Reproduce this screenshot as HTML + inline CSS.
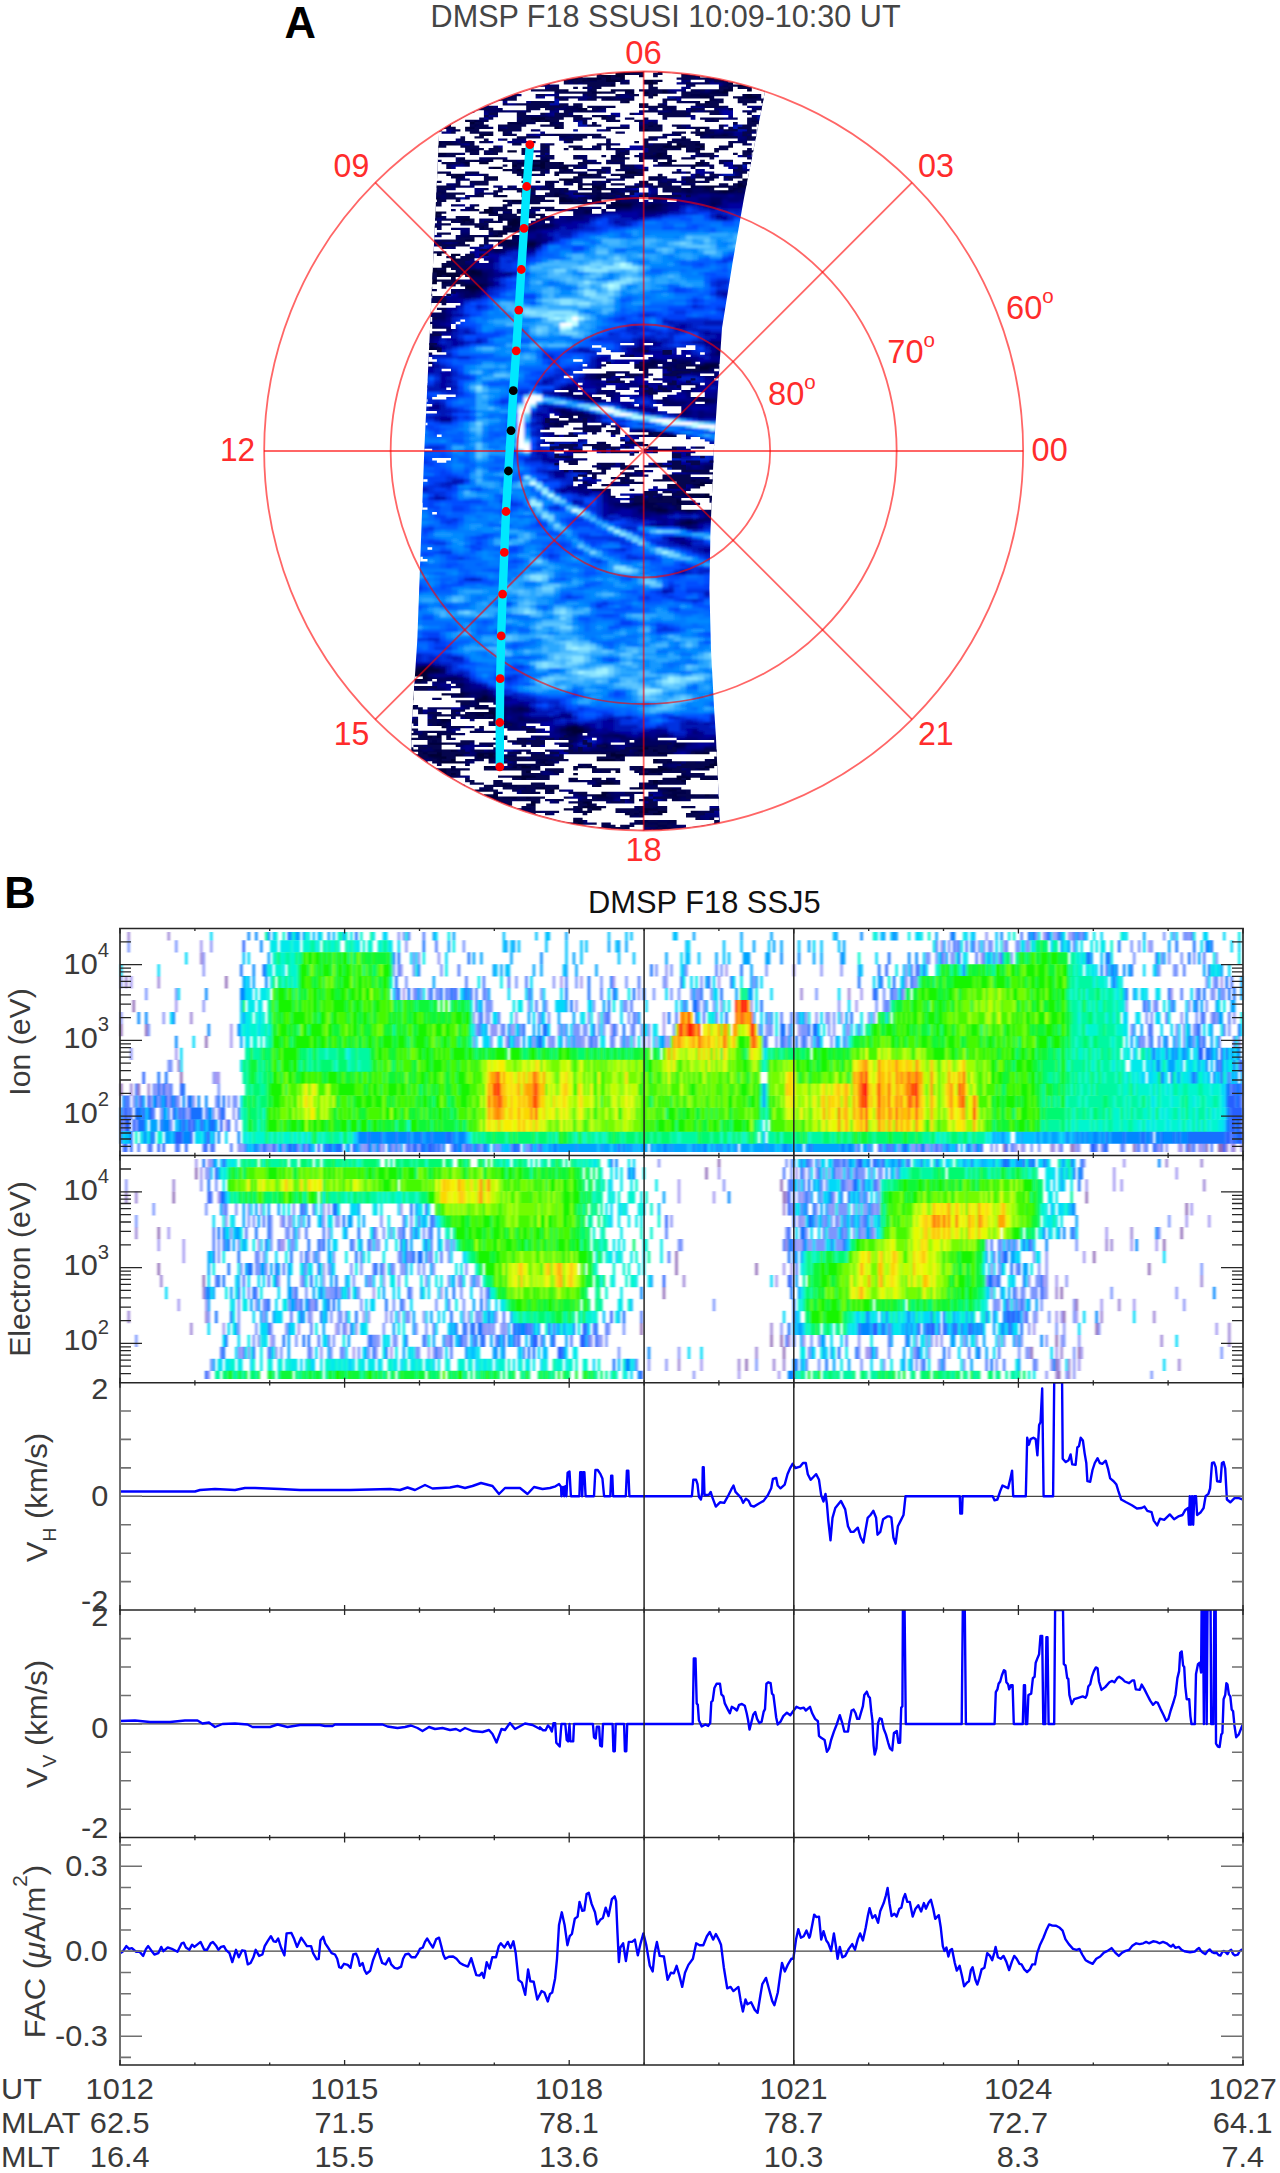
<!DOCTYPE html>
<html><head><meta charset="utf-8"><title>DMSP F18 SSUSI and SSJ5</title>
<style>html,body{margin:0;padding:0;background:#fff}svg{display:block}text{font-family:'Liberation Sans', sans-serif}</style>
</head><body>
<svg width="1280" height="2173" viewBox="0 0 1280 2173">
<rect width="1280" height="2173" fill="#fff"/>

<text x="284.4" y="38.4" font-size="43.5" fill="#000" font-weight="bold">A</text>
<text x="430.6" y="27.3" font-size="31.6" fill="#454545" textLength="470.0" lengthAdjust="spacingAndGlyphs">DMSP F18 SSUSI 10:09-10:30 UT</text>
<defs><clipPath id="swp"><path d="M440.5 60.0L440.5 100.0L437.0 180.0L424.3 450.0L417.3 640.0L412.0 720.0L410.0 800.0L409.0 840.0L721.0 840.0L719.6 818.0L716.0 738.0L714.0 707.0L711.0 650.0L709.4 588.0L710.5 530.0L714.0 447.0L722.0 328.0L733.0 260.0L744.0 198.0L765.5 89.0L772.0 60.0Z"/></clipPath><clipPath id="swc"><circle cx="643.65" cy="451.0" r="379.2"/></clipPath><filter id="swb" x="-5%" y="-5%" width="110%" height="110%"><feGaussianBlur stdDeviation="1.6 1.1"/></filter></defs>
<g clip-path="url(#swc)"><g clip-path="url(#swp)">
<g filter="url(#swb)"><g transform="translate(404.0 68.0) scale(6.0 3.0)" fill="none" stroke-width="1.12">
<path stroke="#000034" d="M31 0.5h9M41 0.5h3M28 1.5h12M42 1.5h2M50 1.5h2M26 2.5h12M39 2.5h5M49 2.5h5M26 3.5h11M40 3.5h4M53 3.5h2M29 4.5h1M33 4.5h3M40 4.5h3M55 4.5h2M34 5.5h2M40 5.5h2M54 5.5h4M27 6.5h1M33 6.5h2M42 6.5h1M55 6.5h6M27 7.5h2M31 7.5h4M36 7.5h2M41 7.5h3M52 7.5h3M57 7.5h4M16 8.5h1M32 8.5h3M38 8.5h6M53 8.5h1M57 8.5h3M15 9.5h3M40 9.5h3M49 9.5h2M57 9.5h2M50 10.5h1M53 10.5h3M57 10.5h1M34 11.5h1M37 11.5h4M49 11.5h6M60 11.5h1M11 12.5h2M29 12.5h2M37 12.5h7M50 12.5h2M11 13.5h2M29 13.5h4M38 13.5h1M50 15.5h2M21 16.5h3M29 16.5h5M8 17.5h4M21 17.5h6M57 17.5h1M9 18.5h4M17 18.5h3M23 18.5h1M48 18.5h1M58 18.5h1M8 19.5h3M25 19.5h2M40 19.5h3M49 19.5h1M9 20.5h3M15 20.5h1M25 20.5h1M40 20.5h2M49 20.5h2M10 21.5h1M14 21.5h3M39 21.5h4M47 21.5h3M10 22.5h5M26 22.5h1M36 22.5h6M53 22.5h1M59 22.5h1M10 23.5h4M36 23.5h2M51 23.5h2M5 24.5h1M29 24.5h2M5 25.5h1M7 25.5h1M28 25.5h4M43 25.5h1M45 25.5h7M5 26.5h5M19 26.5h1M28 26.5h2M43 26.5h9M54 26.5h2M5 27.5h7M16 27.5h5M28 27.5h1M43 27.5h1M49 27.5h3M54 27.5h3M5 28.5h3M11 28.5h1M17 28.5h3M36 28.5h1M42 28.5h1M50 28.5h2M55 28.5h2M32 29.5h1M36 29.5h2M41 29.5h2M9 30.5h2M15 30.5h1M45 30.5h1M10 31.5h8M20 31.5h6M43 31.5h7M11 32.5h16M35 32.5h1M48 32.5h1M11 33.5h5M17 33.5h8M26 33.5h2M12 34.5h10M37 34.5h2M5 35.5h1M7 35.5h3M14 35.5h7M25 35.5h1M29 35.5h3M37 35.5h3M57 35.5h1M8 36.5h1M15 36.5h3M26 36.5h5M38 36.5h3M56 36.5h2M16 37.5h4M26 37.5h2M51 37.5h2M56 37.5h2M4 38.5h2M14 38.5h1M29 38.5h1M34 38.5h1M40 38.5h2M55 38.5h2M4 39.5h1M28 39.5h7M46 39.5h2M50 39.5h2M54 39.5h3M29 40.5h5M51 40.5h4M18 41.5h2M53 41.5h1M14 42.5h1M16 42.5h5M24 42.5h2M4 43.5h2M13 43.5h9M26 43.5h1M32 43.5h1M4 44.5h2M16 44.5h6M25 44.5h4M4 45.5h2M16 45.5h1M19 45.5h4M26 45.5h3M35 45.5h3M12 46.5h3M19 46.5h2M4 47.5h2M11 47.5h4M4 48.5h4M11 48.5h5M18 48.5h2M4 49.5h2M10 49.5h1M15 49.5h1M18 49.5h2M22 49.5h1M10 50.5h2M18 50.5h1M10 51.5h1M17 51.5h3M14 52.5h5M12 53.5h3M16 53.5h2M15 55.5h2M14 56.5h4M10 57.5h3M15 57.5h2M9 58.5h3M20 58.5h2M6 61.5h3M5 62.5h5M5 63.5h5M5 64.5h2M5 65.5h1M5 66.5h3M4 67.5h4M11 67.5h1M4 68.5h5M11 68.5h2M4 69.5h6M4 70.5h3M4 71.5h3M4 72.5h1M10 72.5h3M10 73.5h3M3 85.5h1M3 86.5h2M3 93.5h3M3 94.5h2M46 99.5h6M33 100.5h6M48 100.5h3M33 101.5h2M33 102.5h1M47 106.5h1M27 117.5h1M40 121.5h1M40 122.5h1M44 122.5h1M40 125.5h2M42 137.5h3M48 137.5h1M48 138.5h4M49 139.5h3M49 140.5h3M47 141.5h5M47 142.5h5M43 143.5h2M50 143.5h1M45 144.5h2M38 145.5h1M46 145.5h1M50 145.5h1M46 146.5h2M50 146.5h2M42 147.5h2M47 147.5h1M47 151.5h1M2 200.5h4M1 201.5h3M1 202.5h3M2 203.5h2M2 204.5h1M1 207.5h2M1 208.5h3M5 208.5h5M1 209.5h2M6 209.5h1M13 209.5h1M1 210.5h3M12 210.5h2M1 211.5h1M0 212.5h1M4 212.5h2M0 213.5h2M11 213.5h1M0 214.5h1M14 214.5h1M12 215.5h4M6 216.5h1M13 216.5h2M6 217.5h2M5 219.5h2M28 219.5h1M5 220.5h2M27 220.5h3M0 221.5h1M28 221.5h2M0 222.5h1M4 222.5h2M16 222.5h3M0 223.5h2M4 223.5h3M16 223.5h3M4 225.5h5M0 226.5h1M5 226.5h3M39 226.5h2M7 227.5h1M39 227.5h3M0 228.5h2M3 228.5h6M12 228.5h3M34 228.5h3M40 228.5h4M48 228.5h3M4 229.5h6M12 229.5h3M17 229.5h2M33 229.5h4M39 229.5h7M48 229.5h4M6 230.5h4M31 230.5h4M38 230.5h8M6 231.5h4M23 231.5h1M31 231.5h5M37 231.5h5M51 231.5h2M13 232.5h1M19 232.5h2M23 232.5h1M31 232.5h6M38 232.5h2M41 232.5h2M49 232.5h4M6 233.5h2M10 233.5h2M13 233.5h2M18 233.5h4M25 233.5h6M33 233.5h3M40 233.5h4M49 233.5h3M5 234.5h3M19 234.5h3M25 234.5h6M34 234.5h2M41 234.5h4M51 234.5h1M7 235.5h2M17 235.5h4M28 235.5h3M34 235.5h3M40 235.5h2M45 235.5h1M18 236.5h5M28 236.5h5M40 236.5h3M45 236.5h3M19 237.5h2M28 237.5h1M33 237.5h1M41 237.5h3M45 237.5h6M18 238.5h4M33 238.5h2M36 238.5h2M41 238.5h2M49 238.5h3M16 239.5h1M19 239.5h7M33 239.5h7M23 240.5h3M32 240.5h3M39 240.5h1M44 240.5h2M10 241.5h5M23 241.5h2M31 241.5h3M48 241.5h3M11 242.5h5M17 242.5h2M32 242.5h2M45 242.5h1M49 242.5h2M12 243.5h3M18 243.5h3M13 244.5h2M20 244.5h2M30 244.5h1M14 245.5h3M21 245.5h1M25 245.5h6M15 246.5h3M20 246.5h2M24 246.5h4M29 246.5h4M40 246.5h1M45 246.5h3M17 247.5h1M25 247.5h2M30 247.5h4M40 247.5h4M46 247.5h3M31 248.5h5M37 248.5h2M40 248.5h5M20 249.5h2M26 249.5h1M28 249.5h1M31 249.5h5M46 249.5h1M21 250.5h1M28 250.5h1M34 250.5h2M45 250.5h2M23 251.5h7M48 251.5h3M26 252.5h4M35 252.5h1M49 252.5h3M27 253.5h3M49 253.5h3M32 254.5h2M44 254.5h1M49 254.5h1M40 255.5h1"/>
<path stroke="#000049" d="M40 0.5h1M44 0.5h4M40 1.5h2M44 1.5h4M49 1.5h1M25 2.5h1M38 2.5h1M44 2.5h5M37 3.5h1M39 3.5h1M44 3.5h2M49 3.5h4M55 3.5h1M22 4.5h1M28 4.5h1M30 4.5h3M54 4.5h1M33 5.5h1M42 5.5h1M20 6.5h1M26 6.5h1M32 6.5h1M35 6.5h3M41 6.5h1M48 6.5h2M53 6.5h2M25 7.5h2M35 7.5h1M38 7.5h3M51 7.5h1M17 8.5h1M26 8.5h3M31 8.5h1M35 8.5h1M37 8.5h1M44 8.5h1M47 8.5h6M54 8.5h1M56 8.5h1M60 8.5h1M18 9.5h1M27 9.5h1M33 9.5h2M39 9.5h1M46 9.5h3M51 9.5h1M54 9.5h3M15 10.5h1M19 10.5h1M32 10.5h3M37 10.5h5M49 10.5h1M51 10.5h1M56 10.5h1M58 10.5h1M28 11.5h2M33 11.5h1M35 11.5h2M41 11.5h1M46 11.5h3M55 11.5h5M28 12.5h1M31 12.5h1M34 12.5h3M44 12.5h1M49 12.5h1M52 12.5h3M13 13.5h1M27 13.5h2M33 13.5h3M37 13.5h1M39 13.5h1M42 13.5h5M29 14.5h2M50 14.5h2M32 15.5h1M20 16.5h1M24 16.5h5M51 16.5h1M7 17.5h1M12 17.5h1M17 17.5h1M20 17.5h1M27 17.5h1M32 17.5h4M38 17.5h1M51 17.5h1M56 17.5h1M58 17.5h1M7 18.5h2M13 18.5h1M16 18.5h1M20 18.5h1M22 18.5h1M24 18.5h1M34 18.5h2M42 18.5h1M47 18.5h1M49 18.5h1M57 18.5h1M59 18.5h1M7 19.5h1M11 19.5h1M19 19.5h2M22 19.5h3M27 19.5h1M39 19.5h1M48 19.5h1M50 19.5h1M58 19.5h2M8 20.5h1M12 20.5h1M16 20.5h1M19 20.5h2M24 20.5h1M26 20.5h1M39 20.5h1M42 20.5h1M48 20.5h1M9 21.5h1M11 21.5h3M25 21.5h2M35 21.5h1M43 21.5h4M50 21.5h1M59 21.5h1M9 22.5h1M15 22.5h3M25 22.5h1M35 22.5h1M42 22.5h1M48 22.5h2M51 22.5h2M58 22.5h1M9 23.5h1M14 23.5h1M18 23.5h2M28 23.5h1M35 23.5h1M38 23.5h2M45 23.5h2M53 23.5h1M58 23.5h2M6 24.5h2M11 24.5h1M28 24.5h1M31 24.5h2M43 24.5h1M46 24.5h1M51 24.5h1M6 25.5h1M8 25.5h1M32 25.5h1M44 25.5h1M52 25.5h1M54 25.5h3M13 26.5h1M18 26.5h1M20 26.5h1M27 26.5h1M30 26.5h1M33 26.5h1M52 26.5h2M56 26.5h1M12 27.5h4M24 27.5h2M27 27.5h1M29 27.5h1M42 27.5h1M44 27.5h1M46 27.5h3M52 27.5h2M57 27.5h2M10 28.5h1M16 28.5h1M31 28.5h2M35 28.5h1M37 28.5h1M43 28.5h1M49 28.5h1M54 28.5h1M57 28.5h1M5 29.5h2M10 29.5h2M31 29.5h1M33 29.5h3M38 29.5h1M40 29.5h1M43 29.5h2M50 29.5h1M11 30.5h1M14 30.5h1M16 30.5h1M21 30.5h5M37 30.5h2M42 30.5h3M46 30.5h4M9 31.5h1M18 31.5h2M26 31.5h1M42 31.5h1M5 32.5h2M10 32.5h1M27 32.5h1M34 32.5h1M36 32.5h1M43 32.5h3M49 32.5h1M51 32.5h2M16 33.5h1M25 33.5h1M47 33.5h2M5 34.5h2M11 34.5h1M25 34.5h2M36 34.5h1M56 34.5h2M6 35.5h1M21 35.5h1M26 35.5h3M36 35.5h1M40 35.5h1M42 35.5h1M56 35.5h1M5 36.5h1M7 36.5h1M9 36.5h1M14 36.5h1M18 36.5h2M24 36.5h2M31 36.5h1M37 36.5h1M41 36.5h3M50 36.5h2M4 37.5h2M13 37.5h3M20 37.5h1M23 37.5h3M28 37.5h1M38 37.5h4M50 37.5h1M55 37.5h1M13 38.5h1M19 38.5h1M23 38.5h2M28 38.5h1M30 38.5h1M33 38.5h1M35 38.5h1M42 38.5h2M49 38.5h3M54 38.5h1M57 38.5h1M5 39.5h1M13 39.5h1M24 39.5h1M48 39.5h2M52 39.5h2M57 39.5h1M16 40.5h1M18 40.5h3M24 40.5h2M28 40.5h1M34 40.5h1M46 40.5h2M50 40.5h1M55 40.5h1M5 41.5h3M16 41.5h2M20 41.5h1M25 41.5h1M31 41.5h5M47 41.5h1M52 41.5h1M54 41.5h1M12 42.5h2M15 42.5h1M21 42.5h1M26 42.5h1M32 42.5h2M42 42.5h1M12 43.5h1M22 43.5h1M25 43.5h1M27 43.5h1M31 43.5h1M33 43.5h2M6 44.5h3M12 44.5h1M15 44.5h1M22 44.5h1M24 44.5h1M29 44.5h7M7 45.5h2M12 45.5h4M17 45.5h2M25 45.5h1M29 45.5h1M34 45.5h1M41 45.5h2M51 45.5h1M4 46.5h1M11 46.5h1M15 46.5h2M18 46.5h1M21 46.5h1M29 46.5h1M34 46.5h4M40 46.5h2M6 47.5h2M19 47.5h1M30 47.5h3M8 48.5h3M16 48.5h1M22 48.5h2M30 48.5h1M6 49.5h4M11 49.5h4M16 49.5h1M21 49.5h1M9 50.5h1M15 50.5h3M19 50.5h1M22 50.5h2M9 51.5h1M11 51.5h1M16 51.5h1M8 52.5h2M13 52.5h1M19 52.5h1M23 52.5h2M5 53.5h1M15 53.5h1M18 53.5h1M20 53.5h2M15 54.5h4M11 55.5h1M17 55.5h2M4 56.5h1M10 56.5h4M18 56.5h1M4 57.5h1M13 57.5h2M17 57.5h1M12 58.5h1M16 58.5h4M9 59.5h2M17 59.5h1M20 59.5h2M9 60.5h1M15 60.5h1M4 61.5h2M9 61.5h1M4 62.5h1M4 63.5h1M4 64.5h1M7 64.5h2M4 65.5h1M6 65.5h2M4 66.5h1M8 66.5h1M8 67.5h1M10 67.5h1M12 67.5h1M9 68.5h2M10 69.5h3M7 70.5h2M7 71.5h2M5 72.5h1M9 72.5h1M13 72.5h1M4 73.5h1M4 74.5h4M11 74.5h1M4 75.5h1M4 78.5h1M5 80.5h1M3 83.5h1M3 84.5h1M3 87.5h2M3 88.5h1M3 89.5h1M3 90.5h1M4 92.5h1M41 97.5h1M40 98.5h3M46 98.5h1M50 98.5h3M34 99.5h1M37 99.5h5M45 99.5h1M52 99.5h2M39 100.5h2M47 100.5h1M53 100.5h1M37 101.5h1M45 101.5h1M32 102.5h1M40 102.5h1M32 103.5h1M47 105.5h1M41 108.5h2M32 109.5h1M49 110.5h2M50 111.5h1M26 114.5h1M27 115.5h3M28 116.5h1M26 117.5h1M28 117.5h1M25 118.5h1M32 118.5h1M25 119.5h1M32 119.5h2M39 121.5h1M41 121.5h1M39 122.5h1M41 122.5h1M43 122.5h1M45 122.5h1M43 123.5h3M33 124.5h1M32 125.5h2M40 126.5h2M29 132.5h2M32 133.5h2M51 133.5h1M32 134.5h2M33 135.5h1M36 135.5h2M34 136.5h6M42 136.5h2M38 137.5h2M47 137.5h1M49 137.5h1M38 138.5h2M43 138.5h1M33 139.5h1M48 140.5h1M46 141.5h1M43 142.5h1M41 143.5h2M45 143.5h1M49 143.5h1M51 143.5h1M39 144.5h3M44 144.5h1M36 145.5h2M39 145.5h3M45 145.5h1M47 145.5h1M49 145.5h1M51 145.5h1M40 146.5h3M48 146.5h2M41 147.5h1M46 147.5h1M48 147.5h1M51 147.5h1M51 148.5h1M46 151.5h1M48 151.5h1M3 199.5h2M4 201.5h2M1 203.5h1M4 203.5h1M7 203.5h2M3 204.5h1M9 205.5h1M5 207.5h1M4 208.5h1M10 208.5h1M3 209.5h1M5 209.5h1M7 209.5h1M9 209.5h1M7 210.5h3M14 210.5h1M2 211.5h3M7 211.5h4M12 211.5h2M1 212.5h3M6 212.5h1M12 212.5h3M12 213.5h4M19 213.5h1M1 214.5h1M10 214.5h4M15 214.5h1M0 215.5h1M5 215.5h2M11 215.5h1M5 216.5h1M7 216.5h1M12 216.5h1M15 216.5h1M13 217.5h1M5 218.5h2M15 218.5h3M4 219.5h1M15 219.5h1M27 219.5h1M4 220.5h1M15 220.5h2M26 220.5h1M4 221.5h2M14 221.5h2M27 221.5h1M1 222.5h1M3 222.5h1M6 222.5h3M14 222.5h2M27 222.5h2M35 222.5h1M2 223.5h2M7 223.5h1M15 223.5h1M19 223.5h1M4 224.5h3M12 224.5h2M27 224.5h1M0 225.5h1M3 225.5h1M9 225.5h1M12 225.5h4M33 225.5h1M45 225.5h2M1 226.5h1M8 226.5h1M27 226.5h1M33 226.5h1M38 226.5h1M41 226.5h3M45 226.5h1M0 227.5h3M5 227.5h2M8 227.5h1M42 227.5h1M50 227.5h1M2 228.5h1M9 228.5h1M15 228.5h1M31 228.5h3M39 228.5h1M44 228.5h1M51 228.5h1M15 229.5h2M19 229.5h1M31 229.5h2M38 229.5h1M47 229.5h1M52 229.5h1M5 230.5h1M11 230.5h4M22 230.5h2M30 230.5h1M35 230.5h3M46 230.5h3M51 230.5h2M4 231.5h2M22 231.5h1M24 231.5h1M30 231.5h1M36 231.5h1M42 231.5h3M50 231.5h1M6 232.5h3M10 232.5h3M14 232.5h1M18 232.5h1M21 232.5h2M24 232.5h1M28 232.5h3M37 232.5h1M40 232.5h1M48 232.5h1M8 233.5h2M12 233.5h1M15 233.5h1M22 233.5h3M31 233.5h2M38 233.5h2M44 233.5h1M48 233.5h1M52 233.5h1M4 234.5h1M8 234.5h4M14 234.5h1M17 234.5h2M31 234.5h1M33 234.5h1M36 234.5h5M45 234.5h1M50 234.5h1M52 234.5h1M5 235.5h2M9 235.5h1M13 235.5h4M21 235.5h1M27 235.5h1M31 235.5h1M33 235.5h1M37 235.5h1M39 235.5h1M42 235.5h1M44 235.5h1M46 235.5h1M50 235.5h3M7 236.5h1M13 236.5h3M23 236.5h1M27 236.5h1M33 236.5h1M39 236.5h1M44 236.5h1M48 236.5h4M14 237.5h2M21 237.5h1M27 237.5h1M29 237.5h1M32 237.5h1M34 237.5h1M40 237.5h1M44 237.5h1M51 237.5h1M7 238.5h1M15 238.5h3M22 238.5h4M32 238.5h1M35 238.5h1M38 238.5h1M40 238.5h1M43 238.5h1M46 238.5h3M8 239.5h1M15 239.5h1M17 239.5h2M32 239.5h1M50 239.5h2M12 240.5h3M22 240.5h1M29 240.5h3M35 240.5h2M38 240.5h1M40 240.5h1M43 240.5h1M46 240.5h1M15 241.5h1M21 241.5h2M25 241.5h1M29 241.5h2M39 241.5h1M44 241.5h4M51 241.5h1M16 242.5h1M19 242.5h6M31 242.5h1M44 242.5h1M46 242.5h3M51 242.5h1M15 243.5h3M21 243.5h4M32 243.5h3M38 243.5h1M44 243.5h2M15 244.5h1M22 244.5h1M29 244.5h1M31 244.5h1M38 244.5h1M44 244.5h2M17 245.5h1M20 245.5h1M22 245.5h1M31 245.5h1M43 245.5h1M46 245.5h1M18 246.5h2M22 246.5h1M28 246.5h1M33 246.5h1M39 246.5h1M41 246.5h2M48 246.5h1M24 247.5h1M27 247.5h1M29 247.5h1M34 247.5h2M39 247.5h1M44 247.5h2M18 248.5h4M26 248.5h5M36 248.5h1M39 248.5h1M45 248.5h4M22 249.5h4M27 249.5h1M29 249.5h2M36 249.5h2M41 249.5h2M45 249.5h1M22 250.5h6M29 250.5h1M32 250.5h2M36 250.5h1M40 250.5h2M44 250.5h1M32 251.5h2M39 251.5h9M51 251.5h1M25 252.5h1M30 252.5h1M33 252.5h2M36 252.5h4M42 252.5h2M48 252.5h1M52 252.5h1M32 253.5h6M42 253.5h3M52 253.5h1M30 254.5h2M34 254.5h4M42 254.5h2M39 255.5h1M41 255.5h1"/>
<path stroke="#00005f" d="M48 0.5h1M48 1.5h1M23 3.5h1M25 3.5h1M38 3.5h1M46 3.5h1M23 4.5h1M26 4.5h2M36 4.5h1M39 4.5h1M43 4.5h1M48 4.5h3M53 4.5h1M57 4.5h1M21 5.5h7M36 5.5h1M39 5.5h1M43 5.5h1M47 5.5h3M53 5.5h1M58 5.5h2M19 6.5h1M21 6.5h1M25 6.5h1M28 6.5h1M40 6.5h1M43 6.5h1M50 6.5h1M52 6.5h1M17 7.5h3M24 7.5h1M29 7.5h2M47 7.5h3M55 7.5h2M18 8.5h1M25 8.5h1M29 8.5h2M36 8.5h1M45 8.5h2M55 8.5h1M19 9.5h1M26 9.5h1M28 9.5h1M31 9.5h2M38 9.5h1M43 9.5h1M52 9.5h2M59 9.5h1M14 10.5h1M16 10.5h1M18 10.5h1M20 10.5h1M28 10.5h1M31 10.5h1M35 10.5h2M42 10.5h1M47 10.5h2M52 10.5h1M59 10.5h2M19 11.5h1M30 11.5h3M42 11.5h1M19 12.5h1M27 12.5h1M32 12.5h2M45 12.5h2M48 12.5h1M55 12.5h1M14 13.5h6M24 13.5h3M36 13.5h1M40 13.5h2M51 13.5h1M14 14.5h3M18 14.5h2M23 14.5h1M26 14.5h3M31 14.5h1M44 14.5h3M58 14.5h1M15 15.5h6M28 15.5h2M31 15.5h1M33 15.5h1M42 15.5h8M52 15.5h1M8 16.5h3M16 16.5h2M19 16.5h1M37 16.5h2M45 16.5h2M50 16.5h1M52 16.5h1M55 16.5h3M13 17.5h1M18 17.5h2M28 17.5h1M31 17.5h1M36 17.5h2M39 17.5h1M50 17.5h1M52 17.5h2M55 17.5h1M59 17.5h1M6 18.5h1M14 18.5h1M21 18.5h1M25 18.5h3M33 18.5h1M36 18.5h3M41 18.5h1M46 18.5h1M50 18.5h3M5 19.5h2M12 19.5h4M18 19.5h1M21 19.5h1M33 19.5h3M45 19.5h1M51 19.5h1M13 20.5h2M18 20.5h1M21 20.5h3M27 20.5h1M34 20.5h2M51 20.5h1M59 20.5h1M5 21.5h1M17 21.5h1M19 21.5h3M24 21.5h1M34 21.5h1M36 21.5h3M53 21.5h2M8 22.5h1M18 22.5h2M24 22.5h1M27 22.5h1M43 22.5h1M45 22.5h3M50 22.5h1M54 22.5h1M57 22.5h1M15 23.5h1M17 23.5h1M20 23.5h1M26 23.5h2M29 23.5h1M33 23.5h2M40 23.5h1M43 23.5h2M47 23.5h4M54 23.5h1M57 23.5h1M8 24.5h1M10 24.5h1M12 24.5h1M27 24.5h1M33 24.5h3M39 24.5h2M42 24.5h1M44 24.5h2M47 24.5h4M52 24.5h1M54 24.5h4M59 24.5h1M13 25.5h1M18 25.5h2M23 25.5h2M27 25.5h1M33 25.5h2M42 25.5h1M53 25.5h1M57 25.5h1M10 26.5h3M14 26.5h1M17 26.5h1M23 26.5h2M26 26.5h1M31 26.5h2M34 26.5h1M42 26.5h1M57 26.5h2M21 27.5h1M26 27.5h1M30 27.5h3M45 27.5h1M8 28.5h1M12 28.5h1M15 28.5h1M20 28.5h1M28 28.5h2M33 28.5h2M38 28.5h1M41 28.5h1M44 28.5h1M47 28.5h2M52 28.5h2M58 28.5h1M7 29.5h1M9 29.5h1M12 29.5h1M14 29.5h2M21 29.5h3M27 29.5h4M39 29.5h1M45 29.5h1M49 29.5h1M5 30.5h2M8 30.5h1M12 30.5h2M20 30.5h1M26 30.5h4M34 30.5h3M39 30.5h1M41 30.5h1M50 30.5h1M5 31.5h2M27 31.5h1M29 31.5h8M38 31.5h2M50 31.5h1M7 32.5h1M28 32.5h4M42 32.5h1M46 32.5h2M50 32.5h1M6 33.5h1M28 33.5h1M33 33.5h6M43 33.5h1M46 33.5h1M7 34.5h1M10 34.5h1M22 34.5h1M24 34.5h1M27 34.5h5M39 34.5h1M41 34.5h2M55 34.5h1M58 34.5h1M10 35.5h1M13 35.5h1M22 35.5h1M24 35.5h1M41 35.5h1M43 35.5h2M51 35.5h1M6 36.5h1M13 36.5h1M20 36.5h1M23 36.5h1M36 36.5h1M44 36.5h1M49 36.5h1M52 36.5h1M6 37.5h7M22 37.5h1M29 37.5h3M34 37.5h4M42 37.5h1M53 37.5h1M6 38.5h1M12 38.5h1M15 38.5h1M18 38.5h1M20 38.5h3M25 38.5h3M31 38.5h2M36 38.5h4M44 38.5h5M52 38.5h2M6 39.5h7M14 39.5h1M23 39.5h1M25 39.5h3M35 39.5h1M41 39.5h1M44 39.5h2M4 40.5h4M15 40.5h1M17 40.5h1M23 40.5h1M26 40.5h1M35 40.5h2M45 40.5h1M48 40.5h2M56 40.5h1M4 41.5h1M8 41.5h3M15 41.5h1M24 41.5h1M26 41.5h1M30 41.5h1M46 41.5h1M48 41.5h4M55 41.5h2M4 42.5h4M11 42.5h1M22 42.5h2M31 42.5h1M41 42.5h1M6 43.5h2M11 43.5h1M23 43.5h2M28 43.5h1M35 43.5h1M41 43.5h2M51 43.5h2M13 44.5h2M23 44.5h1M36 44.5h3M51 44.5h2M6 45.5h1M23 45.5h2M30 45.5h1M33 45.5h1M38 45.5h1M40 45.5h1M43 45.5h1M52 45.5h1M5 46.5h1M17 46.5h1M25 46.5h4M30 46.5h1M33 46.5h1M42 46.5h1M8 47.5h3M18 47.5h1M20 47.5h1M24 47.5h2M28 47.5h2M33 47.5h3M40 47.5h3M17 48.5h1M20 48.5h2M24 48.5h1M27 48.5h3M31 48.5h1M17 49.5h1M20 49.5h1M23 49.5h1M4 50.5h1M12 50.5h1M14 50.5h1M21 50.5h1M24 50.5h1M4 51.5h1M8 51.5h1M12 51.5h1M15 51.5h1M20 51.5h1M4 52.5h4M10 52.5h3M20 52.5h3M6 53.5h3M11 53.5h1M19 53.5h1M22 53.5h2M7 54.5h2M11 54.5h1M19 54.5h2M7 55.5h4M12 55.5h1M14 55.5h1M19 55.5h1M8 56.5h2M5 57.5h2M9 57.5h1M18 57.5h4M5 58.5h2M8 58.5h1M13 58.5h1M15 58.5h1M22 58.5h1M16 59.5h1M18 59.5h2M4 60.5h5M10 60.5h1M14 60.5h1M16 60.5h1M15 61.5h1M10 62.5h1M10 63.5h1M9 64.5h1M8 65.5h3M9 66.5h2M9 67.5h1M13 68.5h1M13 69.5h1M9 70.5h1M11 70.5h3M9 71.5h5M6 72.5h3M5 73.5h3M9 73.5h1M8 74.5h3M12 74.5h1M5 75.5h1M10 75.5h2M4 76.5h3M10 76.5h1M4 77.5h2M5 78.5h2M5 79.5h1M4 80.5h1M4 81.5h3M3 82.5h4M4 83.5h3M4 85.5h1M5 86.5h2M5 87.5h3M4 88.5h2M4 89.5h1M3 91.5h1M51 91.5h2M3 92.5h1M39 93.5h1M5 94.5h1M39 94.5h1M52 94.5h1M52 95.5h1M42 97.5h1M45 97.5h3M3 98.5h1M43 98.5h3M47 98.5h1M53 98.5h1M3 99.5h1M33 99.5h1M35 99.5h2M44 99.5h1M32 100.5h1M41 100.5h1M45 100.5h2M51 100.5h2M32 101.5h1M35 101.5h2M38 101.5h4M44 101.5h1M46 101.5h1M48 101.5h3M31 102.5h1M34 102.5h1M39 102.5h1M41 102.5h1M44 102.5h2M50 102.5h2M31 103.5h1M33 103.5h1M46 105.5h1M48 105.5h1M46 106.5h1M48 106.5h1M27 107.5h1M33 107.5h4M41 107.5h1M47 107.5h1M27 108.5h2M32 108.5h2M40 108.5h1M43 108.5h1M28 109.5h4M33 109.5h2M42 109.5h2M48 109.5h2M30 110.5h4M42 110.5h2M48 110.5h1M51 110.5h1M43 111.5h4M49 111.5h1M51 111.5h1M44 112.5h2M27 114.5h1M46 114.5h1M26 115.5h1M30 115.5h1M46 115.5h1M52 115.5h1M27 116.5h1M29 116.5h2M25 117.5h1M24 118.5h1M26 118.5h2M24 119.5h1M26 119.5h1M34 119.5h1M25 120.5h3M25 121.5h2M38 121.5h1M42 122.5h1M42 123.5h1M46 123.5h1M32 124.5h1M34 124.5h1M40 124.5h4M45 124.5h2M34 125.5h1M39 125.5h1M42 125.5h1M29 129.5h6M28 130.5h1M31 130.5h1M28 131.5h1M37 131.5h2M28 132.5h1M31 132.5h1M50 132.5h2M30 133.5h2M34 133.5h1M40 133.5h2M47 133.5h1M50 133.5h1M52 133.5h1M34 134.5h3M50 134.5h2M32 135.5h1M34 135.5h2M38 135.5h1M40 135.5h1M43 135.5h2M49 135.5h1M33 136.5h1M44 136.5h1M35 137.5h1M37 137.5h1M45 137.5h1M50 137.5h2M37 138.5h1M40 138.5h3M44 138.5h1M47 138.5h1M32 139.5h1M34 139.5h1M48 139.5h1M33 140.5h2M47 140.5h1M34 141.5h1M43 141.5h3M34 142.5h2M42 142.5h1M44 142.5h1M46 142.5h1M40 143.5h1M46 143.5h1M48 143.5h1M38 144.5h1M42 144.5h2M47 144.5h1M50 144.5h2M35 145.5h1M42 145.5h3M48 145.5h1M37 146.5h1M43 146.5h1M45 146.5h1M39 147.5h2M44 147.5h2M50 147.5h1M42 148.5h2M50 148.5h1M51 149.5h1M47 150.5h1M49 150.5h2M46 152.5h2M2 199.5h1M1 200.5h1M6 200.5h1M6 201.5h1M5 203.5h2M9 203.5h1M1 204.5h1M4 204.5h3M2 205.5h1M8 205.5h1M9 206.5h1M3 207.5h1M6 207.5h1M9 207.5h1M13 207.5h1M11 208.5h3M4 209.5h1M8 209.5h1M10 209.5h1M12 209.5h1M14 209.5h1M4 210.5h1M6 210.5h1M10 210.5h2M15 210.5h1M5 211.5h2M11 211.5h1M14 211.5h1M7 212.5h5M15 212.5h1M2 213.5h1M4 213.5h2M10 213.5h1M16 213.5h3M20 213.5h1M16 214.5h1M18 214.5h3M1 215.5h4M7 215.5h4M16 215.5h1M2 216.5h1M8 216.5h1M16 216.5h1M19 216.5h1M5 217.5h1M8 217.5h1M12 217.5h1M14 217.5h3M19 217.5h3M1 218.5h1M7 218.5h1M13 218.5h2M18 218.5h1M7 219.5h1M11 219.5h4M16 219.5h3M29 219.5h1M0 220.5h4M7 220.5h1M11 220.5h1M17 220.5h5M30 220.5h1M1 221.5h1M3 221.5h1M6 221.5h6M13 221.5h1M16 221.5h1M26 221.5h1M30 221.5h1M2 222.5h1M9 222.5h1M13 222.5h1M19 222.5h1M21 222.5h2M33 222.5h2M36 222.5h1M43 222.5h1M8 223.5h1M12 223.5h3M20 223.5h1M22 223.5h2M26 223.5h3M36 223.5h2M39 223.5h2M42 223.5h1M0 224.5h4M7 224.5h1M14 224.5h4M26 224.5h1M28 224.5h1M37 224.5h7M45 224.5h3M1 225.5h2M16 225.5h1M19 225.5h2M26 225.5h2M34 225.5h1M37 225.5h8M2 226.5h1M4 226.5h1M14 226.5h2M26 226.5h1M32 226.5h1M34 226.5h1M44 226.5h1M46 226.5h1M50 226.5h3M3 227.5h2M11 227.5h2M14 227.5h1M19 227.5h4M28 227.5h1M31 227.5h5M38 227.5h1M43 227.5h2M48 227.5h2M51 227.5h1M19 228.5h3M30 228.5h1M37 228.5h2M3 229.5h1M10 229.5h2M20 229.5h5M29 229.5h2M37 229.5h1M46 229.5h1M4 230.5h1M10 230.5h1M15 230.5h1M18 230.5h1M24 230.5h1M29 230.5h1M49 230.5h2M2 231.5h2M10 231.5h1M13 231.5h2M18 231.5h2M21 231.5h1M45 231.5h1M48 231.5h2M3 232.5h3M9 232.5h1M25 232.5h3M43 232.5h1M5 233.5h1M16 233.5h2M36 233.5h1M45 233.5h1M47 233.5h1M12 234.5h2M15 234.5h2M22 234.5h1M24 234.5h1M32 234.5h1M46 234.5h2M49 234.5h1M10 235.5h1M22 235.5h1M25 235.5h2M32 235.5h1M38 235.5h1M43 235.5h1M47 235.5h1M49 235.5h1M6 236.5h1M8 236.5h1M12 236.5h1M16 236.5h2M24 236.5h2M34 236.5h5M43 236.5h1M52 236.5h1M7 237.5h1M13 237.5h1M16 237.5h3M22 237.5h1M25 237.5h2M30 237.5h2M35 237.5h3M52 237.5h1M14 238.5h1M26 238.5h1M28 238.5h1M39 238.5h1M45 238.5h1M52 238.5h1M9 239.5h1M29 239.5h3M40 239.5h4M46 239.5h4M52 239.5h1M9 240.5h1M11 240.5h1M15 240.5h4M20 240.5h2M28 240.5h1M37 240.5h1M41 240.5h2M47 240.5h5M20 241.5h1M28 241.5h1M34 241.5h1M38 241.5h1M40 241.5h1M43 241.5h1M25 242.5h1M29 242.5h2M34 242.5h5M43 242.5h1M52 242.5h1M25 243.5h1M31 243.5h1M37 243.5h1M39 243.5h1M43 243.5h1M46 243.5h7M16 244.5h1M19 244.5h1M23 244.5h1M28 244.5h1M32 244.5h3M39 244.5h1M43 244.5h1M46 244.5h2M51 244.5h2M23 245.5h2M32 245.5h2M38 245.5h2M42 245.5h1M44 245.5h2M47 245.5h1M51 245.5h2M23 246.5h1M34 246.5h5M43 246.5h2M18 247.5h6M28 247.5h1M36 247.5h3M49 247.5h1M22 248.5h1M25 248.5h1M49 248.5h1M38 249.5h3M43 249.5h2M47 249.5h2M30 250.5h2M37 250.5h1M42 250.5h2M47 250.5h3M31 251.5h1M34 251.5h5M52 251.5h1M31 252.5h2M40 252.5h2M44 252.5h2M53 252.5h1M30 253.5h1M38 253.5h1M41 253.5h1M45 253.5h4M38 254.5h4M45 254.5h1M48 254.5h1M33 255.5h3M42 255.5h3"/>
<path stroke="#000074" d="M24 3.5h1M47 3.5h2M37 4.5h2M46 4.5h2M51 4.5h2M20 5.5h1M28 5.5h3M32 5.5h1M37 5.5h2M46 5.5h1M50 5.5h1M22 6.5h3M29 6.5h3M38 6.5h2M47 6.5h1M51 6.5h1M20 7.5h2M23 7.5h1M44 7.5h1M46 7.5h1M50 7.5h1M22 8.5h3M29 9.5h2M35 9.5h3M44 9.5h2M17 10.5h1M21 10.5h3M27 10.5h1M29 10.5h2M46 10.5h1M12 11.5h1M18 11.5h1M20 11.5h1M27 11.5h1M45 11.5h1M13 12.5h1M15 12.5h4M20 12.5h1M26 12.5h1M47 12.5h1M56 12.5h5M10 13.5h1M20 13.5h1M23 13.5h1M47 13.5h1M50 13.5h1M52 13.5h2M57 13.5h2M11 14.5h3M17 14.5h1M20 14.5h1M22 14.5h1M24 14.5h2M32 14.5h1M36 14.5h8M47 14.5h3M52 14.5h1M57 14.5h1M59 14.5h2M14 15.5h1M21 15.5h3M27 15.5h1M30 15.5h1M37 15.5h1M40 15.5h2M57 15.5h2M11 16.5h1M15 16.5h1M18 16.5h1M34 16.5h3M39 16.5h2M44 16.5h1M47 16.5h1M49 16.5h1M54 16.5h1M58 16.5h1M16 17.5h1M29 17.5h2M41 17.5h1M45 17.5h2M49 17.5h1M54 17.5h1M15 18.5h1M32 18.5h1M39 18.5h2M43 18.5h1M45 18.5h1M53 18.5h1M56 18.5h1M16 19.5h2M28 19.5h1M32 19.5h1M38 19.5h1M43 19.5h2M46 19.5h2M57 19.5h1M5 20.5h3M17 20.5h1M28 20.5h1M33 20.5h1M43 20.5h5M58 20.5h1M6 21.5h1M8 21.5h1M18 21.5h1M27 21.5h1M32 21.5h2M51 21.5h2M57 21.5h2M5 22.5h3M20 22.5h1M34 22.5h1M44 22.5h1M56 22.5h1M5 23.5h4M16 23.5h1M25 23.5h1M32 23.5h1M41 23.5h2M55 23.5h2M9 24.5h1M13 24.5h1M18 24.5h2M36 24.5h1M38 24.5h1M41 24.5h1M53 24.5h1M58 24.5h1M9 25.5h1M12 25.5h1M14 25.5h1M20 25.5h1M22 25.5h1M35 25.5h1M40 25.5h2M58 25.5h1M15 26.5h1M21 26.5h2M25 26.5h1M35 26.5h2M41 26.5h1M23 27.5h1M33 27.5h4M41 27.5h1M9 28.5h1M13 28.5h2M21 28.5h1M24 28.5h1M27 28.5h1M30 28.5h1M39 28.5h2M45 28.5h2M8 29.5h1M13 29.5h1M16 29.5h3M20 29.5h1M24 29.5h1M26 29.5h1M46 29.5h1M48 29.5h1M51 29.5h1M7 30.5h1M17 30.5h3M30 30.5h4M40 30.5h1M7 31.5h2M28 31.5h1M37 31.5h1M51 31.5h2M32 32.5h2M37 32.5h1M41 32.5h1M53 32.5h1M5 33.5h1M7 33.5h1M10 33.5h1M29 33.5h4M42 33.5h1M44 33.5h2M49 33.5h1M51 33.5h2M58 33.5h1M8 34.5h2M23 34.5h1M32 34.5h4M40 34.5h1M43 34.5h2M51 34.5h1M11 35.5h2M23 35.5h1M32 35.5h1M35 35.5h1M45 35.5h1M50 35.5h1M55 35.5h1M10 36.5h1M12 36.5h1M21 36.5h2M35 36.5h1M45 36.5h2M48 36.5h1M55 36.5h1M21 37.5h1M32 37.5h2M43 37.5h3M49 37.5h1M54 37.5h1M7 38.5h5M16 38.5h2M15 39.5h1M18 39.5h3M36 39.5h1M40 39.5h1M42 39.5h2M8 40.5h3M12 40.5h3M21 40.5h1M27 40.5h1M37 40.5h1M43 40.5h2M57 40.5h1M11 41.5h4M21 41.5h1M23 41.5h1M36 41.5h1M42 41.5h3M57 41.5h1M8 42.5h1M10 42.5h1M27 42.5h1M30 42.5h1M34 42.5h2M43 42.5h1M47 42.5h2M51 42.5h3M55 42.5h2M30 43.5h1M36 43.5h5M43 43.5h2M49 43.5h2M53 43.5h4M9 44.5h1M11 44.5h1M39 44.5h1M41 44.5h2M49 44.5h2M54 44.5h2M9 45.5h1M11 45.5h1M32 45.5h1M39 45.5h1M44 45.5h1M50 45.5h1M6 46.5h3M10 46.5h1M22 46.5h1M24 46.5h1M31 46.5h2M38 46.5h2M43 46.5h1M51 46.5h1M15 47.5h1M17 47.5h1M21 47.5h1M23 47.5h1M26 47.5h2M36 47.5h2M43 47.5h1M25 48.5h2M32 48.5h1M40 48.5h2M24 49.5h1M27 49.5h3M52 49.5h1M5 50.5h1M8 50.5h1M13 50.5h1M20 50.5h1M27 50.5h3M5 51.5h3M13 51.5h2M21 51.5h4M25 52.5h1M4 53.5h1M9 53.5h2M24 53.5h1M5 54.5h2M9 54.5h2M12 54.5h3M21 54.5h1M6 55.5h1M13 55.5h1M22 55.5h1M5 56.5h3M19 56.5h1M22 56.5h1M7 57.5h2M22 57.5h2M4 58.5h1M7 58.5h1M14 58.5h1M5 59.5h2M8 59.5h1M11 59.5h1M15 59.5h1M17 60.5h1M20 60.5h2M10 61.5h1M14 61.5h1M16 61.5h1M11 63.5h1M10 64.5h2M14 64.5h1M11 65.5h1M11 66.5h1M13 67.5h2M14 68.5h1M17 68.5h1M14 69.5h1M10 70.5h1M14 71.5h1M14 72.5h1M8 73.5h1M13 73.5h1M9 75.5h1M12 75.5h1M9 76.5h1M11 76.5h1M6 77.5h1M7 78.5h2M4 79.5h1M6 79.5h1M6 80.5h1M3 81.5h1M7 82.5h1M4 84.5h3M5 85.5h1M7 86.5h1M5 89.5h1M4 90.5h1M4 91.5h1M41 91.5h1M50 91.5h1M53 91.5h1M5 92.5h1M53 92.5h1M38 93.5h1M52 93.5h2M38 94.5h1M40 94.5h1M3 95.5h1M51 95.5h1M3 96.5h1M36 96.5h2M40 97.5h1M43 97.5h2M48 97.5h1M39 98.5h1M48 98.5h2M42 99.5h2M44 100.5h1M31 101.5h1M47 101.5h1M51 101.5h1M53 101.5h1M30 102.5h1M38 102.5h1M52 102.5h1M30 103.5h1M34 103.5h1M37 103.5h1M51 103.5h1M37 104.5h1M41 104.5h4M32 105.5h1M37 105.5h2M44 105.5h1M27 106.5h2M44 106.5h1M26 107.5h1M28 107.5h1M32 107.5h1M37 107.5h1M40 107.5h1M42 107.5h5M26 108.5h1M29 108.5h1M34 108.5h4M39 108.5h1M47 108.5h2M52 108.5h1M27 109.5h1M47 109.5h1M52 109.5h1M29 110.5h1M34 110.5h1M44 110.5h1M52 110.5h1M47 111.5h2M43 112.5h1M46 112.5h1M25 113.5h2M38 113.5h2M45 113.5h2M52 113.5h1M25 114.5h1M28 114.5h2M41 114.5h1M45 114.5h1M47 114.5h1M49 114.5h1M52 114.5h1M45 115.5h1M47 115.5h1M49 115.5h3M26 116.5h1M31 116.5h1M49 116.5h1M52 116.5h1M24 117.5h1M29 117.5h1M31 117.5h1M23 118.5h1M28 118.5h1M31 118.5h1M33 118.5h1M27 119.5h2M31 119.5h1M35 119.5h1M24 120.5h1M28 120.5h1M31 120.5h4M39 120.5h1M24 121.5h1M27 121.5h1M37 121.5h1M42 121.5h1M38 122.5h1M29 123.5h1M39 124.5h1M44 124.5h1M35 125.5h4M45 125.5h2M36 126.5h1M39 126.5h1M45 126.5h4M40 127.5h1M44 127.5h1M49 127.5h3M30 128.5h1M28 129.5h1M35 129.5h1M27 130.5h1M29 130.5h2M32 130.5h1M38 130.5h1M29 131.5h4M36 131.5h1M39 131.5h1M51 131.5h2M27 132.5h1M32 132.5h3M46 132.5h2M49 132.5h1M52 132.5h1M27 133.5h3M35 133.5h1M42 133.5h1M46 133.5h1M48 133.5h2M37 134.5h1M40 134.5h1M47 134.5h3M39 135.5h1M41 135.5h2M45 135.5h1M47 135.5h2M50 135.5h2M32 136.5h1M40 136.5h2M45 136.5h7M34 137.5h1M36 137.5h1M40 137.5h2M46 137.5h1M30 138.5h3M34 138.5h3M45 138.5h2M28 139.5h4M35 139.5h1M39 139.5h2M29 140.5h1M31 140.5h2M30 141.5h1M33 141.5h1M42 141.5h1M45 142.5h1M34 143.5h1M39 143.5h1M47 143.5h1M34 144.5h2M48 144.5h2M34 145.5h1M35 146.5h2M38 146.5h2M44 146.5h1M49 147.5h1M39 148.5h3M44 148.5h1M47 148.5h1M40 149.5h1M50 149.5h1M46 150.5h1M48 150.5h1M51 150.5h1M45 151.5h1M49 151.5h1M42 152.5h1M45 152.5h1M48 152.5h1M47 153.5h2M46 158.5h1M5 199.5h1M4 202.5h1M7 204.5h3M1 205.5h1M3 205.5h1M5 205.5h1M10 205.5h1M2 206.5h2M5 206.5h2M8 206.5h1M10 206.5h1M4 207.5h1M10 207.5h3M14 208.5h1M11 209.5h1M5 210.5h1M16 210.5h1M15 211.5h1M16 212.5h1M18 212.5h2M3 213.5h1M6 213.5h1M4 214.5h2M9 214.5h1M17 214.5h1M17 215.5h3M0 216.5h2M3 216.5h2M9 216.5h3M18 216.5h1M20 216.5h1M9 217.5h1M11 217.5h1M17 217.5h2M22 217.5h2M0 218.5h1M2 218.5h1M4 218.5h1M8 218.5h3M12 218.5h1M19 218.5h3M0 219.5h4M10 219.5h1M19 219.5h1M26 219.5h1M30 219.5h1M10 220.5h1M12 220.5h1M14 220.5h1M22 220.5h1M25 220.5h1M31 220.5h1M2 221.5h1M12 221.5h1M17 221.5h2M21 221.5h2M25 221.5h1M34 221.5h1M48 221.5h1M10 222.5h1M12 222.5h1M20 222.5h1M23 222.5h1M26 222.5h1M29 222.5h4M40 222.5h1M42 222.5h1M52 222.5h1M11 223.5h1M21 223.5h1M25 223.5h1M29 223.5h1M33 223.5h3M38 223.5h1M41 223.5h1M43 223.5h1M47 223.5h2M51 223.5h2M8 224.5h1M11 224.5h1M18 224.5h3M25 224.5h1M33 224.5h1M36 224.5h1M44 224.5h1M48 224.5h5M10 225.5h2M17 225.5h2M21 225.5h1M25 225.5h1M32 225.5h1M35 225.5h2M47 225.5h1M52 225.5h1M3 226.5h1M9 226.5h1M16 226.5h5M25 226.5h1M28 226.5h1M31 226.5h1M35 226.5h1M37 226.5h1M9 227.5h1M13 227.5h1M15 227.5h1M23 227.5h2M27 227.5h1M29 227.5h2M36 227.5h2M45 227.5h3M52 227.5h1M11 228.5h1M16 228.5h3M22 228.5h3M28 228.5h2M47 228.5h1M52 228.5h1M1 229.5h2M2 230.5h2M16 230.5h2M19 230.5h1M21 230.5h1M25 230.5h1M11 231.5h2M20 231.5h1M25 231.5h1M29 231.5h1M46 231.5h2M15 232.5h1M17 232.5h1M44 232.5h2M47 232.5h1M37 233.5h1M46 233.5h1M23 234.5h1M48 234.5h1M11 235.5h2M23 235.5h2M48 235.5h1M9 236.5h1M11 236.5h1M26 236.5h1M8 237.5h1M11 237.5h2M23 237.5h2M38 237.5h2M8 238.5h1M12 238.5h2M27 238.5h1M29 238.5h3M44 238.5h1M12 239.5h3M26 239.5h1M44 239.5h2M10 240.5h1M19 240.5h1M26 240.5h1M16 241.5h4M26 241.5h1M35 241.5h3M41 241.5h2M26 242.5h3M39 242.5h1M26 243.5h2M29 243.5h2M35 243.5h1M17 244.5h2M24 244.5h4M37 244.5h1M48 244.5h3M18 245.5h2M34 245.5h1M37 245.5h1M40 245.5h1M48 245.5h1M50 245.5h1M49 246.5h1M52 246.5h2M23 248.5h2M50 248.5h2M49 249.5h3M53 249.5h1M38 250.5h2M50 250.5h4M30 251.5h1M53 251.5h1M46 252.5h2M31 253.5h1M39 253.5h2M46 254.5h2M36 255.5h3M45 255.5h1"/>
<path stroke="#00008a" d="M24 4.5h2M44 4.5h2M31 5.5h1M44 5.5h2M51 5.5h2M44 6.5h1M46 6.5h1M22 7.5h1M45 7.5h1M19 8.5h1M21 8.5h1M20 9.5h3M25 9.5h1M60 9.5h1M26 10.5h1M15 11.5h2M21 11.5h3M43 11.5h1M14 12.5h1M25 12.5h1M48 13.5h2M54 13.5h1M59 13.5h2M10 14.5h1M21 14.5h1M33 14.5h1M35 14.5h1M9 15.5h5M24 15.5h1M26 15.5h1M34 15.5h1M36 15.5h1M38 15.5h2M55 15.5h2M12 16.5h1M14 16.5h1M41 16.5h3M48 16.5h1M53 16.5h1M14 17.5h2M40 17.5h1M42 17.5h1M47 17.5h2M31 18.5h1M44 18.5h1M54 18.5h2M31 19.5h1M36 19.5h2M52 19.5h1M29 20.5h1M32 20.5h1M36 20.5h1M38 20.5h1M52 20.5h2M7 21.5h1M22 21.5h2M31 21.5h1M55 21.5h2M21 22.5h1M23 22.5h1M31 22.5h2M55 22.5h1M21 23.5h1M24 23.5h1M30 23.5h2M14 24.5h1M17 24.5h1M20 24.5h1M24 24.5h1M26 24.5h1M37 24.5h1M10 25.5h2M17 25.5h1M21 25.5h1M25 25.5h2M36 25.5h1M39 25.5h1M16 26.5h1M40 26.5h1M22 27.5h1M37 27.5h4M22 28.5h2M25 28.5h2M19 29.5h1M25 29.5h1M47 29.5h1M52 29.5h3M57 29.5h2M40 31.5h2M53 31.5h1M8 32.5h2M38 32.5h3M58 32.5h1M8 33.5h2M39 33.5h3M50 33.5h1M53 33.5h1M55 33.5h3M45 34.5h4M50 34.5h1M52 34.5h1M54 34.5h1M34 35.5h1M46 35.5h4M52 35.5h1M11 36.5h1M32 36.5h1M34 36.5h1M47 36.5h1M53 36.5h1M46 37.5h1M48 37.5h1M16 39.5h2M21 39.5h2M37 39.5h1M11 40.5h1M22 40.5h1M41 40.5h2M22 41.5h1M27 41.5h3M41 41.5h1M45 41.5h1M9 42.5h1M36 42.5h1M40 42.5h1M44 42.5h3M49 42.5h2M54 42.5h1M57 42.5h1M8 43.5h1M29 43.5h1M45 43.5h4M57 43.5h1M10 44.5h1M40 44.5h1M43 44.5h3M47 44.5h2M53 44.5h1M56 44.5h1M10 45.5h1M31 45.5h1M45 45.5h1M49 45.5h1M53 45.5h1M9 46.5h1M23 46.5h1M44 46.5h2M50 46.5h1M52 46.5h2M16 47.5h1M22 47.5h1M38 47.5h2M44 47.5h1M33 48.5h1M39 48.5h1M42 48.5h2M25 49.5h2M30 49.5h1M39 49.5h2M6 50.5h2M25 50.5h2M30 50.5h1M25 51.5h3M25 53.5h1M4 54.5h1M22 54.5h1M4 55.5h2M20 55.5h2M23 55.5h1M20 56.5h2M23 56.5h1M4 59.5h1M7 59.5h1M22 59.5h1M11 60.5h3M18 60.5h2M11 61.5h1M11 62.5h1M12 63.5h3M12 64.5h2M12 65.5h3M12 66.5h3M15 68.5h2M15 69.5h1M14 70.5h1M6 75.5h1M7 76.5h2M12 76.5h1M7 77.5h2M7 79.5h2M3 80.5h1M7 80.5h1M7 81.5h1M7 83.5h1M7 84.5h1M6 85.5h1M6 88.5h2M50 88.5h1M5 90.5h1M40 91.5h1M42 91.5h1M48 91.5h2M39 92.5h3M51 92.5h2M40 93.5h1M51 93.5h1M41 94.5h2M46 94.5h1M51 94.5h1M53 94.5h1M4 95.5h1M36 95.5h4M43 95.5h1M35 96.5h1M38 96.5h4M44 96.5h5M51 96.5h3M32 97.5h1M51 97.5h3M4 98.5h1M36 98.5h3M4 99.5h1M32 99.5h1M3 100.5h1M42 100.5h2M3 101.5h1M30 101.5h1M42 101.5h1M52 101.5h1M37 102.5h1M43 102.5h1M46 102.5h1M48 102.5h2M35 103.5h2M38 103.5h1M40 103.5h5M50 103.5h1M52 103.5h1M31 104.5h2M35 104.5h2M38 104.5h1M51 104.5h1M31 105.5h1M33 105.5h1M36 105.5h1M39 105.5h5M45 105.5h1M49 105.5h3M26 106.5h1M29 106.5h1M32 106.5h9M43 106.5h1M45 106.5h1M49 106.5h1M38 107.5h2M48 107.5h1M52 107.5h1M24 108.5h2M38 108.5h1M44 108.5h1M46 108.5h1M49 108.5h3M26 109.5h1M35 109.5h1M41 109.5h1M44 109.5h1M50 109.5h2M35 110.5h1M45 110.5h3M32 111.5h1M36 111.5h1M42 111.5h1M52 111.5h1M5 112.5h1M37 112.5h1M47 112.5h6M4 113.5h2M37 113.5h1M40 113.5h5M47 113.5h1M51 113.5h1M40 114.5h1M48 114.5h1M50 114.5h2M22 115.5h1M31 115.5h1M44 115.5h1M48 115.5h1M25 116.5h1M47 116.5h2M50 116.5h2M6 117.5h2M23 117.5h1M30 117.5h1M23 119.5h1M29 119.5h1M23 120.5h1M29 120.5h2M35 120.5h1M38 120.5h1M40 120.5h1M23 121.5h1M28 121.5h1M31 121.5h2M34 121.5h3M43 121.5h1M24 122.5h2M30 122.5h2M35 122.5h3M46 122.5h1M30 123.5h3M39 123.5h3M47 123.5h1M23 124.5h3M28 124.5h2M35 124.5h1M38 124.5h1M43 125.5h2M47 125.5h1M27 126.5h2M32 126.5h2M35 126.5h1M37 126.5h1M42 126.5h1M44 126.5h1M49 126.5h3M26 127.5h2M39 127.5h1M41 127.5h3M45 127.5h4M52 127.5h1M29 128.5h1M31 128.5h1M33 128.5h1M47 128.5h3M52 128.5h1M27 129.5h1M46 129.5h2M23 130.5h4M33 130.5h1M37 130.5h1M27 131.5h1M33 131.5h1M35 131.5h1M40 131.5h1M50 131.5h1M35 132.5h2M40 132.5h3M48 132.5h1M26 133.5h1M36 133.5h1M39 133.5h1M25 134.5h2M31 134.5h1M38 134.5h2M41 134.5h1M46 134.5h1M25 135.5h2M31 135.5h1M46 135.5h1M29 137.5h2M29 138.5h1M33 138.5h1M27 139.5h1M36 139.5h1M38 139.5h1M41 139.5h3M47 139.5h1M26 140.5h3M30 140.5h1M39 140.5h1M42 140.5h5M29 141.5h1M35 141.5h1M33 142.5h1M36 142.5h6M33 143.5h1M35 143.5h1M38 143.5h1M33 144.5h1M36 144.5h2M34 146.5h1M34 147.5h2M38 147.5h1M34 148.5h1M38 148.5h1M46 148.5h1M48 148.5h2M38 149.5h2M41 149.5h2M42 150.5h2M45 150.5h1M43 151.5h1M50 151.5h2M41 152.5h1M43 152.5h1M45 156.5h1M45 157.5h2M47 158.5h1M50 160.5h2M1 198.5h1M1 199.5h1M6 199.5h1M5 202.5h4M10 203.5h1M10 204.5h1M4 205.5h1M6 205.5h2M11 205.5h1M1 206.5h1M4 206.5h1M7 206.5h1M11 206.5h2M7 207.5h2M14 207.5h1M15 209.5h2M17 210.5h1M16 211.5h1M19 211.5h1M17 212.5h1M20 212.5h1M7 213.5h1M9 213.5h1M2 214.5h2M6 214.5h1M21 214.5h1M26 215.5h2M17 216.5h1M21 216.5h7M0 217.5h3M4 217.5h1M10 217.5h1M24 217.5h1M34 217.5h1M3 218.5h1M11 218.5h1M22 218.5h1M27 218.5h2M8 219.5h2M20 219.5h3M25 219.5h1M8 220.5h2M13 220.5h1M33 220.5h1M42 220.5h1M48 220.5h1M19 221.5h2M23 221.5h2M31 221.5h3M35 221.5h1M40 221.5h4M49 221.5h1M52 221.5h1M11 222.5h1M24 222.5h2M37 222.5h1M39 222.5h1M41 222.5h1M44 222.5h1M47 222.5h3M9 223.5h1M24 223.5h1M32 223.5h1M44 223.5h3M49 223.5h2M9 224.5h1M21 224.5h1M29 224.5h1M34 224.5h1M22 225.5h3M28 225.5h1M48 225.5h1M51 225.5h1M10 226.5h4M21 226.5h4M29 226.5h2M36 226.5h1M47 226.5h3M10 227.5h1M18 227.5h1M25 227.5h2M10 228.5h1M25 228.5h1M27 228.5h1M45 228.5h1M25 229.5h1M28 229.5h1M1 230.5h1M20 230.5h1M28 230.5h1M15 231.5h1M17 231.5h1M26 231.5h3M46 232.5h1M4 233.5h1M10 236.5h1M9 237.5h2M9 238.5h3M10 239.5h2M27 239.5h2M27 240.5h1M52 240.5h1M27 241.5h1M52 241.5h1M42 242.5h1M28 243.5h1M36 243.5h1M40 243.5h1M42 243.5h1M35 244.5h1M40 244.5h1M42 244.5h1M35 245.5h2M41 245.5h1M49 245.5h1M50 246.5h2M52 247.5h1M52 248.5h2M52 249.5h1"/>
<path stroke="#0004a0" d="M45 6.5h1M23 9.5h2M24 10.5h2M43 10.5h1M45 10.5h1M13 11.5h2M17 11.5h1M26 11.5h1M44 11.5h1M21 12.5h4M21 13.5h2M55 13.5h2M34 14.5h1M53 14.5h4M25 15.5h1M35 15.5h1M53 15.5h2M59 15.5h1M13 16.5h1M43 17.5h2M28 18.5h1M29 19.5h2M53 19.5h1M30 20.5h2M37 20.5h1M54 20.5h1M57 20.5h1M22 22.5h1M28 22.5h1M30 22.5h1M33 22.5h1M23 23.5h1M15 24.5h2M21 24.5h3M25 24.5h1M15 25.5h2M37 25.5h2M37 26.5h3M55 29.5h2M51 30.5h1M53 30.5h1M57 30.5h2M54 31.5h5M54 32.5h2M57 32.5h1M54 33.5h1M49 34.5h1M53 34.5h1M33 35.5h1M33 36.5h1M54 36.5h1M47 37.5h1M38 39.5h2M38 40.5h1M40 40.5h1M37 41.5h1M28 42.5h2M37 42.5h1M39 42.5h1M10 43.5h1M46 44.5h1M57 44.5h1M46 45.5h3M54 45.5h3M54 46.5h3M45 47.5h1M34 48.5h5M31 49.5h2M36 49.5h3M41 49.5h1M53 49.5h1M38 50.5h1M53 50.5h1M28 51.5h3M35 51.5h1M26 52.5h3M27 53.5h2M23 54.5h2M24 56.5h1M24 57.5h1M23 58.5h1M12 59.5h1M14 59.5h1M12 61.5h2M20 61.5h2M12 62.5h1M14 62.5h2M15 63.5h1M15 64.5h1M15 67.5h1M18 68.5h1M16 69.5h1M15 71.5h1M15 72.5h1M13 74.5h1M8 75.5h1M13 75.5h1M53 75.5h2M9 77.5h1M9 78.5h1M8 80.5h1M8 82.5h2M7 85.5h1M46 85.5h1M45 86.5h2M8 87.5h1M51 88.5h2M6 89.5h2M52 89.5h2M7 90.5h2M39 90.5h2M51 90.5h3M5 91.5h1M8 91.5h2M39 91.5h1M6 92.5h1M8 92.5h1M42 92.5h1M50 92.5h1M6 93.5h1M37 93.5h1M45 93.5h2M30 94.5h1M37 94.5h1M43 94.5h1M45 94.5h1M47 94.5h1M5 95.5h1M35 95.5h1M40 95.5h3M44 95.5h4M50 95.5h1M53 95.5h1M32 96.5h3M42 96.5h2M49 96.5h1M3 97.5h1M33 97.5h1M35 97.5h5M49 97.5h2M32 98.5h4M5 99.5h1M4 100.5h1M31 100.5h1M4 101.5h1M6 101.5h2M43 101.5h1M3 102.5h1M6 102.5h2M35 102.5h2M42 102.5h1M47 102.5h1M6 103.5h1M29 103.5h1M39 103.5h1M45 103.5h1M6 104.5h2M23 104.5h1M30 104.5h1M33 104.5h2M39 104.5h2M45 104.5h3M50 104.5h1M52 104.5h1M6 105.5h1M27 105.5h4M34 105.5h2M52 105.5h1M6 106.5h2M30 106.5h2M41 106.5h2M50 106.5h1M52 106.5h1M25 107.5h1M29 107.5h1M49 107.5h3M23 108.5h1M30 108.5h2M45 108.5h1M36 109.5h1M38 109.5h3M45 109.5h2M28 110.5h1M36 110.5h2M41 110.5h1M31 111.5h1M33 111.5h3M37 111.5h1M4 112.5h1M23 112.5h1M36 112.5h1M38 112.5h2M42 112.5h1M24 113.5h1M27 113.5h1M48 113.5h3M24 114.5h1M42 114.5h1M23 115.5h1M25 115.5h1M5 116.5h3M23 116.5h2M32 116.5h1M46 116.5h1M52 117.5h1M22 118.5h1M29 118.5h2M30 119.5h1M36 120.5h2M30 121.5h1M33 121.5h1M23 122.5h1M26 122.5h1M29 122.5h1M32 122.5h1M34 122.5h1M52 122.5h1M24 123.5h3M28 123.5h1M33 123.5h3M38 123.5h1M52 123.5h1M26 124.5h2M31 124.5h1M47 124.5h1M52 124.5h1M23 125.5h1M28 125.5h1M31 125.5h1M51 125.5h2M26 126.5h1M34 126.5h1M38 126.5h1M43 126.5h1M52 126.5h1M28 127.5h2M38 127.5h1M22 128.5h2M27 128.5h2M32 128.5h1M34 128.5h1M41 128.5h6M50 128.5h2M23 129.5h1M36 129.5h1M38 129.5h2M42 129.5h1M48 129.5h1M34 130.5h3M39 130.5h1M51 130.5h2M24 131.5h2M34 131.5h1M41 131.5h1M43 131.5h2M46 131.5h4M37 132.5h3M43 132.5h3M37 133.5h2M24 134.5h1M27 134.5h1M29 134.5h2M42 134.5h1M45 134.5h1M30 135.5h1M25 136.5h2M31 136.5h1M31 137.5h1M37 139.5h1M44 139.5h3M35 140.5h1M38 140.5h1M40 140.5h2M26 141.5h1M28 141.5h1M31 141.5h2M38 141.5h2M41 141.5h1M30 142.5h1M5 143.5h2M37 143.5h1M28 144.5h1M33 145.5h1M33 146.5h1M33 147.5h1M36 147.5h2M33 148.5h1M35 148.5h3M45 148.5h1M33 149.5h1M36 149.5h2M43 149.5h1M49 149.5h1M39 150.5h3M44 150.5h1M42 151.5h1M44 151.5h1M44 152.5h1M49 152.5h1M49 153.5h1M44 156.5h1M46 156.5h1M44 157.5h1M47 157.5h1M45 158.5h1M47 159.5h1M49 160.5h1M50 161.5h1M46 168.5h1M43 174.5h1M2 198.5h3M9 202.5h1M12 205.5h1M13 206.5h1M17 209.5h1M18 210.5h1M17 211.5h2M20 211.5h1M8 213.5h1M21 213.5h1M7 214.5h2M20 215.5h1M3 217.5h1M33 217.5h1M23 218.5h2M30 218.5h2M33 218.5h2M47 218.5h2M50 218.5h1M23 219.5h2M31 219.5h1M33 219.5h2M23 220.5h2M32 220.5h1M34 220.5h1M41 220.5h1M43 220.5h1M47 220.5h1M36 221.5h2M39 221.5h1M47 221.5h1M38 222.5h1M50 222.5h2M10 223.5h1M30 223.5h2M10 224.5h1M22 224.5h3M32 224.5h1M35 224.5h1M31 225.5h1M49 225.5h2M16 227.5h1M26 228.5h1M46 228.5h1M26 230.5h2M16 231.5h1M16 232.5h1M40 242.5h2M41 243.5h1M36 244.5h1M50 247.5h2M53 247.5h1"/>
<path stroke="#0013b5" d="M20 8.5h1M24 11.5h2M59 16.5h1M29 18.5h2M54 19.5h3M55 20.5h2M28 21.5h3M29 22.5h1M22 23.5h1M52 30.5h1M54 30.5h3M56 32.5h1M53 35.5h2M39 40.5h1M38 41.5h3M38 42.5h1M9 43.5h1M46 46.5h1M49 46.5h1M51 47.5h1M53 47.5h3M44 48.5h2M52 48.5h1M42 49.5h1M51 49.5h1M31 50.5h1M35 50.5h3M39 50.5h1M52 50.5h1M36 51.5h1M29 52.5h1M36 52.5h1M26 53.5h1M29 53.5h1M25 54.5h3M24 55.5h1M26 55.5h2M13 59.5h1M17 61.5h1M13 62.5h1M16 62.5h1M20 62.5h1M15 65.5h1M15 66.5h1M17 69.5h1M15 70.5h1M14 73.5h1M52 74.5h2M7 75.5h1M52 75.5h1M10 77.5h1M9 79.5h1M53 80.5h1M8 81.5h1M43 84.5h2M50 84.5h3M44 85.5h2M47 85.5h1M50 85.5h4M8 86.5h1M38 86.5h1M47 86.5h1M10 87.5h1M45 87.5h2M48 87.5h3M8 88.5h1M10 88.5h1M49 88.5h1M53 88.5h1M8 89.5h1M50 89.5h2M6 90.5h1M38 90.5h1M41 90.5h1M43 90.5h1M50 90.5h1M7 91.5h1M10 91.5h1M12 91.5h1M38 91.5h1M43 91.5h1M47 91.5h1M7 92.5h1M9 92.5h1M37 92.5h2M7 93.5h1M29 93.5h1M36 93.5h1M41 93.5h4M47 93.5h1M50 93.5h1M6 94.5h1M29 94.5h1M31 94.5h1M44 94.5h1M6 95.5h2M33 95.5h2M48 95.5h1M4 96.5h1M50 96.5h1M4 97.5h1M31 97.5h1M34 97.5h1M5 98.5h1M31 98.5h1M6 99.5h1M31 99.5h1M5 100.5h1M7 100.5h1M5 101.5h1M7 103.5h1M24 103.5h1M49 103.5h1M24 104.5h1M28 104.5h2M48 104.5h2M5 105.5h1M7 105.5h1M23 105.5h1M4 106.5h2M8 106.5h1M51 106.5h1M4 107.5h4M30 107.5h2M25 109.5h1M37 109.5h1M38 110.5h1M5 111.5h1M41 111.5h1M6 112.5h1M24 112.5h1M40 112.5h1M3 113.5h1M6 113.5h1M23 113.5h1M4 114.5h4M22 114.5h2M30 114.5h1M39 114.5h1M43 114.5h2M6 115.5h1M21 115.5h1M24 115.5h1M32 115.5h1M41 115.5h3M4 116.5h1M22 116.5h1M5 117.5h1M22 117.5h1M32 117.5h1M49 117.5h3M21 118.5h1M34 118.5h1M36 119.5h1M22 120.5h1M22 121.5h1M29 121.5h1M44 121.5h1M52 121.5h1M22 122.5h1M27 122.5h2M33 122.5h1M23 123.5h1M27 123.5h1M36 123.5h1M48 123.5h1M30 124.5h1M36 124.5h2M49 124.5h3M22 125.5h1M24 125.5h4M48 125.5h3M25 126.5h1M29 126.5h1M31 126.5h1M22 127.5h1M25 127.5h1M30 127.5h1M32 127.5h6M26 128.5h1M35 128.5h1M38 128.5h3M22 129.5h1M24 129.5h1M26 129.5h1M37 129.5h1M43 129.5h1M45 129.5h1M49 129.5h1M51 129.5h2M21 130.5h2M42 130.5h2M46 130.5h2M23 131.5h1M26 131.5h1M42 131.5h1M45 131.5h1M26 132.5h1M43 133.5h1M45 133.5h1M23 134.5h1M28 134.5h1M43 134.5h2M24 135.5h1M30 136.5h1M8 137.5h2M28 137.5h1M32 137.5h2M7 138.5h2M28 138.5h1M2 140.5h2M25 140.5h1M37 140.5h1M27 141.5h1M36 141.5h2M29 142.5h1M36 143.5h1M29 144.5h1M29 145.5h1M44 149.5h1M46 149.5h2M34 150.5h1M38 150.5h1M41 151.5h1M40 152.5h1M50 152.5h2M37 153.5h1M46 153.5h1M43 156.5h1M48 157.5h1M44 158.5h1M46 159.5h1M48 159.5h4M48 160.5h1M49 161.5h1M51 161.5h1M46 167.5h1M50 167.5h2M45 168.5h1M11 170.5h1M44 174.5h1M51 174.5h1M50 175.5h2M1 196.5h1M8 196.5h1M1 197.5h1M5 198.5h1M7 199.5h1M7 200.5h1M7 201.5h1M9 201.5h1M11 204.5h1M13 205.5h1M15 207.5h1M15 208.5h1M18 209.5h1M19 210.5h3M21 211.5h1M25 213.5h1M22 214.5h3M26 214.5h1M21 215.5h3M25 215.5h1M28 216.5h1M34 216.5h1M37 216.5h1M52 216.5h1M25 217.5h1M27 217.5h1M32 217.5h1M35 217.5h1M47 217.5h1M52 217.5h1M25 218.5h2M29 218.5h1M32 218.5h1M35 218.5h1M46 218.5h1M49 218.5h1M51 218.5h1M32 219.5h1M35 219.5h4M46 219.5h5M35 220.5h3M40 220.5h1M46 220.5h1M49 220.5h3M38 221.5h1M44 221.5h1M50 221.5h2M45 222.5h2M30 224.5h2M29 225.5h2M17 227.5h1M26 229.5h2M41 244.5h1"/>
<path stroke="#0021cb" d="M44 10.5h1M48 46.5h1M46 47.5h1M49 47.5h2M52 47.5h1M56 47.5h1M46 48.5h1M51 48.5h1M53 48.5h1M55 48.5h2M33 49.5h3M54 49.5h1M34 50.5h1M54 50.5h1M34 51.5h1M37 51.5h1M30 52.5h1M35 52.5h1M37 52.5h1M30 53.5h2M28 54.5h1M25 55.5h1M25 56.5h3M25 57.5h1M22 60.5h1M18 61.5h2M17 62.5h3M21 62.5h1M18 63.5h1M17 64.5h1M16 67.5h1M19 68.5h1M52 71.5h2M16 72.5h1M52 72.5h1M15 73.5h1M14 74.5h1M54 74.5h1M14 75.5h1M13 76.5h1M53 76.5h2M11 77.5h1M12 79.5h1M48 79.5h1M9 80.5h1M9 81.5h1M10 82.5h1M40 82.5h1M8 83.5h1M8 84.5h1M45 84.5h5M53 84.5h1M8 85.5h1M48 85.5h2M37 86.5h1M39 86.5h1M48 86.5h1M53 86.5h1M9 87.5h1M37 87.5h5M47 87.5h1M51 87.5h3M9 88.5h1M11 88.5h1M34 88.5h1M38 88.5h1M42 88.5h1M44 88.5h2M39 89.5h3M44 89.5h1M49 89.5h1M9 90.5h1M12 90.5h1M32 90.5h1M42 90.5h1M44 90.5h1M49 90.5h1M6 91.5h1M11 91.5h1M36 91.5h2M44 91.5h1M46 91.5h1M36 92.5h1M43 92.5h1M49 92.5h1M30 93.5h1M28 94.5h1M34 94.5h1M36 94.5h1M48 94.5h1M50 94.5h1M32 95.5h1M49 95.5h1M5 96.5h3M9 96.5h2M24 96.5h1M31 96.5h1M30 99.5h1M6 100.5h1M26 100.5h2M30 100.5h1M8 101.5h1M26 101.5h1M29 101.5h1M5 102.5h1M8 102.5h1M25 102.5h3M29 102.5h1M3 103.5h1M23 103.5h1M25 103.5h1M28 103.5h1M46 103.5h3M3 104.5h1M5 104.5h1M8 104.5h1M8 105.5h1M22 105.5h1M24 105.5h1M26 105.5h1M3 106.5h1M25 106.5h1M3 107.5h1M8 107.5h1M23 107.5h2M7 108.5h2M19 108.5h1M7 109.5h1M4 110.5h2M39 110.5h2M4 111.5h1M6 111.5h1M30 111.5h1M38 111.5h1M22 112.5h1M35 112.5h1M41 112.5h1M7 113.5h1M22 113.5h1M36 113.5h1M3 114.5h1M8 114.5h1M5 115.5h1M7 115.5h1M3 116.5h1M8 116.5h1M21 116.5h1M33 116.5h1M45 116.5h1M36 117.5h1M52 118.5h1M21 119.5h2M41 120.5h1M21 121.5h1M21 122.5h1M37 123.5h1M49 123.5h1M22 124.5h1M48 124.5h1M29 125.5h1M4 126.5h2M22 126.5h1M23 127.5h1M31 127.5h1M21 128.5h1M24 128.5h2M36 128.5h2M21 129.5h1M25 129.5h1M40 129.5h2M44 129.5h1M50 129.5h1M20 130.5h1M40 130.5h2M44 130.5h2M48 130.5h3M25 132.5h1M44 133.5h1M22 134.5h1M27 135.5h1M29 135.5h1M24 136.5h1M27 136.5h1M29 136.5h1M23 137.5h1M26 137.5h2M6 138.5h1M9 138.5h1M27 138.5h1M6 139.5h2M26 139.5h1M36 140.5h1M25 141.5h1M40 141.5h1M5 142.5h1M31 142.5h2M4 143.5h1M32 143.5h1M32 144.5h1M28 145.5h1M32 145.5h1M25 146.5h1M32 146.5h1M32 147.5h1M32 148.5h1M34 149.5h2M45 149.5h1M48 149.5h1M33 150.5h1M35 150.5h1M37 150.5h1M38 151.5h3M38 153.5h1M50 153.5h1M48 154.5h1M47 156.5h1M43 157.5h1M49 157.5h1M42 158.5h2M48 158.5h2M44 159.5h2M36 160.5h1M47 160.5h1M48 161.5h1M50 162.5h2M38 163.5h1M51 163.5h1M47 167.5h1M49 167.5h1M47 168.5h1M49 168.5h1M10 170.5h1M12 170.5h1M51 170.5h1M51 171.5h1M51 172.5h1M44 173.5h1M50 174.5h1M48 177.5h1M4 190.5h2M1 195.5h2M2 196.5h1M4 196.5h2M7 196.5h1M9 196.5h1M2 197.5h1M4 197.5h2M8 197.5h2M6 198.5h2M8 201.5h1M10 201.5h1M10 202.5h1M17 203.5h1M14 206.5h1M16 207.5h1M16 208.5h1M18 208.5h1M19 209.5h2M22 211.5h1M24 211.5h2M21 212.5h1M25 212.5h1M22 213.5h1M24 213.5h1M26 213.5h1M25 214.5h1M27 214.5h1M24 215.5h1M33 216.5h1M35 216.5h2M44 216.5h2M51 216.5h1M26 217.5h1M28 217.5h1M31 217.5h1M46 217.5h1M48 217.5h1M51 217.5h1M52 218.5h1M42 219.5h2M51 219.5h1M38 220.5h2M52 220.5h1M45 221.5h2"/>
<path stroke="#0030e0" d="M47 46.5h1M48 47.5h1M47 48.5h2M54 48.5h1M43 49.5h1M55 49.5h2M32 50.5h1M40 50.5h1M51 50.5h1M31 51.5h1M38 51.5h1M31 52.5h1M34 52.5h1M32 53.5h1M29 54.5h3M28 55.5h1M24 58.5h1M16 63.5h2M19 63.5h2M54 63.5h1M16 64.5h1M18 64.5h1M53 64.5h1M16 65.5h2M16 66.5h2M17 67.5h2M18 69.5h1M16 70.5h1M52 70.5h2M16 71.5h1M51 71.5h1M54 71.5h1M51 72.5h1M53 72.5h1M16 73.5h1M52 73.5h2M15 74.5h1M15 75.5h1M51 75.5h1M52 76.5h1M12 77.5h1M48 77.5h1M10 78.5h1M13 79.5h1M49 79.5h1M54 79.5h1M12 80.5h1M52 80.5h1M45 81.5h2M53 81.5h1M39 82.5h1M41 82.5h1M9 83.5h1M36 83.5h1M43 83.5h1M47 83.5h4M38 85.5h1M43 85.5h1M9 86.5h2M40 86.5h1M44 86.5h1M49 86.5h4M11 87.5h1M36 87.5h1M42 87.5h1M44 87.5h1M35 88.5h1M37 88.5h1M39 88.5h1M41 88.5h1M43 88.5h1M46 88.5h1M9 89.5h1M34 89.5h2M38 89.5h1M42 89.5h2M13 90.5h1M31 90.5h1M33 90.5h5M48 90.5h1M13 91.5h1M35 91.5h1M45 91.5h1M10 92.5h1M44 92.5h1M46 92.5h3M8 93.5h1M28 93.5h1M48 93.5h1M7 94.5h1M27 94.5h1M32 94.5h2M35 94.5h1M49 94.5h1M23 95.5h2M31 95.5h1M8 96.5h1M23 96.5h1M5 97.5h1M6 98.5h1M24 98.5h1M30 98.5h1M7 99.5h1M29 99.5h1M8 100.5h1M25 100.5h1M28 100.5h2M25 101.5h1M27 101.5h2M4 102.5h1M9 102.5h1M24 102.5h1M28 102.5h1M5 103.5h1M8 103.5h3M26 103.5h2M22 104.5h1M25 104.5h1M27 104.5h1M3 105.5h2M25 105.5h1M19 107.5h2M6 108.5h1M9 108.5h1M20 108.5h1M3 109.5h1M8 109.5h1M24 109.5h1M3 110.5h1M6 110.5h1M27 110.5h1M16 111.5h1M39 111.5h2M3 112.5h1M25 112.5h1M8 113.5h1M28 113.5h1M9 114.5h2M21 114.5h1M3 115.5h2M10 116.5h1M44 116.5h1M3 117.5h2M8 117.5h1M21 117.5h1M35 117.5h1M48 117.5h1M6 118.5h2M35 118.5h1M39 118.5h2M21 120.5h1M47 120.5h1M50 121.5h1M47 122.5h1M22 123.5h1M30 125.5h1M3 126.5h1M6 126.5h1M23 126.5h2M30 126.5h1M3 127.5h1M18 127.5h1M21 127.5h1M24 127.5h1M3 131.5h1M20 131.5h3M23 132.5h2M22 133.5h2M25 133.5h1M23 135.5h1M28 135.5h1M7 136.5h2M28 136.5h1M7 137.5h1M10 137.5h1M24 137.5h2M5 138.5h1M26 138.5h1M3 139.5h3M4 140.5h1M7 140.5h1M3 141.5h4M6 142.5h1M28 142.5h1M7 143.5h1M28 143.5h2M16 144.5h2M17 145.5h2M30 145.5h1M24 146.5h1M30 146.5h2M31 147.5h1M32 149.5h1M8 150.5h1M28 150.5h2M36 150.5h1M7 151.5h1M37 151.5h1M36 152.5h3M4 153.5h1M36 153.5h1M51 153.5h1M38 154.5h1M49 154.5h1M51 154.5h1M39 155.5h1M30 156.5h6M34 157.5h3M41 157.5h2M5 158.5h2M36 158.5h2M50 158.5h1M43 159.5h1M35 160.5h1M46 160.5h1M6 161.5h2M24 162.5h1M37 162.5h1M49 162.5h1M9 163.5h1M37 163.5h1M39 163.5h3M50 163.5h1M32 164.5h1M46 165.5h1M47 166.5h3M45 167.5h1M48 167.5h1M48 168.5h1M50 168.5h1M44 172.5h1M2 173.5h1M43 173.5h1M51 173.5h1M42 174.5h1M47 174.5h3M43 175.5h1M27 176.5h1M40 176.5h1M44 176.5h1M50 176.5h2M46 177.5h2M49 177.5h1M33 178.5h1M32 179.5h1M43 186.5h1M42 187.5h3M1 190.5h3M5 191.5h1M5 193.5h3M3 195.5h2M6 195.5h2M3 196.5h1M6 196.5h1M3 197.5h1M6 197.5h2M8 198.5h2M8 199.5h1M19 199.5h1M8 200.5h2M18 202.5h1M11 203.5h1M16 203.5h1M18 203.5h1M12 204.5h1M17 204.5h1M17 207.5h1M17 208.5h1M19 208.5h1M21 209.5h1M22 210.5h4M23 211.5h1M24 212.5h1M26 212.5h1M23 213.5h1M29 213.5h1M28 214.5h1M28 215.5h1M33 215.5h2M51 215.5h2M32 216.5h1M38 216.5h1M46 216.5h1M29 217.5h2M36 217.5h2M39 217.5h1M45 217.5h1M49 217.5h1M36 218.5h4M43 218.5h3M39 219.5h1M44 219.5h2M44 220.5h2"/>
<path stroke="#003ff6" d="M47 47.5h1M49 48.5h2M44 49.5h2M50 49.5h1M33 50.5h1M41 50.5h2M33 51.5h1M32 52.5h2M38 52.5h1M33 53.5h1M35 53.5h1M32 54.5h1M28 56.5h1M25 58.5h1M23 59.5h1M28 60.5h2M22 61.5h1M21 63.5h1M53 63.5h1M19 64.5h2M52 64.5h1M18 65.5h1M49 65.5h1M18 66.5h1M51 70.5h1M54 70.5h1M17 71.5h2M17 72.5h1M17 73.5h1M45 73.5h1M54 73.5h1M16 74.5h1M45 74.5h2M51 74.5h1M14 76.5h2M20 76.5h2M13 77.5h1M49 77.5h1M53 77.5h2M12 78.5h1M48 78.5h1M10 79.5h2M47 79.5h1M50 79.5h1M52 79.5h2M10 80.5h1M13 80.5h1M44 80.5h3M48 80.5h2M10 81.5h1M40 81.5h2M11 82.5h1M42 82.5h1M44 82.5h3M53 82.5h1M10 83.5h1M35 83.5h1M44 83.5h3M51 83.5h3M9 84.5h1M35 84.5h2M9 85.5h1M37 85.5h1M39 85.5h1M11 86.5h1M35 87.5h1M43 87.5h1M12 88.5h1M15 88.5h1M36 88.5h1M40 88.5h1M48 88.5h1M12 89.5h3M32 89.5h2M36 89.5h2M45 89.5h1M10 90.5h2M45 90.5h3M33 91.5h2M35 92.5h1M45 92.5h1M35 93.5h1M49 93.5h1M8 95.5h1M25 95.5h1M30 95.5h1M11 96.5h1M25 96.5h1M30 96.5h1M6 97.5h1M24 97.5h2M30 97.5h1M7 98.5h1M25 98.5h1M8 99.5h1M27 99.5h2M9 101.5h1M22 101.5h3M10 102.5h1M23 102.5h1M11 103.5h1M4 104.5h1M21 104.5h1M26 104.5h1M21 105.5h1M9 106.5h1M9 107.5h1M22 107.5h1M3 108.5h1M4 109.5h1M6 109.5h1M9 109.5h1M7 110.5h1M16 110.5h2M3 111.5h1M17 111.5h1M7 112.5h1M34 112.5h1M9 113.5h1M38 114.5h1M8 115.5h1M40 115.5h1M9 116.5h1M34 116.5h1M33 117.5h1M37 117.5h1M5 118.5h1M36 118.5h1M3 119.5h2M4 120.5h2M46 120.5h1M52 120.5h1M5 121.5h1M51 121.5h1M21 125.5h1M2 127.5h1M4 127.5h2M18 128.5h1M2 129.5h1M6 129.5h1M19 129.5h2M2 130.5h2M19 130.5h1M2 131.5h1M4 131.5h1M4 132.5h1M21 132.5h2M24 133.5h1M6 134.5h1M21 134.5h1M6 135.5h2M22 135.5h1M3 136.5h4M9 136.5h1M4 137.5h3M4 138.5h1M2 139.5h1M8 139.5h1M25 139.5h1M5 140.5h2M8 140.5h1M12 140.5h1M2 141.5h1M7 141.5h1M4 142.5h1M7 142.5h1M26 142.5h2M27 143.5h1M30 143.5h2M4 144.5h2M10 144.5h3M27 144.5h1M4 145.5h1M19 145.5h1M31 145.5h1M4 146.5h2M8 146.5h2M8 147.5h2M17 147.5h1M25 147.5h1M5 149.5h2M6 150.5h2M27 150.5h1M6 151.5h1M8 151.5h1M22 151.5h1M27 151.5h4M34 151.5h1M36 151.5h1M22 152.5h2M28 152.5h4M35 152.5h1M39 152.5h1M3 153.5h1M45 153.5h1M3 154.5h1M47 154.5h1M50 154.5h1M25 155.5h1M29 155.5h2M40 155.5h1M12 156.5h2M29 156.5h1M42 156.5h1M4 157.5h1M30 157.5h4M4 158.5h1M12 158.5h1M25 158.5h2M31 158.5h1M41 158.5h1M11 159.5h1M26 159.5h1M37 159.5h1M12 160.5h1M17 160.5h2M34 160.5h1M37 160.5h1M5 161.5h1M28 161.5h2M35 161.5h2M47 161.5h1M3 162.5h1M25 162.5h1M38 162.5h1M8 163.5h1M24 163.5h1M18 164.5h1M2 165.5h1M47 165.5h1M46 166.5h1M50 166.5h1M44 168.5h1M51 168.5h1M43 169.5h3M51 169.5h1M9 171.5h1M44 171.5h1M2 172.5h1M45 172.5h1M50 172.5h1M47 173.5h4M41 174.5h1M42 175.5h1M44 175.5h1M49 175.5h1M28 176.5h1M39 176.5h1M43 176.5h1M45 176.5h1M49 176.5h1M40 177.5h1M45 177.5h1M17 178.5h1M32 178.5h1M48 178.5h1M51 179.5h1M45 180.5h1M33 182.5h2M36 184.5h2M36 185.5h2M42 185.5h1M42 186.5h1M44 186.5h1M45 187.5h1M3 188.5h3M51 188.5h1M4 189.5h2M6 191.5h1M5 192.5h2M1 193.5h1M1 194.5h1M5 195.5h1M10 197.5h1M34 197.5h1M10 198.5h1M18 199.5h1M10 200.5h1M18 200.5h1M11 202.5h1M17 202.5h1M19 202.5h1M15 203.5h1M16 204.5h1M18 204.5h1M17 205.5h1M15 206.5h1M20 208.5h1M35 208.5h1M52 208.5h1M22 209.5h1M28 209.5h1M26 210.5h1M26 211.5h1M22 212.5h1M27 213.5h1M30 213.5h1M29 214.5h1M32 214.5h2M43 215.5h1M29 216.5h1M43 216.5h1M47 216.5h2M38 217.5h1M40 217.5h1M44 217.5h1M50 217.5h1M40 219.5h2M52 219.5h1"/>
<path stroke="#004eff" d="M46 49.5h1M46 50.5h2M50 50.5h1M55 50.5h1M32 51.5h1M39 51.5h1M53 51.5h2M48 52.5h1M34 53.5h1M36 53.5h1M43 53.5h2M47 53.5h2M33 54.5h1M29 55.5h1M26 57.5h1M26 58.5h1M28 59.5h2M23 60.5h1M22 62.5h1M54 62.5h2M55 63.5h1M21 64.5h1M54 64.5h1M19 65.5h1M48 65.5h1M19 67.5h1M53 67.5h1M20 68.5h1M50 68.5h2M19 69.5h1M51 69.5h3M17 70.5h1M19 71.5h1M18 72.5h1M54 72.5h1M18 73.5h1M46 73.5h1M51 73.5h1M47 74.5h1M20 75.5h2M16 76.5h1M48 76.5h1M36 77.5h1M47 77.5h1M52 77.5h1M11 78.5h1M13 78.5h1M21 78.5h1M49 78.5h1M51 78.5h4M14 79.5h1M44 79.5h3M51 79.5h1M11 80.5h1M47 80.5h1M50 80.5h2M11 81.5h2M39 81.5h1M42 81.5h1M44 81.5h1M47 81.5h1M52 81.5h1M12 82.5h1M36 82.5h3M43 82.5h1M50 82.5h3M34 83.5h1M37 83.5h1M39 83.5h1M42 83.5h1M10 84.5h1M37 84.5h3M10 85.5h2M40 85.5h1M36 86.5h1M41 86.5h1M34 87.5h1M13 88.5h2M16 88.5h1M33 88.5h1M47 88.5h1M10 89.5h2M15 89.5h1M46 89.5h3M31 91.5h2M11 92.5h1M9 93.5h1M27 93.5h1M31 93.5h1M8 94.5h1M23 94.5h4M26 95.5h4M12 96.5h2M26 96.5h2M7 97.5h1M9 97.5h2M23 97.5h1M23 98.5h1M28 98.5h2M9 99.5h1M25 99.5h2M9 100.5h1M24 100.5h1M21 101.5h1M21 102.5h2M22 103.5h1M9 104.5h1M20 104.5h1M9 105.5h1M14 105.5h2M18 106.5h3M22 106.5h3M21 107.5h1M4 108.5h2M10 108.5h1M10 109.5h1M19 109.5h1M8 110.5h1M7 111.5h1M15 111.5h1M18 111.5h1M29 111.5h1M26 112.5h1M11 114.5h1M9 115.5h2M33 115.5h1M11 116.5h1M17 116.5h1M9 117.5h2M34 117.5h1M3 118.5h2M8 118.5h1M17 118.5h1M5 119.5h1M17 119.5h1M20 119.5h1M37 119.5h1M6 120.5h1M48 120.5h1M45 121.5h1M49 121.5h1M5 122.5h1M15 122.5h1M21 123.5h1M50 123.5h1M8 124.5h2M21 124.5h1M2 125.5h1M4 125.5h3M21 126.5h1M6 127.5h1M17 127.5h1M2 128.5h1M6 128.5h1M3 129.5h3M7 129.5h1M18 129.5h1M4 130.5h1M5 131.5h1M3 132.5h1M5 132.5h1M20 132.5h1M5 133.5h2M15 133.5h1M21 133.5h1M4 134.5h2M7 134.5h1M10 134.5h1M5 135.5h1M8 135.5h1M19 135.5h1M21 135.5h1M22 136.5h2M17 137.5h1M22 137.5h1M10 138.5h1M23 138.5h3M24 139.5h1M11 140.5h1M24 140.5h1M8 141.5h1M16 142.5h1M3 143.5h1M8 143.5h1M16 143.5h1M3 144.5h1M6 144.5h4M18 144.5h1M30 144.5h2M2 145.5h2M8 145.5h3M3 146.5h1M10 146.5h1M17 146.5h2M26 146.5h1M29 146.5h1M5 147.5h1M10 147.5h1M16 147.5h1M24 147.5h1M26 147.5h1M5 148.5h1M16 148.5h1M31 148.5h1M28 149.5h1M9 150.5h1M26 150.5h1M23 151.5h1M35 151.5h1M7 152.5h2M21 152.5h1M27 152.5h1M28 153.5h1M31 153.5h1M43 153.5h2M4 154.5h1M24 154.5h1M32 154.5h2M39 154.5h1M3 155.5h1M13 155.5h2M23 155.5h2M33 155.5h2M43 155.5h2M11 156.5h1M40 156.5h2M3 157.5h1M5 157.5h1M12 157.5h1M40 157.5h1M50 157.5h1M3 158.5h1M24 158.5h1M27 158.5h1M32 158.5h1M51 158.5h1M12 159.5h1M18 159.5h1M27 159.5h1M31 159.5h1M36 159.5h1M38 159.5h1M42 159.5h1M6 160.5h1M11 160.5h1M16 160.5h1M23 160.5h2M28 160.5h1M33 160.5h1M45 160.5h1M3 161.5h2M17 161.5h2M24 161.5h1M34 161.5h1M37 161.5h1M4 162.5h1M7 162.5h2M23 162.5h1M36 162.5h1M39 162.5h3M48 162.5h1M7 163.5h1M10 163.5h1M25 163.5h1M31 163.5h1M36 163.5h1M42 163.5h1M49 163.5h1M17 164.5h1M19 164.5h1M31 164.5h1M41 164.5h2M7 165.5h2M45 165.5h1M7 166.5h1M43 166.5h3M14 167.5h2M43 167.5h2M30 168.5h2M10 169.5h2M46 169.5h1M50 169.5h1M9 170.5h1M13 170.5h1M26 170.5h1M37 170.5h1M44 170.5h2M50 170.5h1M10 171.5h5M47 171.5h2M50 171.5h1M6 172.5h4M30 172.5h1M47 172.5h3M3 173.5h1M6 173.5h1M45 173.5h1M2 174.5h1M37 174.5h2M45 174.5h2M27 175.5h1M40 175.5h2M45 175.5h3M26 176.5h1M29 176.5h1M41 176.5h2M46 176.5h1M39 177.5h1M41 177.5h2M16 178.5h1M34 178.5h1M49 178.5h1M1 179.5h2M7 179.5h1M33 179.5h1M37 179.5h1M49 179.5h2M35 180.5h3M44 180.5h1M51 180.5h1M32 182.5h1M35 182.5h1M3 183.5h2M29 183.5h2M13 184.5h1M38 185.5h1M43 185.5h1M34 186.5h2M45 186.5h1M7 187.5h2M16 187.5h1M15 188.5h1M42 188.5h1M50 188.5h1M3 189.5h1M51 189.5h1M6 190.5h1M1 191.5h1M4 191.5h1M7 191.5h1M50 191.5h1M1 192.5h1M4 192.5h1M7 192.5h1M18 192.5h1M4 193.5h1M2 194.5h5M8 195.5h1M19 196.5h2M11 198.5h1M9 199.5h1M20 199.5h1M16 200.5h2M19 200.5h1M11 201.5h1M15 202.5h2M12 203.5h1M19 203.5h1M13 204.5h1M14 205.5h1M18 205.5h1M20 205.5h1M16 206.5h2M18 207.5h1M28 208.5h1M36 208.5h1M23 209.5h1M27 209.5h1M35 209.5h1M23 212.5h1M27 212.5h1M28 213.5h1M31 213.5h1M30 214.5h2M34 214.5h1M29 215.5h1M32 215.5h1M37 215.5h1M44 215.5h1M50 215.5h1M30 216.5h2M39 216.5h2M49 216.5h2M40 218.5h1M42 218.5h1"/>
<path stroke="#005dff" d="M47 49.5h1M43 50.5h3M56 50.5h1M43 51.5h1M47 51.5h1M39 52.5h1M43 52.5h2M47 52.5h1M49 52.5h1M53 52.5h2M37 53.5h1M45 53.5h2M51 53.5h1M51 54.5h1M30 55.5h3M36 55.5h1M29 56.5h1M27 57.5h1M26 59.5h2M36 60.5h1M23 61.5h1M55 61.5h1M23 62.5h2M22 63.5h1M50 63.5h1M22 64.5h1M46 64.5h1M48 64.5h4M20 65.5h1M46 65.5h2M50 65.5h1M52 65.5h2M48 66.5h2M53 66.5h1M41 67.5h2M52 67.5h1M52 68.5h2M50 69.5h1M18 70.5h1M50 70.5h1M50 71.5h1M44 72.5h1M44 73.5h1M47 73.5h1M17 74.5h1M44 74.5h1M48 74.5h1M50 74.5h1M16 75.5h1M19 75.5h1M49 75.5h2M17 76.5h3M37 76.5h1M49 76.5h1M51 76.5h1M14 77.5h1M37 77.5h1M50 77.5h2M47 78.5h1M50 78.5h1M40 79.5h4M14 80.5h1M36 80.5h1M43 80.5h1M36 81.5h1M38 81.5h1M43 81.5h1M48 81.5h3M35 82.5h1M47 82.5h1M49 82.5h1M38 83.5h1M40 83.5h1M11 84.5h1M34 84.5h1M42 84.5h1M12 85.5h1M36 85.5h1M42 85.5h1M12 86.5h1M33 86.5h3M42 86.5h2M12 87.5h1M15 87.5h2M18 87.5h2M33 87.5h1M31 89.5h1M19 90.5h2M30 90.5h1M14 91.5h1M19 91.5h2M30 91.5h1M12 92.5h1M29 92.5h6M10 93.5h1M32 93.5h3M22 94.5h1M9 95.5h6M14 96.5h1M29 96.5h1M8 97.5h1M11 97.5h1M15 97.5h2M26 97.5h1M8 98.5h4M26 98.5h2M24 99.5h1M20 100.5h4M11 102.5h1M20 102.5h1M4 103.5h1M20 103.5h2M10 104.5h1M16 104.5h2M16 105.5h5M21 106.5h1M18 107.5h1M18 108.5h1M5 109.5h1M11 109.5h1M17 109.5h1M23 109.5h1M18 110.5h2M8 112.5h3M16 112.5h1M10 113.5h1M31 114.5h1M17 115.5h2M18 116.5h1M35 116.5h1M43 116.5h1M11 117.5h1M20 118.5h1M37 118.5h2M41 118.5h1M6 119.5h3M18 119.5h1M42 119.5h2M52 119.5h1M3 120.5h1M7 120.5h1M42 120.5h1M4 121.5h1M6 121.5h1M9 121.5h1M14 121.5h3M4 122.5h1M6 122.5h4M14 122.5h1M16 122.5h1M48 122.5h1M8 123.5h2M14 123.5h1M3 125.5h1M2 126.5h1M3 128.5h3M7 128.5h1M6 130.5h2M9 130.5h2M15 130.5h4M6 131.5h1M10 131.5h1M15 131.5h3M19 131.5h1M2 132.5h1M6 132.5h1M11 132.5h1M3 133.5h2M7 133.5h1M10 133.5h1M14 133.5h1M16 133.5h1M2 134.5h2M20 134.5h1M9 135.5h2M10 136.5h1M17 136.5h3M3 137.5h1M16 137.5h1M18 137.5h1M2 138.5h2M21 140.5h1M8 142.5h1M15 142.5h1M17 142.5h1M22 142.5h1M17 143.5h1M2 144.5h1M13 144.5h1M19 144.5h1M5 145.5h1M7 145.5h1M11 145.5h3M16 145.5h1M25 145.5h1M2 146.5h1M6 146.5h2M19 146.5h2M4 147.5h1M6 147.5h2M11 147.5h1M13 147.5h3M18 147.5h1M30 147.5h1M4 148.5h1M6 148.5h1M8 148.5h3M17 148.5h1M7 149.5h3M16 149.5h1M19 149.5h3M27 149.5h1M5 150.5h1M22 150.5h1M9 151.5h1M26 151.5h1M4 152.5h1M6 152.5h1M14 152.5h4M5 153.5h4M20 153.5h4M29 153.5h2M32 153.5h1M42 153.5h1M29 154.5h3M37 154.5h1M2 155.5h1M15 155.5h1M22 155.5h1M31 155.5h2M3 156.5h1M14 156.5h1M17 156.5h1M36 156.5h1M48 156.5h1M2 157.5h1M6 157.5h1M11 157.5h1M13 157.5h1M25 157.5h2M2 158.5h1M7 158.5h1M11 158.5h1M13 158.5h1M23 158.5h1M30 158.5h1M33 158.5h1M35 158.5h1M5 159.5h2M10 159.5h1M13 159.5h1M16 159.5h2M19 159.5h1M24 159.5h2M32 159.5h1M7 160.5h1M15 160.5h1M19 160.5h1M25 160.5h3M38 160.5h1M2 161.5h1M11 161.5h1M23 161.5h1M25 161.5h1M27 161.5h1M38 161.5h2M46 161.5h1M2 162.5h1M6 162.5h1M9 162.5h2M29 162.5h1M34 162.5h2M47 162.5h1M11 163.5h1M18 163.5h1M2 164.5h1M7 164.5h2M16 164.5h1M25 164.5h1M33 164.5h1M37 164.5h1M45 164.5h2M51 164.5h1M3 165.5h1M6 165.5h1M9 165.5h1M12 165.5h1M17 165.5h2M28 165.5h1M32 165.5h1M41 165.5h2M48 165.5h1M6 166.5h1M8 166.5h2M16 166.5h3M30 166.5h2M42 166.5h1M51 166.5h1M9 167.5h2M13 167.5h1M16 167.5h1M30 167.5h2M41 167.5h2M5 168.5h2M10 168.5h1M32 168.5h1M43 168.5h1M9 169.5h1M12 169.5h1M30 169.5h1M36 169.5h2M42 169.5h1M49 169.5h1M6 170.5h2M16 170.5h1M25 170.5h1M36 170.5h1M43 170.5h1M46 170.5h4M2 171.5h1M6 171.5h1M8 171.5h1M15 171.5h1M31 171.5h2M43 171.5h1M45 171.5h2M49 171.5h1M3 172.5h1M14 172.5h1M31 172.5h1M43 172.5h1M46 172.5h1M4 173.5h2M7 173.5h1M29 173.5h1M46 173.5h1M3 174.5h1M5 174.5h3M36 174.5h1M40 174.5h1M26 175.5h1M38 175.5h2M48 175.5h1M26 177.5h1M33 177.5h1M36 177.5h2M43 177.5h2M50 177.5h2M31 178.5h1M35 178.5h2M40 178.5h3M47 178.5h1M3 179.5h1M6 179.5h1M8 179.5h1M16 179.5h1M23 179.5h1M31 179.5h1M36 179.5h1M48 179.5h1M2 180.5h1M32 180.5h3M38 180.5h3M50 180.5h1M35 181.5h2M45 181.5h4M51 181.5h1M3 182.5h2M17 182.5h1M51 182.5h1M33 183.5h4M12 184.5h1M14 184.5h1M30 184.5h1M38 184.5h1M7 185.5h1M13 185.5h1M35 185.5h1M39 185.5h1M41 185.5h1M44 185.5h1M7 186.5h2M17 186.5h1M3 187.5h4M12 187.5h1M15 187.5h1M19 187.5h2M46 187.5h1M2 188.5h1M12 188.5h3M43 188.5h1M49 188.5h1M6 189.5h1M50 189.5h1M2 191.5h2M8 191.5h3M33 191.5h2M51 191.5h1M8 192.5h1M17 192.5h1M19 192.5h1M34 192.5h1M2 193.5h1M8 193.5h1M18 193.5h1M7 194.5h1M9 195.5h1M10 196.5h1M18 196.5h1M21 196.5h1M33 197.5h1M35 197.5h1M12 198.5h1M18 198.5h1M10 199.5h2M15 199.5h3M11 200.5h1M20 200.5h1M15 201.5h1M17 201.5h3M20 202.5h1M14 203.5h1M15 204.5h1M19 204.5h1M16 205.5h1M19 205.5h1M48 206.5h1M28 207.5h1M35 207.5h1M52 207.5h1M21 208.5h1M34 208.5h1M51 208.5h1M24 209.5h3M29 209.5h1M34 209.5h1M36 209.5h1M27 210.5h1M27 211.5h1M51 211.5h2M28 212.5h2M51 212.5h2M32 213.5h3M35 214.5h1M37 214.5h1M30 215.5h2M35 215.5h2M38 215.5h1M42 215.5h1M46 215.5h4M41 216.5h2M43 217.5h1M41 218.5h1"/>
<path stroke="#006cff" d="M48 49.5h2M48 50.5h2M42 51.5h1M44 51.5h3M48 51.5h5M55 51.5h2M40 52.5h3M50 52.5h1M55 52.5h2M38 53.5h1M40 53.5h3M49 53.5h2M56 53.5h1M34 54.5h3M46 54.5h3M50 54.5h1M56 54.5h1M37 55.5h1M30 56.5h1M36 56.5h2M30 57.5h2M27 58.5h1M31 58.5h1M30 59.5h1M25 60.5h3M30 60.5h1M35 60.5h1M24 61.5h2M28 61.5h1M54 61.5h1M25 62.5h1M53 62.5h1M23 63.5h4M49 63.5h1M39 64.5h1M45 64.5h1M47 64.5h1M51 65.5h1M19 66.5h1M50 66.5h1M52 66.5h1M43 67.5h1M46 67.5h1M51 67.5h1M54 67.5h1M40 68.5h3M49 68.5h1M54 68.5h1M20 69.5h1M54 69.5h1M19 70.5h1M24 71.5h1M19 72.5h1M45 72.5h1M50 72.5h1M19 73.5h1M27 73.5h1M48 73.5h1M50 73.5h1M18 74.5h1M41 74.5h3M49 74.5h1M18 75.5h1M45 75.5h4M36 76.5h1M38 76.5h1M40 76.5h1M47 76.5h1M20 77.5h2M44 77.5h3M14 78.5h1M20 78.5h1M36 78.5h1M41 78.5h4M36 79.5h1M39 79.5h1M37 80.5h1M39 80.5h4M13 81.5h1M35 81.5h1M37 81.5h1M51 81.5h1M13 82.5h1M48 82.5h1M11 83.5h1M13 83.5h1M33 83.5h1M41 83.5h1M33 84.5h1M40 84.5h1M34 85.5h2M41 85.5h1M32 86.5h1M17 87.5h1M17 88.5h3M32 88.5h1M16 89.5h1M14 90.5h1M18 90.5h1M21 90.5h3M27 90.5h3M29 91.5h1M13 92.5h3M19 93.5h1M23 93.5h1M26 93.5h1M9 94.5h2M19 94.5h2M22 95.5h1M15 96.5h3M22 96.5h1M28 96.5h1M12 97.5h3M17 97.5h1M27 97.5h1M29 97.5h1M12 98.5h1M19 99.5h5M19 100.5h1M20 101.5h1M11 104.5h1M14 104.5h2M18 104.5h2M13 105.5h1M17 106.5h1M10 107.5h1M11 108.5h1M22 108.5h1M16 109.5h1M18 109.5h1M9 110.5h3M15 110.5h1M26 110.5h1M8 111.5h1M10 111.5h2M14 111.5h1M23 111.5h1M11 112.5h1M15 112.5h1M17 112.5h1M33 112.5h1M29 113.5h1M11 115.5h1M14 115.5h3M14 116.5h1M16 116.5h1M17 117.5h1M47 117.5h1M9 118.5h1M16 118.5h1M18 118.5h1M9 119.5h1M14 119.5h3M38 119.5h4M44 119.5h1M8 120.5h1M14 120.5h1M16 120.5h2M45 120.5h1M7 121.5h2M17 121.5h1M48 121.5h1M3 122.5h1M10 122.5h1M17 122.5h1M4 123.5h4M13 123.5h1M15 123.5h1M17 123.5h1M2 124.5h1M7 124.5h1M10 124.5h1M13 124.5h2M16 124.5h2M7 125.5h1M9 125.5h1M7 126.5h1M14 126.5h2M7 127.5h1M10 127.5h1M10 128.5h1M17 128.5h1M8 129.5h3M14 129.5h2M5 130.5h1M7 131.5h1M9 131.5h1M11 131.5h1M14 131.5h1M18 131.5h1M7 132.5h1M10 132.5h1M13 132.5h5M19 132.5h1M2 133.5h1M11 133.5h1M17 133.5h1M20 133.5h1M8 134.5h2M14 134.5h2M19 134.5h1M2 135.5h3M18 135.5h1M2 136.5h1M14 136.5h3M19 137.5h1M17 138.5h1M9 140.5h1M13 140.5h1M21 141.5h2M3 142.5h1M2 143.5h1M11 143.5h2M15 143.5h1M18 143.5h1M22 143.5h2M15 144.5h1M6 145.5h1M24 145.5h1M11 146.5h1M13 146.5h2M16 146.5h1M23 146.5h1M3 147.5h1M12 147.5h1M20 147.5h1M7 148.5h1M11 148.5h1M15 148.5h1M26 148.5h2M4 149.5h1M12 149.5h1M17 149.5h2M26 149.5h1M29 149.5h1M3 150.5h2M30 150.5h1M32 150.5h1M5 151.5h1M14 151.5h1M21 151.5h1M31 151.5h1M3 152.5h1M5 152.5h1M9 152.5h1M20 152.5h1M2 153.5h1M19 153.5h1M27 153.5h1M2 154.5h1M22 154.5h2M25 154.5h1M28 154.5h1M4 155.5h1M12 155.5h1M26 155.5h1M28 155.5h1M38 155.5h1M41 155.5h2M45 155.5h1M51 155.5h1M2 156.5h1M4 156.5h1M10 156.5h1M18 156.5h1M26 156.5h1M10 157.5h1M21 157.5h4M27 157.5h1M29 157.5h1M37 157.5h1M21 158.5h2M34 158.5h1M38 158.5h1M2 159.5h3M14 159.5h2M23 159.5h1M39 159.5h1M2 160.5h4M13 160.5h2M22 160.5h1M32 160.5h1M39 160.5h1M44 160.5h1M8 161.5h1M10 161.5h1M16 161.5h1M19 161.5h1M26 161.5h1M33 161.5h1M40 161.5h1M5 162.5h1M11 162.5h1M15 162.5h1M17 162.5h1M22 162.5h1M26 162.5h1M28 162.5h1M30 162.5h1M42 162.5h1M6 163.5h1M12 163.5h1M16 163.5h2M19 163.5h1M23 163.5h1M30 163.5h1M32 163.5h1M35 163.5h1M6 164.5h1M9 164.5h5M20 164.5h1M24 164.5h1M26 164.5h1M36 164.5h1M38 164.5h3M50 164.5h1M4 165.5h2M10 165.5h2M13 165.5h1M16 165.5h1M19 165.5h1M27 165.5h1M29 165.5h1M31 165.5h1M33 165.5h1M43 165.5h2M2 166.5h4M10 166.5h6M29 166.5h1M32 166.5h1M40 166.5h2M11 167.5h2M17 167.5h1M4 168.5h1M9 168.5h1M11 168.5h1M15 168.5h1M18 168.5h1M26 168.5h2M29 168.5h1M40 168.5h1M42 168.5h1M6 169.5h3M13 169.5h1M26 169.5h1M29 169.5h1M31 169.5h1M35 169.5h1M47 169.5h2M3 170.5h1M5 170.5h1M8 170.5h1M14 170.5h2M17 170.5h1M27 170.5h1M3 171.5h1M7 171.5h1M30 171.5h1M5 172.5h1M10 172.5h2M13 172.5h1M15 172.5h1M32 172.5h1M28 173.5h1M30 173.5h1M38 173.5h2M42 173.5h1M4 174.5h1M8 174.5h1M26 174.5h2M39 174.5h1M1 175.5h1M5 175.5h3M28 175.5h2M37 175.5h1M12 176.5h1M37 176.5h2M47 176.5h2M25 177.5h1M27 177.5h2M32 177.5h1M34 177.5h2M38 177.5h1M1 178.5h1M6 178.5h2M10 178.5h1M15 178.5h1M25 178.5h1M37 178.5h1M43 178.5h1M45 178.5h2M50 178.5h2M9 179.5h2M17 179.5h1M22 179.5h1M34 179.5h1M38 179.5h1M40 179.5h2M44 179.5h2M1 180.5h1M7 180.5h2M23 180.5h1M46 180.5h4M32 181.5h3M37 181.5h4M49 181.5h2M16 182.5h1M18 182.5h1M31 182.5h1M46 182.5h2M50 182.5h1M2 183.5h1M19 183.5h2M31 183.5h2M3 184.5h5M11 184.5h1M29 184.5h1M31 184.5h1M35 184.5h1M42 184.5h1M3 185.5h4M8 185.5h1M12 185.5h1M14 185.5h1M30 185.5h1M40 185.5h1M45 185.5h1M48 185.5h1M51 185.5h1M6 186.5h1M12 186.5h2M16 186.5h1M18 186.5h2M30 186.5h1M36 186.5h2M46 186.5h4M51 186.5h1M2 187.5h1M13 187.5h1M17 187.5h1M30 187.5h1M34 187.5h1M41 187.5h1M1 188.5h1M6 188.5h1M16 188.5h1M41 188.5h1M44 188.5h2M1 189.5h2M37 189.5h2M49 189.5h1M7 190.5h1M9 190.5h3M31 190.5h1M35 190.5h2M42 190.5h1M18 191.5h4M32 191.5h1M35 191.5h1M37 191.5h1M49 191.5h1M2 192.5h2M9 192.5h1M13 192.5h1M20 192.5h1M33 192.5h1M38 192.5h1M3 193.5h1M17 193.5h1M34 193.5h1M45 193.5h1M42 194.5h2M13 195.5h1M46 195.5h2M16 196.5h2M22 196.5h1M33 196.5h2M47 197.5h1M13 198.5h1M19 198.5h1M44 198.5h2M12 199.5h3M44 199.5h1M15 200.5h1M25 200.5h1M12 201.5h3M16 201.5h1M46 201.5h2M12 202.5h1M14 202.5h1M21 202.5h2M13 203.5h1M20 203.5h1M14 204.5h1M20 204.5h1M15 205.5h1M21 205.5h1M18 206.5h1M47 206.5h1M36 207.5h1M27 208.5h1M29 208.5h1M52 209.5h1M35 210.5h2M30 212.5h1M32 212.5h1M40 212.5h1M35 213.5h3M48 213.5h1M36 214.5h1M38 214.5h1M52 214.5h1M39 215.5h1M45 215.5h1M41 217.5h1"/>
<path stroke="#007bff" d="M40 51.5h2M45 52.5h2M51 52.5h2M39 53.5h1M52 53.5h4M40 54.5h6M49 54.5h1M52 54.5h1M55 54.5h1M33 55.5h1M35 55.5h1M40 55.5h1M35 56.5h1M38 56.5h1M45 56.5h1M28 57.5h2M32 58.5h1M53 58.5h1M24 59.5h2M24 60.5h1M37 60.5h2M29 61.5h1M35 61.5h2M40 61.5h2M44 62.5h1M44 63.5h1M51 63.5h2M38 64.5h1M40 64.5h1M55 64.5h1M21 65.5h1M45 65.5h1M54 65.5h1M41 66.5h7M51 66.5h1M54 66.5h1M44 67.5h2M47 67.5h4M55 67.5h1M29 68.5h1M46 68.5h2M34 69.5h1M47 69.5h3M20 70.5h1M33 70.5h1M20 71.5h1M25 71.5h1M20 72.5h1M24 72.5h3M43 72.5h1M26 73.5h1M28 73.5h1M49 73.5h1M19 74.5h1M17 75.5h1M22 75.5h1M37 75.5h1M40 75.5h2M22 76.5h1M39 76.5h1M41 76.5h1M45 76.5h2M50 76.5h1M15 77.5h1M17 77.5h3M38 77.5h1M40 77.5h4M22 78.5h1M37 78.5h1M45 78.5h2M15 79.5h1M37 79.5h2M15 80.5h1M38 80.5h1M15 81.5h1M30 81.5h2M14 82.5h3M32 82.5h1M34 82.5h1M12 83.5h1M14 83.5h1M32 83.5h1M12 84.5h2M20 84.5h1M13 85.5h1M33 85.5h1M15 86.5h5M14 87.5h1M20 87.5h1M32 87.5h1M20 88.5h1M19 89.5h2M26 89.5h1M17 90.5h1M24 90.5h3M15 91.5h2M18 91.5h1M28 91.5h1M16 92.5h1M28 92.5h1M11 93.5h1M20 93.5h1M24 93.5h2M11 94.5h1M21 94.5h1M15 95.5h1M18 96.5h1M22 97.5h1M28 97.5h1M22 98.5h1M10 99.5h1M18 99.5h1M10 100.5h1M14 100.5h2M17 100.5h2M10 101.5h1M14 101.5h1M19 101.5h1M19 103.5h1M13 104.5h1M10 105.5h1M10 106.5h1M14 106.5h3M17 107.5h1M16 108.5h2M9 111.5h1M19 111.5h1M28 111.5h1M27 112.5h1M32 112.5h1M11 113.5h1M16 113.5h2M21 113.5h1M37 114.5h1M13 116.5h1M15 116.5h1M16 117.5h1M18 117.5h1M38 117.5h1M15 118.5h1M45 119.5h1M9 120.5h1M15 120.5h1M20 120.5h1M43 120.5h2M49 120.5h1M3 121.5h1M10 121.5h1M13 121.5h1M20 121.5h1M46 121.5h1M2 122.5h1M13 122.5h1M2 123.5h2M10 123.5h1M16 123.5h1M51 123.5h1M3 124.5h3M15 124.5h1M8 125.5h1M10 125.5h1M14 125.5h3M11 127.5h1M8 128.5h1M19 128.5h1M16 129.5h2M8 130.5h1M11 130.5h1M14 130.5h1M8 131.5h1M13 131.5h1M12 132.5h1M18 132.5h1M8 133.5h2M13 133.5h1M11 134.5h1M16 134.5h3M20 135.5h1M13 136.5h1M2 137.5h1M11 137.5h1M14 137.5h2M11 138.5h1M16 138.5h1M9 139.5h1M11 139.5h2M16 139.5h2M20 139.5h1M10 140.5h1M14 140.5h1M18 140.5h3M12 141.5h4M2 142.5h1M18 142.5h1M21 142.5h1M9 143.5h2M19 143.5h2M26 143.5h1M14 144.5h1M14 145.5h2M20 145.5h1M12 146.5h1M15 146.5h1M2 147.5h1M19 147.5h1M21 147.5h1M2 148.5h2M12 148.5h3M18 148.5h1M25 148.5h1M10 149.5h2M13 149.5h1M22 149.5h1M25 149.5h1M2 150.5h1M10 150.5h1M12 150.5h2M15 150.5h1M19 150.5h1M21 150.5h1M25 150.5h1M4 151.5h1M10 151.5h4M15 151.5h1M18 151.5h1M33 151.5h1M2 152.5h1M13 152.5h1M18 152.5h2M32 152.5h1M9 153.5h1M17 153.5h2M24 153.5h1M5 154.5h1M7 154.5h6M15 154.5h1M21 154.5h1M40 154.5h1M10 155.5h2M16 155.5h1M46 155.5h1M5 156.5h1M15 156.5h1M22 156.5h4M28 156.5h1M39 156.5h1M49 156.5h1M7 157.5h1M14 157.5h1M10 158.5h1M14 158.5h1M20 158.5h1M7 159.5h1M20 159.5h1M22 159.5h1M28 159.5h1M33 159.5h3M41 159.5h1M8 160.5h1M10 160.5h1M29 160.5h1M40 160.5h1M9 161.5h1M12 161.5h1M14 161.5h2M12 162.5h1M14 162.5h1M16 162.5h1M18 162.5h1M21 162.5h1M27 162.5h1M33 162.5h1M2 163.5h4M15 163.5h1M26 163.5h1M43 163.5h1M3 164.5h1M5 164.5h1M14 164.5h2M27 164.5h1M30 164.5h1M43 164.5h2M49 164.5h1M14 165.5h2M26 165.5h1M30 165.5h1M37 165.5h1M40 165.5h1M19 166.5h1M21 166.5h2M27 166.5h2M33 166.5h1M39 166.5h1M3 167.5h6M18 167.5h1M21 167.5h2M26 167.5h1M29 167.5h1M32 167.5h1M40 167.5h1M3 168.5h1M7 168.5h1M12 168.5h3M16 168.5h2M19 168.5h1M25 168.5h1M28 168.5h1M33 168.5h1M41 168.5h1M5 169.5h1M15 169.5h4M25 169.5h1M27 169.5h2M32 169.5h3M38 169.5h1M41 169.5h1M2 170.5h1M4 170.5h1M24 170.5h1M30 170.5h1M38 170.5h1M42 170.5h1M5 171.5h1M16 171.5h1M20 171.5h2M25 171.5h1M33 171.5h1M36 171.5h2M12 172.5h1M20 172.5h2M29 172.5h1M33 172.5h2M38 172.5h2M8 173.5h1M11 173.5h2M27 173.5h1M31 173.5h5M40 173.5h2M28 174.5h2M35 174.5h1M2 175.5h1M8 175.5h1M30 175.5h1M36 175.5h1M1 176.5h1M6 176.5h1M11 176.5h1M13 176.5h1M18 176.5h1M25 176.5h1M30 176.5h1M36 176.5h1M1 177.5h1M11 177.5h2M15 177.5h2M29 177.5h3M2 178.5h2M5 178.5h1M8 178.5h2M11 178.5h1M18 178.5h1M26 178.5h1M30 178.5h1M39 178.5h1M44 178.5h1M4 179.5h2M15 179.5h1M24 179.5h1M28 179.5h1M35 179.5h1M39 179.5h1M42 179.5h2M3 180.5h1M9 180.5h1M31 180.5h1M41 180.5h1M1 181.5h3M31 181.5h1M41 181.5h1M44 181.5h1M1 182.5h2M19 182.5h1M29 182.5h2M36 182.5h1M45 182.5h1M48 182.5h2M1 183.5h1M5 183.5h1M8 183.5h4M13 183.5h4M18 183.5h1M21 183.5h1M28 183.5h1M46 183.5h1M49 183.5h3M2 184.5h1M8 184.5h1M10 184.5h1M15 184.5h1M20 184.5h1M32 184.5h3M39 184.5h1M41 184.5h1M43 184.5h4M51 184.5h1M2 185.5h1M16 185.5h2M29 185.5h1M31 185.5h1M34 185.5h1M46 185.5h2M49 185.5h2M4 186.5h2M9 186.5h1M20 186.5h1M31 186.5h1M38 186.5h1M41 186.5h1M50 186.5h1M1 187.5h1M9 187.5h1M11 187.5h1M14 187.5h1M18 187.5h1M31 187.5h1M33 187.5h1M35 187.5h1M50 187.5h2M19 188.5h2M24 188.5h1M29 188.5h6M38 188.5h1M46 188.5h1M48 188.5h1M11 189.5h2M30 189.5h2M36 189.5h1M42 189.5h1M48 189.5h1M8 190.5h1M21 190.5h2M32 190.5h1M34 190.5h1M37 190.5h2M43 190.5h1M50 190.5h1M11 191.5h1M36 191.5h1M38 191.5h1M45 191.5h1M14 192.5h1M21 192.5h1M35 192.5h1M37 192.5h1M39 192.5h1M45 192.5h1M49 192.5h2M19 193.5h1M44 193.5h1M49 193.5h1M8 194.5h1M12 194.5h2M46 194.5h1M10 195.5h1M12 195.5h1M13 196.5h3M35 196.5h1M11 197.5h1M17 197.5h2M20 197.5h1M46 197.5h1M48 197.5h1M14 198.5h2M17 198.5h1M43 198.5h1M46 198.5h3M43 199.5h1M45 199.5h1M12 200.5h3M21 200.5h1M24 200.5h1M43 200.5h2M50 200.5h1M20 201.5h2M23 201.5h3M42 201.5h2M45 201.5h1M51 201.5h1M23 202.5h1M51 204.5h1M48 205.5h1M28 206.5h2M32 206.5h2M19 207.5h1M29 207.5h1M34 207.5h1M47 207.5h2M22 208.5h5M30 209.5h1M33 209.5h1M37 209.5h1M28 210.5h1M33 210.5h2M37 210.5h1M32 211.5h2M50 211.5h1M31 212.5h1M33 212.5h3M37 212.5h3M47 212.5h1M50 212.5h1M38 213.5h1M47 213.5h1M46 214.5h3M51 214.5h1M40 215.5h2M42 217.5h1"/>
<path stroke="#0089ff" d="M37 54.5h1M39 54.5h1M53 54.5h2M34 55.5h1M39 55.5h1M41 55.5h6M31 56.5h1M34 56.5h1M39 56.5h1M42 56.5h3M32 57.5h1M52 57.5h1M30 58.5h1M52 58.5h1M54 58.5h1M31 59.5h1M38 59.5h2M52 59.5h2M39 60.5h3M45 60.5h4M55 60.5h1M26 61.5h2M30 61.5h1M39 61.5h1M45 61.5h1M48 61.5h1M53 61.5h1M26 62.5h1M43 62.5h1M49 62.5h2M27 63.5h1M43 63.5h1M45 63.5h1M23 64.5h1M43 64.5h2M39 65.5h5M20 66.5h1M55 66.5h1M20 67.5h1M40 67.5h1M21 68.5h1M28 68.5h1M34 68.5h1M43 68.5h1M48 68.5h1M21 69.5h1M41 69.5h1M46 69.5h1M32 70.5h1M34 70.5h1M47 70.5h3M23 71.5h1M23 72.5h1M27 72.5h1M37 72.5h2M42 72.5h1M20 73.5h1M37 73.5h1M43 73.5h1M20 74.5h2M26 74.5h2M36 74.5h1M40 74.5h1M26 75.5h2M36 75.5h1M38 75.5h2M42 75.5h1M44 75.5h1M42 76.5h3M16 77.5h1M35 77.5h1M39 77.5h1M35 78.5h1M40 78.5h1M35 79.5h1M30 80.5h1M35 80.5h1M14 81.5h1M16 81.5h1M17 82.5h1M33 82.5h1M15 83.5h2M19 83.5h4M19 84.5h1M21 84.5h1M32 84.5h1M41 84.5h1M14 85.5h1M32 85.5h1M13 86.5h2M20 86.5h1M13 87.5h1M31 87.5h1M31 88.5h1M17 89.5h2M21 89.5h1M24 89.5h2M27 89.5h1M30 89.5h1M15 90.5h2M17 91.5h1M21 91.5h1M24 91.5h1M27 91.5h1M16 93.5h3M22 93.5h1M12 94.5h1M15 94.5h2M18 94.5h1M16 95.5h3M18 97.5h1M15 98.5h3M20 98.5h2M11 99.5h1M17 99.5h1M11 100.5h1M13 100.5h1M16 100.5h1M13 101.5h1M18 101.5h1M12 102.5h2M19 102.5h1M12 103.5h1M16 103.5h1M16 107.5h1M14 108.5h2M15 109.5h1M14 110.5h1M14 112.5h1M18 112.5h1M18 113.5h1M35 113.5h1M12 114.5h4M13 115.5h1M39 115.5h1M12 116.5h1M36 116.5h1M10 118.5h1M14 118.5h1M10 119.5h1M13 119.5h1M46 119.5h1M10 120.5h1M13 120.5h1M18 120.5h1M47 121.5h1M11 122.5h1M20 122.5h1M49 122.5h1M51 122.5h1M6 124.5h1M11 124.5h1M18 124.5h1M17 125.5h1M10 126.5h2M16 126.5h1M18 126.5h1M9 127.5h1M15 127.5h2M9 128.5h1M11 128.5h1M11 129.5h1M12 131.5h1M8 132.5h2M18 133.5h2M13 135.5h2M21 136.5h1M13 137.5h1M10 139.5h1M21 139.5h1M23 139.5h1M15 140.5h1M17 140.5h1M9 141.5h1M18 141.5h3M9 142.5h1M14 142.5h1M19 142.5h2M25 142.5h1M13 143.5h2M20 144.5h1M23 144.5h2M23 145.5h1M27 145.5h1M19 148.5h1M21 148.5h1M2 149.5h2M14 149.5h2M11 150.5h1M14 150.5h1M16 150.5h3M20 150.5h1M2 151.5h2M17 151.5h1M19 151.5h2M10 152.5h1M24 152.5h1M26 152.5h1M34 152.5h1M10 153.5h1M12 153.5h3M16 153.5h1M33 153.5h1M39 153.5h3M6 154.5h1M13 154.5h2M16 154.5h1M20 154.5h1M46 154.5h1M8 155.5h2M17 155.5h2M47 155.5h1M6 156.5h4M16 156.5h1M27 156.5h1M9 157.5h1M51 157.5h1M8 158.5h1M28 158.5h1M8 159.5h2M21 159.5h1M9 160.5h1M20 160.5h2M13 161.5h1M20 161.5h1M22 161.5h1M30 161.5h1M41 161.5h1M13 162.5h1M13 163.5h2M20 163.5h1M27 163.5h1M29 163.5h1M34 163.5h1M44 163.5h1M48 163.5h1M28 164.5h2M35 164.5h1M47 164.5h2M20 165.5h1M25 165.5h1M36 165.5h1M38 165.5h1M49 165.5h1M20 166.5h1M23 166.5h1M26 166.5h1M38 166.5h1M2 167.5h1M19 167.5h1M25 167.5h1M27 167.5h1M33 167.5h1M2 168.5h1M8 168.5h1M34 168.5h1M39 168.5h1M4 169.5h1M14 169.5h1M29 170.5h1M31 170.5h1M33 170.5h1M35 170.5h1M4 171.5h1M17 171.5h1M24 171.5h1M26 171.5h2M34 171.5h1M38 171.5h1M4 172.5h1M16 172.5h1M22 172.5h1M37 172.5h1M9 173.5h2M13 173.5h3M26 173.5h1M36 173.5h2M14 174.5h2M30 174.5h3M34 174.5h1M3 175.5h2M11 175.5h6M25 175.5h1M31 175.5h1M5 176.5h1M16 176.5h2M23 176.5h2M31 176.5h2M34 176.5h2M6 177.5h1M13 177.5h1M17 177.5h1M24 177.5h1M4 178.5h1M14 178.5h1M24 178.5h1M29 178.5h1M38 178.5h1M11 179.5h1M29 179.5h2M47 179.5h1M10 180.5h2M22 180.5h1M24 180.5h1M43 180.5h1M4 181.5h1M16 181.5h1M5 182.5h1M15 182.5h1M20 182.5h1M24 182.5h1M6 183.5h2M12 183.5h1M17 183.5h1M22 183.5h3M37 183.5h1M41 183.5h2M45 183.5h1M47 183.5h2M1 184.5h1M9 184.5h1M19 184.5h1M21 184.5h1M28 184.5h1M40 184.5h1M47 184.5h4M1 185.5h1M9 185.5h1M11 185.5h1M15 185.5h1M18 185.5h1M20 185.5h1M28 185.5h1M32 185.5h2M3 186.5h1M11 186.5h1M14 186.5h2M29 186.5h1M33 186.5h1M21 187.5h1M29 187.5h1M32 187.5h1M37 187.5h2M47 187.5h1M7 188.5h1M11 188.5h1M17 188.5h1M25 188.5h1M28 188.5h1M37 188.5h1M39 188.5h2M47 188.5h1M7 189.5h1M9 189.5h2M32 189.5h1M35 189.5h1M39 189.5h1M41 189.5h1M46 189.5h2M12 190.5h1M30 190.5h1M33 190.5h1M41 190.5h1M51 190.5h1M12 191.5h1M17 191.5h1M22 191.5h1M31 191.5h1M41 191.5h1M44 191.5h1M10 192.5h1M12 192.5h1M15 192.5h2M22 192.5h1M40 192.5h1M44 192.5h1M9 193.5h1M20 193.5h2M33 193.5h1M35 193.5h1M43 193.5h1M46 193.5h1M48 193.5h1M50 193.5h1M9 194.5h1M11 194.5h1M18 194.5h1M44 194.5h2M47 194.5h3M11 195.5h1M14 195.5h1M18 195.5h2M21 195.5h2M42 195.5h2M45 195.5h1M48 195.5h1M11 196.5h2M23 196.5h1M32 196.5h1M46 196.5h2M12 197.5h5M19 197.5h1M21 197.5h1M32 197.5h1M38 197.5h3M45 197.5h1M16 198.5h1M20 198.5h1M33 198.5h2M40 198.5h1M21 199.5h1M40 199.5h1M26 200.5h1M42 200.5h1M45 200.5h1M49 200.5h1M22 201.5h1M26 201.5h1M44 201.5h1M48 201.5h1M50 201.5h1M13 202.5h1M21 203.5h1M40 203.5h2M51 203.5h1M34 204.5h2M50 204.5h1M51 205.5h1M19 206.5h1M31 206.5h1M51 206.5h1M20 207.5h1M24 207.5h2M27 207.5h1M33 207.5h1M37 207.5h1M51 207.5h1M30 208.5h4M37 208.5h1M44 208.5h1M47 208.5h4M49 209.5h1M51 209.5h1M32 210.5h1M49 210.5h4M28 211.5h1M31 211.5h1M34 211.5h5M40 211.5h1M47 211.5h3M36 212.5h1M41 212.5h1M46 212.5h1M48 212.5h2M49 213.5h1M52 213.5h1M39 214.5h1M45 214.5h1M49 214.5h2"/>
<path stroke="#1598ff" d="M38 54.5h1M38 55.5h1M47 55.5h4M54 55.5h1M32 56.5h2M40 56.5h2M46 56.5h1M51 56.5h4M37 57.5h2M43 57.5h3M48 57.5h1M53 57.5h1M28 58.5h2M37 58.5h1M42 58.5h2M49 58.5h1M33 59.5h1M37 59.5h1M42 59.5h2M31 60.5h1M34 60.5h1M52 60.5h3M31 61.5h1M34 61.5h1M37 61.5h2M42 61.5h1M46 61.5h2M49 61.5h1M30 62.5h2M37 62.5h1M42 62.5h1M45 62.5h1M48 62.5h1M31 63.5h1M33 63.5h1M37 63.5h4M42 63.5h1M46 63.5h1M48 63.5h1M29 64.5h1M37 64.5h1M41 64.5h2M44 65.5h1M28 67.5h1M22 68.5h2M30 68.5h1M35 68.5h1M39 68.5h1M44 68.5h2M22 69.5h1M29 69.5h1M33 69.5h1M35 69.5h1M40 69.5h1M42 69.5h1M21 70.5h4M41 70.5h1M44 70.5h1M46 70.5h1M26 71.5h1M41 71.5h1M44 71.5h2M47 71.5h3M21 72.5h2M28 72.5h1M41 72.5h1M46 72.5h1M48 72.5h2M21 73.5h2M25 73.5h1M38 73.5h1M41 73.5h2M22 74.5h1M37 74.5h1M39 74.5h1M25 75.5h1M28 75.5h1M43 75.5h1M25 76.5h1M35 76.5h1M15 78.5h1M19 78.5h1M38 78.5h2M21 79.5h1M16 80.5h1M29 80.5h1M31 80.5h2M17 81.5h1M29 81.5h1M32 81.5h1M34 81.5h1M18 82.5h1M31 82.5h1M17 83.5h2M14 84.5h1M22 84.5h1M30 84.5h2M15 85.5h2M19 85.5h3M31 85.5h1M29 86.5h1M31 86.5h1M25 87.5h1M30 87.5h1M24 88.5h1M22 89.5h2M22 91.5h2M25 91.5h2M19 92.5h2M15 93.5h1M21 93.5h1M13 94.5h2M17 94.5h1M19 95.5h1M21 95.5h1M19 97.5h3M13 98.5h2M18 98.5h2M12 99.5h1M15 99.5h1M12 100.5h1M15 101.5h1M17 101.5h1M14 102.5h1M15 103.5h1M17 103.5h2M12 104.5h1M11 105.5h1M11 107.5h1M14 107.5h2M13 108.5h1M14 109.5h1M25 110.5h1M13 111.5h1M24 111.5h1M15 113.5h1M16 114.5h3M14 117.5h2M39 117.5h1M11 121.5h1M11 123.5h2M18 123.5h1M12 124.5h1M11 125.5h1M13 125.5h1M13 126.5h1M17 126.5h1M8 127.5h1M14 127.5h1M14 128.5h3M20 128.5h1M13 130.5h1M12 133.5h1M13 134.5h1M11 135.5h1M15 135.5h1M17 135.5h1M11 136.5h1M15 138.5h1M18 138.5h1M13 139.5h1M15 139.5h1M16 140.5h1M11 141.5h1M16 141.5h2M12 142.5h2M26 145.5h1M21 146.5h1M23 147.5h1M27 147.5h1M20 148.5h1M24 148.5h1M28 148.5h1M31 149.5h1M23 150.5h1M16 151.5h1M25 151.5h1M11 152.5h2M11 153.5h1M15 153.5h1M35 153.5h1M19 154.5h1M27 154.5h1M34 154.5h1M5 155.5h3M21 155.5h1M27 155.5h1M35 155.5h1M50 155.5h1M21 156.5h1M8 157.5h1M17 157.5h1M20 157.5h1M28 157.5h1M9 158.5h1M19 158.5h1M40 158.5h1M30 159.5h1M40 159.5h1M31 160.5h1M21 161.5h1M45 161.5h1M19 162.5h2M31 162.5h1M46 162.5h1M28 163.5h1M33 163.5h1M4 164.5h1M34 164.5h1M24 165.5h1M34 165.5h1M39 165.5h1M51 165.5h1M25 166.5h1M34 166.5h1M20 167.5h1M24 167.5h1M28 167.5h1M34 167.5h1M39 167.5h1M20 168.5h1M35 168.5h1M3 169.5h1M19 169.5h1M39 169.5h2M18 170.5h1M28 170.5h1M32 170.5h1M34 170.5h1M19 171.5h1M22 171.5h1M29 171.5h1M35 171.5h1M19 172.5h1M27 172.5h2M35 172.5h2M40 172.5h1M20 173.5h2M9 174.5h1M13 174.5h1M16 174.5h1M25 174.5h1M33 174.5h1M9 175.5h2M17 175.5h2M35 175.5h1M2 176.5h3M7 176.5h1M10 176.5h1M14 176.5h2M19 176.5h1M22 176.5h1M33 176.5h1M2 177.5h1M5 177.5h1M10 177.5h1M14 177.5h1M18 177.5h1M22 177.5h2M12 178.5h1M22 178.5h2M27 178.5h2M12 179.5h3M18 179.5h1M21 179.5h1M27 179.5h1M46 179.5h1M4 180.5h1M6 180.5h1M12 180.5h2M16 180.5h1M28 180.5h1M42 180.5h1M7 181.5h2M12 181.5h1M15 181.5h1M17 181.5h1M23 181.5h1M42 181.5h2M8 182.5h2M23 182.5h1M28 182.5h1M42 182.5h3M38 183.5h1M43 183.5h2M16 184.5h1M18 184.5h1M22 184.5h1M10 185.5h1M19 185.5h1M21 185.5h1M10 186.5h1M24 186.5h1M32 186.5h1M39 186.5h1M10 187.5h1M24 187.5h1M28 187.5h1M36 187.5h1M48 187.5h2M8 188.5h1M18 188.5h1M21 188.5h1M23 188.5h1M27 188.5h1M35 188.5h1M8 189.5h1M13 189.5h3M29 189.5h1M33 189.5h2M40 189.5h1M43 189.5h1M15 190.5h1M20 190.5h1M26 190.5h1M29 190.5h1M39 190.5h1M44 190.5h1M49 190.5h1M13 191.5h2M16 191.5h1M23 191.5h1M39 191.5h2M42 191.5h1M46 191.5h1M11 192.5h1M32 192.5h1M36 192.5h1M51 192.5h1M16 193.5h1M22 193.5h1M42 193.5h1M47 193.5h1M51 193.5h1M10 194.5h1M14 194.5h1M19 194.5h1M35 194.5h2M50 194.5h2M20 195.5h1M23 195.5h1M34 195.5h1M39 195.5h3M31 196.5h1M42 196.5h2M22 197.5h1M36 197.5h1M41 197.5h1M44 197.5h1M49 197.5h1M31 198.5h2M35 198.5h1M39 198.5h1M41 198.5h2M49 198.5h1M30 199.5h1M36 199.5h1M39 199.5h1M41 199.5h2M46 199.5h1M37 200.5h5M46 200.5h1M51 200.5h1M41 201.5h1M49 201.5h1M36 202.5h2M46 202.5h1M51 202.5h1M22 203.5h1M34 203.5h2M42 203.5h1M21 204.5h1M26 204.5h1M39 204.5h2M25 205.5h1M28 205.5h1M31 205.5h4M41 205.5h1M47 205.5h1M49 205.5h2M20 206.5h1M30 206.5h1M34 206.5h1M49 206.5h1M21 207.5h1M23 207.5h1M26 207.5h1M32 207.5h1M46 207.5h1M49 207.5h2M43 208.5h1M45 208.5h2M31 209.5h2M38 209.5h1M44 209.5h1M48 209.5h1M50 209.5h1M29 210.5h1M31 210.5h1M38 210.5h1M48 210.5h1M39 211.5h1M41 211.5h1M39 213.5h1M46 213.5h1M51 213.5h1M43 214.5h2"/>
<path stroke="#2ca7ff" d="M51 55.5h3M55 55.5h1M36 57.5h1M39 57.5h1M42 57.5h1M46 57.5h1M49 57.5h1M51 57.5h1M54 57.5h2M33 58.5h1M36 58.5h1M38 58.5h2M41 58.5h1M48 58.5h1M51 58.5h1M55 58.5h1M32 59.5h1M34 59.5h3M40 59.5h2M44 59.5h2M54 59.5h1M49 60.5h1M44 61.5h1M52 61.5h1M27 62.5h1M32 62.5h3M36 62.5h1M38 62.5h1M40 62.5h2M46 62.5h2M51 62.5h2M30 63.5h1M32 63.5h1M41 63.5h1M47 63.5h1M24 64.5h1M26 64.5h3M30 64.5h1M22 65.5h1M29 65.5h1M38 65.5h1M55 65.5h1M23 66.5h3M40 66.5h1M21 67.5h3M27 67.5h1M27 68.5h1M33 68.5h1M36 68.5h1M23 69.5h1M28 69.5h1M39 69.5h1M43 69.5h1M45 69.5h1M25 70.5h1M29 70.5h1M31 70.5h1M35 70.5h1M42 70.5h2M45 70.5h1M21 71.5h1M39 71.5h2M42 71.5h2M46 71.5h1M31 72.5h1M39 72.5h2M47 72.5h1M23 73.5h1M29 73.5h1M31 73.5h2M36 73.5h1M39 73.5h2M25 74.5h1M28 74.5h1M32 74.5h1M38 74.5h1M23 75.5h1M23 76.5h1M26 76.5h4M22 77.5h1M18 78.5h1M23 78.5h1M16 79.5h1M20 79.5h1M22 79.5h1M24 79.5h5M31 79.5h4M28 80.5h1M19 82.5h1M31 83.5h1M15 84.5h4M22 85.5h3M29 85.5h2M21 86.5h1M24 86.5h2M30 86.5h1M24 87.5h1M29 87.5h1M21 88.5h1M25 88.5h1M30 88.5h1M17 92.5h2M23 92.5h1M27 92.5h1M12 93.5h1M20 95.5h1M19 96.5h1M21 96.5h1M13 99.5h2M16 99.5h1M11 101.5h1M16 101.5h1M18 102.5h1M13 103.5h2M12 105.5h1M13 106.5h1M12 108.5h1M12 109.5h1M12 110.5h2M12 111.5h1M22 111.5h1M27 111.5h1M12 112.5h2M28 112.5h1M31 112.5h1M12 113.5h2M12 115.5h1M34 115.5h1M42 116.5h1M12 117.5h2M20 117.5h1M46 117.5h1M11 118.5h1M13 118.5h1M51 118.5h1M11 119.5h1M50 120.5h1M18 121.5h1M12 122.5h1M18 122.5h1M50 122.5h1M20 123.5h1M18 125.5h1M8 126.5h2M13 127.5h1M13 129.5h1M12 130.5h1M16 135.5h1M12 136.5h1M20 137.5h1M12 138.5h3M14 139.5h1M18 139.5h1M24 141.5h1M10 142.5h2M23 142.5h1M22 148.5h1M24 151.5h1M32 151.5h1M17 154.5h2M26 154.5h1M19 155.5h1M48 155.5h2M19 156.5h1M15 157.5h2M18 157.5h1M15 158.5h1M18 158.5h1M29 158.5h1M41 160.5h1M43 160.5h1M32 161.5h1M32 162.5h1M43 162.5h1M21 163.5h2M45 163.5h1M23 164.5h1M21 165.5h3M35 165.5h1M50 165.5h1M24 166.5h1M23 167.5h1M21 168.5h1M24 168.5h1M36 168.5h1M38 168.5h1M2 169.5h1M24 169.5h1M19 170.5h1M39 170.5h1M41 170.5h1M18 171.5h1M23 171.5h1M28 171.5h1M39 171.5h1M42 171.5h1M17 172.5h2M26 172.5h1M16 173.5h1M18 173.5h2M25 173.5h1M10 174.5h3M17 174.5h1M21 174.5h1M21 175.5h1M23 175.5h2M32 175.5h1M20 176.5h2M3 177.5h2M7 177.5h1M19 177.5h1M21 177.5h1M13 178.5h1M25 179.5h2M5 180.5h1M14 180.5h2M17 180.5h1M29 180.5h1M5 181.5h1M13 181.5h2M24 181.5h1M30 181.5h1M7 182.5h1M10 182.5h2M14 182.5h1M25 182.5h1M37 182.5h1M40 182.5h2M25 183.5h1M39 183.5h2M17 184.5h1M27 185.5h1M2 186.5h1M21 186.5h1M23 186.5h1M28 186.5h1M40 186.5h1M22 187.5h2M25 187.5h1M39 187.5h1M9 188.5h1M22 188.5h1M26 188.5h1M36 188.5h1M19 189.5h3M25 189.5h4M45 189.5h1M13 190.5h2M19 190.5h1M23 190.5h1M25 190.5h1M27 190.5h1M40 190.5h1M46 190.5h3M15 191.5h1M24 191.5h1M43 191.5h1M48 191.5h1M23 192.5h3M41 192.5h1M46 192.5h1M48 192.5h1M10 193.5h4M24 193.5h2M36 193.5h1M39 193.5h3M17 194.5h1M21 194.5h2M24 194.5h2M39 194.5h3M15 195.5h1M31 195.5h3M35 195.5h1M38 195.5h1M44 195.5h1M49 195.5h1M36 196.5h1M38 196.5h1M40 196.5h2M44 196.5h2M48 196.5h1M23 197.5h1M31 197.5h1M37 197.5h1M42 197.5h2M50 197.5h1M30 198.5h1M38 198.5h1M50 198.5h1M29 199.5h1M31 199.5h1M35 199.5h1M37 199.5h1M49 199.5h2M22 200.5h2M27 200.5h1M36 200.5h1M48 200.5h1M36 201.5h3M24 202.5h1M26 202.5h2M35 202.5h1M38 202.5h1M42 202.5h1M47 202.5h1M39 203.5h1M50 203.5h1M25 204.5h1M27 204.5h1M30 204.5h2M41 204.5h1M49 204.5h1M22 205.5h1M26 205.5h2M29 205.5h2M40 205.5h1M21 206.5h2M27 206.5h1M35 206.5h2M41 206.5h2M46 206.5h1M50 206.5h1M22 207.5h1M30 207.5h2M38 207.5h1M44 207.5h2M38 208.5h1M42 209.5h2M30 210.5h1M43 210.5h1M29 211.5h2M42 211.5h1M46 211.5h1M42 212.5h1M45 212.5h1M40 213.5h1M45 213.5h1M50 213.5h1M40 214.5h1M42 214.5h1"/>
<path stroke="#44b6ff" d="M56 55.5h1M48 56.5h3M55 56.5h1M33 57.5h3M40 57.5h2M47 57.5h1M34 58.5h2M40 58.5h1M44 58.5h1M50 58.5h1M46 59.5h1M51 59.5h1M32 60.5h2M42 60.5h1M44 60.5h1M50 60.5h2M43 61.5h1M28 62.5h2M35 62.5h1M39 62.5h1M28 63.5h2M34 63.5h1M36 63.5h1M25 64.5h1M31 64.5h1M33 64.5h2M23 65.5h6M30 65.5h1M34 65.5h1M21 66.5h2M26 66.5h2M24 67.5h1M36 67.5h1M39 67.5h1M24 68.5h1M26 68.5h1M31 68.5h1M37 68.5h2M24 69.5h4M30 69.5h1M32 69.5h1M36 69.5h1M38 69.5h1M44 69.5h1M26 70.5h1M28 70.5h1M30 70.5h1M40 70.5h1M22 71.5h1M27 71.5h2M32 71.5h2M38 71.5h1M32 72.5h1M36 72.5h1M24 73.5h1M23 74.5h2M33 74.5h1M35 74.5h1M24 75.5h1M29 75.5h1M35 75.5h1M24 76.5h1M30 76.5h1M34 76.5h1M30 77.5h2M16 78.5h2M24 78.5h1M32 78.5h1M34 78.5h1M17 79.5h3M23 79.5h1M17 80.5h2M24 80.5h4M33 80.5h2M18 81.5h1M33 81.5h1M30 82.5h1M23 83.5h1M23 84.5h1M29 84.5h1M17 85.5h2M28 86.5h1M21 87.5h1M28 87.5h1M23 88.5h1M29 88.5h1M28 89.5h2M21 92.5h2M24 92.5h3M13 93.5h2M20 96.5h1M12 101.5h1M17 102.5h1M11 106.5h1M13 107.5h1M21 108.5h1M13 109.5h1M24 110.5h1M14 113.5h1M30 113.5h1M32 114.5h1M20 116.5h1M40 117.5h1M42 118.5h1M11 120.5h1M12 121.5h1M12 127.5h1M13 128.5h1M12 134.5h1M12 135.5h1M12 137.5h1M19 138.5h2M19 139.5h1M22 140.5h1M10 141.5h1M21 143.5h1M24 143.5h1M22 144.5h1M28 146.5h1M30 148.5h1M30 149.5h1M31 150.5h1M33 152.5h1M25 153.5h2M36 154.5h1M41 154.5h1M45 154.5h1M20 155.5h1M20 156.5h1M50 156.5h1M19 157.5h1M39 157.5h1M16 158.5h2M30 160.5h1M46 163.5h2M21 164.5h1M37 166.5h1M22 168.5h2M37 168.5h1M20 170.5h1M23 172.5h1M17 173.5h1M22 173.5h1M18 174.5h1M20 174.5h1M22 174.5h1M19 175.5h2M22 175.5h1M33 175.5h2M8 176.5h2M9 177.5h1M20 177.5h1M19 178.5h1M21 178.5h1M19 179.5h2M18 180.5h1M21 180.5h1M27 180.5h1M30 180.5h1M6 181.5h1M11 181.5h1M18 181.5h1M22 181.5h1M28 181.5h2M6 182.5h1M12 182.5h2M21 182.5h2M38 182.5h2M27 183.5h1M23 184.5h5M22 185.5h1M1 186.5h1M25 186.5h1M26 187.5h2M40 187.5h1M10 188.5h1M16 189.5h1M18 189.5h1M22 189.5h1M24 189.5h1M44 189.5h1M16 190.5h1M18 190.5h1M24 190.5h1M28 190.5h1M45 190.5h1M25 191.5h1M29 191.5h2M47 191.5h1M26 192.5h1M42 192.5h2M14 193.5h2M23 193.5h1M26 193.5h1M32 193.5h1M37 193.5h2M15 194.5h1M20 194.5h1M23 194.5h1M26 194.5h2M31 194.5h2M34 194.5h1M37 194.5h1M16 195.5h2M24 195.5h1M30 195.5h1M24 196.5h1M37 196.5h1M39 196.5h1M49 196.5h1M24 197.5h1M26 197.5h1M51 197.5h1M21 198.5h1M26 198.5h1M36 198.5h1M28 199.5h1M32 199.5h1M38 199.5h1M48 199.5h1M29 200.5h2M35 200.5h1M47 200.5h1M27 201.5h1M35 201.5h1M39 201.5h2M25 202.5h1M28 202.5h1M39 202.5h3M43 202.5h1M45 202.5h1M50 202.5h1M27 203.5h2M30 203.5h4M36 203.5h3M28 204.5h2M33 204.5h1M36 204.5h1M38 204.5h1M48 204.5h1M24 205.5h1M35 205.5h1M39 205.5h1M42 205.5h1M23 206.5h3M37 206.5h1M43 206.5h1M43 207.5h1M39 209.5h1M41 209.5h1M45 209.5h1M47 209.5h1M39 210.5h1M42 210.5h1M44 210.5h1M43 211.5h1M41 213.5h1M44 213.5h1M41 214.5h1"/>
<path stroke="#5bc5ff" d="M47 56.5h1M50 57.5h1M45 58.5h1M47 58.5h1M47 59.5h4M55 59.5h1M43 60.5h1M32 61.5h2M50 61.5h2M32 64.5h1M35 64.5h2M33 65.5h1M28 66.5h1M32 66.5h1M39 66.5h1M29 67.5h1M34 67.5h2M37 67.5h1M25 68.5h1M32 68.5h1M31 69.5h1M37 69.5h1M27 70.5h1M39 70.5h1M29 71.5h1M31 71.5h1M29 72.5h2M30 73.5h1M33 73.5h1M29 74.5h1M32 75.5h2M23 77.5h2M29 77.5h1M32 77.5h1M34 77.5h1M25 78.5h1M31 78.5h1M33 78.5h1M29 79.5h2M19 80.5h1M21 80.5h3M19 81.5h1M20 82.5h1M29 82.5h1M30 83.5h1M24 84.5h3M25 85.5h1M22 86.5h2M23 87.5h1M22 88.5h1M26 88.5h1M15 102.5h2M23 110.5h1M25 111.5h1M36 114.5h1M37 116.5h1M50 118.5h1M12 119.5h1M47 119.5h1M12 120.5h1M12 125.5h1M12 126.5h1M19 127.5h1M12 128.5h1M12 129.5h1M22 138.5h1M25 144.5h2M27 146.5h1M22 147.5h1M43 154.5h2M37 155.5h1M37 156.5h2M29 159.5h1M42 161.5h1M35 167.5h1M38 167.5h1M20 169.5h1M23 170.5h1M40 170.5h1M24 172.5h2M41 172.5h2M19 174.5h1M23 174.5h2M8 177.5h1M20 178.5h1M19 180.5h1M25 180.5h1M9 181.5h1M19 181.5h1M27 181.5h1M26 182.5h2M23 185.5h4M22 186.5h1M17 189.5h1M23 189.5h1M17 190.5h1M26 191.5h1M28 191.5h1M29 192.5h1M31 192.5h1M47 192.5h1M16 194.5h1M28 194.5h1M33 194.5h1M38 194.5h1M25 195.5h5M36 195.5h2M50 195.5h1M26 196.5h1M30 196.5h1M50 196.5h1M25 197.5h1M27 197.5h1M30 197.5h1M25 198.5h1M29 198.5h1M37 198.5h1M51 198.5h1M26 199.5h2M33 199.5h2M47 199.5h1M51 199.5h1M28 200.5h1M31 200.5h1M29 202.5h1M34 202.5h1M44 202.5h1M48 202.5h2M23 203.5h1M25 203.5h2M29 203.5h1M43 203.5h1M22 204.5h1M24 204.5h1M32 204.5h1M37 204.5h1M42 204.5h1M47 204.5h1M23 205.5h1M36 205.5h3M45 205.5h2M26 206.5h1M38 206.5h3M44 206.5h2M42 208.5h1M40 209.5h1M46 209.5h1M40 210.5h2M45 210.5h1M47 210.5h1M45 211.5h1M43 212.5h2M42 213.5h2"/>
<path stroke="#72d4ff" d="M46 58.5h1M35 63.5h1M31 65.5h2M29 66.5h1M31 66.5h1M25 67.5h2M38 67.5h1M36 70.5h1M38 70.5h1M34 71.5h1M37 71.5h1M31 74.5h1M34 74.5h1M34 75.5h1M31 76.5h3M25 77.5h1M28 77.5h1M33 77.5h1M28 78.5h1M20 80.5h1M22 81.5h2M28 81.5h1M21 82.5h2M25 82.5h2M22 87.5h1M27 87.5h1M27 88.5h2M12 107.5h1M20 109.5h1M26 111.5h1M29 112.5h2M20 115.5h1M41 116.5h1M12 118.5h1M21 137.5h1M22 146.5h1M23 148.5h1M24 149.5h1M24 150.5h1M25 152.5h1M42 154.5h1M38 157.5h1M39 158.5h1M42 160.5h1M31 161.5h1M44 161.5h1M44 162.5h2M22 164.5h1M23 169.5h1M21 170.5h1M40 171.5h2M23 173.5h2M20 180.5h1M26 180.5h1M10 181.5h1M21 181.5h1M25 181.5h1M26 183.5h1M26 186.5h2M27 191.5h1M28 192.5h1M30 192.5h1M31 193.5h1M29 194.5h2M25 196.5h1M27 196.5h1M51 196.5h1M22 198.5h1M24 198.5h1M27 198.5h2M22 199.5h1M24 199.5h2M34 200.5h1M28 201.5h1M34 201.5h1M30 202.5h1M33 202.5h1M24 203.5h1M46 203.5h1M49 203.5h1M23 204.5h1M46 204.5h1M43 205.5h2M39 207.5h1M39 208.5h1M41 208.5h1M46 210.5h1M44 211.5h1"/>
<path stroke="#8ae3ff" d="M35 65.5h1M37 65.5h1M30 66.5h1M33 66.5h3M38 66.5h1M30 67.5h4M37 70.5h1M30 71.5h1M35 71.5h2M33 72.5h1M35 73.5h1M30 74.5h1M30 75.5h2M26 77.5h2M26 78.5h2M29 78.5h2M20 81.5h2M24 81.5h4M23 82.5h2M27 82.5h1M24 83.5h1M26 83.5h1M26 87.5h1M12 106.5h1M19 112.5h1M21 112.5h1M38 115.5h1M40 116.5h1M45 117.5h1M49 118.5h1M20 124.5h1M20 136.5h1M23 140.5h1M25 143.5h1M29 147.5h1M23 149.5h1M34 153.5h1M36 155.5h1M51 156.5h1M35 166.5h2M36 167.5h2M21 169.5h2M22 170.5h1M20 181.5h1M26 181.5h1M27 192.5h1M27 193.5h1M29 193.5h2M51 195.5h1M28 196.5h2M28 197.5h2M23 198.5h1M23 199.5h1M32 200.5h1M30 201.5h2M31 202.5h2M45 203.5h1M47 203.5h2M43 204.5h1M45 204.5h1M42 207.5h1M40 208.5h1"/>
<path stroke="#a1f1ff" d="M36 66.5h2M35 72.5h1M34 73.5h1M28 82.5h1M25 83.5h1M27 83.5h1M29 83.5h1M51 120.5h1M22 139.5h1M23 141.5h1M21 144.5h1M21 145.5h2M29 148.5h1M35 154.5h1M43 161.5h1M28 193.5h1M33 200.5h1M29 201.5h1M32 201.5h2M44 203.5h1M44 204.5h1M40 207.5h2"/>
<path stroke="#b8ffff" d="M36 65.5h1M34 72.5h1M27 84.5h1M28 85.5h1M27 86.5h1M31 113.5h1M34 113.5h1M38 116.5h2M43 118.5h1M48 119.5h1M24 142.5h1"/>
<path stroke="#d0ffff" d="M28 84.5h1M26 86.5h1M19 113.5h1M33 114.5h1M35 114.5h1M35 115.5h1M41 117.5h1M44 117.5h1M48 118.5h1M21 138.5h1M28 147.5h1"/>
<path stroke="#e7ffff" d="M22 109.5h1M32 113.5h1M20 114.5h1M19 115.5h1M37 115.5h1M44 118.5h2M20 125.5h1"/>
<path stroke="#ffffff" d="M28 83.5h1M26 85.5h2M21 109.5h1M20 110.5h3M20 111.5h2M20 112.5h1M20 113.5h1M33 113.5h1M19 114.5h1M34 114.5h1M36 115.5h1M19 116.5h1M19 117.5h1M42 117.5h2M19 118.5h1M46 118.5h2M19 119.5h1M49 119.5h3M19 120.5h1M19 121.5h1M19 122.5h1M19 123.5h1M19 124.5h1M19 125.5h1M19 126.5h2M20 127.5h1"/>
</g></g>
<g transform="translate(404.0 68.0) scale(4.7 2.35)" fill="none" stroke-width="1.06">
<path stroke="#05054e" d="M43 0.5h4M52 0.5h5M44 1.5h3M54 1.5h1M62 1.5h2M35 2.5h1M41 2.5h1M48 2.5h3M53 2.5h2M59 2.5h2M41 3.5h1M44 3.5h1M53 3.5h1M59 3.5h1M61 3.5h1M33 4.5h2M37 4.5h2M42 4.5h1M44 4.5h2M59 4.5h3M64 4.5h2M69 4.5h2M29 5.5h1M34 5.5h1M36 5.5h2M41 5.5h2M53 5.5h1M66 5.5h2M28 6.5h2M34 6.5h1M36 6.5h1M38 6.5h7M47 6.5h1M60 6.5h1M64 6.5h1M72 6.5h1M39 7.5h5M52 7.5h1M61 7.5h1M69 7.5h2M31 8.5h2M36 8.5h1M38 8.5h1M40 8.5h2M52 8.5h2M67 8.5h2M71 8.5h3M76 8.5h2M27 9.5h7M40 9.5h1M45 9.5h2M50 9.5h5M61 9.5h1M63 9.5h1M67 9.5h1M33 10.5h7M42 10.5h3M52 10.5h3M59 10.5h4M23 11.5h1M28 11.5h2M39 11.5h2M45 11.5h1M48 11.5h2M51 11.5h2M59 11.5h2M65 11.5h4M74 11.5h2M19 12.5h2M23 12.5h1M32 12.5h2M40 12.5h1M44 12.5h1M52 12.5h1M59 12.5h4M70 12.5h1M20 13.5h4M33 13.5h2M39 13.5h2M42 13.5h1M45 13.5h3M55 13.5h3M67 13.5h1M71 13.5h6M27 14.5h5M46 14.5h1M55 14.5h1M58 14.5h1M65 14.5h3M72 14.5h2M76 14.5h1M21 15.5h1M24 15.5h7M33 15.5h2M36 15.5h2M51 15.5h1M54 15.5h1M62 15.5h5M72 15.5h1M18 16.5h1M26 16.5h8M35 16.5h1M37 16.5h1M39 16.5h2M42 16.5h1M50 16.5h6M64 16.5h4M76 16.5h1M14 17.5h4M26 17.5h3M30 17.5h2M40 17.5h1M55 17.5h1M61 17.5h3M69 17.5h1M75 17.5h2M13 18.5h2M26 18.5h1M34 18.5h2M38 18.5h1M51 18.5h3M57 18.5h3M61 18.5h1M65 18.5h2M72 18.5h1M74 18.5h1M76 18.5h1M18 19.5h2M24 19.5h2M29 19.5h1M32 19.5h3M48 19.5h1M54 19.5h7M65 19.5h2M73 19.5h1M17 20.5h1M24 20.5h2M32 20.5h6M41 20.5h1M44 20.5h1M55 20.5h5M16 21.5h1M18 21.5h1M25 21.5h2M30 21.5h4M36 21.5h2M43 21.5h2M48 21.5h1M51 21.5h1M55 21.5h1M63 21.5h1M66 21.5h2M73 21.5h2M9 22.5h2M14 22.5h1M17 22.5h1M24 22.5h4M29 22.5h1M31 22.5h2M38 22.5h1M44 22.5h2M49 22.5h2M64 22.5h1M66 22.5h1M73 22.5h1M15 23.5h2M25 23.5h1M33 23.5h1M38 23.5h1M40 23.5h1M52 23.5h1M70 23.5h1M73 23.5h3M14 24.5h1M16 24.5h2M20 24.5h6M30 24.5h4M39 24.5h3M51 24.5h1M53 24.5h1M57 24.5h2M67 24.5h1M72 24.5h3M8 25.5h2M15 25.5h3M22 25.5h3M33 25.5h1M44 25.5h4M51 25.5h4M58 25.5h2M62 25.5h1M67 25.5h1M69 25.5h1M71 25.5h3M6 26.5h2M13 26.5h3M21 26.5h3M43 26.5h1M50 26.5h1M52 26.5h3M62 26.5h1M64 26.5h1M68 26.5h3M73 26.5h2M10 27.5h1M14 27.5h5M21 27.5h1M58 27.5h2M61 27.5h2M64 27.5h2M72 27.5h2M22 28.5h2M29 28.5h2M33 28.5h9M62 28.5h1M72 28.5h1M12 29.5h1M15 29.5h2M24 29.5h5M36 29.5h3M40 29.5h3M52 29.5h2M59 29.5h1M66 29.5h5M73 29.5h3M12 30.5h1M17 30.5h1M21 30.5h1M34 30.5h4M43 30.5h1M51 30.5h2M60 30.5h1M73 30.5h1M6 31.5h1M12 31.5h3M16 31.5h2M27 31.5h1M35 31.5h1M49 31.5h1M51 31.5h1M56 31.5h7M69 31.5h1M8 32.5h1M11 32.5h1M14 32.5h1M23 32.5h2M29 32.5h1M31 32.5h1M41 32.5h3M51 32.5h1M53 32.5h3M59 32.5h3M63 32.5h1M69 32.5h1M7 33.5h2M12 33.5h4M19 33.5h1M29 33.5h2M36 33.5h2M43 33.5h1M51 33.5h4M60 33.5h3M68 33.5h1M13 34.5h1M16 34.5h1M18 34.5h3M25 34.5h2M29 34.5h1M34 34.5h1M37 34.5h2M41 34.5h1M43 34.5h1M45 34.5h2M52 34.5h2M55 34.5h2M60 34.5h2M63 34.5h1M66 34.5h3M73 34.5h1M13 35.5h3M19 35.5h2M25 35.5h2M29 35.5h2M45 35.5h1M47 35.5h1M52 35.5h4M62 35.5h1M72 35.5h1M74 35.5h1M6 36.5h1M9 36.5h3M14 36.5h2M17 36.5h3M25 36.5h2M29 36.5h1M46 36.5h2M51 36.5h2M64 36.5h2M70 36.5h1M72 36.5h2M6 37.5h1M9 37.5h2M30 37.5h2M36 37.5h1M46 37.5h1M64 37.5h2M72 37.5h1M36 38.5h1M44 38.5h1M47 38.5h1M50 38.5h2M59 38.5h3M65 38.5h1M73 38.5h2M12 39.5h3M21 39.5h3M25 39.5h2M38 39.5h1M44 39.5h3M50 39.5h1M53 39.5h1M63 39.5h1M67 39.5h3M74 39.5h1M8 40.5h4M23 40.5h1M27 40.5h2M30 40.5h3M37 40.5h3M43 40.5h1M54 40.5h1M64 40.5h1M67 40.5h1M72 40.5h3M21 41.5h1M24 41.5h3M30 41.5h4M37 41.5h1M47 41.5h2M55 41.5h2M58 41.5h2M70 41.5h2M9 42.5h1M18 42.5h1M23 42.5h2M26 42.5h3M30 42.5h3M36 42.5h1M42 42.5h1M46 42.5h1M48 42.5h1M65 42.5h1M71 42.5h1M22 43.5h2M25 43.5h2M28 43.5h2M33 43.5h1M41 43.5h1M45 43.5h1M49 43.5h3M70 43.5h2M6 44.5h1M14 44.5h2M23 44.5h2M29 44.5h1M34 44.5h2M41 44.5h2M57 44.5h2M60 44.5h1M72 44.5h1M10 45.5h1M17 45.5h1M24 45.5h2M29 45.5h1M40 45.5h2M44 45.5h7M62 45.5h1M65 45.5h2M17 46.5h1M25 46.5h1M37 46.5h6M46 46.5h1M54 46.5h1M60 46.5h1M62 46.5h2M68 46.5h4M17 47.5h3M36 47.5h2M43 47.5h1M59 47.5h3M64 47.5h2M69 47.5h1M6 48.5h2M11 48.5h1M14 48.5h4M28 48.5h1M34 48.5h1M41 48.5h1M50 48.5h1M56 48.5h1M60 48.5h3M64 48.5h1M71 48.5h2M11 49.5h1M15 49.5h3M30 49.5h1M37 49.5h3M44 49.5h3M50 49.5h1M54 49.5h2M67 49.5h2M70 49.5h1M72 49.5h1M6 50.5h4M11 50.5h1M22 50.5h1M42 50.5h1M47 50.5h4M53 50.5h5M69 50.5h2M73 50.5h1M7 51.5h2M17 51.5h1M20 51.5h1M24 51.5h4M29 51.5h1M31 51.5h2M34 51.5h1M37 51.5h1M39 51.5h2M42 51.5h2M55 51.5h4M65 51.5h1M69 51.5h1M73 51.5h1M19 52.5h2M24 52.5h4M31 52.5h2M34 52.5h1M40 52.5h2M47 52.5h3M55 52.5h4M65 52.5h2M71 52.5h1M6 53.5h2M9 53.5h4M16 53.5h1M19 53.5h1M25 53.5h2M30 53.5h2M36 53.5h5M42 53.5h1M45 53.5h2M48 53.5h1M51 53.5h1M73 53.5h1M6 54.5h1M9 54.5h2M16 54.5h1M26 54.5h2M29 54.5h1M31 54.5h1M33 54.5h2M42 54.5h3M46 54.5h2M50 54.5h2M54 54.5h5M60 54.5h1M6 55.5h1M9 55.5h3M13 55.5h1M26 55.5h4M37 55.5h2M47 55.5h1M7 56.5h2M11 56.5h1M22 56.5h1M25 56.5h7M36 56.5h1M38 56.5h1M45 56.5h1M6 57.5h2M22 57.5h7M33 57.5h6M7 58.5h1M15 58.5h1M21 58.5h2M19 59.5h3M27 59.5h5M14 60.5h2M19 60.5h4M24 60.5h1M30 60.5h3M8 61.5h1M16 61.5h1M24 61.5h2M7 62.5h1M18 62.5h6M26 62.5h2M11 63.5h3M21 63.5h4M27 63.5h1M6 64.5h1M8 64.5h4M14 64.5h1M25 64.5h1M7 65.5h1M10 65.5h1M13 65.5h1M17 65.5h3M8 66.5h2M13 66.5h4M6 67.5h1M15 67.5h1M17 67.5h1M21 67.5h2M17 68.5h2M18 69.5h2M7 70.5h3M19 70.5h1M5 71.5h1M14 71.5h2M20 71.5h1M12 72.5h3M8 73.5h5M7 74.5h1M12 74.5h1M17 74.5h1M7 75.5h6M16 75.5h1M8 76.5h1M5 77.5h1M16 77.5h2M5 78.5h2M13 79.5h2M16 79.5h2M9 80.5h2M12 80.5h3M5 81.5h1M12 81.5h2M9 82.5h4M8 83.5h1M11 83.5h2M10 84.5h1M13 84.5h1M7 85.5h2M10 85.5h3M11 86.5h2M5 87.5h2M5 88.5h2M8 88.5h1M13 88.5h1M5 89.5h2M7 90.5h3M11 90.5h1M5 91.5h1M10 91.5h3M8 92.5h2M12 92.5h1M5 93.5h1M8 93.5h1M10 95.5h1M5 96.5h1M9 96.5h1M6 97.5h2M7 98.5h2M6 99.5h3M8 100.5h1M7 102.5h2M6 106.5h1M5 108.5h1M6 113.5h2M4 117.5h3M7 119.5h1M7 120.5h1M51 120.5h1M55 120.5h2M5 121.5h1M55 121.5h2M46 122.5h1M48 122.5h1M57 124.5h1M4 125.5h2M43 125.5h1M50 125.5h1M60 125.5h1M42 126.5h1M49 126.5h2M58 126.5h2M52 127.5h2M55 127.5h2M58 127.5h2M62 127.5h1M56 128.5h1M61 128.5h2M43 129.5h2M51 129.5h1M57 129.5h4M43 130.5h2M47 130.5h3M55 130.5h3M42 131.5h2M46 131.5h1M48 131.5h1M58 131.5h1M45 132.5h1M53 132.5h1M61 132.5h1M43 133.5h4M57 133.5h1M60 133.5h1M56 134.5h2M4 135.5h1M50 135.5h2M54 135.5h1M58 135.5h1M52 136.5h1M54 136.5h2M51 137.5h2M55 137.5h2M52 138.5h2M33 148.5h2M30 149.5h3M35 149.5h1M38 149.5h1M30 150.5h1M33 150.5h1M35 150.5h4M31 151.5h1M34 151.5h1M38 151.5h1M38 152.5h4M44 152.5h1M30 153.5h1M36 153.5h6M45 153.5h1M38 154.5h4M43 154.5h3M35 155.5h1M40 155.5h1M44 155.5h2M53 155.5h2M32 156.5h1M34 156.5h3M53 156.5h1M55 156.5h1M46 158.5h1M48 158.5h1M31 159.5h1M47 159.5h4M33 160.5h4M38 160.5h6M31 161.5h5M40 161.5h6M47 161.5h1M57 161.5h1M62 161.5h2M31 162.5h1M35 162.5h3M41 162.5h2M44 162.5h1M51 162.5h1M53 162.5h5M36 163.5h3M42 163.5h1M44 163.5h4M49 163.5h1M53 163.5h1M32 164.5h1M48 164.5h1M57 164.5h2M60 164.5h1M32 165.5h4M57 165.5h2M63 165.5h1M66 166.5h1M34 167.5h3M56 167.5h3M60 167.5h3M65 167.5h1M32 168.5h1M35 168.5h2M41 168.5h4M46 168.5h1M53 168.5h2M57 168.5h2M61 168.5h2M42 169.5h2M46 169.5h4M51 169.5h9M41 170.5h1M46 170.5h3M57 170.5h3M34 171.5h1M36 171.5h4M42 171.5h1M49 171.5h2M59 171.5h6M66 171.5h1M39 172.5h4M47 172.5h1M63 172.5h4M37 173.5h2M40 173.5h1M47 173.5h1M55 173.5h6M36 174.5h1M40 174.5h1M44 174.5h1M46 174.5h2M57 174.5h4M64 174.5h1M36 175.5h1M46 175.5h1M48 175.5h1M53 175.5h1M55 175.5h6M62 175.5h2M65 175.5h1M38 176.5h1M46 176.5h3M50 176.5h1M58 176.5h5M39 177.5h1M42 177.5h2M56 177.5h4M56 178.5h4M62 178.5h1M40 179.5h3M48 179.5h1M51 180.5h3M55 180.5h2M58 180.5h2M51 181.5h3M57 181.5h2M63 181.5h1M44 182.5h1M49 182.5h2M52 182.5h1M55 182.5h2M65 182.5h2M48 183.5h3M52 183.5h2M55 183.5h3M65 183.5h1M49 184.5h2M52 184.5h6M59 184.5h2M57 185.5h1M59 185.5h2M53 186.5h1M58 186.5h1M58 187.5h1M2 263.5h5M3 264.5h2M1 268.5h1M7 268.5h1M11 269.5h3M12 270.5h2M1 271.5h1M3 272.5h1M8 272.5h2M3 273.5h1M10 273.5h3M3 274.5h1M5 274.5h3M10 274.5h1M13 274.5h1M7 275.5h8M17 275.5h2M6 276.5h1M13 276.5h5M2 277.5h1M5 277.5h2M19 277.5h1M1 278.5h2M5 278.5h2M18 278.5h2M21 278.5h1M6 279.5h1M8 279.5h1M22 279.5h1M10 280.5h3M16 280.5h1M25 280.5h1M1 281.5h2M26 281.5h2M4 282.5h1M7 282.5h2M14 282.5h5M26 282.5h2M1 283.5h2M4 283.5h1M8 283.5h4M3 284.5h2M6 284.5h1M21 284.5h1M34 284.5h1M1 285.5h7M9 285.5h1M19 285.5h2M25 285.5h1M28 285.5h1M30 285.5h2M33 285.5h1M5 286.5h1M7 286.5h1M12 286.5h3M22 286.5h8M35 286.5h1M38 286.5h1M9 287.5h1M11 287.5h3M24 287.5h2M27 287.5h3M38 287.5h2M56 287.5h1M3 288.5h1M5 288.5h3M18 288.5h1M25 288.5h1M27 288.5h2M35 288.5h1M39 288.5h1M41 288.5h2M54 288.5h2M3 289.5h2M6 289.5h2M19 289.5h1M37 289.5h1M47 289.5h4M52 289.5h4M57 289.5h1M8 290.5h2M12 290.5h1M15 290.5h2M30 290.5h1M34 290.5h2M37 290.5h1M46 290.5h2M51 290.5h2M54 290.5h4M64 290.5h3M3 291.5h1M5 291.5h2M8 291.5h6M22 291.5h3M26 291.5h1M29 291.5h1M31 291.5h2M35 291.5h7M43 291.5h1M45 291.5h3M49 291.5h5M61 291.5h1M1 292.5h4M8 292.5h3M17 292.5h1M19 292.5h1M27 292.5h3M33 292.5h1M43 292.5h1M50 292.5h6M2 293.5h3M9 293.5h2M21 293.5h5M27 293.5h7M41 293.5h4M46 293.5h1M67 293.5h1M6 294.5h1M8 294.5h2M13 294.5h1M16 294.5h1M19 294.5h2M22 294.5h6M32 294.5h3M45 294.5h1M54 294.5h3M64 294.5h1M67 294.5h1M4 295.5h1M18 295.5h1M20 295.5h2M30 295.5h2M55 295.5h1M58 295.5h1M60 295.5h2M63 295.5h3M22 296.5h1M26 296.5h1M28 296.5h2M39 296.5h1M59 296.5h6M24 297.5h1M27 297.5h1M38 297.5h1M48 297.5h3M58 297.5h6M6 298.5h1M9 298.5h1M13 298.5h1M17 298.5h2M20 298.5h9M30 298.5h4M36 298.5h1M40 298.5h6M49 298.5h1M57 298.5h2M61 298.5h1M64 298.5h1M9 299.5h3M25 299.5h1M32 299.5h2M42 299.5h2M50 299.5h2M55 299.5h5M9 300.5h1M11 300.5h1M25 300.5h4M52 300.5h2M61 300.5h3M10 301.5h1M20 301.5h1M28 301.5h3M61 301.5h2M8 302.5h2M13 302.5h1M23 302.5h2M26 302.5h5M36 302.5h1M40 302.5h2M55 302.5h3M59 302.5h1M66 302.5h2M13 303.5h2M19 303.5h2M41 303.5h2M52 303.5h1M54 303.5h5M14 304.5h3M19 304.5h2M22 304.5h1M27 304.5h3M45 304.5h1M51 304.5h2M55 304.5h5M12 305.5h1M17 305.5h4M24 305.5h9M40 305.5h1M50 305.5h1M12 306.5h1M17 306.5h2M21 306.5h4M26 306.5h2M30 306.5h2M53 306.5h4M67 306.5h1M18 307.5h2M23 307.5h1M25 307.5h2M30 307.5h1M58 307.5h1M60 307.5h1M25 308.5h2M30 308.5h2M35 308.5h1M37 308.5h2M47 308.5h2M55 308.5h2M60 308.5h1M18 309.5h1M38 309.5h1M43 309.5h1M52 309.5h1M58 309.5h3M62 309.5h2M65 309.5h1M17 310.5h1M20 310.5h1M24 310.5h2M27 310.5h3M34 310.5h1M51 310.5h1M53 310.5h4M60 310.5h3M64 310.5h4M17 311.5h1M19 311.5h4M24 311.5h5M32 311.5h2M38 311.5h3M46 311.5h1M48 311.5h1M50 311.5h3M18 312.5h3M22 312.5h1M28 312.5h1M36 312.5h2M44 312.5h3M52 312.5h2M22 313.5h1M26 313.5h1M37 313.5h2M51 313.5h3M25 314.5h3M36 314.5h2M42 314.5h1M50 314.5h3M54 314.5h2M59 314.5h2M27 315.5h1M39 315.5h1M45 315.5h4M50 315.5h1M54 315.5h2M65 315.5h3M24 316.5h2M27 316.5h2M30 316.5h1M32 316.5h1M45 316.5h1M48 316.5h2M52 316.5h2M63 316.5h3M24 317.5h1M26 317.5h1M30 317.5h1M48 317.5h1M50 317.5h3M60 317.5h4M50 318.5h1M60 318.5h3M36 319.5h2M62 319.5h1M65 319.5h1M29 320.5h2M49 320.5h2M52 320.5h2M66 320.5h1M31 321.5h2M35 321.5h2M40 321.5h1M51 321.5h1M54 321.5h2M66 321.5h1M33 322.5h3M44 322.5h1M46 322.5h1M48 322.5h1M51 322.5h3M56 322.5h1M35 323.5h1M44 323.5h3M54 323.5h1M38 324.5h1M53 324.5h2M56 324.5h3M60 324.5h2M52 325.5h6M59 325.5h1"/>
<path stroke="#fff" d="M42 0.5h1M47 0.5h5M58 0.5h2M38 1.5h2M42 1.5h1M51 1.5h3M55 1.5h6M37 2.5h4M42 2.5h3M51 2.5h2M55 2.5h4M63 2.5h4M38 3.5h3M47 3.5h3M51 3.5h2M54 3.5h5M63 3.5h2M68 3.5h1M31 4.5h2M47 4.5h11M68 4.5h1M30 5.5h4M48 5.5h3M55 5.5h4M61 5.5h3M69 5.5h4M27 6.5h1M31 6.5h3M45 6.5h1M48 6.5h3M54 6.5h4M70 6.5h2M26 7.5h3M33 7.5h6M45 7.5h7M53 7.5h7M62 7.5h5M75 7.5h1M24 8.5h6M33 8.5h3M37 8.5h1M42 8.5h10M54 8.5h5M61 8.5h6M70 8.5h1M74 8.5h1M23 9.5h4M35 9.5h4M41 9.5h3M49 9.5h1M60 9.5h1M70 9.5h3M74 9.5h3M21 10.5h11M45 10.5h2M49 10.5h2M58 10.5h1M69 10.5h9M25 11.5h3M33 11.5h5M41 11.5h4M50 11.5h1M54 11.5h5M69 11.5h3M76 11.5h2M24 12.5h4M30 12.5h2M49 12.5h3M53 12.5h3M66 12.5h4M76 12.5h2M18 13.5h1M24 13.5h8M35 13.5h2M41 13.5h1M49 13.5h6M59 13.5h6M68 13.5h3M17 14.5h4M22 14.5h4M33 14.5h13M48 14.5h7M56 14.5h2M63 14.5h1M68 14.5h3M75 14.5h1M18 15.5h3M35 15.5h1M38 15.5h12M52 15.5h2M56 15.5h6M67 15.5h5M73 15.5h4M20 16.5h6M38 16.5h1M45 16.5h5M58 16.5h3M69 16.5h4M21 17.5h5M29 17.5h1M39 17.5h1M43 17.5h9M54 17.5h1M58 17.5h2M64 17.5h2M70 17.5h4M15 18.5h2M27 18.5h4M33 18.5h1M43 18.5h7M70 18.5h2M75 18.5h1M12 19.5h5M20 19.5h4M26 19.5h3M36 19.5h8M46 19.5h2M51 19.5h3M61 19.5h4M70 19.5h3M74 19.5h3M11 20.5h6M20 20.5h4M38 20.5h2M46 20.5h9M62 20.5h7M70 20.5h4M10 21.5h6M19 21.5h5M34 21.5h2M40 21.5h2M45 21.5h2M49 21.5h2M52 21.5h3M56 21.5h5M62 21.5h1M71 21.5h2M11 22.5h2M18 22.5h6M33 22.5h3M39 22.5h4M46 22.5h3M54 22.5h10M67 22.5h6M8 23.5h6M17 23.5h5M28 23.5h3M34 23.5h3M39 23.5h1M41 23.5h9M54 23.5h16M71 23.5h2M10 24.5h4M18 24.5h2M26 24.5h3M34 24.5h3M42 24.5h4M48 24.5h2M55 24.5h2M61 24.5h6M69 24.5h1M75 24.5h1M7 25.5h1M11 25.5h2M19 25.5h1M25 25.5h7M34 25.5h9M48 25.5h2M55 25.5h3M65 25.5h2M68 25.5h1M74 25.5h2M8 26.5h1M12 26.5h1M16 26.5h4M25 26.5h2M29 26.5h7M37 26.5h4M44 26.5h6M55 26.5h7M63 26.5h1M75 26.5h1M7 27.5h1M11 27.5h3M19 27.5h2M23 27.5h6M30 27.5h15M47 27.5h10M60 27.5h1M75 27.5h1M6 28.5h10M19 28.5h2M24 28.5h2M42 28.5h13M59 28.5h3M74 28.5h2M6 29.5h6M13 29.5h2M17 29.5h7M29 29.5h4M39 29.5h1M43 29.5h9M56 29.5h3M60 29.5h3M7 30.5h4M13 30.5h4M18 30.5h2M22 30.5h1M26 30.5h7M38 30.5h5M44 30.5h7M54 30.5h3M61 30.5h10M15 31.5h1M19 31.5h3M28 31.5h6M36 31.5h7M44 31.5h5M50 31.5h1M52 31.5h4M63 31.5h6M73 31.5h2M6 32.5h1M15 32.5h8M25 32.5h4M32 32.5h9M46 32.5h5M57 32.5h1M64 32.5h5M70 32.5h2M74 32.5h2M6 33.5h1M9 33.5h3M16 33.5h3M21 33.5h8M31 33.5h4M38 33.5h2M42 33.5h1M44 33.5h4M64 33.5h3M70 33.5h5M6 34.5h7M17 34.5h1M21 34.5h4M27 34.5h2M31 34.5h3M35 34.5h1M42 34.5h1M59 34.5h1M64 34.5h2M69 34.5h4M74 34.5h1M6 35.5h7M16 35.5h1M21 35.5h1M24 35.5h1M31 35.5h14M48 35.5h3M56 35.5h4M63 35.5h3M67 35.5h5M13 36.5h1M16 36.5h1M20 36.5h5M27 36.5h2M31 36.5h14M48 36.5h2M56 36.5h6M66 36.5h4M71 36.5h1M74 36.5h1M11 37.5h17M32 37.5h4M39 37.5h3M43 37.5h1M47 37.5h2M57 37.5h4M67 37.5h4M74 37.5h1M6 38.5h5M13 38.5h3M22 38.5h7M32 38.5h4M39 38.5h5M48 38.5h2M57 38.5h2M62 38.5h3M66 38.5h7M6 39.5h1M8 39.5h3M19 39.5h2M31 39.5h7M41 39.5h2M47 39.5h3M51 39.5h2M54 39.5h2M58 39.5h5M64 39.5h3M70 39.5h4M6 40.5h2M14 40.5h2M18 40.5h5M34 40.5h3M42 40.5h1M47 40.5h7M57 40.5h5M65 40.5h2M70 40.5h2M6 41.5h3M14 41.5h7M22 41.5h1M39 41.5h7M51 41.5h2M66 41.5h2M73 41.5h2M6 42.5h3M11 42.5h7M21 42.5h2M25 42.5h1M35 42.5h1M39 42.5h3M44 42.5h2M52 42.5h9M62 42.5h3M66 42.5h3M73 42.5h2M6 43.5h15M31 43.5h2M36 43.5h3M44 43.5h1M52 43.5h6M59 43.5h3M64 43.5h6M74 43.5h1M10 44.5h3M16 44.5h7M26 44.5h3M31 44.5h1M39 44.5h2M44 44.5h3M51 44.5h6M61 44.5h1M66 44.5h4M73 44.5h1M6 45.5h3M18 45.5h6M26 45.5h1M30 45.5h2M33 45.5h4M42 45.5h2M51 45.5h3M55 45.5h6M64 45.5h1M72 45.5h2M6 46.5h4M13 46.5h4M20 46.5h5M26 46.5h10M43 46.5h3M49 46.5h3M56 46.5h3M67 46.5h1M72 46.5h2M6 47.5h5M14 47.5h3M20 47.5h13M38 47.5h5M47 47.5h5M58 47.5h1M62 47.5h2M66 47.5h2M70 47.5h2M8 48.5h3M12 48.5h2M18 48.5h7M26 48.5h2M29 48.5h1M33 48.5h1M38 48.5h2M44 48.5h6M52 48.5h2M65 48.5h6M73 48.5h1M6 49.5h3M12 49.5h2M18 49.5h12M32 49.5h2M36 49.5h1M43 49.5h1M47 49.5h2M53 49.5h1M57 49.5h2M62 49.5h5M69 49.5h1M73 49.5h1M15 50.5h4M21 50.5h1M24 50.5h3M32 50.5h5M38 50.5h2M43 50.5h4M59 50.5h2M11 51.5h4M18 51.5h2M35 51.5h2M50 51.5h2M54 51.5h1M66 51.5h3M9 52.5h6M17 52.5h2M21 52.5h3M28 52.5h3M37 52.5h3M42 52.5h2M50 52.5h2M54 52.5h1M13 53.5h2M20 53.5h5M28 53.5h2M47 53.5h1M54 53.5h3M11 54.5h2M17 54.5h2M22 54.5h3M14 55.5h12M30 55.5h3M50 55.5h2M6 56.5h1M9 56.5h2M12 56.5h9M32 56.5h1M39 56.5h1M42 56.5h3M50 56.5h1M52 56.5h1M56 56.5h2M8 57.5h14M29 57.5h4M43 57.5h1M8 58.5h2M13 58.5h1M16 58.5h5M23 58.5h20M6 59.5h7M15 59.5h3M22 59.5h5M32 59.5h5M42 59.5h1M6 60.5h4M11 60.5h1M16 60.5h1M23 60.5h1M29 60.5h1M40 60.5h2M43 60.5h2M9 61.5h7M20 61.5h1M23 61.5h1M28 61.5h8M40 61.5h2M8 62.5h10M24 62.5h2M30 62.5h6M9 63.5h2M14 63.5h6M28 63.5h1M32 63.5h1M15 64.5h1M19 64.5h1M26 64.5h2M6 65.5h1M8 65.5h2M15 65.5h1M21 65.5h1M25 65.5h2M30 65.5h1M10 66.5h2M18 66.5h4M8 67.5h7M18 67.5h3M6 68.5h1M8 68.5h2M14 68.5h2M19 68.5h2M6 69.5h6M14 69.5h4M6 70.5h1M10 70.5h2M14 70.5h4M22 70.5h3M8 71.5h3M21 71.5h2M5 72.5h6M15 72.5h2M18 72.5h5M15 73.5h2M13 74.5h4M18 74.5h2M5 75.5h1M14 75.5h2M19 75.5h1M5 76.5h3M11 76.5h3M19 76.5h2M6 77.5h9M9 78.5h5M5 79.5h2M8 79.5h2M12 79.5h1M5 80.5h4M11 80.5h1M6 81.5h4M15 81.5h2M6 82.5h3M16 82.5h2M6 83.5h2M6 84.5h2M5 85.5h1M9 85.5h1M9 86.5h2M12 88.5h1M7 89.5h3M11 89.5h3M7 91.5h1M5 92.5h3M11 92.5h1M6 93.5h2M9 93.5h4M7 94.5h3M5 95.5h5M6 96.5h3M5 97.5h1M5 100.5h3M9 100.5h3M5 101.5h6M5 102.5h2M5 103.5h3M5 106.5h1M5 107.5h1M12 107.5h1M11 108.5h1M5 109.5h1M10 109.5h1M5 110.5h1M10 110.5h1M5 111.5h4M4 112.5h2M8 114.5h2M46 117.5h3M51 117.5h2M40 118.5h2M60 118.5h2M42 119.5h1M58 119.5h4M4 120.5h3M42 120.5h2M58 120.5h1M6 121.5h3M41 121.5h6M58 121.5h1M63 121.5h1M44 122.5h2M51 122.5h2M60 122.5h1M4 123.5h2M44 123.5h8M4 124.5h3M36 124.5h2M56 124.5h1M42 125.5h1M48 125.5h1M62 125.5h1M5 126.5h1M38 126.5h1M43 126.5h6M54 126.5h1M67 126.5h1M42 127.5h7M60 127.5h2M8 128.5h2M38 128.5h12M52 128.5h3M66 128.5h1M36 129.5h7M48 129.5h3M52 129.5h3M45 130.5h2M53 130.5h2M63 130.5h3M34 131.5h2M52 131.5h3M42 132.5h1M46 132.5h3M51 132.5h2M66 132.5h2M4 133.5h1M47 133.5h1M52 133.5h3M37 134.5h1M55 134.5h1M63 134.5h1M43 135.5h2M59 135.5h3M9 136.5h1M37 136.5h1M42 136.5h3M48 136.5h2M59 136.5h2M32 137.5h3M45 137.5h4M57 137.5h2M36 138.5h2M46 138.5h4M54 138.5h4M61 138.5h3M7 139.5h4M40 139.5h3M53 139.5h3M61 139.5h3M6 140.5h3M42 140.5h2M46 140.5h2M53 140.5h2M4 141.5h1M43 141.5h1M46 141.5h3M62 142.5h2M4 143.5h2M49 143.5h1M53 143.5h2M54 144.5h5M54 145.5h5M4 146.5h3M56 146.5h3M31 147.5h1M31 148.5h2M36 148.5h1M33 149.5h2M4 151.5h1M35 151.5h3M39 151.5h3M44 151.5h1M34 152.5h4M43 152.5h1M31 153.5h5M42 153.5h3M46 153.5h2M29 154.5h9M42 154.5h1M46 154.5h2M32 155.5h3M39 155.5h1M41 155.5h3M46 155.5h6M7 156.5h1M37 156.5h7M45 156.5h2M58 156.5h2M29 157.5h17M50 157.5h10M61 157.5h2M30 158.5h7M39 158.5h7M49 158.5h15M39 159.5h2M43 159.5h4M51 159.5h14M29 160.5h2M44 160.5h2M52 160.5h15M38 161.5h2M49 161.5h3M54 161.5h3M60 161.5h1M64 161.5h3M4 162.5h2M34 162.5h1M38 162.5h2M46 162.5h5M61 162.5h6M32 163.5h2M39 163.5h2M50 163.5h1M54 163.5h3M62 163.5h5M36 164.5h12M49 164.5h8M61 164.5h6M36 165.5h21M6 166.5h4M39 166.5h18M7 167.5h2M33 167.5h1M37 167.5h19M33 168.5h2M37 168.5h4M47 168.5h5M33 169.5h7M50 169.5h1M3 170.5h1M33 170.5h8M44 170.5h2M49 170.5h7M40 171.5h2M43 171.5h6M53 171.5h6M65 171.5h1M43 172.5h3M51 172.5h6M39 173.5h1M41 173.5h6M52 173.5h3M61 173.5h6M37 174.5h1M41 174.5h3M48 174.5h7M65 174.5h2M3 175.5h2M42 175.5h4M49 175.5h4M66 175.5h1M3 176.5h1M36 176.5h2M41 176.5h3M51 176.5h7M66 176.5h1M36 177.5h1M40 177.5h2M48 177.5h8M64 177.5h3M39 178.5h14M54 178.5h2M63 178.5h4M44 179.5h4M49 179.5h3M61 179.5h6M44 180.5h7M54 180.5h1M60 180.5h6M44 181.5h2M55 181.5h2M65 181.5h2M45 182.5h3M59 183.5h6M46 184.5h2M62 184.5h3M3 185.5h1M63 185.5h3M3 186.5h1M59 186.5h7M3 187.5h2M59 187.5h7M6 189.5h1M5 204.5h1M2 208.5h2M2 209.5h3M2 219.5h1M2 221.5h1M2 259.5h2M6 260.5h1M5 261.5h1M9 261.5h1M1 262.5h5M10 262.5h1M10 264.5h2M1 265.5h11M1 266.5h7M2 267.5h8M2 268.5h4M8 268.5h7M1 269.5h10M1 270.5h11M16 270.5h3M3 271.5h9M18 271.5h2M4 272.5h1M14 272.5h1M1 273.5h2M7 273.5h3M13 273.5h5M1 274.5h2M8 274.5h2M12 274.5h1M1 275.5h4M3 276.5h2M7 276.5h3M11 276.5h1M3 277.5h2M10 277.5h4M15 277.5h4M3 278.5h2M10 278.5h8M1 279.5h1M3 279.5h2M10 279.5h8M26 279.5h3M1 280.5h7M15 280.5h1M17 280.5h4M28 280.5h3M3 281.5h6M12 281.5h3M17 281.5h5M30 281.5h1M1 282.5h1M11 282.5h3M20 282.5h6M5 283.5h2M13 283.5h18M38 283.5h1M1 284.5h2M8 284.5h1M10 284.5h10M22 284.5h5M8 285.5h1M11 285.5h8M22 285.5h2M40 285.5h1M54 285.5h4M1 286.5h4M8 286.5h4M15 286.5h7M30 286.5h5M48 286.5h1M58 286.5h8M1 287.5h4M15 287.5h1M20 287.5h3M30 287.5h2M44 287.5h3M1 288.5h1M8 288.5h3M19 288.5h6M26 288.5h1M30 288.5h3M2 289.5h1M8 289.5h4M15 289.5h4M21 289.5h14M20 290.5h1M27 290.5h3M67 290.5h1M1 291.5h2M20 291.5h2M25 291.5h1M30 291.5h1M65 291.5h3M24 292.5h3M34 292.5h9M56 292.5h11M11 293.5h4M34 293.5h7M47 293.5h19M11 294.5h2M17 294.5h1M35 294.5h6M47 294.5h6M57 294.5h7M5 295.5h1M15 295.5h3M24 295.5h4M33 295.5h20M4 296.5h3M8 296.5h5M14 296.5h8M32 296.5h5M40 296.5h15M5 297.5h5M11 297.5h6M29 297.5h7M41 297.5h7M51 297.5h3M66 297.5h2M14 298.5h3M29 298.5h1M34 298.5h2M37 298.5h3M46 298.5h2M65 298.5h3M6 299.5h1M12 299.5h13M27 299.5h2M34 299.5h6M44 299.5h1M46 299.5h3M61 299.5h7M12 300.5h13M33 300.5h3M37 300.5h13M55 300.5h4M64 300.5h4M14 301.5h6M31 301.5h27M10 302.5h3M14 302.5h9M31 302.5h4M37 302.5h3M42 302.5h1M45 302.5h10M61 302.5h2M9 303.5h4M15 303.5h4M21 303.5h14M46 303.5h6M60 303.5h8M10 304.5h4M17 304.5h2M23 304.5h4M30 304.5h9M46 304.5h4M60 304.5h8M13 305.5h4M33 305.5h7M42 305.5h8M54 305.5h13M13 306.5h3M19 306.5h2M33 306.5h15M59 306.5h8M13 307.5h2M20 307.5h3M28 307.5h2M32 307.5h1M36 307.5h18M61 307.5h7M14 308.5h5M21 308.5h3M29 308.5h1M32 308.5h3M39 308.5h3M51 308.5h1M61 308.5h7M15 309.5h2M20 309.5h16M49 309.5h3M67 309.5h1M16 310.5h1M30 310.5h4M39 310.5h1M46 310.5h2M49 310.5h2M29 311.5h1M34 311.5h3M49 311.5h1M56 311.5h1M61 311.5h7M23 312.5h4M29 312.5h2M33 312.5h2M40 312.5h3M49 312.5h2M54 312.5h14M19 313.5h2M23 313.5h3M28 313.5h9M41 313.5h10M54 313.5h13M20 314.5h5M28 314.5h8M43 314.5h6M56 314.5h3M62 314.5h3M22 315.5h2M28 315.5h6M38 315.5h1M42 315.5h3M56 315.5h9M33 316.5h3M40 316.5h5M56 316.5h5M25 317.5h1M28 317.5h2M32 317.5h6M39 317.5h8M55 317.5h5M26 318.5h22M51 318.5h9M27 319.5h9M38 319.5h24M66 319.5h1M31 320.5h5M39 320.5h10M58 320.5h8M41 321.5h1M44 321.5h4M58 321.5h8M36 322.5h6M45 322.5h1M49 322.5h2M60 322.5h5M37 323.5h2M48 323.5h3M60 323.5h6M42 324.5h2M46 324.5h5M62 324.5h2M42 325.5h1M46 325.5h6"/>
</g>
</g></g>
<g fill="none" stroke="#ff0000" stroke-width="1.8" stroke-opacity="0.6">
<circle cx="643.65" cy="451.0" r="126.50"/>
<circle cx="643.65" cy="451.0" r="253.00"/>
<circle cx="643.65" cy="451.0" r="379.50"/>
<path d="M264.1 451.0H1023.1M643.65 71.5V830.5M375.3 182.7L912.0 719.3M375.3 719.3L912.0 182.7"/>
</g>
<path d="M529.9 144.6L526.7 186.5L524.0 228.3L521.3 269.5L518.8 310.1L516.2 350.8L513.3 390.7L511.0 430.6L508.4 471.0L506.0 511.5L504.3 552.4L502.6 594.1L501.2 635.9L500.2 678.7L499.8 722.5L499.8 766.8" fill="none" stroke="#00e8ff" stroke-width="8.4"/>
<circle cx="529.9" cy="144.6" r="4.4" fill="#ff0000"/>
<circle cx="526.7" cy="186.5" r="4.4" fill="#ff0000"/>
<circle cx="524.0" cy="228.3" r="4.4" fill="#ff0000"/>
<circle cx="521.3" cy="269.5" r="4.4" fill="#ff0000"/>
<circle cx="518.8" cy="310.1" r="4.4" fill="#ff0000"/>
<circle cx="516.2" cy="350.8" r="4.4" fill="#ff0000"/>
<circle cx="513.3" cy="390.7" r="4.4" fill="#000"/>
<circle cx="511.0" cy="430.6" r="4.4" fill="#000"/>
<circle cx="508.4" cy="471.0" r="4.4" fill="#000"/>
<circle cx="506.0" cy="511.5" r="4.4" fill="#ff0000"/>
<circle cx="504.3" cy="552.4" r="4.4" fill="#ff0000"/>
<circle cx="502.6" cy="594.1" r="4.4" fill="#ff0000"/>
<circle cx="501.2" cy="635.9" r="4.4" fill="#ff0000"/>
<circle cx="500.2" cy="678.7" r="4.4" fill="#ff0000"/>
<circle cx="499.8" cy="722.5" r="4.4" fill="#ff0000"/>
<circle cx="499.8" cy="766.8" r="4.4" fill="#ff0000"/>
<text x="625.2" y="63.5" font-size="32.6" fill="#ff2c2c" textLength="36.5" lengthAdjust="spacingAndGlyphs">06</text>
<text x="219.9" y="461.0" font-size="32.6" fill="#ff2c2c" textLength="35.2" lengthAdjust="spacingAndGlyphs">12</text>
<text x="1031.6" y="461.0" font-size="32.6" fill="#ff2c2c" textLength="36.1" lengthAdjust="spacingAndGlyphs">00</text>
<text x="625.4" y="860.5" font-size="32.6" fill="#ff2c2c" textLength="36.4" lengthAdjust="spacingAndGlyphs">18</text>
<text x="333.6" y="177.1" font-size="32.6" fill="#ff2c2c" textLength="35.7" lengthAdjust="spacingAndGlyphs">09</text>
<text x="918.0" y="177.1" font-size="32.6" fill="#ff2c2c" textLength="36.0" lengthAdjust="spacingAndGlyphs">03</text>
<text x="333.7" y="744.6" font-size="32.6" fill="#ff2c2c" textLength="35.6" lengthAdjust="spacingAndGlyphs">15</text>
<text x="918.0" y="744.6" font-size="32.6" fill="#ff2c2c" textLength="35.7" lengthAdjust="spacingAndGlyphs">21</text>
<text x="768.1" y="405.0" font-size="32.6" fill="#ff2c2c">80<tspan dy="-16" font-size="20.5">o</tspan></text>
<text x="887.3" y="362.5" font-size="32.6" fill="#ff2c2c">70<tspan dy="-16" font-size="20.5">o</tspan></text>
<text x="1006.1" y="318.7" font-size="32.6" fill="#ff2c2c">60<tspan dy="-16" font-size="20.5">o</tspan></text>
<text x="4.3" y="908.0" font-size="43.5" fill="#000" font-weight="bold">B</text>
<text x="588.0" y="912.8" font-size="31" fill="#111" textLength="232.6" lengthAdjust="spacingAndGlyphs">DMSP F18 SSJ5</text>
<defs><filter id="spb" x="-1%" y="-1%" width="102%" height="102%"><feGaussianBlur stdDeviation="0.8 0.4"/></filter></defs>
<g filter="url(#spb)"><g transform="translate(120.0 928.5) scale(2.50111 11.94211)" fill="none" stroke-width="1.03">
<path stroke="#906cb9" d="M42 4.5h1M5 6.5h1M0 8.5h1M10 8.5h1M34 9.5h1M24 12.5h1M0 13.5h1M7 13.5h1M353 18.5h1M380 18.5h1M405 18.5h1M427 18.5h1M434 18.5h1M439 18.5h2"/>
<path stroke="#9f87d8" d="M3 0.5h1M19 0.5h1M32 2.5h1M2 4.5h1M15 4.5h1M272 5.5h1M291 5.5h1M28 7.5h1M23 11.5h1M4 13.5h1M11 13.5h1M372 18.5h1M381 18.5h1M442 18.5h1M445 18.5h1"/>
<path stroke="#a59af2" d="M369 0.5h1M373 0.5h1M379 0.5h1M32 1.5h1M328 1.5h1M353 1.5h1M411 1.5h1M344 2.5h1M242 3.5h1M269 3.5h1M4 4.5h1M176 4.5h1M184 4.5h1M197 4.5h1M239 4.5h1M314 4.5h1M440 4.5h1M113 5.5h1M296 5.5h1M313 5.5h1M420 5.5h1M22 6.5h1M294 6.5h1M191 7.5h1M217 7.5h1M274 7.5h1M288 7.5h1M44 8.5h1M157 8.5h1M196 8.5h1M217 8.5h1M271 8.5h1M44 9.5h1M154 9.5h1M211 9.5h1M214 9.5h1M218 9.5h1M22 10.5h1M38 12.5h2M42 16.5h1M104 18.5h1M358 18.5h1M360 18.5h1M373 18.5h1M375 18.5h1M415 18.5h1M423 18.5h2M431 18.5h2M444 18.5h1M448 18.5h1"/>
<path stroke="#9098f8" d="M111 0.5h1M346 0.5h1M380 0.5h1M427 0.5h1M36 1.5h1M114 1.5h1M363 1.5h1M33 2.5h1M119 2.5h1M127 2.5h1M329 2.5h1M333 2.5h1M33 3.5h1M112 3.5h1M218 3.5h1M280 3.5h1M288 3.5h1M314 3.5h1M0 4.5h1M173 4.5h1M218 4.5h1M117 5.5h1M207 5.5h1M437 5.5h1M33 6.5h1M182 6.5h1M240 6.5h1M252 6.5h1M287 6.5h1M402 6.5h1M413 6.5h1M0 7.5h1M17 7.5h1M141 7.5h1M146 7.5h1M158 7.5h1M278 7.5h1M283 7.5h1M301 7.5h1M424 7.5h1M436 7.5h1M438 7.5h1M445 7.5h1M148 8.5h3M175 8.5h1M258 8.5h1M285 8.5h1M291 8.5h1M165 9.5h1M171 9.5h1M185 9.5h1M205 9.5h1M219 9.5h1M266 9.5h1M276 9.5h1M447 9.5h1M4 10.5h1M37 12.5h1M14 13.5h1M16 13.5h1M18 13.5h2M5 14.5h1M12 14.5h1M19 14.5h1M23 14.5h1M29 14.5h1M27 15.5h1M37 15.5h1M39 15.5h1M45 15.5h1M47 18.5h2M60 18.5h1M65 18.5h1M97 18.5h2M101 18.5h1M109 18.5h1M111 18.5h1M119 18.5h1M137 18.5h1M317 18.5h1M319 18.5h1M322 18.5h1M350 18.5h1M361 18.5h1M382 18.5h2M392 18.5h1M409 18.5h1M418 18.5h1"/>
<path stroke="#7b96fe" d="M113 0.5h1M366 0.5h1M374 0.5h1M384 0.5h1M417 0.5h1M421 0.5h1M425 0.5h2M3 1.5h1M22 1.5h1M137 1.5h1M331 1.5h1M334 1.5h1M343 1.5h1M345 1.5h1M347 1.5h2M358 1.5h2M362 1.5h1M404 1.5h1M407 1.5h1M412 1.5h1M117 2.5h1M322 2.5h2M326 2.5h1M332 2.5h1M351 2.5h1M356 2.5h1M405 2.5h1M416 2.5h1M419 2.5h1M424 2.5h1M429 2.5h1M438 2.5h1M109 3.5h1M117 3.5h1M128 3.5h1M214 3.5h1M220 3.5h1M226 3.5h1M240 3.5h1M258 3.5h1M415 3.5h1M421 3.5h2M114 4.5h1M158 4.5h1M182 4.5h1M192 4.5h1M202 4.5h1M217 4.5h1M232 4.5h1M253 4.5h1M317 4.5h2M434 4.5h1M437 4.5h1M10 5.5h1M22 5.5h1M120 5.5h1M123 5.5h1M126 5.5h2M131 5.5h1M146 5.5h1M168 5.5h1M213 5.5h1M220 5.5h1M223 5.5h1M228 5.5h1M230 5.5h2M236 5.5h1M278 5.5h1M305 5.5h1M309 5.5h2M430 5.5h1M436 5.5h1M440 5.5h2M146 6.5h3M163 6.5h1M170 6.5h1M189 6.5h1M201 6.5h2M231 6.5h1M233 6.5h1M237 6.5h1M302 6.5h1M305 6.5h1M307 6.5h1M410 6.5h1M427 6.5h1M434 6.5h1M143 7.5h1M147 7.5h1M167 7.5h1M171 7.5h1M187 7.5h1M193 7.5h1M203 7.5h1M206 7.5h1M259 7.5h1M270 7.5h1M282 7.5h1M285 7.5h1M299 7.5h1M410 7.5h1M412 7.5h1M430 7.5h1M11 8.5h1M142 8.5h1M152 8.5h1M156 8.5h1M160 8.5h1M177 8.5h1M181 8.5h3M185 8.5h2M191 8.5h1M193 8.5h1M198 8.5h1M204 8.5h1M208 8.5h1M211 8.5h1M221 8.5h1M255 8.5h1M259 8.5h2M267 8.5h1M272 8.5h3M283 8.5h1M290 8.5h1M404 8.5h1M422 8.5h1M425 8.5h1M429 8.5h1M443 8.5h1M141 9.5h1M148 9.5h1M158 9.5h2M172 9.5h2M178 9.5h1M180 9.5h1M182 9.5h3M187 9.5h1M189 9.5h1M197 9.5h1M200 9.5h1M202 9.5h2M262 9.5h1M268 9.5h1M272 9.5h1M274 9.5h1M284 9.5h1M290 9.5h1M408 9.5h2M411 9.5h1M422 9.5h1M425 9.5h1M429 9.5h1M432 9.5h1M19 11.5h2M13 13.5h1M39 13.5h1M7 14.5h1M15 14.5h1M38 14.5h1M43 14.5h1M45 14.5h2M16 15.5h1M26 15.5h1M1 16.5h1M6 16.5h1M20 16.5h1M46 16.5h1M49 18.5h1M56 18.5h1M59 18.5h1M62 18.5h1M71 18.5h1M74 18.5h1M96 18.5h1M105 18.5h1M114 18.5h1M116 18.5h1M128 18.5h1M132 18.5h1M144 18.5h1M150 18.5h2M162 18.5h2M294 18.5h1M311 18.5h1M316 18.5h1M323 18.5h1M325 18.5h1M327 18.5h1M341 18.5h1M348 18.5h1M357 18.5h1M364 18.5h1M367 18.5h1M401 18.5h1M406 18.5h1M428 18.5h1M433 18.5h1"/>
<path stroke="#517cff" d="M115 0.5h1M121 0.5h1M360 0.5h1M370 0.5h1M381 0.5h1M383 0.5h1M428 0.5h1M126 1.5h1M326 1.5h1M333 1.5h1M335 1.5h1M338 1.5h1M341 1.5h1M354 1.5h1M381 1.5h1M342 2.5h1M345 2.5h1M349 2.5h1M433 2.5h1M111 3.5h1M135 3.5h1M238 3.5h1M316 3.5h1M318 3.5h2M394 3.5h1M425 3.5h1M138 4.5h1M145 4.5h1M155 4.5h1M162 4.5h1M178 4.5h1M207 4.5h1M438 4.5h1M444 4.5h1M110 5.5h1M118 5.5h1M130 5.5h1M133 5.5h2M140 5.5h1M142 5.5h1M145 5.5h1M163 5.5h1M192 5.5h1M424 5.5h1M142 6.5h1M166 6.5h1M204 6.5h1M225 6.5h1M306 6.5h1M414 6.5h1M420 6.5h1M151 7.5h1M194 7.5h2M205 7.5h1M222 7.5h1M233 7.5h1M238 7.5h1M264 7.5h1M268 7.5h1M418 7.5h1M432 7.5h2M437 7.5h1M443 7.5h1M143 8.5h1M153 8.5h1M205 8.5h1M295 8.5h1M411 8.5h2M430 8.5h1M441 8.5h1M190 9.5h1M196 9.5h1M209 9.5h1M257 9.5h2M265 9.5h1M278 9.5h1M407 9.5h1M415 9.5h1M439 9.5h1M445 9.5h1M439 11.5h1M447 11.5h1M443 12.5h1M6 13.5h1M20 13.5h1M444 13.5h1M2 14.5h2M22 14.5h1M448 14.5h1M1 15.5h1M3 15.5h2M13 15.5h1M19 15.5h1M23 15.5h2M34 15.5h1M47 15.5h1M28 16.5h1M448 16.5h1M444 17.5h1M1 18.5h1M7 18.5h1M11 18.5h2M22 18.5h2M33 18.5h1M36 18.5h2M44 18.5h1M58 18.5h1M108 18.5h1M126 18.5h1M139 18.5h2M143 18.5h1M156 18.5h1M167 18.5h1M299 18.5h1M303 18.5h2M307 18.5h2M328 18.5h1M356 18.5h1M376 18.5h1M390 18.5h1M400 18.5h1M407 18.5h1M410 18.5h1M414 18.5h1M416 18.5h1M426 18.5h1M429 18.5h1M436 18.5h1"/>
<path stroke="#255fff" d="M49 1.5h1M395 2.5h1M306 3.5h1M301 5.5h1M431 10.5h2M440 10.5h1M448 11.5h1M9 12.5h1M440 12.5h1M24 13.5h1M445 13.5h1M448 13.5h1M8 14.5h1M11 14.5h1M18 14.5h1M27 14.5h1M443 14.5h3M447 14.5h1M2 15.5h1M9 15.5h1M12 15.5h1M21 15.5h1M41 15.5h1M444 15.5h5M0 16.5h1M2 16.5h2M5 16.5h1M25 16.5h1M27 16.5h1M29 16.5h1M32 16.5h1M40 16.5h1M43 16.5h1M444 16.5h2M447 16.5h1M22 17.5h3M28 17.5h1M35 17.5h1M442 17.5h2M445 17.5h1M447 17.5h2M2 18.5h1M4 18.5h1M15 18.5h1M17 18.5h1M26 18.5h1M34 18.5h1M61 18.5h1M67 18.5h1M70 18.5h1M73 18.5h1M79 18.5h1M82 18.5h1M93 18.5h1M99 18.5h1M115 18.5h1M117 18.5h1M123 18.5h2M138 18.5h1M159 18.5h1M164 18.5h1M320 18.5h1M326 18.5h1M330 18.5h1M339 18.5h1M344 18.5h1M354 18.5h1M388 18.5h2M394 18.5h1M413 18.5h1M441 18.5h1"/>
<path stroke="#126fff" d="M67 0.5h1M94 0.5h1M332 0.5h1M363 0.5h1M365 0.5h1M371 0.5h1M375 0.5h1M121 1.5h1M399 1.5h1M422 1.5h1M429 1.5h1M434 1.5h1M436 1.5h1M109 2.5h1M111 2.5h1M139 2.5h1M307 2.5h1M328 2.5h1M335 2.5h1M352 2.5h1M387 2.5h1M414 2.5h1M427 2.5h1M48 3.5h1M57 3.5h1M119 3.5h1M212 3.5h1M248 3.5h1M303 3.5h1M321 3.5h1M337 3.5h1M396 3.5h1M404 3.5h1M435 3.5h1M110 4.5h1M187 4.5h1M196 4.5h1M224 4.5h1M235 4.5h1M244 4.5h1M295 4.5h1M304 4.5h1M309 4.5h1M316 4.5h1M397 4.5h1M442 4.5h1M111 5.5h1M115 5.5h1M124 5.5h1M128 5.5h1M132 5.5h1M138 5.5h1M178 5.5h1M187 5.5h1M197 5.5h1M205 5.5h1M209 5.5h1M232 5.5h1M240 5.5h1M302 5.5h1M308 5.5h1M312 5.5h1M402 5.5h1M419 5.5h1M431 5.5h1M433 5.5h1M443 5.5h1M445 5.5h1M180 6.5h1M195 6.5h1M229 6.5h2M256 6.5h1M409 6.5h1M430 6.5h1M144 7.5h1M219 7.5h1M230 7.5h1M242 7.5h1M292 7.5h1M161 8.5h1M169 8.5h2M189 8.5h1M197 8.5h1M201 8.5h1M264 8.5h2M275 8.5h1M277 8.5h2M431 8.5h1M447 8.5h1M155 9.5h1M167 9.5h2M188 9.5h1M264 9.5h1M270 9.5h1M273 9.5h1M279 9.5h1M412 9.5h1M418 9.5h1M427 9.5h1M431 9.5h1M433 9.5h1M413 10.5h1M418 10.5h1M434 10.5h2M442 10.5h1M440 11.5h1M445 11.5h1M15 12.5h1M18 12.5h1M416 12.5h1M429 12.5h1M15 13.5h1M17 13.5h1M25 13.5h1M443 13.5h1M446 13.5h2M14 14.5h1M20 14.5h1M39 14.5h1M41 14.5h1M446 14.5h1M6 15.5h2M25 15.5h1M28 15.5h5M40 15.5h1M443 15.5h1M7 16.5h3M16 16.5h1M36 16.5h2M443 16.5h1M446 16.5h1M0 17.5h1M4 17.5h1M12 17.5h1M99 17.5h1M104 17.5h1M110 17.5h1M115 17.5h1M120 17.5h1M124 17.5h1M130 17.5h3M394 17.5h1M401 17.5h1M408 17.5h2M412 17.5h1M416 17.5h1M421 17.5h1M423 17.5h1M427 17.5h15M446 17.5h1M54 18.5h1M57 18.5h1M68 18.5h1M75 18.5h1M83 18.5h2M86 18.5h3M103 18.5h1M118 18.5h1M120 18.5h2M125 18.5h1M127 18.5h1M133 18.5h2M142 18.5h1M146 18.5h1M157 18.5h2M168 18.5h1M199 18.5h1M276 18.5h1M306 18.5h1M313 18.5h2M334 18.5h1M342 18.5h1M393 18.5h1"/>
<path stroke="#0387ff" d="M51 0.5h1M54 0.5h1M59 0.5h1M296 0.5h1M309 0.5h1M333 0.5h1M352 0.5h1M385 0.5h1M56 1.5h1M168 2.5h1M264 2.5h1M271 2.5h1M288 2.5h1M315 2.5h1M318 2.5h1M386 2.5h1M394 2.5h1M53 3.5h1M392 3.5h1M398 3.5h1M401 3.5h1M58 4.5h1M34 5.5h1M48 5.5h2M7 7.5h1M10 7.5h1M21 7.5h1M35 8.5h1M47 8.5h1M22 9.5h1M422 10.5h1M425 10.5h1M436 10.5h1M438 10.5h1M447 10.5h1M415 11.5h1M434 11.5h1M438 11.5h1M420 12.5h1M437 12.5h1M257 13.5h1M442 13.5h1M1 14.5h1M16 14.5h1M21 14.5h1M25 14.5h1M28 14.5h1M31 14.5h1M34 14.5h1M257 14.5h1M442 14.5h1M0 15.5h1M8 15.5h1M11 15.5h1M17 15.5h1M35 15.5h1M17 16.5h3M24 16.5h1M33 16.5h1M35 16.5h1M442 16.5h1M13 17.5h1M25 17.5h3M34 17.5h1M39 17.5h1M47 17.5h1M95 17.5h4M100 17.5h4M106 17.5h4M111 17.5h4M117 17.5h3M122 17.5h2M125 17.5h5M133 17.5h1M135 17.5h3M378 17.5h1M382 17.5h1M384 17.5h1M386 17.5h1M389 17.5h2M392 17.5h1M396 17.5h5M402 17.5h6M410 17.5h2M414 17.5h2M417 17.5h4M422 17.5h1M424 17.5h3M50 18.5h1M64 18.5h1M69 18.5h1M91 18.5h1M94 18.5h1M107 18.5h1M110 18.5h1M122 18.5h1M129 18.5h1M135 18.5h2M145 18.5h1M173 18.5h2M182 18.5h1M192 18.5h1M201 18.5h1M204 18.5h1M212 18.5h1M217 18.5h2M220 18.5h1M229 18.5h1M233 18.5h2M236 18.5h1M238 18.5h1M240 18.5h1M243 18.5h1M246 18.5h1M258 18.5h1M265 18.5h2M275 18.5h1M288 18.5h2M291 18.5h2M295 18.5h1M309 18.5h1M318 18.5h1M321 18.5h1"/>
<path stroke="#00a4ff" d="M68 0.5h1M70 0.5h2M73 0.5h1M83 0.5h1M89 0.5h1M125 0.5h1M133 0.5h1M178 0.5h1M229 0.5h1M248 0.5h1M260 0.5h1M286 0.5h1M305 0.5h1M310 0.5h1M326 0.5h1M364 0.5h1M376 0.5h1M382 0.5h1M409 0.5h1M131 1.5h1M154 1.5h1M157 1.5h1M195 1.5h1M199 1.5h1M202 1.5h1M253 1.5h1M261 1.5h1M264 1.5h1M275 1.5h1M289 1.5h1M329 1.5h1M340 1.5h1M376 1.5h1M379 1.5h1M419 1.5h1M435 1.5h1M59 2.5h1M141 2.5h1M144 2.5h1M156 2.5h1M181 2.5h1M218 2.5h1M238 2.5h1M249 2.5h3M258 2.5h2M277 2.5h1M280 2.5h1M289 2.5h1M330 2.5h1M347 2.5h1M388 2.5h1M417 2.5h1M431 2.5h1M58 3.5h1M149 3.5h1M152 3.5h1M165 3.5h1M168 3.5h1M178 3.5h1M182 3.5h1M190 3.5h1M225 3.5h1M252 3.5h1M295 3.5h1M397 3.5h1M403 3.5h1M414 3.5h1M433 3.5h1M440 3.5h1M49 4.5h1M53 4.5h1M125 4.5h1M234 4.5h1M252 4.5h1M254 4.5h1M303 4.5h1M313 4.5h1M448 4.5h1M119 5.5h1M137 5.5h1M139 5.5h1M147 5.5h1M164 5.5h1M198 5.5h1M229 5.5h1M246 5.5h1M251 5.5h2M405 5.5h1M439 5.5h1M448 5.5h1M144 6.5h1M169 6.5h1M178 6.5h1M193 6.5h1M226 6.5h1M234 6.5h1M411 6.5h1M421 6.5h1M429 6.5h1M432 6.5h1M438 6.5h1M444 6.5h2M49 7.5h1M163 7.5h1M168 7.5h1M175 7.5h1M181 7.5h1M207 7.5h1M253 7.5h1M258 7.5h1M260 7.5h1M271 7.5h1M273 7.5h1M290 7.5h1M426 7.5h1M439 7.5h2M144 8.5h1M146 8.5h1M155 8.5h1M159 8.5h1M165 8.5h1M167 8.5h1M176 8.5h1M178 8.5h1M256 8.5h1M268 8.5h1M405 8.5h1M408 8.5h1M427 8.5h1M436 8.5h1M48 9.5h1M157 9.5h1M161 9.5h1M164 9.5h1M166 9.5h1M176 9.5h1M181 9.5h1M201 9.5h1M216 9.5h2M267 9.5h1M286 9.5h1M289 9.5h1M404 9.5h1M417 9.5h1M421 9.5h1M428 9.5h1M436 9.5h1M420 10.5h2M426 10.5h1M444 10.5h1M414 11.5h1M419 11.5h3M431 11.5h1M423 12.5h1M428 12.5h1M430 12.5h1M446 12.5h1M448 12.5h1M6 14.5h1M9 14.5h1M13 14.5h1M17 14.5h1M22 15.5h1M36 15.5h1M442 15.5h1M12 16.5h3M23 16.5h1M26 16.5h1M30 16.5h1M38 16.5h1M9 17.5h2M18 17.5h2M21 17.5h1M37 17.5h1M105 17.5h1M116 17.5h1M121 17.5h1M134 17.5h1M138 17.5h1M349 17.5h1M352 17.5h2M360 17.5h1M366 17.5h2M369 17.5h2M372 17.5h3M379 17.5h1M381 17.5h1M383 17.5h1M385 17.5h1M387 17.5h2M391 17.5h1M393 17.5h1M395 17.5h1M53 18.5h1M55 18.5h1M66 18.5h1M76 18.5h1M81 18.5h1M85 18.5h1M95 18.5h1M100 18.5h1M102 18.5h1M112 18.5h1M141 18.5h1M149 18.5h1M152 18.5h1M166 18.5h1M171 18.5h2M175 18.5h7M183 18.5h8M193 18.5h3M197 18.5h2M200 18.5h1M202 18.5h2M206 18.5h1M208 18.5h3M214 18.5h3M219 18.5h1M221 18.5h6M228 18.5h1M230 18.5h3M239 18.5h1M242 18.5h1M245 18.5h1M248 18.5h4M253 18.5h5M259 18.5h3M264 18.5h1M267 18.5h2M270 18.5h3M274 18.5h1M277 18.5h11M290 18.5h1M293 18.5h1M297 18.5h2M300 18.5h1M312 18.5h1M324 18.5h1M331 18.5h1M338 18.5h1M343 18.5h1"/>
<path stroke="#00c1ff" d="M61 0.5h1M77 0.5h1M79 0.5h1M85 0.5h1M153 0.5h1M166 0.5h1M170 0.5h2M195 0.5h1M202 0.5h1M204 0.5h1M221 0.5h2M285 0.5h1M304 0.5h1M308 0.5h1M341 0.5h1M350 0.5h1M386 0.5h1M153 1.5h1M156 1.5h1M159 1.5h1M170 1.5h1M178 1.5h1M184 1.5h1M186 1.5h1M198 1.5h1M226 1.5h1M241 1.5h1M248 1.5h1M259 1.5h1M271 1.5h1M280 1.5h1M287 1.5h1M49 2.5h1M178 2.5h1M184 2.5h1M199 2.5h1M205 2.5h1M226 2.5h2M231 2.5h1M241 2.5h1M243 2.5h1M392 2.5h1M150 3.5h1M154 3.5h2M177 3.5h1M296 3.5h1M313 3.5h1M395 3.5h1M51 4.5h1M396 4.5h1M398 4.5h1M401 5.5h1M48 6.5h1M405 10.5h1M412 10.5h1M415 10.5h1M424 10.5h1M446 10.5h1M412 11.5h1M424 11.5h1M436 11.5h1M442 11.5h1M417 12.5h1M435 12.5h1M439 12.5h1M442 12.5h1M444 12.5h2M10 15.5h1M18 15.5h1M10 16.5h1M22 16.5h1M31 16.5h1M34 16.5h1M2 17.5h2M20 17.5h1M33 17.5h1M94 17.5h1M257 17.5h1M350 17.5h2M354 17.5h1M358 17.5h2M361 17.5h5M368 17.5h1M371 17.5h1M375 17.5h1M377 17.5h1M380 17.5h1M51 18.5h2M63 18.5h1M72 18.5h1M77 18.5h1M90 18.5h1M147 18.5h1M153 18.5h3M161 18.5h1M165 18.5h1M169 18.5h2M191 18.5h1M196 18.5h1M205 18.5h1M207 18.5h1M213 18.5h1M227 18.5h1M237 18.5h1M241 18.5h1M244 18.5h1M252 18.5h1M262 18.5h2M269 18.5h1M305 18.5h1M310 18.5h1M315 18.5h1M329 18.5h1M332 18.5h2M336 18.5h1M340 18.5h1"/>
<path stroke="#00d9f9" d="M36 0.5h1M105 0.5h2M126 0.5h1M318 0.5h2M338 0.5h1M340 0.5h1M372 0.5h1M392 0.5h1M401 0.5h1M420 0.5h1M422 0.5h1M433 0.5h2M441 0.5h1M111 1.5h1M227 1.5h1M277 1.5h1M344 1.5h1M350 1.5h1M361 1.5h1M365 1.5h1M372 1.5h1M378 1.5h1M382 1.5h1M409 1.5h1M432 1.5h1M444 1.5h1M447 1.5h1M26 2.5h1M51 2.5h1M116 2.5h1M118 2.5h1M130 2.5h1M224 2.5h1M302 2.5h1M321 2.5h1M327 2.5h1M337 2.5h1M384 2.5h1M0 3.5h1M15 3.5h1M224 3.5h1M315 3.5h1M322 3.5h1M390 3.5h1M409 3.5h1M413 3.5h1M437 3.5h1M439 3.5h1M443 3.5h1M50 4.5h1M164 4.5h1M228 4.5h1M237 4.5h1M245 4.5h1M256 4.5h1M301 4.5h1M312 4.5h1M435 4.5h1M23 5.5h1M50 5.5h3M109 5.5h1M136 5.5h1M155 5.5h1M162 5.5h1M169 5.5h1M176 5.5h1M195 5.5h1M218 5.5h1M237 5.5h2M260 5.5h1M287 5.5h1M406 5.5h1M408 5.5h1M410 5.5h1M414 5.5h1M428 5.5h1M143 6.5h1M164 6.5h1M174 6.5h4M187 6.5h2M200 6.5h1M210 6.5h1M222 6.5h1M224 6.5h1M238 6.5h1M254 6.5h1M291 6.5h1M419 6.5h1M426 6.5h1M20 7.5h1M48 7.5h1M149 7.5h2M165 7.5h1M169 7.5h1M184 7.5h1M200 7.5h1M231 7.5h1M240 7.5h1M256 7.5h1M272 7.5h1M280 7.5h1M287 7.5h1M300 7.5h1M306 7.5h1M401 7.5h2M406 7.5h1M414 7.5h2M48 8.5h1M55 8.5h1M145 8.5h1M158 8.5h1M171 8.5h1M180 8.5h1M188 8.5h1M192 8.5h1M209 8.5h2M213 8.5h1M279 8.5h1M289 8.5h1M292 8.5h1M416 8.5h1M420 8.5h1M423 8.5h1M433 8.5h1M435 8.5h1M448 8.5h1M29 9.5h1M142 9.5h1M145 9.5h3M152 9.5h1M163 9.5h1M169 9.5h1M179 9.5h1M193 9.5h1M213 9.5h1M215 9.5h1M277 9.5h1M280 9.5h1M287 9.5h1M406 9.5h1M423 9.5h1M426 9.5h1M430 9.5h1M438 9.5h1M24 10.5h1M410 10.5h1M414 10.5h1M429 10.5h1M437 10.5h1M441 10.5h1M443 10.5h1M445 10.5h1M24 11.5h1M411 11.5h1M427 11.5h2M433 11.5h1M408 12.5h2M411 12.5h2M422 12.5h1M427 12.5h1M433 12.5h1M438 12.5h1M440 13.5h2M48 14.5h1M441 14.5h1M441 16.5h1M1 17.5h1M30 17.5h2M36 17.5h1M42 17.5h1M93 17.5h1M139 17.5h1M348 17.5h1M355 17.5h1M376 17.5h1M235 18.5h1"/>
<path stroke="#00eaea" d="M75 0.5h1M80 0.5h1M92 0.5h1M101 0.5h1M114 0.5h1M131 0.5h1M302 0.5h1M315 0.5h1M320 0.5h1M337 0.5h1M355 0.5h1M367 0.5h1M377 0.5h1M389 0.5h1M402 0.5h1M429 0.5h1M447 0.5h1M60 1.5h3M64 1.5h4M69 1.5h3M78 1.5h1M94 1.5h2M107 1.5h2M133 1.5h1M325 1.5h1M336 1.5h1M352 1.5h1M360 1.5h1M377 1.5h1M384 1.5h1M388 1.5h1M390 1.5h1M392 1.5h2M121 2.5h1M334 2.5h1M338 2.5h1M346 2.5h1M348 2.5h1M350 2.5h1M396 2.5h1M415 2.5h1M437 2.5h1M447 2.5h1M60 3.5h1M65 3.5h1M118 3.5h1M130 3.5h1M310 3.5h1M320 3.5h1M336 3.5h1M386 3.5h1M388 3.5h2M436 3.5h1M438 3.5h1M60 4.5h1M143 4.5h1M152 4.5h1M225 4.5h1M230 4.5h1M248 4.5h1M389 4.5h1M394 4.5h1M400 4.5h1M54 5.5h1M56 5.5h3M121 5.5h1M203 5.5h1M254 5.5h1M311 5.5h1M386 5.5h1M398 5.5h1M409 5.5h1M415 5.5h1M51 6.5h3M55 6.5h2M140 6.5h1M157 6.5h1M159 6.5h2M197 6.5h1M241 6.5h1M243 6.5h1M401 6.5h1M417 6.5h1M439 6.5h1M441 6.5h1M50 7.5h2M55 7.5h2M156 7.5h1M185 7.5h1M188 7.5h1M192 7.5h1M236 7.5h2M262 7.5h1M275 7.5h1M296 7.5h1M383 7.5h1M394 7.5h1M397 7.5h1M407 7.5h1M419 7.5h1M448 7.5h1M50 8.5h2M59 8.5h1M141 8.5h1M214 8.5h1M262 8.5h1M281 8.5h1M294 8.5h1M296 8.5h1M386 8.5h1M401 8.5h2M426 8.5h1M440 8.5h1M50 9.5h2M151 9.5h1M156 9.5h1M175 9.5h1M192 9.5h1M204 9.5h1M207 9.5h1M291 9.5h1M402 9.5h1M446 9.5h1M91 10.5h1M257 10.5h2M401 10.5h1M403 10.5h1M416 10.5h2M419 10.5h1M423 10.5h1M427 10.5h1M430 10.5h1M48 11.5h1M397 11.5h1M404 11.5h5M410 11.5h1M416 11.5h1M418 11.5h1M422 11.5h2M430 11.5h1M432 11.5h1M441 11.5h1M443 11.5h2M446 11.5h1M402 12.5h1M405 12.5h1M407 12.5h1M413 12.5h2M418 12.5h1M425 12.5h2M434 12.5h1M405 13.5h1M412 13.5h1M414 13.5h1M418 13.5h1M420 13.5h1M436 13.5h1M412 14.5h2M420 14.5h1M429 14.5h1M440 14.5h1M413 15.5h1M416 15.5h1M418 15.5h1M423 15.5h1M430 15.5h1M434 15.5h1M437 15.5h1M440 15.5h2M256 16.5h1M407 16.5h1M410 16.5h2M413 16.5h1M418 16.5h2M423 16.5h1M427 16.5h1M430 16.5h1M432 16.5h1M435 16.5h1M439 16.5h2M8 17.5h1M11 17.5h1M16 17.5h1M32 17.5h1M50 17.5h1M73 17.5h1M75 17.5h1M88 17.5h1M346 17.5h1"/>
<path stroke="#00f6cf" d="M62 0.5h1M65 0.5h1M69 0.5h1M74 0.5h1M87 0.5h1M90 0.5h1M96 0.5h1M301 0.5h1M323 0.5h1M357 0.5h1M400 0.5h1M68 1.5h1M73 1.5h3M79 1.5h1M82 1.5h1M84 1.5h2M87 1.5h1M91 1.5h1M93 1.5h1M97 1.5h1M99 1.5h2M103 1.5h2M364 1.5h1M396 1.5h1M61 2.5h1M64 2.5h2M68 2.5h2M295 2.5h1M382 2.5h2M385 2.5h1M59 3.5h1M62 3.5h3M68 3.5h3M326 3.5h1M381 3.5h1M383 3.5h2M387 3.5h1M65 4.5h1M67 4.5h1M69 4.5h2M108 4.5h1M307 4.5h1M382 4.5h1M391 4.5h3M399 4.5h1M59 5.5h1M380 5.5h1M382 5.5h1M384 5.5h1M392 5.5h1M394 5.5h1M397 5.5h1M399 5.5h1M383 6.5h1M387 6.5h1M389 6.5h1M391 6.5h2M397 6.5h1M399 6.5h2M52 7.5h1M54 7.5h1M57 7.5h1M235 7.5h1M389 7.5h1M49 8.5h1M52 8.5h3M56 8.5h2M140 8.5h1M383 8.5h1M387 8.5h4M398 8.5h3M53 9.5h2M56 9.5h1M58 9.5h1M382 9.5h1M388 9.5h1M396 9.5h2M82 10.5h1M90 10.5h1M381 10.5h1M383 10.5h2M386 10.5h1M389 10.5h1M391 10.5h1M397 10.5h1M402 10.5h1M406 10.5h1M86 11.5h1M91 11.5h1M95 11.5h1M257 11.5h1M379 11.5h1M386 11.5h1M388 11.5h2M392 11.5h1M396 11.5h1M399 11.5h1M401 11.5h1M413 11.5h1M426 11.5h1M429 11.5h1M383 12.5h1M386 12.5h1M390 12.5h1M393 12.5h1M398 12.5h1M401 12.5h1M404 12.5h1M406 12.5h1M424 12.5h1M431 12.5h2M441 12.5h1M258 13.5h1M380 13.5h1M384 13.5h1M387 13.5h1M389 13.5h1M399 13.5h1M401 13.5h2M407 13.5h5M416 13.5h2M419 13.5h1M423 13.5h2M427 13.5h4M433 13.5h3M437 13.5h3M256 14.5h1M258 14.5h1M378 14.5h1M383 14.5h1M386 14.5h1M397 14.5h1M401 14.5h1M403 14.5h1M407 14.5h1M410 14.5h1M414 14.5h1M416 14.5h4M421 14.5h3M427 14.5h2M430 14.5h2M434 14.5h3M439 14.5h1M48 15.5h1M57 15.5h1M258 15.5h1M381 15.5h1M388 15.5h1M394 15.5h1M397 15.5h3M401 15.5h1M403 15.5h1M405 15.5h1M409 15.5h2M412 15.5h1M415 15.5h1M417 15.5h1M419 15.5h2M425 15.5h1M427 15.5h2M436 15.5h1M438 15.5h2M55 16.5h1M115 16.5h1M378 16.5h1M380 16.5h2M383 16.5h5M389 16.5h1M391 16.5h2M394 16.5h1M397 16.5h3M401 16.5h2M405 16.5h2M408 16.5h1M412 16.5h1M414 16.5h4M420 16.5h3M424 16.5h1M426 16.5h1M428 16.5h1M434 16.5h1M436 16.5h3M6 17.5h1M15 17.5h1M49 17.5h1M51 17.5h2M54 17.5h4M60 17.5h1M63 17.5h1M65 17.5h3M69 17.5h2M72 17.5h1M79 17.5h1M81 17.5h1M91 17.5h1M140 17.5h1M174 17.5h1M182 17.5h1M185 17.5h1M190 17.5h1M193 17.5h1M223 17.5h1M240 17.5h1M243 17.5h1M249 17.5h1M264 17.5h1M275 17.5h1M326 17.5h2M329 17.5h1M339 17.5h1M347 17.5h1"/>
<path stroke="#00f8a1" d="M58 0.5h1M88 0.5h1M100 0.5h1M76 1.5h2M81 1.5h1M83 1.5h1M86 1.5h1M90 1.5h1M92 1.5h1M105 1.5h2M373 1.5h2M62 2.5h1M66 2.5h2M71 2.5h1M108 2.5h1M353 2.5h1M358 2.5h1M380 2.5h2M67 3.5h1M327 3.5h1M332 3.5h1M335 3.5h1M338 3.5h1M349 3.5h1M379 3.5h1M382 3.5h1M64 4.5h1M68 4.5h1M319 4.5h1M380 4.5h2M383 4.5h6M390 4.5h1M249 5.5h1M379 5.5h1M381 5.5h1M387 5.5h3M393 5.5h1M395 5.5h2M400 5.5h1M59 6.5h1M308 6.5h1M380 6.5h3M384 6.5h1M386 6.5h1M388 6.5h1M394 6.5h3M398 6.5h1M59 7.5h1M140 7.5h1M381 7.5h2M384 7.5h3M390 7.5h4M395 7.5h2M398 7.5h2M58 8.5h1M60 8.5h1M109 8.5h1M299 8.5h1M380 8.5h3M384 8.5h1M391 8.5h2M394 8.5h4M59 9.5h2M140 9.5h1M292 9.5h1M380 9.5h2M383 9.5h2M387 9.5h1M391 9.5h5M398 9.5h3M50 10.5h2M53 10.5h3M75 10.5h2M79 10.5h3M83 10.5h4M92 10.5h2M95 10.5h5M260 10.5h1M264 10.5h1M375 10.5h1M378 10.5h1M380 10.5h1M385 10.5h1M388 10.5h1M390 10.5h1M393 10.5h2M396 10.5h1M398 10.5h2M408 10.5h2M411 10.5h1M50 11.5h1M55 11.5h1M57 11.5h1M72 11.5h1M75 11.5h2M79 11.5h1M85 11.5h1M92 11.5h2M96 11.5h4M258 11.5h1M375 11.5h1M378 11.5h1M381 11.5h4M390 11.5h1M393 11.5h3M398 11.5h1M400 11.5h1M417 11.5h1M49 12.5h2M55 12.5h2M371 12.5h2M374 12.5h1M380 12.5h2M384 12.5h2M387 12.5h1M389 12.5h1M392 12.5h1M394 12.5h4M400 12.5h1M403 12.5h1M421 12.5h1M50 13.5h1M52 13.5h1M56 13.5h2M256 13.5h1M369 13.5h1M378 13.5h1M382 13.5h2M385 13.5h2M391 13.5h8M400 13.5h1M403 13.5h1M406 13.5h1M413 13.5h1M415 13.5h1M421 13.5h2M425 13.5h2M431 13.5h2M55 14.5h1M369 14.5h1M371 14.5h1M373 14.5h1M375 14.5h1M379 14.5h4M384 14.5h2M387 14.5h6M395 14.5h2M398 14.5h3M402 14.5h1M404 14.5h3M408 14.5h1M411 14.5h1M415 14.5h1M424 14.5h2M432 14.5h2M437 14.5h2M49 15.5h2M55 15.5h1M256 15.5h1M378 15.5h1M380 15.5h1M383 15.5h2M386 15.5h2M391 15.5h2M396 15.5h1M402 15.5h1M406 15.5h3M411 15.5h1M421 15.5h2M424 15.5h1M429 15.5h1M431 15.5h3M435 15.5h1M49 16.5h2M57 16.5h1M110 16.5h1M255 16.5h1M258 16.5h1M368 16.5h2M371 16.5h5M382 16.5h1M388 16.5h1M390 16.5h1M393 16.5h1M395 16.5h2M400 16.5h1M403 16.5h2M409 16.5h1M425 16.5h1M429 16.5h1M431 16.5h1M433 16.5h1M53 17.5h1M59 17.5h1M61 17.5h2M64 17.5h1M68 17.5h1M71 17.5h1M74 17.5h1M76 17.5h1M80 17.5h1M82 17.5h2M85 17.5h3M92 17.5h1M142 17.5h1M144 17.5h2M154 17.5h1M166 17.5h1M171 17.5h2M181 17.5h1M186 17.5h1M188 17.5h2M191 17.5h2M194 17.5h1M200 17.5h2M206 17.5h1M212 17.5h1M215 17.5h1M220 17.5h3M224 17.5h7M236 17.5h1M244 17.5h1M246 17.5h1M248 17.5h1M250 17.5h1M254 17.5h1M256 17.5h1M259 17.5h3M269 17.5h1M276 17.5h5M284 17.5h2M288 17.5h1M291 17.5h1M301 17.5h1M321 17.5h3M328 17.5h1M330 17.5h2M335 17.5h2M340 17.5h1M342 17.5h4"/>
<path stroke="#04f96f" d="M366 1.5h2M369 1.5h2M63 2.5h1M70 2.5h1M72 2.5h1M91 2.5h1M93 2.5h1M354 2.5h2M362 2.5h1M71 3.5h1M97 3.5h1M101 3.5h1M108 3.5h1M346 3.5h1M348 3.5h1M380 3.5h1M61 4.5h1M63 4.5h1M66 4.5h1M71 4.5h1M325 4.5h1M379 4.5h1M69 5.5h1M71 5.5h1M248 5.5h1M250 5.5h1M314 5.5h1M378 5.5h1M383 5.5h1M385 5.5h1M390 5.5h2M49 6.5h1M62 6.5h1M110 6.5h1M112 6.5h1M118 6.5h1M124 6.5h1M132 6.5h1M135 6.5h1M138 6.5h1M309 6.5h1M323 6.5h1M379 6.5h1M390 6.5h1M393 6.5h1M60 7.5h1M79 7.5h1M304 7.5h1M380 7.5h1M387 7.5h2M71 8.5h1M75 8.5h1M298 8.5h1M323 8.5h1M328 8.5h1M344 8.5h1M375 8.5h1M385 8.5h1M393 8.5h1M68 9.5h1M115 9.5h1M135 9.5h1M139 9.5h1M359 9.5h1M371 9.5h1M378 9.5h1M385 9.5h2M389 9.5h2M56 10.5h1M58 10.5h2M72 10.5h3M78 10.5h1M87 10.5h3M94 10.5h1M142 10.5h1M146 10.5h1M161 10.5h2M167 10.5h1M172 10.5h1M174 10.5h1M183 10.5h3M188 10.5h1M191 10.5h1M193 10.5h1M196 10.5h1M199 10.5h1M202 10.5h1M204 10.5h1M215 10.5h1M250 10.5h1M259 10.5h1M261 10.5h1M263 10.5h1M265 10.5h1M267 10.5h3M272 10.5h2M358 10.5h1M366 10.5h1M371 10.5h2M374 10.5h1M379 10.5h1M382 10.5h1M387 10.5h1M392 10.5h1M395 10.5h1M49 11.5h1M51 11.5h1M56 11.5h1M59 11.5h1M63 11.5h1M71 11.5h1M74 11.5h1M77 11.5h2M80 11.5h5M87 11.5h4M94 11.5h1M100 11.5h1M109 11.5h1M256 11.5h1M357 11.5h1M367 11.5h1M369 11.5h5M380 11.5h1M385 11.5h1M387 11.5h1M391 11.5h1M51 12.5h1M54 12.5h1M57 12.5h2M60 12.5h1M366 12.5h1M369 12.5h2M373 12.5h1M375 12.5h1M378 12.5h2M382 12.5h1M388 12.5h1M391 12.5h1M399 12.5h1M415 12.5h1M51 13.5h1M53 13.5h3M58 13.5h1M120 13.5h1M353 13.5h1M368 13.5h1M373 13.5h2M376 13.5h1M379 13.5h1M381 13.5h1M388 13.5h1M390 13.5h1M404 13.5h1M49 14.5h2M52 14.5h1M54 14.5h1M56 14.5h3M125 14.5h1M131 14.5h1M212 14.5h1M368 14.5h1M374 14.5h1M393 14.5h2M409 14.5h1M426 14.5h1M52 15.5h3M56 15.5h1M132 15.5h1M218 15.5h1M257 15.5h1M357 15.5h1M368 15.5h1M370 15.5h8M379 15.5h1M382 15.5h1M385 15.5h1M389 15.5h2M393 15.5h1M395 15.5h1M400 15.5h1M404 15.5h1M414 15.5h1M426 15.5h1M53 16.5h2M56 16.5h1M91 16.5h1M95 16.5h1M99 16.5h1M114 16.5h1M124 16.5h1M134 16.5h1M137 16.5h1M222 16.5h1M240 16.5h1M244 16.5h1M254 16.5h1M349 16.5h1M370 16.5h1M376 16.5h2M379 16.5h1M58 17.5h1M78 17.5h1M84 17.5h1M89 17.5h2M141 17.5h1M143 17.5h1M146 17.5h3M150 17.5h4M155 17.5h1M157 17.5h1M159 17.5h6M167 17.5h4M173 17.5h1M179 17.5h2M184 17.5h1M187 17.5h1M195 17.5h2M198 17.5h2M202 17.5h4M207 17.5h2M210 17.5h2M213 17.5h2M216 17.5h4M232 17.5h4M237 17.5h3M241 17.5h2M245 17.5h1M247 17.5h1M251 17.5h1M253 17.5h1M262 17.5h2M265 17.5h4M270 17.5h2M273 17.5h1M281 17.5h3M286 17.5h1M289 17.5h2M292 17.5h1M295 17.5h1M299 17.5h2M302 17.5h5M309 17.5h4M315 17.5h3M319 17.5h2M324 17.5h2M332 17.5h3M337 17.5h2M341 17.5h1"/>
<path stroke="#0ef739" d="M368 1.5h1M80 2.5h1M82 2.5h1M84 2.5h1M86 2.5h1M88 2.5h1M96 2.5h1M98 2.5h3M102 2.5h5M359 2.5h1M361 2.5h1M363 2.5h1M366 2.5h2M371 2.5h1M375 2.5h4M75 3.5h1M78 3.5h1M80 3.5h1M84 3.5h1M86 3.5h1M89 3.5h1M93 3.5h1M99 3.5h1M102 3.5h1M329 3.5h1M331 3.5h1M333 3.5h2M340 3.5h3M344 3.5h1M347 3.5h1M352 3.5h2M358 3.5h1M371 3.5h3M77 4.5h2M81 4.5h1M86 4.5h1M88 4.5h1M93 4.5h1M101 4.5h1M103 4.5h2M107 4.5h1M320 4.5h1M322 4.5h2M327 4.5h2M330 4.5h3M349 4.5h1M354 4.5h2M362 4.5h1M366 4.5h1M373 4.5h1M62 5.5h1M66 5.5h1M73 5.5h2M79 5.5h1M81 5.5h1M86 5.5h2M91 5.5h1M104 5.5h1M107 5.5h1M315 5.5h1M317 5.5h2M327 5.5h2M330 5.5h1M335 5.5h1M364 5.5h1M373 5.5h1M375 5.5h1M60 6.5h1M69 6.5h1M71 6.5h1M79 6.5h1M90 6.5h1M93 6.5h1M96 6.5h1M101 6.5h1M109 6.5h1M115 6.5h1M117 6.5h1M119 6.5h5M125 6.5h2M128 6.5h1M133 6.5h1M136 6.5h2M139 6.5h1M310 6.5h3M316 6.5h1M321 6.5h1M326 6.5h1M329 6.5h1M332 6.5h1M340 6.5h1M359 6.5h1M362 6.5h1M365 6.5h1M369 6.5h2M374 6.5h2M378 6.5h1M385 6.5h1M62 7.5h1M64 7.5h1M68 7.5h1M77 7.5h1M84 7.5h1M91 7.5h1M95 7.5h2M99 7.5h1M101 7.5h1M108 7.5h1M110 7.5h1M112 7.5h1M115 7.5h2M122 7.5h1M124 7.5h3M128 7.5h2M131 7.5h1M137 7.5h1M305 7.5h1M307 7.5h1M309 7.5h1M322 7.5h1M326 7.5h1M378 7.5h2M62 8.5h1M67 8.5h1M69 8.5h2M85 8.5h3M95 8.5h1M98 8.5h2M106 8.5h2M110 8.5h1M112 8.5h1M114 8.5h1M117 8.5h2M135 8.5h1M139 8.5h1M300 8.5h1M304 8.5h2M309 8.5h1M316 8.5h1M318 8.5h1M320 8.5h3M325 8.5h1M333 8.5h1M346 8.5h1M353 8.5h1M364 8.5h2M367 8.5h3M373 8.5h1M378 8.5h2M64 9.5h1M69 9.5h1M79 9.5h1M83 9.5h1M87 9.5h2M91 9.5h1M93 9.5h1M95 9.5h2M98 9.5h1M101 9.5h1M104 9.5h1M109 9.5h2M114 9.5h1M117 9.5h1M122 9.5h1M126 9.5h1M128 9.5h1M131 9.5h1M136 9.5h1M138 9.5h1M293 9.5h3M297 9.5h1M300 9.5h1M310 9.5h1M314 9.5h1M318 9.5h1M325 9.5h2M328 9.5h2M336 9.5h2M344 9.5h1M346 9.5h1M349 9.5h1M353 9.5h1M357 9.5h1M366 9.5h1M372 9.5h1M376 9.5h2M379 9.5h1M52 10.5h1M57 10.5h1M60 10.5h1M62 10.5h1M71 10.5h1M77 10.5h1M100 10.5h2M108 10.5h2M115 10.5h1M121 10.5h1M124 10.5h1M132 10.5h1M138 10.5h1M141 10.5h1M143 10.5h2M148 10.5h2M154 10.5h1M160 10.5h1M163 10.5h1M166 10.5h1M168 10.5h1M170 10.5h2M173 10.5h1M180 10.5h3M187 10.5h1M189 10.5h2M194 10.5h2M197 10.5h2M200 10.5h2M203 10.5h1M205 10.5h3M209 10.5h2M213 10.5h2M240 10.5h1M249 10.5h1M262 10.5h1M266 10.5h1M270 10.5h2M274 10.5h2M279 10.5h1M283 10.5h2M286 10.5h3M290 10.5h2M334 10.5h1M338 10.5h1M351 10.5h1M359 10.5h1M362 10.5h1M368 10.5h3M373 10.5h1M376 10.5h2M52 11.5h3M58 11.5h1M60 11.5h1M68 11.5h1M73 11.5h1M102 11.5h1M104 11.5h1M108 11.5h1M112 11.5h1M117 11.5h2M124 11.5h1M131 11.5h1M135 11.5h1M210 11.5h1M276 11.5h1M278 11.5h2M284 11.5h1M288 11.5h1M350 11.5h1M354 11.5h1M356 11.5h1M365 11.5h2M368 11.5h1M374 11.5h1M376 11.5h1M52 12.5h2M59 12.5h1M64 12.5h1M70 12.5h2M81 12.5h2M87 12.5h1M90 12.5h2M93 12.5h1M96 12.5h1M99 12.5h1M105 12.5h1M107 12.5h3M111 12.5h1M113 12.5h1M115 12.5h1M117 12.5h1M122 12.5h1M130 12.5h2M134 12.5h1M212 12.5h1M247 12.5h1M251 12.5h1M271 12.5h1M275 12.5h1M291 12.5h1M353 12.5h2M358 12.5h1M363 12.5h1M368 12.5h1M376 12.5h2M59 13.5h1M66 13.5h1M98 13.5h1M104 13.5h1M115 13.5h1M119 13.5h1M122 13.5h1M124 13.5h1M126 13.5h1M130 13.5h2M135 13.5h1M350 13.5h1M352 13.5h1M366 13.5h2M371 13.5h2M375 13.5h1M377 13.5h1M51 14.5h1M53 14.5h1M59 14.5h2M87 14.5h1M91 14.5h1M93 14.5h1M107 14.5h1M109 14.5h1M118 14.5h1M120 14.5h1M123 14.5h2M132 14.5h2M192 14.5h1M220 14.5h1M251 14.5h1M349 14.5h1M352 14.5h2M358 14.5h1M360 14.5h1M367 14.5h1M370 14.5h1M372 14.5h1M376 14.5h2M51 15.5h1M58 15.5h1M86 15.5h1M93 15.5h1M96 15.5h2M112 15.5h1M116 15.5h2M119 15.5h1M121 15.5h1M123 15.5h2M126 15.5h1M129 15.5h2M133 15.5h2M223 15.5h1M225 15.5h1M230 15.5h2M234 15.5h1M236 15.5h1M238 15.5h1M244 15.5h1M259 15.5h1M349 15.5h1M352 15.5h2M369 15.5h1M51 16.5h2M58 16.5h1M64 16.5h1M67 16.5h1M71 16.5h1M82 16.5h1M86 16.5h2M100 16.5h1M103 16.5h2M106 16.5h3M111 16.5h3M119 16.5h4M125 16.5h1M127 16.5h1M129 16.5h5M135 16.5h1M138 16.5h1M214 16.5h1M230 16.5h1M233 16.5h2M242 16.5h2M249 16.5h1M253 16.5h1M350 16.5h1M352 16.5h3M358 16.5h1M362 16.5h1M366 16.5h1M77 17.5h1M149 17.5h1M156 17.5h1M158 17.5h1M165 17.5h1M175 17.5h1M177 17.5h2M183 17.5h1M197 17.5h1M209 17.5h1M231 17.5h1M252 17.5h1M272 17.5h1M274 17.5h1M287 17.5h1M293 17.5h1M296 17.5h3M307 17.5h2M313 17.5h2M318 17.5h1"/>
<path stroke="#19f502" d="M73 2.5h1M75 2.5h2M78 2.5h2M81 2.5h1M83 2.5h1M87 2.5h1M89 2.5h2M94 2.5h1M97 2.5h1M101 2.5h1M107 2.5h1M360 2.5h1M364 2.5h1M368 2.5h3M372 2.5h3M72 3.5h3M79 3.5h1M81 3.5h3M87 3.5h2M90 3.5h2M95 3.5h1M100 3.5h1M105 3.5h3M328 3.5h1M330 3.5h1M339 3.5h1M343 3.5h1M345 3.5h1M350 3.5h2M356 3.5h2M359 3.5h1M362 3.5h4M367 3.5h3M375 3.5h1M377 3.5h2M72 4.5h2M76 4.5h1M79 4.5h1M87 4.5h1M89 4.5h3M95 4.5h2M98 4.5h1M100 4.5h1M105 4.5h2M321 4.5h1M324 4.5h1M333 4.5h8M342 4.5h1M344 4.5h3M350 4.5h4M359 4.5h1M361 4.5h1M364 4.5h2M367 4.5h3M371 4.5h2M375 4.5h2M378 4.5h1M63 5.5h3M68 5.5h1M72 5.5h1M77 5.5h2M80 5.5h1M84 5.5h2M88 5.5h2M92 5.5h2M95 5.5h2M98 5.5h2M101 5.5h1M105 5.5h1M320 5.5h2M323 5.5h4M329 5.5h1M331 5.5h2M336 5.5h1M346 5.5h1M357 5.5h2M366 5.5h2M369 5.5h1M371 5.5h2M374 5.5h1M376 5.5h2M63 6.5h6M72 6.5h1M75 6.5h1M77 6.5h2M81 6.5h1M85 6.5h5M91 6.5h1M94 6.5h2M99 6.5h1M102 6.5h2M107 6.5h1M111 6.5h1M114 6.5h1M116 6.5h1M130 6.5h1M134 6.5h1M314 6.5h1M317 6.5h2M322 6.5h1M325 6.5h1M327 6.5h2M330 6.5h1M333 6.5h1M335 6.5h1M358 6.5h1M364 6.5h1M366 6.5h2M371 6.5h3M376 6.5h1M63 7.5h1M65 7.5h1M69 7.5h5M75 7.5h1M78 7.5h1M80 7.5h2M85 7.5h2M90 7.5h1M93 7.5h2M97 7.5h2M102 7.5h1M107 7.5h1M109 7.5h1M111 7.5h1M114 7.5h1M117 7.5h2M121 7.5h1M123 7.5h1M127 7.5h1M130 7.5h1M132 7.5h1M134 7.5h3M138 7.5h2M303 7.5h1M311 7.5h1M313 7.5h1M315 7.5h1M317 7.5h2M321 7.5h1M323 7.5h3M327 7.5h2M349 7.5h1M358 7.5h1M360 7.5h1M362 7.5h2M367 7.5h3M372 7.5h3M376 7.5h2M61 8.5h1M64 8.5h3M68 8.5h1M73 8.5h2M76 8.5h5M83 8.5h2M91 8.5h1M93 8.5h2M97 8.5h1M100 8.5h1M105 8.5h1M108 8.5h1M111 8.5h1M113 8.5h1M119 8.5h4M124 8.5h1M126 8.5h3M130 8.5h2M136 8.5h1M301 8.5h2M306 8.5h3M310 8.5h1M312 8.5h1M314 8.5h2M317 8.5h1M326 8.5h2M329 8.5h2M332 8.5h1M338 8.5h1M340 8.5h3M349 8.5h1M354 8.5h2M357 8.5h1M363 8.5h1M366 8.5h1M370 8.5h3M374 8.5h1M376 8.5h1M61 9.5h3M65 9.5h1M67 9.5h1M70 9.5h6M77 9.5h2M80 9.5h2M84 9.5h1M86 9.5h1M90 9.5h1M92 9.5h1M99 9.5h2M103 9.5h1M105 9.5h4M111 9.5h3M118 9.5h4M123 9.5h1M129 9.5h2M134 9.5h1M137 9.5h1M247 9.5h3M296 9.5h1M299 9.5h1M303 9.5h1M308 9.5h2M311 9.5h1M313 9.5h1M320 9.5h3M324 9.5h1M327 9.5h1M331 9.5h3M338 9.5h1M343 9.5h1M347 9.5h2M351 9.5h1M355 9.5h1M360 9.5h1M362 9.5h1M367 9.5h4M373 9.5h3M63 10.5h1M65 10.5h6M103 10.5h2M107 10.5h1M110 10.5h1M112 10.5h1M119 10.5h2M122 10.5h2M125 10.5h1M127 10.5h1M129 10.5h1M133 10.5h5M139 10.5h2M145 10.5h1M147 10.5h1M150 10.5h4M156 10.5h4M164 10.5h2M169 10.5h1M175 10.5h2M178 10.5h2M186 10.5h1M192 10.5h1M208 10.5h1M217 10.5h1M248 10.5h1M277 10.5h2M280 10.5h3M285 10.5h1M289 10.5h1M317 10.5h1M325 10.5h5M332 10.5h2M336 10.5h1M341 10.5h1M345 10.5h1M348 10.5h1M350 10.5h1M352 10.5h1M354 10.5h1M356 10.5h2M360 10.5h2M364 10.5h2M367 10.5h1M62 11.5h1M65 11.5h3M69 11.5h2M101 11.5h1M106 11.5h1M110 11.5h1M116 11.5h1M120 11.5h1M122 11.5h2M125 11.5h4M130 11.5h1M134 11.5h1M138 11.5h1M140 11.5h1M142 11.5h1M209 11.5h1M211 11.5h2M249 11.5h2M259 11.5h1M270 11.5h2M274 11.5h2M280 11.5h3M286 11.5h1M289 11.5h1M292 11.5h1M327 11.5h1M348 11.5h2M353 11.5h1M355 11.5h1M358 11.5h3M362 11.5h3M377 11.5h1M61 12.5h2M67 12.5h2M72 12.5h2M75 12.5h1M78 12.5h1M80 12.5h1M83 12.5h4M88 12.5h1M92 12.5h1M95 12.5h1M100 12.5h1M102 12.5h1M110 12.5h1M112 12.5h1M116 12.5h1M118 12.5h1M120 12.5h2M123 12.5h1M125 12.5h2M135 12.5h3M141 12.5h1M190 12.5h1M209 12.5h1M211 12.5h1M215 12.5h1M222 12.5h1M243 12.5h1M250 12.5h1M254 12.5h1M272 12.5h1M276 12.5h1M279 12.5h1M348 12.5h2M351 12.5h2M355 12.5h1M360 12.5h1M364 12.5h2M367 12.5h1M60 13.5h5M87 13.5h7M97 13.5h1M99 13.5h1M101 13.5h2M107 13.5h4M112 13.5h2M117 13.5h1M121 13.5h1M125 13.5h1M127 13.5h1M132 13.5h1M136 13.5h4M208 13.5h1M212 13.5h1M228 13.5h2M240 13.5h1M244 13.5h1M248 13.5h3M253 13.5h1M255 13.5h1M344 13.5h1M354 13.5h1M357 13.5h1M360 13.5h3M364 13.5h2M370 13.5h1M61 14.5h3M86 14.5h1M94 14.5h3M98 14.5h3M102 14.5h3M106 14.5h1M108 14.5h1M111 14.5h1M114 14.5h1M116 14.5h1M119 14.5h1M121 14.5h2M126 14.5h2M130 14.5h1M136 14.5h3M190 14.5h1M211 14.5h1M215 14.5h1M218 14.5h1M222 14.5h1M225 14.5h1M234 14.5h1M238 14.5h1M240 14.5h1M243 14.5h2M249 14.5h1M252 14.5h2M255 14.5h1M259 14.5h1M261 14.5h1M348 14.5h1M350 14.5h2M354 14.5h4M359 14.5h1M361 14.5h2M364 14.5h1M366 14.5h1M59 15.5h1M61 15.5h1M63 15.5h1M85 15.5h1M88 15.5h1M91 15.5h1M95 15.5h1M98 15.5h1M104 15.5h1M106 15.5h2M109 15.5h2M113 15.5h1M115 15.5h1M118 15.5h1M125 15.5h1M127 15.5h2M131 15.5h1M138 15.5h1M141 15.5h1M190 15.5h1M199 15.5h1M214 15.5h1M216 15.5h1M219 15.5h3M224 15.5h1M226 15.5h2M240 15.5h1M243 15.5h1M246 15.5h1M255 15.5h1M260 15.5h1M350 15.5h1M356 15.5h1M360 15.5h3M365 15.5h1M367 15.5h1M59 16.5h4M66 16.5h1M68 16.5h3M72 16.5h2M75 16.5h1M77 16.5h2M80 16.5h2M83 16.5h1M85 16.5h1M88 16.5h3M92 16.5h3M96 16.5h3M101 16.5h2M105 16.5h1M109 16.5h1M116 16.5h3M123 16.5h1M126 16.5h1M128 16.5h1M136 16.5h1M140 16.5h1M181 16.5h1M186 16.5h1M210 16.5h1M212 16.5h1M215 16.5h3M220 16.5h2M223 16.5h3M229 16.5h1M232 16.5h1M237 16.5h2M241 16.5h1M245 16.5h4M250 16.5h2M260 16.5h1M273 16.5h1M322 16.5h1M327 16.5h1M346 16.5h1M348 16.5h1M351 16.5h1M355 16.5h1M357 16.5h1M359 16.5h3M363 16.5h1M365 16.5h1M367 16.5h1M176 17.5h1M294 17.5h1"/>
<path stroke="#45f900" d="M74 2.5h1M77 2.5h1M85 2.5h1M92 2.5h1M365 2.5h1M77 3.5h1M92 3.5h1M94 3.5h1M96 3.5h1M98 3.5h1M103 3.5h1M354 3.5h1M360 3.5h1M366 3.5h1M370 3.5h1M374 3.5h1M376 3.5h1M74 4.5h2M80 4.5h1M83 4.5h1M85 4.5h1M94 4.5h1M97 4.5h1M99 4.5h1M102 4.5h1M326 4.5h1M329 4.5h1M341 4.5h1M343 4.5h1M347 4.5h1M356 4.5h3M360 4.5h1M363 4.5h1M370 4.5h1M374 4.5h1M61 5.5h1M67 5.5h1M70 5.5h1M75 5.5h2M82 5.5h2M90 5.5h1M94 5.5h1M102 5.5h2M106 5.5h1M319 5.5h1M322 5.5h1M333 5.5h1M337 5.5h2M340 5.5h1M342 5.5h3M350 5.5h1M354 5.5h2M362 5.5h2M365 5.5h1M368 5.5h1M61 6.5h1M70 6.5h1M73 6.5h2M76 6.5h1M80 6.5h1M82 6.5h3M92 6.5h1M97 6.5h2M100 6.5h1M104 6.5h3M113 6.5h1M313 6.5h1M315 6.5h1M319 6.5h2M331 6.5h1M336 6.5h1M343 6.5h1M346 6.5h1M349 6.5h1M352 6.5h1M360 6.5h2M377 6.5h1M61 7.5h1M66 7.5h2M74 7.5h1M76 7.5h1M82 7.5h1M87 7.5h3M92 7.5h1M100 7.5h1M103 7.5h4M113 7.5h1M119 7.5h2M133 7.5h1M310 7.5h1M312 7.5h1M314 7.5h1M316 7.5h1M320 7.5h1M329 7.5h2M333 7.5h1M335 7.5h4M343 7.5h3M352 7.5h3M356 7.5h2M359 7.5h1M364 7.5h2M371 7.5h1M375 7.5h1M63 8.5h1M81 8.5h1M88 8.5h2M92 8.5h1M96 8.5h1M101 8.5h2M115 8.5h2M123 8.5h1M132 8.5h2M137 8.5h2M303 8.5h1M311 8.5h1M313 8.5h1M319 8.5h1M324 8.5h1M331 8.5h1M334 8.5h2M339 8.5h1M343 8.5h1M348 8.5h1M350 8.5h2M356 8.5h1M358 8.5h3M362 8.5h1M377 8.5h1M66 9.5h1M76 9.5h1M82 9.5h1M85 9.5h1M89 9.5h1M94 9.5h1M97 9.5h1M102 9.5h1M116 9.5h1M124 9.5h1M127 9.5h1M132 9.5h2M220 9.5h1M250 9.5h2M298 9.5h1M301 9.5h2M306 9.5h1M312 9.5h1M315 9.5h3M319 9.5h1M323 9.5h1M330 9.5h1M334 9.5h2M339 9.5h4M345 9.5h1M350 9.5h1M352 9.5h1M354 9.5h1M356 9.5h1M358 9.5h1M363 9.5h2M61 10.5h1M64 10.5h1M102 10.5h1M105 10.5h2M111 10.5h1M113 10.5h2M118 10.5h1M126 10.5h1M128 10.5h1M130 10.5h2M177 10.5h1M211 10.5h1M236 10.5h1M246 10.5h2M292 10.5h1M294 10.5h2M297 10.5h1M299 10.5h4M310 10.5h1M316 10.5h1M322 10.5h3M331 10.5h1M335 10.5h1M339 10.5h2M343 10.5h2M346 10.5h2M349 10.5h1M353 10.5h1M355 10.5h1M363 10.5h1M61 11.5h1M64 11.5h1M103 11.5h1M105 11.5h1M111 11.5h1M113 11.5h3M121 11.5h1M129 11.5h1M132 11.5h2M136 11.5h2M141 11.5h1M143 11.5h1M168 11.5h1M181 11.5h2M187 11.5h1M189 11.5h1M192 11.5h1M194 11.5h1M206 11.5h1M214 11.5h1M223 11.5h2M234 11.5h1M238 11.5h1M243 11.5h1M246 11.5h3M251 11.5h1M255 11.5h1M261 11.5h2M264 11.5h1M272 11.5h2M277 11.5h1M283 11.5h1M287 11.5h1M291 11.5h1M342 11.5h1M344 11.5h1M361 11.5h1M63 12.5h1M65 12.5h1M69 12.5h1M74 12.5h1M76 12.5h2M79 12.5h1M89 12.5h1M94 12.5h1M97 12.5h2M101 12.5h1M103 12.5h2M106 12.5h1M119 12.5h1M124 12.5h1M127 12.5h1M129 12.5h1M132 12.5h2M138 12.5h1M142 12.5h3M174 12.5h1M181 12.5h1M185 12.5h1M189 12.5h1M192 12.5h2M208 12.5h1M214 12.5h1M216 12.5h1M218 12.5h1M220 12.5h1M223 12.5h1M225 12.5h1M227 12.5h1M229 12.5h1M231 12.5h2M235 12.5h1M239 12.5h2M242 12.5h1M246 12.5h1M249 12.5h1M253 12.5h1M259 12.5h1M273 12.5h1M277 12.5h2M280 12.5h1M283 12.5h2M287 12.5h2M290 12.5h1M327 12.5h1M339 12.5h1M343 12.5h2M346 12.5h1M350 12.5h1M356 12.5h2M359 12.5h1M361 12.5h2M68 13.5h3M79 13.5h3M84 13.5h3M94 13.5h3M100 13.5h1M103 13.5h1M105 13.5h2M111 13.5h1M114 13.5h1M116 13.5h1M118 13.5h1M123 13.5h1M128 13.5h2M133 13.5h2M140 13.5h3M145 13.5h1M170 13.5h1M181 13.5h2M189 13.5h2M192 13.5h2M207 13.5h1M209 13.5h1M211 13.5h1M213 13.5h2M216 13.5h1M218 13.5h1M220 13.5h4M227 13.5h1M230 13.5h1M233 13.5h1M235 13.5h1M238 13.5h2M243 13.5h1M245 13.5h1M247 13.5h1M251 13.5h1M254 13.5h1M259 13.5h1M275 13.5h1M322 13.5h1M327 13.5h1M343 13.5h1M346 13.5h4M351 13.5h1M355 13.5h2M358 13.5h2M363 13.5h1M64 14.5h2M67 14.5h1M69 14.5h2M79 14.5h1M88 14.5h3M92 14.5h1M97 14.5h1M101 14.5h1M110 14.5h1M112 14.5h2M115 14.5h1M117 14.5h1M129 14.5h1M134 14.5h2M139 14.5h2M142 14.5h2M195 14.5h1M208 14.5h3M213 14.5h1M216 14.5h2M219 14.5h1M223 14.5h1M226 14.5h1M229 14.5h2M232 14.5h1M235 14.5h1M246 14.5h3M250 14.5h1M254 14.5h1M260 14.5h1M263 14.5h1M327 14.5h1M343 14.5h4M363 14.5h1M365 14.5h1M60 15.5h1M62 15.5h1M67 15.5h2M70 15.5h1M79 15.5h1M84 15.5h1M87 15.5h1M89 15.5h2M92 15.5h1M94 15.5h1M99 15.5h5M111 15.5h1M120 15.5h1M122 15.5h1M135 15.5h3M140 15.5h1M142 15.5h1M145 15.5h1M181 15.5h1M187 15.5h1M189 15.5h1M200 15.5h1M206 15.5h1M208 15.5h3M212 15.5h1M215 15.5h1M222 15.5h1M228 15.5h2M232 15.5h2M235 15.5h1M237 15.5h1M239 15.5h1M241 15.5h1M245 15.5h1M247 15.5h3M251 15.5h1M253 15.5h2M262 15.5h3M276 15.5h1M327 15.5h1M344 15.5h1M346 15.5h1M348 15.5h1M351 15.5h1M354 15.5h2M358 15.5h1M363 15.5h2M366 15.5h1M63 16.5h1M65 16.5h1M76 16.5h1M79 16.5h1M84 16.5h1M139 16.5h1M141 16.5h2M145 16.5h1M174 16.5h1M185 16.5h1M194 16.5h1M208 16.5h2M211 16.5h1M213 16.5h1M218 16.5h2M226 16.5h3M231 16.5h1M235 16.5h2M239 16.5h1M261 16.5h5M270 16.5h1M272 16.5h1M279 16.5h1M292 16.5h1M323 16.5h1M347 16.5h1M356 16.5h1M364 16.5h1"/>
<path stroke="#73fc00" d="M95 2.5h1M76 3.5h1M85 3.5h1M104 3.5h1M355 3.5h1M361 3.5h1M82 4.5h1M84 4.5h1M92 4.5h1M348 4.5h1M377 4.5h1M97 5.5h1M334 5.5h1M339 5.5h1M341 5.5h1M349 5.5h1M352 5.5h2M356 5.5h1M359 5.5h3M370 5.5h1M108 6.5h1M324 6.5h1M334 6.5h1M337 6.5h3M341 6.5h1M353 6.5h4M363 6.5h1M368 6.5h1M83 7.5h1M319 7.5h1M331 7.5h2M334 7.5h1M340 7.5h3M348 7.5h1M350 7.5h1M361 7.5h1M366 7.5h1M72 8.5h1M82 8.5h1M90 8.5h1M103 8.5h2M125 8.5h1M129 8.5h1M134 8.5h1M240 8.5h1M243 8.5h1M336 8.5h2M345 8.5h1M347 8.5h1M352 8.5h1M361 8.5h1M125 9.5h1M256 9.5h1M304 9.5h2M307 9.5h1M361 9.5h1M365 9.5h1M116 10.5h2M226 10.5h1M230 10.5h1M238 10.5h1M243 10.5h1M251 10.5h1M256 10.5h1M293 10.5h1M304 10.5h1M308 10.5h2M311 10.5h2M320 10.5h1M330 10.5h1M342 10.5h1M107 11.5h1M119 11.5h1M139 11.5h1M144 11.5h1M157 11.5h2M172 11.5h4M180 11.5h1M185 11.5h2M190 11.5h2M193 11.5h1M196 11.5h1M200 11.5h1M203 11.5h1M213 11.5h1M215 11.5h2M222 11.5h1M226 11.5h2M230 11.5h1M236 11.5h1M240 11.5h1M244 11.5h2M252 11.5h1M260 11.5h1M263 11.5h1M266 11.5h1M285 11.5h1M290 11.5h1M322 11.5h1M333 11.5h1M343 11.5h1M346 11.5h2M351 11.5h2M66 12.5h1M114 12.5h1M128 12.5h1M139 12.5h2M175 12.5h1M182 12.5h1M187 12.5h1M194 12.5h3M199 12.5h2M203 12.5h4M210 12.5h1M213 12.5h1M221 12.5h1M226 12.5h1M228 12.5h1M230 12.5h1M234 12.5h1M236 12.5h3M241 12.5h1M245 12.5h1M248 12.5h1M252 12.5h1M255 12.5h1M260 12.5h4M265 12.5h1M270 12.5h1M274 12.5h1M281 12.5h2M285 12.5h1M292 12.5h1M342 12.5h1M65 13.5h1M67 13.5h1M71 13.5h2M75 13.5h1M143 13.5h2M174 13.5h1M185 13.5h1M187 13.5h1M195 13.5h1M200 13.5h1M210 13.5h1M215 13.5h1M217 13.5h1M225 13.5h2M231 13.5h2M234 13.5h1M236 13.5h2M241 13.5h2M246 13.5h1M252 13.5h1M260 13.5h2M263 13.5h3M292 13.5h1M325 13.5h1M340 13.5h1M342 13.5h1M66 14.5h1M68 14.5h1M72 14.5h1M84 14.5h1M105 14.5h1M128 14.5h1M141 14.5h1M145 14.5h1M193 14.5h2M199 14.5h1M206 14.5h1M214 14.5h1M221 14.5h1M224 14.5h1M228 14.5h1M231 14.5h1M233 14.5h1M236 14.5h2M239 14.5h1M241 14.5h2M245 14.5h1M262 14.5h1M265 14.5h1M271 14.5h1M275 14.5h1M279 14.5h1M322 14.5h1M338 14.5h1M64 15.5h3M72 15.5h1M78 15.5h1M83 15.5h1M105 15.5h1M114 15.5h1M139 15.5h1M143 15.5h2M174 15.5h1M186 15.5h1M192 15.5h2M195 15.5h2M207 15.5h1M211 15.5h1M213 15.5h1M217 15.5h1M242 15.5h1M250 15.5h1M252 15.5h1M265 15.5h1M270 15.5h1M273 15.5h1M275 15.5h1M329 15.5h1M338 15.5h1M347 15.5h1M359 15.5h1M143 16.5h1M171 16.5h2M175 16.5h1M177 16.5h1M182 16.5h1M187 16.5h1M190 16.5h1M192 16.5h2M195 16.5h3M200 16.5h1M205 16.5h3M266 16.5h4M271 16.5h1M275 16.5h2M282 16.5h1M326 16.5h1M328 16.5h3M343 16.5h1M345 16.5h1"/>
<path stroke="#9eff00" d="M100 5.5h1M345 5.5h1M347 5.5h2M342 6.5h1M344 6.5h2M350 6.5h2M357 6.5h1M339 7.5h1M346 7.5h1M355 7.5h1M370 7.5h1M222 8.5h1M236 8.5h1M247 8.5h1M243 9.5h1M246 9.5h1M220 10.5h1M224 10.5h1M244 10.5h2M296 10.5h1M306 10.5h1M314 10.5h2M318 10.5h1M321 10.5h1M337 10.5h1M145 11.5h2M154 11.5h3M159 11.5h2M163 11.5h1M170 11.5h2M183 11.5h1M188 11.5h1M195 11.5h1M197 11.5h2M202 11.5h1M204 11.5h2M207 11.5h2M220 11.5h1M225 11.5h1M229 11.5h1M231 11.5h1M254 11.5h1M265 11.5h1M267 11.5h3M301 11.5h1M323 11.5h1M326 11.5h1M328 11.5h1M330 11.5h1M334 11.5h1M338 11.5h4M345 11.5h1M145 12.5h1M173 12.5h1M186 12.5h1M188 12.5h1M198 12.5h1M201 12.5h1M207 12.5h1M217 12.5h1M224 12.5h1M244 12.5h1M264 12.5h1M289 12.5h1M323 12.5h1M328 12.5h2M341 12.5h1M345 12.5h1M82 13.5h1M172 13.5h1M175 13.5h1M186 13.5h1M194 13.5h1M199 13.5h1M201 13.5h1M203 13.5h1M219 13.5h1M262 13.5h1M270 13.5h3M276 13.5h1M278 13.5h2M282 13.5h1M284 13.5h1M328 13.5h1M339 13.5h1M345 13.5h1M77 14.5h2M81 14.5h1M83 14.5h1M172 14.5h1M181 14.5h2M189 14.5h1M196 14.5h1M207 14.5h1M227 14.5h1M264 14.5h1M272 14.5h2M276 14.5h1M288 14.5h1M291 14.5h1M328 14.5h1M347 14.5h1M69 15.5h1M71 15.5h1M73 15.5h1M75 15.5h1M81 15.5h1M108 15.5h1M180 15.5h1M182 15.5h1M185 15.5h1M191 15.5h1M197 15.5h1M204 15.5h1M261 15.5h1M271 15.5h1M301 15.5h1M322 15.5h2M330 15.5h1M343 15.5h1M345 15.5h1M74 16.5h1M170 16.5h1M173 16.5h1M179 16.5h1M184 16.5h1M189 16.5h1M191 16.5h1M198 16.5h2M203 16.5h2M252 16.5h1M274 16.5h1M299 16.5h1M309 16.5h1M317 16.5h1M321 16.5h1M325 16.5h1M333 16.5h1M338 16.5h3"/>
<path stroke="#c1fd00" d="M351 5.5h1M347 6.5h2M347 7.5h1M248 8.5h2M238 9.5h1M218 10.5h1M223 10.5h1M225 10.5h1M228 10.5h1M232 10.5h1M234 10.5h1M255 10.5h1M305 10.5h1M313 10.5h1M319 10.5h1M148 11.5h1M162 11.5h1M165 11.5h1M176 11.5h3M199 11.5h1M201 11.5h1M217 11.5h2M228 11.5h1M232 11.5h2M237 11.5h1M239 11.5h1M242 11.5h1M253 11.5h1M302 11.5h1M317 11.5h1M320 11.5h2M325 11.5h1M332 11.5h1M146 12.5h1M158 12.5h1M162 12.5h1M170 12.5h1M172 12.5h1M179 12.5h1M183 12.5h2M197 12.5h1M233 12.5h1M286 12.5h1M301 12.5h1M321 12.5h2M326 12.5h1M330 12.5h1M338 12.5h1M347 12.5h1M73 13.5h1M76 13.5h1M78 13.5h1M83 13.5h1M160 13.5h1M191 13.5h1M196 13.5h3M204 13.5h3M224 13.5h1M273 13.5h2M277 13.5h1M321 13.5h1M323 13.5h1M326 13.5h1M329 13.5h1M334 13.5h1M71 14.5h1M75 14.5h1M80 14.5h1M82 14.5h1M85 14.5h1M144 14.5h1M170 14.5h1M174 14.5h1M179 14.5h2M185 14.5h3M191 14.5h1M198 14.5h1M200 14.5h2M203 14.5h1M205 14.5h1M269 14.5h2M278 14.5h1M282 14.5h1M292 14.5h1M323 14.5h1M326 14.5h1M329 14.5h1M80 15.5h1M82 15.5h1M146 15.5h1M170 15.5h1M175 15.5h1M177 15.5h1M179 15.5h1M188 15.5h1M194 15.5h1M201 15.5h2M205 15.5h1M266 15.5h1M268 15.5h2M274 15.5h1M278 15.5h2M282 15.5h1M286 15.5h1M292 15.5h1M325 15.5h2M328 15.5h1M144 16.5h1M150 16.5h1M152 16.5h1M165 16.5h1M168 16.5h1M178 16.5h1M180 16.5h1M183 16.5h1M188 16.5h1M201 16.5h2M277 16.5h2M280 16.5h1M288 16.5h1M300 16.5h1M302 16.5h1M306 16.5h1M332 16.5h1M344 16.5h1"/>
<path stroke="#e4fb00" d="M351 7.5h1M234 8.5h1M238 8.5h1M250 8.5h1M254 8.5h1M226 9.5h1M240 9.5h1M255 9.5h1M222 10.5h1M227 10.5h1M229 10.5h1M253 10.5h2M298 10.5h1M303 10.5h1M307 10.5h1M149 11.5h2M161 11.5h1M164 11.5h1M169 11.5h1M179 11.5h1M184 11.5h1M241 11.5h1M294 11.5h1M299 11.5h1M329 11.5h1M335 11.5h1M157 12.5h1M160 12.5h1M168 12.5h1M171 12.5h1M177 12.5h1M180 12.5h1M219 12.5h1M269 12.5h1M300 12.5h1M309 12.5h1M325 12.5h1M332 12.5h1M334 12.5h1M340 12.5h1M146 13.5h1M171 13.5h1M173 13.5h1M179 13.5h2M202 13.5h1M280 13.5h1M288 13.5h1M301 13.5h1M309 13.5h1M341 13.5h1M73 14.5h1M146 14.5h1M155 14.5h1M171 14.5h1M176 14.5h1M188 14.5h1M197 14.5h1M204 14.5h1M267 14.5h1M274 14.5h1M301 14.5h1M339 14.5h2M74 15.5h1M154 15.5h1M167 15.5h2M171 15.5h2M183 15.5h1M198 15.5h1M203 15.5h1M267 15.5h1M277 15.5h1M280 15.5h1M288 15.5h1M291 15.5h1M321 15.5h1M334 15.5h1M339 15.5h2M146 16.5h1M148 16.5h1M157 16.5h2M162 16.5h1M167 16.5h1M169 16.5h1M176 16.5h1M284 16.5h3M291 16.5h1M301 16.5h1M331 16.5h1M342 16.5h1"/>
<path stroke="#f7ef00" d="M233 8.5h1M237 8.5h1M230 9.5h1M236 9.5h1M244 9.5h1M239 10.5h1M242 10.5h1M147 11.5h1M151 11.5h3M167 11.5h1M219 11.5h1M221 11.5h1M235 11.5h1M293 11.5h1M300 11.5h1M306 11.5h1M313 11.5h1M336 11.5h1M152 12.5h1M154 12.5h2M176 12.5h1M191 12.5h1M266 12.5h1M299 12.5h1M302 12.5h1M306 12.5h1M74 13.5h1M77 13.5h1M155 13.5h1M157 13.5h1M176 13.5h1M184 13.5h1M188 13.5h1M269 13.5h1M283 13.5h1M285 13.5h1M291 13.5h1M333 13.5h1M338 13.5h1M76 14.5h1M157 14.5h2M175 14.5h1M178 14.5h1M183 14.5h1M202 14.5h1M266 14.5h1M277 14.5h1M286 14.5h1M294 14.5h1M308 14.5h1M313 14.5h1M321 14.5h1M325 14.5h1M330 14.5h1M333 14.5h2M76 15.5h2M157 15.5h2M160 15.5h1M173 15.5h1M176 15.5h1M178 15.5h1M184 15.5h1M272 15.5h1M284 15.5h2M299 15.5h2M306 15.5h1M309 15.5h1M331 15.5h1M333 15.5h1M335 15.5h1M149 16.5h1M153 16.5h4M160 16.5h1M163 16.5h1M281 16.5h1M283 16.5h1M289 16.5h1M293 16.5h1M297 16.5h1M311 16.5h1M313 16.5h1M316 16.5h1M319 16.5h2M334 16.5h3"/>
<path stroke="#fbd800" d="M228 7.5h1M251 8.5h1M225 9.5h1M227 9.5h1M234 9.5h1M237 9.5h1M233 10.5h1M235 10.5h1M237 10.5h1M241 10.5h1M252 10.5h1M166 11.5h1M295 11.5h1M304 11.5h2M308 11.5h2M311 11.5h2M315 11.5h2M319 11.5h1M331 11.5h1M147 12.5h1M156 12.5h1M164 12.5h1M178 12.5h1M202 12.5h1M267 12.5h2M308 12.5h1M333 12.5h1M336 12.5h1M154 13.5h1M156 13.5h1M158 13.5h1M177 13.5h1M183 13.5h1M267 13.5h2M281 13.5h1M286 13.5h1M289 13.5h1M294 13.5h1M300 13.5h1M306 13.5h1M308 13.5h1M312 13.5h1M330 13.5h1M74 14.5h1M160 14.5h1M162 14.5h1M168 14.5h2M173 14.5h1M177 14.5h1M184 14.5h1M268 14.5h1M280 14.5h1M284 14.5h2M289 14.5h1M299 14.5h1M302 14.5h1M306 14.5h1M309 14.5h1M320 14.5h1M148 15.5h1M155 15.5h1M161 15.5h3M165 15.5h1M169 15.5h1M294 15.5h1M297 15.5h1M311 15.5h1M316 15.5h2M319 15.5h1M342 15.5h1M147 16.5h1M164 16.5h1M294 16.5h2M304 16.5h1M308 16.5h1M324 16.5h1M337 16.5h1"/>
<path stroke="#fec200" d="M251 6.5h1M226 7.5h1M235 8.5h1M222 9.5h1M224 9.5h1M228 9.5h1M233 9.5h1M239 9.5h1M245 9.5h1M221 10.5h1M231 10.5h1M296 11.5h1M307 11.5h1M314 11.5h1M324 11.5h1M337 11.5h1M159 12.5h1M161 12.5h1M163 12.5h1M167 12.5h1M294 12.5h1M304 12.5h2M311 12.5h1M313 12.5h1M148 13.5h1M153 13.5h1M161 13.5h1M168 13.5h2M178 13.5h1M266 13.5h1M287 13.5h1M293 13.5h1M299 13.5h1M302 13.5h1M304 13.5h2M311 13.5h1M313 13.5h1M320 13.5h1M331 13.5h1M148 14.5h1M153 14.5h2M156 14.5h1M159 14.5h1M161 14.5h1M281 14.5h1M283 14.5h1M287 14.5h1M300 14.5h1M304 14.5h1M311 14.5h1M314 14.5h1M317 14.5h1M331 14.5h1M342 14.5h1M153 15.5h1M156 15.5h1M283 15.5h1M289 15.5h1M295 15.5h1M302 15.5h1M304 15.5h1M313 15.5h2M320 15.5h1M336 15.5h1M151 16.5h1M159 16.5h1M161 16.5h1M166 16.5h1M305 16.5h1M314 16.5h2"/>
<path stroke="#ffa600" d="M247 6.5h1M247 7.5h1M250 7.5h2M225 8.5h1M230 8.5h1M239 8.5h1M241 8.5h2M245 8.5h2M221 9.5h1M229 9.5h1M232 9.5h1M235 9.5h1M242 9.5h1M254 9.5h1M219 10.5h1M297 11.5h1M148 12.5h2M153 12.5h1M169 12.5h1M293 12.5h1M295 12.5h1M297 12.5h1M307 12.5h1M314 12.5h1M316 12.5h2M319 12.5h2M331 12.5h1M335 12.5h1M147 13.5h1M152 13.5h1M159 13.5h1M162 13.5h3M167 13.5h1M290 13.5h1M310 13.5h1M319 13.5h1M163 14.5h2M167 14.5h1M290 14.5h1M293 14.5h1M305 14.5h1M319 14.5h1M324 14.5h1M147 15.5h1M149 15.5h1M152 15.5h1M159 15.5h1M281 15.5h1M290 15.5h1M293 15.5h1M305 15.5h1M308 15.5h1M312 15.5h1M324 15.5h1M332 15.5h1M337 15.5h1M290 16.5h1M296 16.5h1M307 16.5h1M312 16.5h1M341 16.5h1"/>
<path stroke="#ff8900" d="M224 7.5h2M249 7.5h1M223 9.5h1M252 9.5h1M298 11.5h1M303 11.5h1M310 11.5h1M318 11.5h1M166 12.5h1M303 12.5h1M310 12.5h1M312 12.5h1M324 12.5h1M295 13.5h1M314 13.5h2M324 13.5h1M332 13.5h1M336 13.5h2M149 14.5h2M295 14.5h1M310 14.5h1M312 14.5h1M332 14.5h1M335 14.5h1M150 15.5h2M164 15.5h1M307 15.5h1M315 15.5h1M287 16.5h1M303 16.5h1M310 16.5h1M318 16.5h1"/>
<path stroke="#ff6c00" d="M246 7.5h1M252 7.5h1M223 8.5h1M226 8.5h1M231 9.5h1M241 9.5h1M150 12.5h1M165 12.5h1M315 12.5h1M337 12.5h1M165 13.5h1M307 13.5h1M147 14.5h1M152 14.5h1M307 14.5h1M316 14.5h1M336 14.5h2M341 14.5h1M287 15.5h1M296 15.5h1M303 15.5h1"/>
<path stroke="#ff5100" d="M248 7.5h1M229 8.5h1M253 8.5h1M253 9.5h1M151 12.5h1M296 12.5h1M318 12.5h1M149 13.5h2M296 13.5h1M316 13.5h2M335 13.5h1M151 14.5h1M165 14.5h2M296 14.5h2M315 14.5h1M166 15.5h1M310 15.5h1M318 15.5h1M298 16.5h1"/>
<path stroke="#ff3600" d="M249 6.5h1M231 8.5h1M166 13.5h1M303 13.5h1M303 14.5h1M298 15.5h1"/>
<path stroke="#ff1b00" d="M246 6.5h1M227 7.5h1M227 8.5h2M252 8.5h1M151 13.5h1M297 13.5h1M341 15.5h1"/>
<path stroke="#ff0000" d="M248 6.5h1M250 6.5h1M224 8.5h1M298 12.5h1M298 13.5h1M318 13.5h1M298 14.5h1M318 14.5h1"/>
</g></g>
<g filter="url(#spb)"><g transform="translate(120.0 1155.4) scale(2.50111 11.96842)" fill="none" stroke-width="1.03">
<path stroke="#906cb9" d="M239 0.5h1M30 1.5h1M234 1.5h1M264 2.5h1M21 3.5h1M265 3.5h1M386 3.5h1M426 4.5h1M15 6.5h1M424 6.5h1M417 7.5h1M222 8.5h1M389 8.5h1M15 9.5h1M222 9.5h1M254 9.5h1M411 9.5h1M33 10.5h1M217 11.5h1M376 11.5h1M382 12.5h1M377 13.5h1M208 14.5h1M390 14.5h1M260 15.5h1M264 15.5h1M374 15.5h1M265 16.5h1M364 16.5h1M383 16.5h1M250 17.5h1M374 17.5h1M375 18.5h1"/>
<path stroke="#9f87d8" d="M418 0.5h1M432 0.5h1M21 2.5h1M433 2.5h1M2 3.5h1M6 3.5h1M266 3.5h1M265 4.5h1M6 6.5h1M404 6.5h1M266 7.5h1M394 7.5h1M396 7.5h1M16 10.5h1M225 10.5h1M432 10.5h1M33 11.5h1M374 11.5h1M399 12.5h1M3 13.5h1M34 13.5h1M392 13.5h1M413 13.5h1M28 14.5h1M260 14.5h1M443 14.5h1M267 15.5h1M416 15.5h1M443 15.5h1M254 16.5h1M376 16.5h1M223 17.5h1M247 17.5h1M261 17.5h1M265 17.5h1M379 17.5h1M423 17.5h1M374 18.5h1M379 18.5h1"/>
<path stroke="#a59af2" d="M30 0.5h1M35 0.5h1M401 0.5h1M32 1.5h1M239 1.5h1M270 1.5h1M288 1.5h1M397 1.5h1M422 1.5h1M223 2.5h1M291 2.5h1M303 2.5h1M386 2.5h1M397 2.5h1M400 2.5h1M39 3.5h1M223 3.5h1M237 3.5h1M272 3.5h1M81 4.5h1M112 4.5h1M428 4.5h1M64 5.5h1M68 5.5h1M273 5.5h1M287 5.5h1M426 5.5h1M435 5.5h1M19 6.5h1M301 6.5h1M394 6.5h1M15 7.5h1M25 7.5h1M55 7.5h1M64 7.5h2M271 7.5h1M404 7.5h1M414 7.5h1M25 8.5h1M385 8.5h1M81 9.5h1M265 9.5h1M268 9.5h1M348 9.5h1M262 10.5h1M369 10.5h1M374 10.5h1M101 11.5h1M128 11.5h1M23 12.5h1M34 12.5h1M392 12.5h1M405 12.5h1M97 13.5h1M374 13.5h1M376 13.5h1M382 13.5h1M41 14.5h1M71 14.5h1M86 14.5h1M90 14.5h1M94 14.5h1M154 14.5h1M365 14.5h1M438 14.5h1M60 15.5h1M273 15.5h1M326 15.5h1M48 16.5h1M93 16.5h1M108 16.5h1M123 16.5h1M298 16.5h2M374 16.5h1M384 16.5h1M232 17.5h1M375 17.5h1M383 17.5h1M247 18.5h1M263 18.5h1"/>
<path stroke="#9098f8" d="M36 0.5h1M215 0.5h1M279 0.5h1M34 1.5h1M273 1.5h1M278 1.5h1M283 1.5h1M286 1.5h1M293 1.5h1M2 2.5h1M32 2.5h1M241 2.5h1M292 2.5h1M285 3.5h1M56 4.5h1M83 4.5h1M284 4.5h2M297 4.5h1M301 4.5h1M42 5.5h1M72 5.5h1M81 5.5h1M87 5.5h1M220 5.5h1M271 5.5h2M300 5.5h1M44 6.5h1M71 6.5h1M83 6.5h1M102 6.5h1M297 6.5h1M100 7.5h1M102 7.5h1M131 7.5h1M270 7.5h1M272 7.5h1M275 7.5h1M75 8.5h1M123 8.5h1M370 8.5h1M105 9.5h1M113 9.5h1M370 9.5h1M63 10.5h1M72 10.5h1M81 10.5h1M105 10.5h1M135 10.5h1M143 10.5h1M363 10.5h1M370 10.5h1M378 10.5h1M69 11.5h1M83 11.5h1M87 11.5h1M348 11.5h1M358 11.5h1M370 11.5h1M422 11.5h1M71 12.5h1M76 12.5h2M351 12.5h1M359 12.5h1M381 12.5h1M425 12.5h1M57 13.5h1M76 13.5h1M99 13.5h1M106 13.5h1M121 13.5h1M139 13.5h1M144 13.5h1M361 13.5h1M366 13.5h1M66 14.5h1M145 14.5h2M148 14.5h1M152 14.5h1M264 14.5h1M363 14.5h1M377 14.5h1M391 14.5h1M55 15.5h1M103 15.5h1M130 15.5h2M188 15.5h1M192 15.5h1M279 15.5h1M295 15.5h1M324 15.5h1M328 15.5h1M337 15.5h1M351 15.5h1M358 15.5h1M376 15.5h1M383 15.5h1M51 16.5h1M62 16.5h1M80 16.5h1M102 16.5h1M125 16.5h1M127 16.5h1M223 16.5h1M317 16.5h1M323 16.5h1M363 16.5h1M211 17.5h1M218 17.5h1M327 17.5h1M372 17.5h1M381 17.5h1M35 18.5h1M229 18.5h1M370 18.5h1M381 18.5h1"/>
<path stroke="#7b96fe" d="M266 0.5h1M268 0.5h1M276 0.5h1M288 0.5h1M290 0.5h1M385 0.5h1M35 1.5h1M268 1.5h1M275 1.5h1M281 1.5h1M287 1.5h1M290 1.5h1M295 1.5h3M300 1.5h1M303 1.5h2M310 1.5h1M38 2.5h1M271 2.5h1M282 2.5h1M290 2.5h1M296 2.5h1M269 3.5h1M271 3.5h1M273 3.5h1M275 3.5h1M280 3.5h1M296 3.5h1M303 3.5h1M13 4.5h1M34 4.5h1M41 4.5h1M46 4.5h1M51 4.5h1M69 4.5h1M268 4.5h1M278 4.5h1M283 4.5h1M287 4.5h4M293 4.5h1M295 4.5h1M298 4.5h1M302 4.5h2M6 5.5h1M51 5.5h1M53 5.5h1M60 5.5h1M67 5.5h1M86 5.5h1M104 5.5h1M116 5.5h1M278 5.5h1M281 5.5h1M284 5.5h1M296 5.5h1M419 5.5h1M60 6.5h1M66 6.5h2M105 6.5h1M108 6.5h1M111 6.5h2M121 6.5h1M123 6.5h1M266 6.5h1M274 6.5h1M283 6.5h4M289 6.5h1M293 6.5h1M296 6.5h1M415 6.5h1M39 7.5h1M47 7.5h1M60 7.5h1M68 7.5h2M80 7.5h1M93 7.5h1M103 7.5h1M130 7.5h1M133 7.5h1M223 7.5h2M276 7.5h1M278 7.5h4M286 7.5h3M346 7.5h1M352 7.5h1M354 7.5h1M356 7.5h1M358 7.5h1M382 7.5h1M39 8.5h1M55 8.5h1M57 8.5h1M72 8.5h1M77 8.5h1M79 8.5h1M85 8.5h1M111 8.5h1M115 8.5h1M131 8.5h1M352 8.5h1M365 8.5h1M48 9.5h1M54 9.5h2M58 9.5h1M74 9.5h1M83 9.5h1M92 9.5h1M96 9.5h1M109 9.5h1M112 9.5h1M119 9.5h1M121 9.5h1M125 9.5h1M138 9.5h1M351 9.5h1M358 9.5h1M367 9.5h1M432 9.5h1M93 10.5h1M99 10.5h2M111 10.5h1M122 10.5h1M131 10.5h1M140 10.5h1M142 10.5h1M346 10.5h1M349 10.5h1M366 10.5h2M51 11.5h1M74 11.5h1M82 11.5h1M84 11.5h2M95 11.5h1M116 11.5h1M136 11.5h1M144 11.5h1M146 11.5h1M360 11.5h2M364 11.5h3M369 11.5h1M396 11.5h1M47 12.5h1M54 12.5h1M57 12.5h1M67 12.5h1M96 12.5h1M109 12.5h1M113 12.5h1M126 12.5h1M137 12.5h1M146 12.5h1M237 12.5h1M349 12.5h2M355 12.5h1M357 12.5h1M361 12.5h1M368 12.5h1M35 13.5h1M47 13.5h1M75 13.5h1M84 13.5h1M87 13.5h2M108 13.5h1M111 13.5h1M114 13.5h2M137 13.5h1M142 13.5h2M150 13.5h1M365 13.5h1M371 13.5h1M381 13.5h1M47 14.5h1M54 14.5h1M60 14.5h1M87 14.5h1M105 14.5h1M118 14.5h1M122 14.5h1M147 14.5h1M149 14.5h1M153 14.5h1M195 14.5h1M201 14.5h1M374 14.5h1M6 15.5h1M53 15.5h1M61 15.5h1M70 15.5h1M85 15.5h1M101 15.5h2M109 15.5h2M122 15.5h1M137 15.5h2M158 15.5h1M191 15.5h1M194 15.5h1M276 15.5h1M318 15.5h1M322 15.5h1M342 15.5h1M353 15.5h1M360 15.5h1M370 15.5h1M377 15.5h1M47 16.5h1M64 16.5h1M76 16.5h1M84 16.5h1M89 16.5h1M95 16.5h1M99 16.5h1M118 16.5h2M128 16.5h1M199 16.5h1M275 16.5h1M295 16.5h1M307 16.5h1M331 16.5h1M359 16.5h1M362 16.5h1M381 16.5h1M440 16.5h1M36 17.5h1M254 17.5h1M279 17.5h1M296 17.5h1M305 17.5h1M318 17.5h1M320 17.5h1M337 17.5h1M350 17.5h1M366 17.5h1M378 18.5h1M412 18.5h1"/>
<path stroke="#517cff" d="M275 0.5h1M285 0.5h3M294 0.5h1M304 0.5h1M314 0.5h1M265 1.5h1M291 1.5h1M267 2.5h2M273 2.5h1M280 2.5h1M288 2.5h2M301 2.5h2M36 3.5h1M298 3.5h1M42 4.5h1M73 4.5h1M77 4.5h1M272 4.5h1M300 4.5h1M57 5.5h1M65 5.5h1M113 5.5h1M119 5.5h1M125 5.5h1M282 5.5h1M286 5.5h1M289 5.5h1M292 5.5h1M297 5.5h1M37 6.5h1M50 6.5h1M69 6.5h1M74 6.5h1M81 6.5h1M116 6.5h1M218 6.5h1M281 6.5h1M290 6.5h1M295 6.5h1M300 6.5h1M381 6.5h1M37 7.5h1M41 7.5h1M63 7.5h1M124 7.5h1M265 7.5h1M269 7.5h1M348 7.5h1M351 7.5h1M364 7.5h1M54 8.5h1M96 8.5h1M112 8.5h1M116 8.5h1M124 8.5h1M128 8.5h1M219 8.5h1M349 8.5h1M65 9.5h1M101 9.5h1M108 9.5h1M270 9.5h1M38 10.5h1M49 10.5h1M59 10.5h1M73 10.5h1M136 10.5h1M268 10.5h1M350 10.5h1M54 11.5h1M91 11.5h1M58 12.5h1M70 12.5h1M131 12.5h1M68 13.5h1M90 13.5h1M153 13.5h1M208 13.5h1M76 14.5h1M89 14.5h1M125 14.5h1M138 14.5h1M163 14.5h2M173 14.5h1M189 14.5h1M194 14.5h1M307 14.5h1M79 15.5h1M83 15.5h1M99 15.5h1M141 15.5h1M150 15.5h1M168 15.5h1M180 15.5h1M187 15.5h1M266 15.5h1M269 15.5h1M290 15.5h1M307 15.5h1M40 16.5h1M49 16.5h1M59 16.5h1M75 16.5h1M88 16.5h1M132 16.5h1M161 16.5h1M302 16.5h1M318 16.5h1M339 16.5h1M351 16.5h1M206 17.5h1M274 17.5h1M329 17.5h1M346 17.5h1M353 17.5h1M365 17.5h1"/>
<path stroke="#255fff" d="M41 0.5h1M295 0.5h2M301 0.5h1M311 0.5h1M361 0.5h1M38 1.5h1M35 3.5h1M267 3.5h1M267 4.5h1M269 4.5h1M218 5.5h1M269 5.5h1M267 6.5h1M217 10.5h1M267 10.5h1M368 11.5h1M196 13.5h1M355 13.5h1M357 13.5h1M359 13.5h1M362 13.5h1M141 14.5h1M157 14.5h1M162 14.5h1M171 14.5h1M185 14.5h1M295 14.5h1M301 14.5h2M319 14.5h1M322 14.5h1M324 14.5h2M327 14.5h1M329 14.5h1M334 14.5h1M339 14.5h1M355 14.5h1M132 15.5h1M136 15.5h1M145 15.5h1M153 15.5h1M159 15.5h1M165 15.5h2M173 15.5h1M184 15.5h2M190 15.5h1M175 16.5h2M34 18.5h1M208 18.5h1"/>
<path stroke="#126fff" d="M33 0.5h1M196 0.5h1M272 0.5h1M274 0.5h1M289 0.5h1M302 0.5h1M305 0.5h1M320 0.5h1M326 0.5h1M340 0.5h1M353 0.5h2M364 0.5h1M369 0.5h1M380 0.5h1M384 0.5h1M272 1.5h1M279 1.5h1M285 1.5h1M294 1.5h1M381 1.5h1M384 1.5h1M35 2.5h1M275 2.5h1M293 2.5h2M297 2.5h1M383 2.5h1M40 3.5h2M274 3.5h1M284 3.5h1M288 3.5h1M291 3.5h1M72 4.5h1M85 4.5h2M116 4.5h1M122 4.5h1M274 4.5h1M277 4.5h1M59 5.5h1M75 5.5h1M89 5.5h1M124 5.5h1M275 5.5h2M298 5.5h1M39 6.5h1M41 6.5h1M54 6.5h1M59 6.5h1M95 6.5h1M101 6.5h1M113 6.5h1M118 6.5h1M124 6.5h1M272 6.5h2M288 6.5h1M43 7.5h1M58 7.5h1M75 7.5h1M79 7.5h1M81 7.5h1M92 7.5h1M99 7.5h1M112 7.5h1M114 7.5h1M122 7.5h1M268 7.5h1M273 7.5h1M284 7.5h1M289 7.5h1M361 7.5h1M363 7.5h1M37 8.5h1M47 8.5h1M68 8.5h1M74 8.5h1M94 8.5h1M114 8.5h1M117 8.5h1M119 8.5h2M267 8.5h1M269 8.5h1M353 8.5h2M43 9.5h1M51 9.5h2M62 9.5h1M79 9.5h1M102 9.5h1M104 9.5h1M356 9.5h1M359 9.5h1M39 10.5h1M41 10.5h1M62 10.5h1M76 10.5h1M86 10.5h1M347 10.5h2M351 10.5h1M361 10.5h1M368 10.5h1M35 11.5h1M47 11.5h1M53 11.5h1M70 11.5h1M80 11.5h1M86 11.5h1M115 11.5h1M133 11.5h1M147 11.5h1M268 11.5h1M357 11.5h1M59 12.5h1M72 12.5h1M75 12.5h1M78 12.5h1M83 12.5h1M85 12.5h1M106 12.5h1M112 12.5h1M144 12.5h1M269 12.5h1M354 12.5h1M360 12.5h1M38 13.5h1M44 13.5h1M72 13.5h1M80 13.5h1M94 13.5h1M132 13.5h1M147 13.5h1M201 13.5h1M269 13.5h1M329 13.5h1M346 13.5h1M354 13.5h1M356 13.5h1M59 14.5h1M92 14.5h1M134 14.5h1M137 14.5h1M140 14.5h1M143 14.5h2M159 14.5h1M186 14.5h1M190 14.5h1M267 14.5h1M305 14.5h1M323 14.5h1M330 14.5h1M333 14.5h1M336 14.5h1M340 14.5h1M344 14.5h1M360 14.5h1M42 15.5h1M65 15.5h1M73 15.5h1M75 15.5h1M100 15.5h1M114 15.5h1M121 15.5h1M144 15.5h1M151 15.5h1M157 15.5h1M314 15.5h1M41 16.5h1M53 16.5h1M101 16.5h1M106 16.5h1M126 16.5h1M163 16.5h1M165 16.5h1M287 16.5h1M294 16.5h1M300 16.5h1M319 16.5h1M329 16.5h1M343 16.5h1M197 17.5h1M270 17.5h1M282 17.5h1M321 17.5h1M348 17.5h1M269 18.5h1"/>
<path stroke="#0387ff" d="M37 0.5h1M198 0.5h1M299 0.5h1M315 0.5h1M355 0.5h1M358 0.5h1M363 0.5h1M365 0.5h1M415 0.5h1M203 1.5h1M205 1.5h1M383 1.5h1M269 2.5h1M243 3.5h1M381 4.5h1M369 6.5h1M377 6.5h1M380 6.5h1M414 6.5h1M267 7.5h1M370 7.5h1M406 7.5h1M34 11.5h1M208 11.5h1M437 11.5h1M298 13.5h1M306 13.5h1M315 13.5h1M324 13.5h1M349 13.5h1M353 13.5h1M358 13.5h1M390 13.5h1M158 14.5h1M160 14.5h2M181 14.5h1M296 14.5h4M304 14.5h1M314 14.5h1M316 14.5h1M342 14.5h1M352 14.5h1M356 14.5h1M142 15.5h1M155 15.5h1M164 15.5h1M172 15.5h1M368 15.5h1M138 16.5h1M150 16.5h1M153 16.5h1M177 16.5h1M211 16.5h1M202 17.5h2M269 17.5h1M373 17.5h1M207 18.5h1M267 18.5h2"/>
<path stroke="#00a4ff" d="M269 0.5h1M278 0.5h1M291 0.5h2M298 0.5h1M303 0.5h1M308 0.5h2M312 0.5h1M337 0.5h1M344 0.5h1M349 0.5h1M352 0.5h1M359 0.5h2M370 0.5h1M377 0.5h1M39 1.5h1M306 1.5h1M308 1.5h1M311 1.5h1M376 1.5h1M277 2.5h1M279 2.5h1M299 2.5h1M376 2.5h1M217 3.5h1M276 3.5h1M279 3.5h1M283 3.5h1M293 3.5h1M295 3.5h1M297 3.5h1M40 4.5h1M49 4.5h1M54 4.5h1M59 4.5h1M63 4.5h1M74 4.5h1M95 4.5h1M118 4.5h1M273 4.5h1M280 4.5h1M282 4.5h1M299 4.5h1M380 4.5h1M49 5.5h1M55 5.5h1M80 5.5h1M91 5.5h2M97 5.5h1M121 5.5h1M277 5.5h1M280 5.5h1M290 5.5h1M293 5.5h1M295 5.5h1M303 5.5h1M382 5.5h1M46 6.5h2M90 6.5h1M127 6.5h1M298 6.5h2M375 6.5h1M42 7.5h1M45 7.5h1M49 7.5h1M83 7.5h1M96 7.5h1M116 7.5h1M127 7.5h1M274 7.5h1M290 7.5h1M355 7.5h1M357 7.5h1M35 8.5h1M78 8.5h1M83 8.5h1M122 8.5h1M270 8.5h1M272 8.5h1M346 8.5h1M351 8.5h1M356 8.5h2M35 9.5h1M50 9.5h1M56 9.5h2M60 9.5h1M63 9.5h1M67 9.5h1M73 9.5h1M84 9.5h1M114 9.5h1M124 9.5h1M352 9.5h1M361 9.5h2M47 10.5h1M67 10.5h1M84 10.5h1M90 10.5h1M98 10.5h1M133 10.5h1M141 10.5h1M212 10.5h1M270 10.5h1M37 11.5h1M44 11.5h1M67 11.5h2M77 11.5h1M88 11.5h1M94 11.5h1M105 11.5h1M120 11.5h1M130 11.5h1M271 11.5h1M352 11.5h1M355 11.5h1M35 12.5h1M52 12.5h1M55 12.5h1M68 12.5h2M74 12.5h1M82 12.5h1M87 12.5h1M141 12.5h1M358 12.5h1M363 12.5h1M366 12.5h1M56 13.5h1M58 13.5h1M61 13.5h1M73 13.5h1M82 13.5h1M117 13.5h1M124 13.5h1M149 13.5h1M156 13.5h1M299 13.5h1M333 13.5h1M338 13.5h1M340 13.5h1M46 14.5h1M67 14.5h1M81 14.5h1M109 14.5h1M117 14.5h1M132 14.5h1M165 14.5h1M167 14.5h1M175 14.5h1M177 14.5h1M269 14.5h1M271 14.5h2M300 14.5h1M308 14.5h1M318 14.5h1M321 14.5h1M332 14.5h1M341 14.5h1M343 14.5h1M349 14.5h1M353 14.5h1M67 15.5h1M91 15.5h1M125 15.5h1M129 15.5h1M135 15.5h1M148 15.5h1M169 15.5h1M178 15.5h1M186 15.5h1M272 15.5h1M280 15.5h2M308 15.5h1M315 15.5h1M332 15.5h2M338 15.5h1M345 15.5h1M357 15.5h1M359 15.5h1M60 16.5h1M67 16.5h1M83 16.5h1M98 16.5h1M113 16.5h1M149 16.5h1M276 16.5h1M281 16.5h1M284 16.5h1M313 16.5h1M342 16.5h1M346 16.5h1M37 17.5h1M272 17.5h1M285 17.5h1M291 17.5h1M313 17.5h1M316 17.5h1M328 17.5h1M340 17.5h1M359 17.5h1"/>
<path stroke="#00c1ff" d="M38 0.5h1M40 0.5h1M42 0.5h1M307 0.5h1M310 0.5h1M318 0.5h1M322 0.5h1M327 0.5h1M338 0.5h1M345 0.5h2M376 0.5h1M381 0.5h1M36 1.5h1M204 1.5h1M378 1.5h1M42 3.5h1M215 4.5h1M372 4.5h1M379 4.5h1M371 6.5h1M204 12.5h1M193 13.5h1M199 13.5h1M270 13.5h1M304 13.5h1M314 13.5h1M317 13.5h1M360 13.5h1M133 14.5h1M155 14.5h1M174 14.5h1M270 14.5h1M306 14.5h1M312 14.5h2M315 14.5h1M337 14.5h2M134 15.5h1M140 15.5h1M152 15.5h1M156 15.5h1M162 15.5h1M140 16.5h2M152 16.5h1M159 16.5h1M169 16.5h2M199 17.5h1"/>
<path stroke="#00d9f9" d="M205 0.5h1M271 0.5h1M273 0.5h1M280 0.5h2M283 0.5h2M293 0.5h1M297 0.5h1M319 0.5h1M323 0.5h1M330 0.5h2M335 0.5h1M341 0.5h1M343 0.5h1M347 0.5h2M351 0.5h1M356 0.5h2M367 0.5h2M198 1.5h1M276 1.5h1M280 1.5h1M284 1.5h1M289 1.5h1M292 1.5h1M299 1.5h1M301 1.5h1M373 1.5h1M196 2.5h1M270 2.5h1M272 2.5h1M278 2.5h1M283 2.5h4M295 2.5h1M298 2.5h1M373 2.5h1M377 2.5h1M281 3.5h2M287 3.5h1M292 3.5h1M294 3.5h1M300 3.5h1M302 3.5h1M52 4.5h1M80 4.5h1M92 4.5h3M102 4.5h1M111 4.5h1M119 4.5h1M196 4.5h1M200 4.5h1M202 4.5h1M209 4.5h1M271 4.5h1M375 4.5h2M37 5.5h1M45 5.5h1M69 5.5h1M71 5.5h1M73 5.5h1M79 5.5h1M83 5.5h1M95 5.5h1M114 5.5h1M120 5.5h1M122 5.5h1M126 5.5h1M196 5.5h1M274 5.5h1M279 5.5h1M283 5.5h1M288 5.5h1M291 5.5h1M294 5.5h1M299 5.5h1M301 5.5h1M42 6.5h2M45 6.5h1M70 6.5h1M84 6.5h1M89 6.5h1M117 6.5h1M119 6.5h1M270 6.5h1M276 6.5h1M279 6.5h1M287 6.5h1M302 6.5h1M382 6.5h1M50 7.5h1M56 7.5h1M59 7.5h1M67 7.5h1M70 7.5h1M85 7.5h2M101 7.5h1M106 7.5h1M121 7.5h1M132 7.5h1M277 7.5h1M282 7.5h1M285 7.5h1M291 7.5h1M353 7.5h1M360 7.5h1M362 7.5h1M365 7.5h1M36 8.5h1M58 8.5h1M62 8.5h1M84 8.5h1M113 8.5h1M132 8.5h1M137 8.5h1M198 8.5h1M209 8.5h1M348 8.5h1M358 8.5h2M367 8.5h1M417 8.5h1M68 9.5h1M76 9.5h1M85 9.5h1M116 9.5h1M347 9.5h1M349 9.5h1M35 10.5h1M46 10.5h1M51 10.5h1M55 10.5h1M57 10.5h1M78 10.5h1M80 10.5h1M91 10.5h1M101 10.5h1M123 10.5h1M132 10.5h1M260 10.5h1M356 10.5h2M362 10.5h1M18 11.5h1M36 11.5h1M49 11.5h1M63 11.5h1M79 11.5h1M81 11.5h1M90 11.5h1M109 11.5h1M111 11.5h1M123 11.5h1M127 11.5h1M140 11.5h1M272 11.5h1M346 11.5h2M353 11.5h1M45 12.5h1M62 12.5h1M81 12.5h1M98 12.5h1M100 12.5h2M116 12.5h1M130 12.5h1M147 12.5h1M150 12.5h1M353 12.5h1M362 12.5h1M53 13.5h1M62 13.5h3M71 13.5h1M81 13.5h1M98 13.5h1M110 13.5h1M122 13.5h1M127 13.5h1M129 13.5h1M136 13.5h1M146 13.5h1M148 13.5h1M265 13.5h1M271 13.5h1M294 13.5h2M302 13.5h1M311 13.5h1M316 13.5h1M319 13.5h1M321 13.5h3M326 13.5h2M334 13.5h2M350 13.5h1M385 13.5h1M405 13.5h1M35 14.5h1M43 14.5h1M56 14.5h3M68 14.5h2M93 14.5h1M96 14.5h2M126 14.5h1M131 14.5h1M172 14.5h1M178 14.5h1M187 14.5h1M273 14.5h1M291 14.5h1M294 14.5h1M303 14.5h1M317 14.5h1M326 14.5h1M331 14.5h1M345 14.5h1M354 14.5h1M357 14.5h2M383 14.5h1M41 15.5h1M47 15.5h1M57 15.5h1M81 15.5h2M105 15.5h1M107 15.5h1M113 15.5h1M284 15.5h1M288 15.5h1M320 15.5h1M323 15.5h1M336 15.5h1M340 15.5h1M350 15.5h1M422 15.5h1M46 16.5h1M78 16.5h1M90 16.5h1M97 16.5h1M116 16.5h1M130 16.5h1M139 16.5h1M142 16.5h1M160 16.5h1M167 16.5h1M178 16.5h1M227 16.5h1M232 16.5h1M277 16.5h1M282 16.5h1M301 16.5h1M316 16.5h1M320 16.5h1M322 16.5h1M335 16.5h1M349 16.5h1M372 16.5h1M40 17.5h1M52 17.5h1M72 17.5h1M76 17.5h2M91 17.5h2M103 17.5h1M112 17.5h1M125 17.5h1M142 17.5h1M168 17.5h1M189 17.5h1M205 17.5h1M273 17.5h1M300 17.5h1M312 17.5h1M378 17.5h1M417 17.5h1M204 18.5h1"/>
<path stroke="#00eaea" d="M44 0.5h2M189 0.5h2M195 0.5h1M203 0.5h1M306 0.5h1M313 0.5h1M336 0.5h1M339 0.5h1M342 0.5h1M371 0.5h1M41 1.5h1M196 1.5h1M200 1.5h1M209 1.5h1M282 1.5h1M309 1.5h1M370 1.5h3M375 1.5h1M380 1.5h1M41 2.5h1M195 2.5h1M200 2.5h1M204 2.5h1M214 2.5h1M287 2.5h1M300 2.5h1M370 2.5h2M375 2.5h1M380 2.5h1M43 3.5h1M81 3.5h1M195 3.5h1M197 3.5h1M208 3.5h1M371 3.5h2M374 3.5h1M57 4.5h1M65 4.5h1M67 4.5h1M78 4.5h1M87 4.5h1M101 4.5h1M104 4.5h1M120 4.5h1M123 4.5h1M194 4.5h1M199 4.5h1M207 4.5h1M270 4.5h1M286 4.5h1M291 4.5h1M294 4.5h1M296 4.5h1M370 4.5h1M373 4.5h1M377 4.5h1M41 5.5h1M44 5.5h1M84 5.5h1M107 5.5h1M118 5.5h1M127 5.5h1M195 5.5h1M199 5.5h1M203 5.5h1M206 5.5h1M208 5.5h1M302 5.5h1M370 5.5h3M374 5.5h1M376 5.5h1M48 6.5h1M100 6.5h1M107 6.5h1M109 6.5h1M200 6.5h1M282 6.5h1M291 6.5h1M294 6.5h1M303 6.5h1M368 6.5h1M372 6.5h1M374 6.5h1M48 7.5h1M53 7.5h1M95 7.5h1M110 7.5h1M113 7.5h1M123 7.5h1M128 7.5h1M197 7.5h1M199 7.5h1M201 7.5h1M209 7.5h1M216 7.5h1M283 7.5h1M41 8.5h1M66 8.5h1M90 8.5h1M97 8.5h1M99 8.5h1M105 8.5h1M126 8.5h1M138 8.5h1M195 8.5h2M200 8.5h1M204 8.5h1M216 8.5h1M273 8.5h1M366 8.5h1M37 9.5h1M47 9.5h1M72 9.5h1M75 9.5h1M80 9.5h1M94 9.5h1M107 9.5h1M134 9.5h1M136 9.5h1M207 9.5h1M209 9.5h1M272 9.5h1M345 9.5h1M353 9.5h1M364 9.5h1M61 10.5h1M74 10.5h1M104 10.5h1M108 10.5h2M114 10.5h1M120 10.5h1M126 10.5h1M128 10.5h1M137 10.5h1M192 10.5h1M197 10.5h1M206 10.5h1M211 10.5h1M355 10.5h1M42 11.5h1M46 11.5h1M56 11.5h1M89 11.5h1M93 11.5h1M103 11.5h1M121 11.5h1M200 11.5h1M349 11.5h1M44 12.5h1M49 12.5h2M65 12.5h2M134 12.5h1M152 12.5h2M199 12.5h2M272 12.5h1M346 12.5h1M356 12.5h1M45 13.5h1M91 13.5h1M113 13.5h1M140 13.5h1M145 13.5h1M189 13.5h1M198 13.5h1M300 13.5h2M307 13.5h1M309 13.5h1M313 13.5h1M344 13.5h1M347 13.5h1M45 14.5h1M78 14.5h1M98 14.5h1M111 14.5h1M113 14.5h1M166 14.5h1M179 14.5h2M183 14.5h1M292 14.5h2M309 14.5h3M335 14.5h1M351 14.5h1M51 15.5h1M56 15.5h1M58 15.5h1M89 15.5h1M106 15.5h1M123 15.5h1M300 15.5h1M317 15.5h1M321 15.5h1M341 15.5h1M352 15.5h1M50 16.5h1M52 16.5h1M56 16.5h1M61 16.5h1M105 16.5h1M110 16.5h1M115 16.5h1M117 16.5h1M143 16.5h1M181 16.5h2M272 16.5h2M280 16.5h1M285 16.5h1M290 16.5h1M39 17.5h1M42 17.5h2M47 17.5h2M56 17.5h1M60 17.5h1M63 17.5h1M66 17.5h1M68 17.5h3M74 17.5h1M80 17.5h1M84 17.5h2M87 17.5h1M89 17.5h1M93 17.5h1M96 17.5h2M99 17.5h3M104 17.5h1M109 17.5h2M113 17.5h1M116 17.5h2M119 17.5h1M122 17.5h2M127 17.5h1M131 17.5h1M139 17.5h1M143 17.5h1M145 17.5h2M148 17.5h1M150 17.5h1M157 17.5h1M159 17.5h1M162 17.5h2M165 17.5h1M170 17.5h1M178 17.5h1M204 17.5h1M288 17.5h1M304 17.5h1M308 17.5h1M315 17.5h1M323 17.5h1M336 17.5h1M358 17.5h1M202 18.5h1M271 18.5h1M365 18.5h1"/>
<path stroke="#00f6cf" d="M43 0.5h1M46 0.5h1M57 0.5h1M95 0.5h1M122 0.5h1M152 0.5h1M154 0.5h2M164 0.5h1M168 0.5h1M183 0.5h1M185 0.5h1M187 0.5h2M317 0.5h1M321 0.5h1M325 0.5h1M328 0.5h1M332 0.5h1M350 0.5h1M362 0.5h1M378 0.5h1M40 1.5h1M42 1.5h1M192 1.5h1M312 1.5h3M338 1.5h1M347 1.5h1M363 1.5h1M377 1.5h1M192 2.5h1M206 2.5h1M304 2.5h1M90 3.5h1M92 3.5h1M103 3.5h1M105 3.5h1M107 3.5h1M110 3.5h3M114 3.5h1M118 3.5h1M189 3.5h1M196 3.5h1M199 3.5h1M203 3.5h3M210 3.5h1M201 4.5h1M208 4.5h1M212 4.5h1M368 4.5h2M378 4.5h1M194 5.5h1M215 5.5h1M369 5.5h1M130 6.5h1M189 6.5h1M192 6.5h1M208 6.5h1M212 6.5h1M367 6.5h1M134 7.5h1M192 7.5h1M210 7.5h1M190 8.5h1M194 8.5h1M199 8.5h1M206 8.5h1M277 8.5h1M345 8.5h1M142 9.5h1M190 9.5h1M197 9.5h1M201 9.5h1M203 9.5h1M273 9.5h1M145 10.5h1M196 10.5h1M202 10.5h1M204 10.5h2M148 11.5h2M194 11.5h1M273 11.5h1M203 12.5h1M271 12.5h1M344 12.5h2M157 13.5h2M161 13.5h1M184 13.5h1M186 13.5h3M190 13.5h1M293 13.5h1M296 13.5h2M305 13.5h1M312 13.5h1M320 13.5h1M330 13.5h1M332 13.5h1M336 13.5h2M339 13.5h1M341 13.5h1M345 13.5h1M170 14.5h1M176 14.5h1M275 14.5h1M284 14.5h1M44 17.5h2M53 17.5h1M59 17.5h1M64 17.5h1M67 17.5h1M82 17.5h2M86 17.5h1M88 17.5h1M90 17.5h1M95 17.5h1M107 17.5h2M114 17.5h1M118 17.5h1M120 17.5h1M124 17.5h1M130 17.5h1M135 17.5h3M140 17.5h1M144 17.5h1M147 17.5h1M151 17.5h3M155 17.5h1M160 17.5h1M169 17.5h1M174 17.5h3M179 17.5h2M182 17.5h1M185 17.5h2M191 17.5h1M201 17.5h1M196 18.5h1M198 18.5h1M201 18.5h1M358 18.5h1M363 18.5h1"/>
<path stroke="#00f8a1" d="M48 0.5h1M50 0.5h1M52 0.5h2M60 0.5h4M65 0.5h1M68 0.5h3M75 0.5h1M78 0.5h1M81 0.5h1M86 0.5h2M89 0.5h1M91 0.5h2M94 0.5h1M96 0.5h1M103 0.5h1M108 0.5h1M112 0.5h1M116 0.5h1M118 0.5h1M132 0.5h1M138 0.5h1M145 0.5h1M150 0.5h2M157 0.5h2M161 0.5h2M166 0.5h1M169 0.5h2M172 0.5h2M176 0.5h1M178 0.5h1M181 0.5h2M184 0.5h1M186 0.5h1M191 0.5h1M334 0.5h1M375 0.5h1M379 0.5h1M164 1.5h1M315 1.5h1M320 1.5h5M340 1.5h1M342 1.5h1M349 1.5h1M351 1.5h1M355 1.5h1M361 1.5h1M364 1.5h1M366 1.5h1M379 1.5h1M190 2.5h1M193 2.5h1M305 2.5h2M308 2.5h1M45 3.5h2M73 3.5h1M84 3.5h3M88 3.5h2M95 3.5h1M97 3.5h1M100 3.5h3M104 3.5h1M106 3.5h1M108 3.5h2M115 3.5h3M119 3.5h1M190 3.5h3M304 3.5h1M380 3.5h1M185 4.5h1M189 4.5h1M192 4.5h1M305 4.5h1M128 5.5h1M187 5.5h2M193 5.5h1M305 5.5h1M373 5.5h1M131 6.5h1M133 6.5h1M193 6.5h1M304 6.5h1M184 7.5h1M189 7.5h1M191 7.5h1M193 7.5h2M139 8.5h1M192 8.5h1M211 8.5h1M274 8.5h1M276 8.5h1M278 8.5h2M281 8.5h1M286 8.5h1M290 8.5h1M189 9.5h1M274 9.5h1M276 9.5h1M273 10.5h1M190 11.5h1M276 11.5h1M345 11.5h1M154 12.5h1M191 12.5h2M273 12.5h1M313 12.5h1M338 12.5h1M342 12.5h1M159 13.5h1M162 13.5h2M165 13.5h2M170 13.5h2M177 13.5h2M181 13.5h1M291 13.5h2M308 13.5h1M310 13.5h1M318 13.5h1M325 13.5h1M331 13.5h1M274 14.5h1M281 14.5h1M286 14.5h1M290 14.5h1M75 17.5h1M173 17.5h1M38 18.5h2M45 18.5h2M49 18.5h1M54 18.5h1M63 18.5h1M71 18.5h1M82 18.5h1M96 18.5h1M105 18.5h1M137 18.5h1M143 18.5h1M161 18.5h1M172 18.5h1M190 18.5h1M194 18.5h1M270 18.5h1M273 18.5h1M278 18.5h1M281 18.5h2M285 18.5h1M287 18.5h1M289 18.5h4M298 18.5h1M300 18.5h3M316 18.5h1M329 18.5h1M332 18.5h2M338 18.5h1M341 18.5h2M350 18.5h1M354 18.5h1M356 18.5h2"/>
<path stroke="#04f96f" d="M49 0.5h1M51 0.5h1M54 0.5h1M56 0.5h1M59 0.5h1M64 0.5h1M66 0.5h1M72 0.5h3M76 0.5h1M79 0.5h1M82 0.5h3M88 0.5h1M90 0.5h1M93 0.5h1M97 0.5h6M106 0.5h1M110 0.5h2M113 0.5h3M117 0.5h1M119 0.5h3M123 0.5h6M130 0.5h2M137 0.5h1M143 0.5h1M149 0.5h1M153 0.5h1M159 0.5h2M175 0.5h1M180 0.5h1M43 1.5h1M46 1.5h1M49 1.5h1M118 1.5h1M154 1.5h1M174 1.5h1M184 1.5h1M187 1.5h1M189 1.5h1M191 1.5h1M316 1.5h4M325 1.5h2M328 1.5h2M331 1.5h7M339 1.5h1M341 1.5h1M343 1.5h1M345 1.5h2M348 1.5h1M350 1.5h1M354 1.5h1M356 1.5h2M360 1.5h1M362 1.5h1M365 1.5h1M185 2.5h1M187 2.5h1M191 2.5h1M307 2.5h1M309 2.5h2M342 2.5h1M365 2.5h1M367 2.5h2M44 3.5h1M47 3.5h1M49 3.5h1M51 3.5h1M53 3.5h1M58 3.5h3M62 3.5h1M70 3.5h1M74 3.5h1M83 3.5h1M87 3.5h1M91 3.5h1M93 3.5h2M96 3.5h1M98 3.5h2M113 3.5h1M120 3.5h3M184 3.5h1M186 3.5h1M188 3.5h1M364 3.5h1M367 3.5h2M183 4.5h1M188 4.5h1M190 4.5h1M367 4.5h1M129 5.5h1M184 5.5h1M191 5.5h1M304 5.5h1M367 5.5h1M184 6.5h2M187 6.5h1M360 6.5h1M362 6.5h1M364 6.5h2M135 7.5h1M162 7.5h1M187 7.5h1M190 7.5h1M205 7.5h1M292 7.5h2M140 8.5h2M275 8.5h1M285 8.5h1M287 8.5h3M143 9.5h1M275 9.5h1M344 9.5h1M146 10.5h3M190 10.5h2M193 10.5h1M276 10.5h1M345 10.5h1M150 11.5h1M186 11.5h1M191 11.5h1M274 11.5h2M278 11.5h1M338 11.5h1M343 11.5h2M155 12.5h1M187 12.5h1M190 12.5h1M311 12.5h1M316 12.5h2M320 12.5h1M323 12.5h2M332 12.5h1M335 12.5h2M341 12.5h1M343 12.5h1M160 13.5h1M164 13.5h1M167 13.5h3M172 13.5h2M180 13.5h1M183 13.5h1M274 13.5h2M289 13.5h2M276 14.5h2M279 14.5h1M282 14.5h2M287 14.5h1M289 14.5h1M41 18.5h2M48 18.5h1M52 18.5h2M61 18.5h1M70 18.5h1M72 18.5h1M74 18.5h1M77 18.5h1M80 18.5h1M85 18.5h1M90 18.5h1M97 18.5h1M101 18.5h1M103 18.5h1M108 18.5h1M111 18.5h1M118 18.5h1M124 18.5h3M132 18.5h1M134 18.5h1M138 18.5h1M140 18.5h1M142 18.5h1M145 18.5h1M148 18.5h1M151 18.5h1M153 18.5h1M155 18.5h2M160 18.5h1M163 18.5h1M167 18.5h1M169 18.5h1M171 18.5h1M173 18.5h1M178 18.5h2M187 18.5h1M189 18.5h1M192 18.5h1M197 18.5h1M272 18.5h1M277 18.5h1M283 18.5h2M286 18.5h1M293 18.5h1M296 18.5h2M304 18.5h2M307 18.5h2M311 18.5h1M317 18.5h1M320 18.5h3M325 18.5h1M327 18.5h2M330 18.5h2M335 18.5h1M337 18.5h1M343 18.5h1M347 18.5h2M351 18.5h1M359 18.5h1M361 18.5h1"/>
<path stroke="#0ef739" d="M58 0.5h1M85 0.5h1M135 0.5h2M139 0.5h1M144 0.5h1M147 0.5h1M174 0.5h1M44 1.5h1M47 1.5h1M69 1.5h2M98 1.5h1M101 1.5h1M111 1.5h2M123 1.5h2M138 1.5h1M145 1.5h1M157 1.5h1M161 1.5h3M166 1.5h1M168 1.5h2M171 1.5h2M176 1.5h3M182 1.5h2M186 1.5h1M327 1.5h1M344 1.5h1M352 1.5h2M358 1.5h2M81 2.5h1M170 2.5h1M183 2.5h2M188 2.5h1M311 2.5h2M315 2.5h4M321 2.5h1M324 2.5h1M326 2.5h1M329 2.5h1M331 2.5h1M333 2.5h1M335 2.5h2M340 2.5h1M366 2.5h1M48 3.5h1M54 3.5h1M57 3.5h1M61 3.5h1M63 3.5h2M69 3.5h1M71 3.5h1M78 3.5h1M80 3.5h1M82 3.5h1M185 3.5h1M187 3.5h1M305 3.5h2M314 3.5h1M316 3.5h1M366 3.5h1M127 4.5h1M182 4.5h1M184 4.5h1M186 4.5h1M304 4.5h1M306 4.5h1M366 4.5h1M130 5.5h2M138 5.5h2M148 5.5h1M182 5.5h1M185 5.5h1M307 5.5h1M365 5.5h2M138 6.5h1M145 6.5h1M148 6.5h1M154 6.5h1M158 6.5h1M164 6.5h1M168 6.5h1M172 6.5h1M174 6.5h1M180 6.5h1M182 6.5h2M186 6.5h1M363 6.5h1M136 7.5h1M138 7.5h3M145 7.5h1M159 7.5h1M164 7.5h1M167 7.5h1M170 7.5h1M172 7.5h1M174 7.5h1M180 7.5h2M185 7.5h2M344 7.5h2M142 8.5h1M148 8.5h2M187 8.5h2M191 8.5h1M280 8.5h1M282 8.5h3M335 8.5h1M342 8.5h3M144 9.5h1M185 9.5h1M188 9.5h1M277 9.5h3M282 9.5h1M333 9.5h1M335 9.5h2M338 9.5h2M342 9.5h2M186 10.5h3M277 10.5h3M284 10.5h2M332 10.5h1M338 10.5h2M342 10.5h3M152 11.5h2M184 11.5h2M277 11.5h1M280 11.5h2M286 11.5h1M331 11.5h1M333 11.5h1M335 11.5h1M341 11.5h2M156 12.5h2M163 12.5h1M167 12.5h1M169 12.5h2M173 12.5h1M175 12.5h1M177 12.5h3M181 12.5h1M183 12.5h1M185 12.5h1M274 12.5h2M277 12.5h2M282 12.5h2M287 12.5h1M291 12.5h1M300 12.5h1M302 12.5h1M304 12.5h2M307 12.5h1M309 12.5h2M312 12.5h1M318 12.5h2M322 12.5h1M326 12.5h1M328 12.5h3M333 12.5h2M337 12.5h1M339 12.5h2M174 13.5h3M179 13.5h1M185 13.5h1M281 13.5h1M278 14.5h1M43 18.5h1M47 18.5h1M50 18.5h1M55 18.5h1M59 18.5h2M64 18.5h5M73 18.5h1M75 18.5h2M78 18.5h2M83 18.5h2M88 18.5h2M92 18.5h4M98 18.5h1M104 18.5h1M106 18.5h1M109 18.5h1M113 18.5h5M119 18.5h3M123 18.5h1M127 18.5h1M131 18.5h1M133 18.5h1M144 18.5h1M147 18.5h1M149 18.5h2M157 18.5h1M168 18.5h1M170 18.5h1M175 18.5h1M177 18.5h1M182 18.5h1M185 18.5h1M188 18.5h1M275 18.5h1M303 18.5h1M306 18.5h1M309 18.5h1M313 18.5h1M323 18.5h1M326 18.5h1M334 18.5h1M340 18.5h1"/>
<path stroke="#19f502" d="M45 1.5h1M50 1.5h1M59 1.5h4M65 1.5h1M81 1.5h1M83 1.5h1M85 1.5h1M89 1.5h1M95 1.5h1M99 1.5h2M103 1.5h3M107 1.5h4M115 1.5h3M125 1.5h1M127 1.5h1M137 1.5h1M146 1.5h1M150 1.5h1M152 1.5h2M155 1.5h2M159 1.5h2M165 1.5h1M170 1.5h1M173 1.5h1M175 1.5h1M179 1.5h1M181 1.5h1M43 2.5h1M52 2.5h1M89 2.5h1M92 2.5h1M105 2.5h3M110 2.5h1M155 2.5h1M159 2.5h1M166 2.5h1M168 2.5h1M172 2.5h2M177 2.5h2M181 2.5h2M313 2.5h2M319 2.5h2M323 2.5h1M325 2.5h1M327 2.5h2M332 2.5h1M341 2.5h1M343 2.5h1M346 2.5h1M349 2.5h1M357 2.5h1M361 2.5h4M50 3.5h1M52 3.5h1M65 3.5h1M67 3.5h2M72 3.5h1M76 3.5h2M123 3.5h3M164 3.5h1M172 3.5h1M177 3.5h3M181 3.5h3M307 3.5h2M313 3.5h1M315 3.5h1M317 3.5h2M320 3.5h1M323 3.5h1M332 3.5h1M347 3.5h1M361 3.5h1M363 3.5h1M365 3.5h1M145 4.5h1M177 4.5h3M181 4.5h1M308 4.5h1M313 4.5h1M362 4.5h1M365 4.5h1M132 5.5h1M134 5.5h1M136 5.5h2M142 5.5h1M145 5.5h3M150 5.5h2M166 5.5h1M168 5.5h2M171 5.5h2M177 5.5h2M183 5.5h1M306 5.5h1M309 5.5h1M311 5.5h1M364 5.5h1M134 6.5h4M139 6.5h2M142 6.5h3M146 6.5h1M149 6.5h3M153 6.5h1M155 6.5h1M159 6.5h1M161 6.5h2M166 6.5h2M169 6.5h1M176 6.5h1M181 6.5h1M305 6.5h1M357 6.5h3M137 7.5h1M141 7.5h1M143 7.5h1M149 7.5h2M152 7.5h1M154 7.5h3M158 7.5h1M160 7.5h2M163 7.5h1M166 7.5h1M169 7.5h1M175 7.5h3M179 7.5h1M182 7.5h2M294 7.5h2M343 7.5h1M143 8.5h5M150 8.5h2M157 8.5h1M177 8.5h1M179 8.5h1M183 8.5h4M329 8.5h1M332 8.5h1M334 8.5h1M336 8.5h5M146 9.5h4M154 9.5h1M168 9.5h1M187 9.5h1M280 9.5h2M283 9.5h4M149 10.5h1M152 10.5h1M154 10.5h1M275 10.5h1M280 10.5h3M286 10.5h1M331 10.5h1M333 10.5h1M335 10.5h3M340 10.5h1M151 11.5h1M154 11.5h1M165 11.5h1M172 11.5h1M279 11.5h1M290 11.5h1M334 11.5h1M336 11.5h2M339 11.5h2M158 12.5h3M162 12.5h1M164 12.5h1M166 12.5h1M168 12.5h1M171 12.5h2M176 12.5h1M180 12.5h1M186 12.5h1M280 12.5h2M284 12.5h3M290 12.5h1M293 12.5h1M295 12.5h1M297 12.5h3M303 12.5h1M306 12.5h1M308 12.5h1M315 12.5h1M321 12.5h1M327 12.5h1M331 12.5h1M276 13.5h4M282 13.5h6M44 18.5h1M86 18.5h2M91 18.5h1M99 18.5h2M102 18.5h1M112 18.5h1M135 18.5h2M146 18.5h1M162 18.5h1M186 18.5h1M279 18.5h1"/>
<path stroke="#45f900" d="M48 1.5h1M51 1.5h3M58 1.5h1M63 1.5h2M67 1.5h1M71 1.5h1M73 1.5h1M76 1.5h1M78 1.5h1M82 1.5h1M84 1.5h1M87 1.5h1M90 1.5h5M96 1.5h2M102 1.5h1M106 1.5h1M113 1.5h2M121 1.5h2M126 1.5h1M128 1.5h1M131 1.5h2M136 1.5h1M139 1.5h1M141 1.5h2M148 1.5h2M151 1.5h1M158 1.5h1M167 1.5h1M180 1.5h1M44 2.5h2M47 2.5h1M54 2.5h1M62 2.5h1M70 2.5h1M85 2.5h1M98 2.5h1M101 2.5h1M103 2.5h2M108 2.5h1M112 2.5h1M114 2.5h7M122 2.5h1M125 2.5h1M153 2.5h2M157 2.5h2M163 2.5h1M165 2.5h1M167 2.5h1M175 2.5h1M179 2.5h1M322 2.5h1M330 2.5h1M334 2.5h1M338 2.5h2M344 2.5h2M347 2.5h1M350 2.5h2M353 2.5h3M359 2.5h1M55 3.5h2M75 3.5h1M152 3.5h1M154 3.5h1M156 3.5h2M160 3.5h4M167 3.5h2M170 3.5h1M174 3.5h1M176 3.5h1M180 3.5h1M309 3.5h3M322 3.5h1M324 3.5h1M327 3.5h1M329 3.5h2M333 3.5h1M338 3.5h1M349 3.5h2M358 3.5h3M126 4.5h1M128 4.5h2M139 4.5h1M151 4.5h2M166 4.5h1M168 4.5h1M174 4.5h1M307 4.5h1M309 4.5h2M312 4.5h1M314 4.5h3M338 4.5h1M359 4.5h3M363 4.5h2M133 5.5h1M135 5.5h1M140 5.5h2M143 5.5h2M149 5.5h1M152 5.5h2M159 5.5h5M165 5.5h1M173 5.5h2M179 5.5h2M310 5.5h1M314 5.5h1M316 5.5h1M360 5.5h1M362 5.5h2M141 6.5h1M147 6.5h1M152 6.5h1M157 6.5h1M160 6.5h1M163 6.5h1M165 6.5h1M171 6.5h1M173 6.5h1M175 6.5h1M177 6.5h3M306 6.5h2M310 6.5h5M356 6.5h1M144 7.5h1M146 7.5h3M153 7.5h1M157 7.5h1M165 7.5h1M168 7.5h1M171 7.5h1M173 7.5h1M178 7.5h1M296 7.5h2M299 7.5h3M314 7.5h1M336 7.5h1M338 7.5h1M342 7.5h1M152 8.5h3M156 8.5h1M166 8.5h2M170 8.5h1M172 8.5h1M174 8.5h1M176 8.5h1M181 8.5h1M291 8.5h2M313 8.5h2M331 8.5h1M333 8.5h1M341 8.5h1M151 9.5h2M287 9.5h2M329 9.5h1M334 9.5h1M340 9.5h2M151 10.5h1M184 10.5h2M283 10.5h1M287 10.5h1M290 10.5h1M302 10.5h1M314 10.5h1M341 10.5h1M156 11.5h1M159 11.5h1M161 11.5h3M166 11.5h2M169 11.5h1M171 11.5h1M173 11.5h1M178 11.5h2M182 11.5h2M283 11.5h1M285 11.5h1M287 11.5h2M314 11.5h1M319 11.5h1M324 11.5h1M328 11.5h1M330 11.5h1M332 11.5h1M161 12.5h1M165 12.5h1M174 12.5h1M182 12.5h1M276 12.5h1M279 12.5h1M288 12.5h1M292 12.5h1M294 12.5h1M296 12.5h1M325 12.5h1M280 13.5h1M288 13.5h1M129 18.5h1"/>
<path stroke="#73fc00" d="M54 1.5h4M66 1.5h1M68 1.5h1M72 1.5h1M74 1.5h2M77 1.5h1M79 1.5h1M86 1.5h1M88 1.5h1M119 1.5h2M129 1.5h2M134 1.5h2M140 1.5h1M143 1.5h1M147 1.5h1M46 2.5h1M48 2.5h2M53 2.5h1M63 2.5h1M69 2.5h1M71 2.5h1M74 2.5h1M82 2.5h2M87 2.5h2M97 2.5h1M100 2.5h1M102 2.5h1M109 2.5h1M113 2.5h1M121 2.5h1M123 2.5h2M152 2.5h1M156 2.5h1M160 2.5h3M164 2.5h1M169 2.5h1M171 2.5h1M174 2.5h1M176 2.5h1M180 2.5h1M337 2.5h1M348 2.5h1M360 2.5h1M66 3.5h1M159 3.5h1M165 3.5h2M169 3.5h1M175 3.5h1M312 3.5h1M319 3.5h1M325 3.5h2M328 3.5h1M335 3.5h3M339 3.5h5M345 3.5h1M351 3.5h1M353 3.5h3M362 3.5h1M132 4.5h1M134 4.5h1M136 4.5h1M138 4.5h1M140 4.5h2M143 4.5h2M148 4.5h3M153 4.5h2M157 4.5h1M159 4.5h7M169 4.5h2M172 4.5h2M175 4.5h2M180 4.5h1M311 4.5h1M323 4.5h1M358 4.5h1M154 5.5h1M156 5.5h2M164 5.5h1M175 5.5h2M181 5.5h1M308 5.5h1M312 5.5h2M315 5.5h1M357 5.5h1M359 5.5h1M361 5.5h1M156 6.5h1M170 6.5h1M315 6.5h1M336 6.5h1M338 6.5h1M347 6.5h1M349 6.5h1M354 6.5h2M151 7.5h1M298 7.5h1M302 7.5h1M304 7.5h1M310 7.5h4M316 7.5h1M328 7.5h1M332 7.5h4M340 7.5h1M155 8.5h1M158 8.5h2M161 8.5h4M169 8.5h1M171 8.5h1M175 8.5h1M178 8.5h1M182 8.5h1M294 8.5h1M302 8.5h1M328 8.5h1M330 8.5h1M150 9.5h1M163 9.5h2M172 9.5h1M184 9.5h1M289 9.5h3M293 9.5h1M300 9.5h3M328 9.5h1M332 9.5h1M337 9.5h1M150 10.5h1M153 10.5h1M159 10.5h1M164 10.5h1M172 10.5h1M177 10.5h1M288 10.5h2M291 10.5h1M293 10.5h1M312 10.5h1M316 10.5h1M329 10.5h2M334 10.5h1M155 11.5h1M157 11.5h1M164 11.5h1M168 11.5h1M170 11.5h1M174 11.5h1M176 11.5h2M180 11.5h2M282 11.5h1M284 11.5h1M289 11.5h1M291 11.5h1M300 11.5h3M315 11.5h4M320 11.5h1M326 11.5h1M329 11.5h1M289 12.5h1"/>
<path stroke="#9eff00" d="M80 1.5h1M133 1.5h1M144 1.5h1M50 2.5h1M58 2.5h2M73 2.5h1M84 2.5h1M86 2.5h1M90 2.5h2M96 2.5h1M99 2.5h1M127 2.5h1M142 2.5h1M145 2.5h1M151 2.5h1M352 2.5h1M356 2.5h1M358 2.5h1M126 3.5h2M150 3.5h2M153 3.5h1M155 3.5h1M158 3.5h1M171 3.5h1M173 3.5h1M321 3.5h1M331 3.5h1M334 3.5h1M344 3.5h1M346 3.5h1M357 3.5h1M130 4.5h2M133 4.5h1M135 4.5h1M137 4.5h1M142 4.5h1M146 4.5h2M155 4.5h2M158 4.5h1M167 4.5h1M171 4.5h1M317 4.5h1M319 4.5h1M336 4.5h1M349 4.5h1M356 4.5h2M155 5.5h1M158 5.5h1M170 5.5h1M318 5.5h1M350 5.5h1M356 5.5h1M358 5.5h1M308 6.5h2M316 6.5h1M350 6.5h1M142 7.5h1M303 7.5h1M305 7.5h1M323 7.5h2M337 7.5h1M339 7.5h1M341 7.5h1M160 8.5h1M165 8.5h1M168 8.5h1M173 8.5h1M180 8.5h1M293 8.5h1M300 8.5h2M305 8.5h1M316 8.5h1M326 8.5h2M166 9.5h2M177 9.5h1M292 9.5h1M294 9.5h1M306 9.5h1M312 9.5h1M316 9.5h1M330 9.5h2M161 10.5h1M166 10.5h1M168 10.5h1M173 10.5h1M183 10.5h1M294 10.5h1M300 10.5h2M305 10.5h1M313 10.5h1M319 10.5h1M326 10.5h3M158 11.5h1M160 11.5h1M306 11.5h1M308 11.5h1M312 11.5h2M322 11.5h2M327 11.5h1"/>
<path stroke="#c1fd00" d="M56 2.5h1M60 2.5h2M64 2.5h1M67 2.5h1M95 2.5h1M138 2.5h2M141 2.5h1M148 2.5h2M139 3.5h1M142 3.5h1M145 3.5h1M148 3.5h2M348 3.5h1M356 3.5h1M318 4.5h1M320 4.5h1M322 4.5h1M324 4.5h1M332 4.5h1M342 4.5h1M350 4.5h2M354 4.5h2M167 5.5h1M338 5.5h1M342 5.5h1M347 5.5h1M349 5.5h1M320 6.5h1M323 6.5h1M332 6.5h1M342 6.5h1M348 6.5h1M353 6.5h1M306 7.5h2M315 7.5h1M319 7.5h1M330 7.5h2M295 8.5h1M307 8.5h1M311 8.5h2M315 8.5h1M323 8.5h2M153 9.5h1M155 9.5h2M158 9.5h1M165 9.5h1M169 9.5h1M298 9.5h1M305 9.5h1M307 9.5h1M311 9.5h1M313 9.5h3M323 9.5h2M326 9.5h2M155 10.5h2M163 10.5h1M165 10.5h1M167 10.5h1M169 10.5h1M182 10.5h1M297 10.5h2M311 10.5h1M318 10.5h1M320 10.5h1M324 10.5h1M175 11.5h1M294 11.5h1M298 11.5h2M303 11.5h1M307 11.5h1M311 11.5h1"/>
<path stroke="#e4fb00" d="M55 2.5h1M65 2.5h1M68 2.5h1M77 2.5h2M93 2.5h2M126 2.5h1M134 2.5h1M150 2.5h1M131 3.5h1M133 3.5h2M138 3.5h1M140 3.5h2M352 3.5h1M333 4.5h1M340 4.5h1M348 4.5h1M317 5.5h1M319 5.5h1M332 5.5h2M336 5.5h1M348 5.5h1M354 5.5h2M317 6.5h3M328 6.5h1M333 6.5h1M335 6.5h1M337 6.5h1M344 6.5h3M351 6.5h1M308 7.5h2M317 7.5h2M325 7.5h3M329 7.5h1M298 8.5h1M306 8.5h1M318 8.5h1M325 8.5h1M157 9.5h1M161 9.5h2M178 9.5h1M182 9.5h1M295 9.5h1M299 9.5h1M318 9.5h2M321 9.5h2M157 10.5h1M162 10.5h1M171 10.5h1M178 10.5h1M181 10.5h1M295 10.5h1M306 10.5h2M310 10.5h1M292 11.5h1M304 11.5h2M309 11.5h2M325 11.5h1"/>
<path stroke="#f7ef00" d="M51 2.5h1M57 2.5h1M76 2.5h1M79 2.5h2M128 2.5h1M132 2.5h2M132 3.5h1M146 3.5h1M321 4.5h1M326 4.5h2M329 4.5h1M335 4.5h1M337 4.5h1M341 4.5h1M344 4.5h2M347 4.5h1M320 5.5h1M323 5.5h1M335 5.5h1M337 5.5h1M345 5.5h1M330 6.5h1M340 6.5h2M321 7.5h1M296 8.5h2M303 8.5h1M308 8.5h1M319 8.5h1M322 8.5h1M173 9.5h1M179 9.5h1M181 9.5h1M297 9.5h1M310 9.5h1M320 9.5h1M325 9.5h1M158 10.5h1M170 10.5h1M292 10.5h1M296 10.5h1M309 10.5h1M315 10.5h1M317 10.5h1M323 10.5h1M325 10.5h1M293 11.5h1M297 11.5h1M321 11.5h1"/>
<path stroke="#fbd800" d="M72 2.5h1M75 2.5h1M130 2.5h2M136 2.5h2M140 2.5h1M143 2.5h1M146 2.5h1M128 3.5h3M135 3.5h1M137 3.5h1M147 3.5h1M328 4.5h1M330 4.5h1M339 4.5h1M346 4.5h1M352 4.5h1M321 5.5h1M328 5.5h1M330 5.5h1M340 5.5h2M346 5.5h1M321 6.5h1M324 6.5h1M326 6.5h1M334 6.5h1M320 7.5h1M322 7.5h1M310 8.5h1M317 8.5h1M320 8.5h1M159 9.5h1M170 9.5h1M174 9.5h1M308 9.5h2M174 10.5h1M179 10.5h1M303 10.5h1M308 10.5h1M295 11.5h1"/>
<path stroke="#fec200" d="M66 2.5h1M129 2.5h1M136 3.5h1M143 3.5h1M325 4.5h1M334 4.5h1M353 4.5h1M322 5.5h1M324 5.5h1M322 6.5h1M325 6.5h1M327 6.5h1M329 6.5h1M331 6.5h1M339 6.5h1M343 6.5h1M299 8.5h1M304 8.5h1M309 8.5h1M321 8.5h1M160 9.5h1M171 9.5h1M176 9.5h1M180 9.5h1M303 9.5h2M317 9.5h1M160 10.5h1M175 10.5h1M180 10.5h1M321 10.5h2"/>
<path stroke="#ffa600" d="M135 2.5h1M331 4.5h1M343 4.5h1M326 5.5h1M339 5.5h1M344 5.5h1M351 5.5h3M175 9.5h1M296 9.5h1M176 10.5h1M299 10.5h1M304 10.5h1M296 11.5h1"/>
<path stroke="#ff8900" d="M144 2.5h1M147 2.5h1M144 3.5h1M327 5.5h1M331 5.5h1M343 5.5h1"/>
<path stroke="#ff6c00" d="M325 5.5h1M329 5.5h1M334 5.5h1"/>
</g></g>
<defs><clipPath id="cp2"><rect x="120.0" y="1382.8" width="1123.0" height="227.29999999999995"/></clipPath><clipPath id="cp3"><rect x="120.0" y="1610.1" width="1123.0" height="227.5"/></clipPath><clipPath id="cp4"><rect x="120.0" y="1837.6" width="1123.0" height="227.4000000000001"/></clipPath></defs>
<path d="M120.0 1496.3H1243.0" stroke="#444" stroke-width="1.3" fill="none"/>
<path clip-path="url(#cp2)" d="M120.0 1491.5L195.0 1491.5L200.0 1490.0L215.0 1489.0L235.0 1490.0L245.0 1488.0L255.0 1488.0L280.0 1489.0L300.0 1490.0L350.0 1490.0L390.0 1489.0L400.0 1490.0L407.5 1487.5L415.0 1490.0L425.0 1485.0L432.5 1488.5L450.0 1487.5L457.5 1486.0L465.0 1488.0L472.5 1486.0L481.0 1483.0L492.5 1486.0L499.0 1494.0L505.0 1488.0L520.0 1488.0L527.5 1494.0L534.0 1487.0L542.5 1489.0L550.0 1488.0L555.5 1486.3L559.1 1484.1L561.1 1486.9L561.4 1496.2L563.1 1486.9L564.2 1496.2L565.3 1486.3L566.4 1496.2L567.6 1472.8L569.5 1471.4L570.9 1496.2L579.4 1496.2L580.2 1472.2L581.6 1472.2L582.2 1496.2L583.0 1472.2L584.4 1472.2L585.6 1496.2L594.0 1496.2L595.4 1470.0L597.7 1470.0L600.5 1474.2L602.4 1478.4L604.1 1496.2L610.3 1496.2L611.2 1475.6L612.3 1475.6L613.1 1496.2L625.8 1496.2L626.9 1470.6L628.3 1470.6L629.4 1496.2L691.9 1496.2L693.3 1479.8L696.1 1479.8L697.5 1484.1L698.9 1496.7L700.9 1499.5L702.3 1492.5L702.8 1467.2L703.7 1467.2L704.5 1495.3L708.8 1494.8L710.7 1491.9L712.1 1496.7L715.8 1506.6L720.0 1502.3L724.2 1502.9L728.4 1495.3L731.2 1489.7L733.5 1485.5L735.5 1491.9L738.3 1494.8L741.1 1498.1L743.1 1502.9L745.9 1498.7L748.7 1500.9L750.9 1505.7L753.8 1506.6L759.4 1503.2L763.6 1500.9L767.8 1495.3L771.2 1488.3L772.9 1479.0L776.2 1477.9L777.7 1485.5L780.5 1488.3L784.7 1484.6L787.5 1474.2L790.3 1467.8L792.6 1463.8L795.4 1468.0L800.2 1466.6L803.0 1463.0L805.8 1463.0L807.8 1474.2L810.6 1479.8L813.4 1477.0L816.2 1474.2L819.0 1479.8L821.2 1495.3L823.5 1501.5L825.5 1493.9L826.9 1503.8L828.3 1520.6L830.5 1540.3L832.5 1517.8L835.3 1508.0L840.9 1500.9L845.2 1509.4L848.0 1526.2L850.8 1531.9L853.6 1531.9L857.8 1527.7L860.6 1537.5L863.4 1542.6L865.7 1529.1L867.7 1517.8L870.5 1515.0L873.3 1510.8L876.1 1517.8L877.5 1534.7L880.3 1531.9L883.1 1519.2L887.3 1516.4L889.6 1516.4L891.4 1517.8L893.4 1537.5L895.6 1543.7L897.9 1526.2L900.7 1520.6L903.5 1515.0L905.5 1496.2L959.8 1496.2L960.3 1513.6L962.0 1513.6L962.6 1496.2L992.7 1496.2L994.6 1500.4L997.4 1499.5L1000.2 1491.1L1002.5 1485.5L1005.3 1486.9L1008.1 1488.3L1010.4 1478.4L1012.1 1470.6L1013.2 1496.2L1025.8 1496.2L1027.2 1437.7L1028.9 1444.7L1030.6 1439.1L1033.4 1437.7L1035.7 1439.1L1037.4 1455.4L1039.1 1425.0L1040.5 1422.2L1042.2 1388.4L1043.6 1496.2L1053.1 1496.2L1054.2 1382.2L1062.1 1382.2L1062.7 1458.8L1065.8 1462.1L1068.6 1460.2L1070.6 1454.5L1072.2 1464.4L1075.6 1464.9L1077.3 1447.5L1079.0 1446.1L1080.7 1437.7L1082.9 1440.5L1084.6 1453.1L1086.3 1463.0L1087.4 1481.2L1090.2 1481.8L1092.5 1470.0L1094.8 1463.0L1097.6 1458.2L1099.8 1463.0L1102.3 1463.8L1105.7 1460.7L1108.0 1468.6L1110.2 1478.4L1113.6 1481.2L1116.4 1484.6L1118.4 1491.1L1121.2 1499.5L1126.2 1502.3L1131.9 1505.2L1136.9 1508.5L1141.7 1508.0L1144.5 1506.6L1147.3 1510.8L1151.6 1512.2L1153.8 1520.6L1157.2 1525.4L1160.0 1518.7L1164.2 1519.8L1169.8 1514.4L1174.1 1519.2L1178.3 1516.4L1182.5 1515.0L1185.3 1509.9L1188.1 1508.0L1189.0 1524.8L1189.8 1496.2L1190.9 1524.8L1192.1 1496.2L1193.2 1524.8L1194.3 1496.2L1196.0 1496.2L1197.1 1515.0L1200.8 1512.2L1203.6 1508.0L1205.6 1496.2L1208.4 1493.9L1210.1 1488.3L1212.0 1463.0L1214.0 1462.4L1215.7 1467.2L1217.1 1481.2L1220.5 1481.8L1221.9 1463.0L1223.6 1462.1L1225.2 1468.6L1226.9 1499.5L1230.3 1502.3L1234.5 1498.1L1238.8 1498.1L1243.0 1499.5" fill="none" stroke="#0000ff" stroke-width="2.4" stroke-linejoin="round"/>
<path d="M120.0 1723.9H1243.0" stroke="#444" stroke-width="1.3" fill="none"/>
<path clip-path="url(#cp3)" d="M120.0 1721.0L135.0 1720.5L150.0 1722.0L170.0 1722.0L185.0 1720.5L197.5 1720.5L202.5 1723.5L209.0 1722.5L215.0 1727.0L222.5 1724.0L235.0 1723.5L247.5 1724.5L252.5 1727.0L270.0 1727.0L277.5 1724.5L287.5 1727.0L300.0 1725.0L320.0 1725.0L325.0 1726.0L332.5 1726.0L335.0 1724.5L382.5 1724.5L387.5 1726.5L397.5 1728.0L405.0 1727.0L411.0 1725.5L417.5 1728.0L422.5 1731.0L429.0 1727.0L435.0 1729.0L442.5 1728.0L450.0 1730.0L456.0 1729.0L460.0 1731.0L465.0 1728.0L472.5 1731.0L482.5 1732.0L489.0 1730.0L492.5 1734.0L496.5 1742.5L501.5 1729.0L505.0 1730.0L510.0 1723.0L515.0 1729.0L525.0 1723.5L532.5 1725.0L540.0 1729.0L540.0 1727.3L542.8 1730.2L545.6 1730.2L547.9 1725.4L549.8 1727.3L551.8 1731.6L553.5 1723.1L555.2 1723.1L556.3 1742.8L559.7 1746.5L561.4 1724.0L565.3 1724.0L566.7 1740.0L568.1 1741.4L569.5 1724.0L570.4 1741.4L573.2 1741.4L574.0 1724.0L592.9 1724.0L594.0 1737.2L595.7 1738.6L596.8 1726.8L599.1 1726.8L600.2 1745.6L601.9 1746.5L603.0 1724.0L612.6 1724.0L613.4 1751.2L614.8 1751.2L615.7 1724.0L624.1 1724.0L624.9 1751.2L626.3 1751.2L627.2 1724.0L692.7 1724.0L693.8 1658.4L695.5 1658.4L696.7 1703.4L697.8 1704.8L698.9 1720.3L701.7 1726.5L705.4 1724.5L708.2 1725.9L710.2 1723.1L711.3 1702.0L712.7 1700.6L714.4 1688.0L716.6 1683.8L720.0 1683.8L721.4 1694.4L723.4 1696.4L724.8 1703.4L727.9 1709.6L729.8 1713.3L731.8 1706.8L734.6 1708.5L736.9 1710.5L739.1 1704.8L741.9 1704.0L744.8 1705.7L746.7 1713.3L748.1 1720.3L749.5 1729.6L751.5 1721.7L753.2 1714.7L755.2 1711.9L757.1 1718.9L759.4 1723.1L761.6 1721.7L763.6 1711.9L765.0 1709.1L766.4 1683.8L768.4 1682.3L770.6 1683.2L772.0 1693.6L773.4 1695.0L774.8 1706.2L776.2 1717.5L777.7 1724.5L780.5 1721.7L783.3 1716.1L786.9 1712.7L790.3 1715.2L793.1 1711.3L796.5 1706.8L800.2 1708.5L803.8 1707.7L805.8 1710.5L810.0 1706.8L812.2 1713.3L815.1 1718.9L817.9 1721.2L819.0 1735.8L821.2 1737.8L824.6 1740.0L826.9 1751.8L829.1 1748.4L831.1 1740.0L833.9 1731.6L836.7 1724.5L839.8 1715.2L842.3 1723.1L844.3 1731.6L848.0 1731.6L849.4 1721.7L851.6 1710.5L853.6 1709.6L855.6 1713.3L857.2 1718.9L859.2 1718.9L861.2 1711.9L862.9 1706.2L864.3 1695.0L866.8 1691.6L868.5 1696.4L869.9 1697.8L871.3 1711.9L872.4 1720.3L873.6 1745.6L874.7 1754.6L876.4 1748.4L878.1 1723.1L879.8 1718.3L881.7 1719.2L883.7 1728.8L885.9 1734.4L888.2 1742.8L890.0 1748.4L892.2 1750.4L893.9 1733.0L896.8 1731.0L898.4 1742.8L900.1 1742.8L901.2 1707.7L902.4 1706.2L902.9 1610.1L904.6 1610.1L905.8 1724.0L961.7 1724.0L962.8 1610.1L964.8 1610.1L965.9 1724.0L994.6 1724.0L995.8 1692.2L997.4 1689.4L998.6 1683.8L1000.2 1681.5L1001.9 1675.3L1003.9 1670.2L1005.3 1671.1L1006.4 1682.3L1008.1 1684.3L1009.2 1689.4L1010.9 1685.2L1012.6 1685.2L1013.8 1724.0L1022.8 1724.0L1023.9 1685.2L1025.0 1685.2L1025.8 1724.0L1027.2 1724.0L1028.4 1695.0L1031.2 1693.6L1032.9 1678.1L1034.6 1676.7L1035.7 1662.7L1037.4 1658.4L1039.1 1654.2L1040.5 1635.9L1042.2 1635.9L1043.3 1724.0L1045.2 1724.0L1046.4 1637.3L1047.5 1637.3L1048.6 1724.0L1054.2 1724.0L1055.1 1610.1L1063.0 1610.1L1063.8 1664.1L1065.5 1665.5L1067.2 1678.1L1068.3 1678.7L1069.4 1695.0L1071.7 1704.0L1074.2 1699.2L1078.4 1697.8L1082.7 1696.4L1085.5 1697.8L1086.9 1695.0L1088.3 1686.6L1090.2 1684.3L1091.9 1676.7L1093.9 1671.1L1095.9 1667.4L1097.6 1668.3L1099.0 1681.5L1101.5 1689.9L1105.2 1687.1L1109.4 1682.3L1112.2 1680.9L1114.4 1682.3L1117.2 1678.1L1119.2 1676.7L1122.0 1678.7L1124.8 1681.5L1129.1 1683.2L1132.4 1680.4L1134.1 1680.4L1135.8 1689.4L1139.8 1689.9L1141.7 1684.6L1144.5 1689.4L1147.3 1695.0L1150.2 1700.6L1153.0 1704.8L1155.8 1702.0L1157.8 1702.9L1160.6 1709.1L1163.4 1714.7L1166.2 1720.9L1168.4 1718.9L1170.7 1710.5L1173.5 1702.0L1175.5 1695.0L1177.4 1678.1L1179.1 1671.1L1180.2 1652.8L1181.7 1651.4L1183.1 1665.5L1184.2 1666.9L1185.3 1686.6L1186.7 1699.2L1189.2 1699.2L1190.4 1716.1L1191.5 1724.0L1194.9 1724.0L1196.0 1673.9L1198.0 1664.1L1199.7 1662.7L1201.1 1672.5L1201.6 1610.1L1203.0 1610.1L1203.9 1724.0L1204.7 1610.1L1206.1 1610.1L1206.7 1724.0L1207.5 1610.1L1210.6 1610.1L1211.2 1724.0L1213.4 1724.0L1214.3 1610.1L1215.7 1610.1L1216.0 1743.7L1217.9 1746.5L1219.6 1747.0L1221.3 1734.4L1222.4 1733.0L1223.6 1699.2L1225.2 1695.0L1226.4 1683.2L1227.5 1684.6L1228.9 1694.4L1230.3 1696.4L1231.7 1709.6L1233.1 1711.3L1234.5 1725.9L1236.2 1737.2L1238.8 1734.4L1241.0 1728.8L1243.0 1724.0" fill="none" stroke="#0000ff" stroke-width="2.4" stroke-linejoin="round"/>
<path d="M120.0 1951.2H1243.0" stroke="#444" stroke-width="1.3" fill="none"/>
<path clip-path="url(#cp4)" d="M120.1 1953.1L122.7 1951.7L126.3 1946.1L129.1 1948.9L131.9 1948.1L135.9 1951.7L139.5 1951.7L143.2 1955.9L146.0 1948.9L148.2 1946.1L151.6 1950.9L154.4 1954.5L158.4 1953.1L161.2 1946.9L163.4 1951.2L167.7 1947.5L171.9 1948.9L177.5 1951.7L181.7 1943.3L183.7 1942.7L185.9 1947.5L189.3 1949.8L192.1 1944.7L194.4 1946.9L197.8 1944.1L200.6 1941.9L204.2 1949.8L207.0 1949.8L210.7 1943.3L212.9 1941.9L216.3 1946.1L218.3 1949.8L221.1 1946.9L223.9 1946.1L225.9 1949.8L229.5 1953.1L232.3 1962.1L236.0 1949.8L238.8 1957.3L242.2 1950.3L245.0 1950.9L247.8 1964.4L250.6 1963.0L253.4 1957.3L255.7 1949.8L259.1 1955.9L262.4 1954.5L264.7 1946.1L267.5 1941.3L270.9 1936.2L273.7 1941.3L275.9 1941.9L278.2 1938.5L281.0 1947.5L284.4 1955.4L286.6 1933.4L291.4 1932.9L294.2 1939.1L297.0 1946.9L301.2 1937.7L304.1 1941.9L306.9 1946.1L311.1 1946.1L313.1 1953.1L316.7 1959.3L318.7 1958.8L320.4 1940.5L323.2 1936.8L325.2 1943.3L328.0 1947.5L331.6 1953.1L335.0 1954.5L337.2 1958.8L339.2 1967.2L341.2 1968.0L344.0 1963.8L347.7 1964.9L350.5 1967.8L353.3 1954.5L356.1 1953.7L358.1 1958.2L359.8 1965.8L362.6 1963.0L364.5 1970.0L366.5 1973.7L370.2 1970.8L373.0 1960.2L375.8 1953.1L377.8 1948.9L380.0 1956.5L382.2 1963.0L385.6 1964.4L389.0 1958.2L391.2 1964.4L394.6 1967.8L397.4 1968.6L401.1 1966.6L403.1 1958.8L405.3 1954.5L408.7 1953.7L411.5 1957.3L415.2 1957.3L418.0 1953.1L419.9 1948.9L422.8 1947.5L425.0 1941.9L427.2 1938.5L430.1 1943.3L432.9 1947.5L436.2 1939.1L439.1 1937.7L441.3 1946.1L443.3 1954.5L445.2 1958.8L448.9 1956.8L453.1 1956.5L456.5 1958.8L460.0 1963.0L463.4 1964.9L467.9 1966.6L471.2 1958.2L473.5 1965.8L476.3 1975.1L479.7 1975.6L481.9 1972.8L483.9 1977.9L486.7 1962.1L489.5 1968.6L492.3 1957.3L496.0 1957.3L498.8 1946.1L500.8 1943.3L504.4 1947.5L507.8 1941.9L510.6 1948.1L513.4 1941.3L515.7 1953.1L518.5 1979.8L521.9 1982.7L525.2 1994.8L528.1 1969.4L530.3 1981.2L533.7 1981.8L537.3 1999.5L541.6 1991.1L544.4 1992.5L547.8 2001.5L550.0 1993.9L552.2 1992.5L555.1 1978.4L557.0 1958.8L559.0 1925.0L561.8 1912.3L564.6 1925.0L567.4 1945.2L569.7 1936.2L571.9 1934.0L574.8 1918.8L577.6 1916.6L579.5 1901.9L582.3 1910.9L584.3 1910.4L586.6 1894.1L588.8 1892.7L591.6 1903.9L595.0 1912.3L597.2 1924.4L600.6 1919.4L602.9 1918.0L605.7 1907.6L608.5 1916.0L611.9 1899.1L614.7 1896.3L616.1 1901.1L617.5 1933.4L618.9 1962.1L620.3 1947.5L623.1 1943.3L625.9 1961.0L628.8 1941.9L632.1 1941.9L634.9 1939.6L637.8 1955.4L640.6 1943.3L643.4 1933.4L646.2 1944.7L649.8 1965.8L652.7 1971.4L654.6 1953.1L656.9 1941.9L659.7 1955.9L663.9 1956.5L667.6 1979.8L670.9 1972.8L673.8 1973.4L676.6 1965.8L679.4 1975.6L682.2 1986.9L685.0 1972.8L688.4 1964.9L692.9 1958.8L696.2 1943.3L699.6 1945.2L703.3 1945.2L706.9 1936.2L709.8 1932.0L713.1 1939.6L715.9 1934.0L718.8 1939.6L721.0 1944.7L723.8 1967.2L727.2 1988.3L730.6 1986.9L733.4 1991.1L738.4 1986.9L740.7 2000.9L742.9 2011.6L745.5 1999.5L747.4 2004.3L751.1 2002.3L754.8 2009.9L757.6 2012.8L760.4 1995.3L762.3 1984.1L766.0 1977.9L768.8 1988.3L772.2 2000.9L774.4 2005.2L777.8 1992.5L780.1 1975.6L782.0 1963.0L784.8 1971.4L787.7 1964.9L791.3 1958.8L793.3 1958.8L796.1 1939.1L798.3 1929.2L800.9 1937.7L803.7 1936.2L806.5 1930.6L809.3 1937.7L810.0 1936.2L812.2 1925.0L814.2 1914.6L816.2 1917.1L819.0 1916.6L821.2 1939.6L823.5 1931.2L826.3 1940.5L828.3 1943.3L831.1 1950.9L833.9 1933.4L835.9 1946.1L837.6 1958.8L839.8 1946.9L842.3 1957.3L845.2 1955.9L848.8 1948.9L852.2 1944.1L855.0 1949.8L857.8 1939.1L860.1 1933.4L862.9 1940.5L865.7 1927.8L867.7 1916.6L869.6 1908.1L872.4 1918.0L875.2 1915.2L878.1 1922.8L880.3 1910.9L883.7 1903.1L885.9 1895.5L887.6 1887.9L889.6 1903.9L891.6 1916.0L894.4 1913.8L896.6 1916.6L899.4 1908.7L901.4 1907.6L903.4 1898.3L905.1 1894.1L907.3 1901.9L909.8 1901.9L912.7 1916.6L915.5 1908.7L918.3 1905.3L921.1 1911.5L923.9 1903.1L925.9 1908.7L928.7 1902.5L930.9 1899.7L933.2 1908.7L935.2 1918.8L938.8 1915.2L940.8 1927.8L942.8 1946.1L944.4 1950.9L946.4 1947.5L948.4 1956.5L950.1 1950.3L952.0 1948.9L954.8 1963.0L956.8 1970.6L959.6 1965.8L961.9 1975.6L964.1 1986.3L966.9 1982.7L968.9 1981.2L970.9 1970.0L972.6 1967.2L975.4 1979.8L977.3 1984.6L979.3 1978.4L981.6 1969.4L984.4 1967.8L987.2 1953.1L990.0 1955.9L992.2 1960.2L994.2 1953.1L995.6 1946.9L997.9 1957.3L1000.7 1958.8L1003.5 1955.9L1006.3 1961.6L1009.1 1970.0L1011.9 1961.6L1014.2 1955.9L1016.7 1958.8L1019.5 1963.8L1021.5 1964.4L1024.3 1969.4L1027.1 1972.0L1029.9 1969.4L1032.2 1964.4L1035.0 1964.4L1037.2 1953.1L1040.1 1944.7L1043.4 1937.7L1046.2 1930.6L1049.1 1924.4L1052.4 1925.6L1056.1 1925.8L1059.8 1927.8L1062.6 1930.6L1065.4 1939.1L1068.8 1944.1L1073.0 1948.9L1076.6 1949.8L1079.4 1948.9L1082.2 1954.5L1085.6 1960.2L1089.0 1962.1L1092.7 1963.8L1096.3 1958.8L1100.2 1956.5L1103.9 1952.6L1107.6 1950.9L1111.5 1948.1L1115.2 1952.6L1118.8 1955.9L1122.2 1952.6L1125.6 1950.9L1129.2 1949.8L1132.0 1946.1L1136.2 1943.3L1139.6 1944.1L1143.3 1943.3L1146.1 1941.9L1148.9 1943.3L1153.1 1941.3L1156.5 1941.9L1159.3 1943.3L1163.0 1941.9L1166.6 1943.3L1169.4 1945.6L1171.2 1946.6L1173.1 1944.7L1175.4 1947.9L1178.8 1946.9L1181.6 1949.8L1184.4 1951.2L1190.0 1952.2L1194.7 1951.6L1196.6 1949.8L1199.0 1947.9L1200.9 1950.9L1203.1 1952.8L1205.4 1954.1L1207.8 1950.9L1209.7 1949.4L1212.1 1952.2L1214.4 1953.1L1216.6 1952.8L1218.5 1955.0L1220.4 1955.6L1222.2 1952.2L1223.8 1950.9L1225.6 1952.2L1227.5 1954.1L1229.4 1950.9L1231.2 1949.8L1233.1 1954.1L1235.0 1955.4L1237.8 1954.6L1239.7 1951.2L1241.6 1949.8L1243.4 1951.2" fill="none" stroke="#0000ff" stroke-width="2.4" stroke-linejoin="round"/>
<g fill="none">
<path d="M120.0 1382.8V2065.0M1243.0 1382.8V2065.0" stroke="#707070" stroke-width="2"/>
<path d="M120.0 928.5V1382.8M1243.0 928.5V1382.8" stroke="#3a3a3a" stroke-width="1.8"/>
<path d="M119.1 928.5H1243.9M119.1 1155.4H1243.9M119.1 1382.8H1243.9M119.1 1610.1H1243.9M119.1 1837.6H1243.9M119.1 2065.0H1243.9M644.1 928.5V2065.0M793.8 928.5V2065.0" stroke="#262626" stroke-width="1.5"/>
<path d="M120.0 928.5v5M120.0 1155.4v-5M194.9 928.5v2.6M194.9 1155.4v-2.6M269.7 928.5v2.6M269.7 1155.4v-2.6M344.6 928.5v5M344.6 1155.4v-5M419.5 928.5v2.6M419.5 1155.4v-2.6M494.3 928.5v2.6M494.3 1155.4v-2.6M569.2 928.5v5M569.2 1155.4v-5M644.1 928.5v2.6M644.1 1155.4v-2.6M718.9 928.5v2.6M718.9 1155.4v-2.6M793.8 928.5v5M793.8 1155.4v-5M868.7 928.5v2.6M868.7 1155.4v-2.6M943.5 928.5v2.6M943.5 1155.4v-2.6M1018.4 928.5v5M1018.4 1155.4v-5M1093.3 928.5v2.6M1093.3 1155.4v-2.6M1168.1 928.5v2.6M1168.1 1155.4v-2.6M1243.0 928.5v5M1243.0 1155.4v-5M120.0 1155.4v5M120.0 1382.8v-5M194.9 1155.4v2.6M194.9 1382.8v-2.6M269.7 1155.4v2.6M269.7 1382.8v-2.6M344.6 1155.4v5M344.6 1382.8v-5M419.5 1155.4v2.6M419.5 1382.8v-2.6M494.3 1155.4v2.6M494.3 1382.8v-2.6M569.2 1155.4v5M569.2 1382.8v-5M644.1 1155.4v2.6M644.1 1382.8v-2.6M718.9 1155.4v2.6M718.9 1382.8v-2.6M793.8 1155.4v5M793.8 1382.8v-5M868.7 1155.4v2.6M868.7 1382.8v-2.6M943.5 1155.4v2.6M943.5 1382.8v-2.6M1018.4 1155.4v5M1018.4 1382.8v-5M1093.3 1155.4v2.6M1093.3 1382.8v-2.6M1168.1 1155.4v2.6M1168.1 1382.8v-2.6M1243.0 1155.4v5M1243.0 1382.8v-5M120.0 1382.8v5M120.0 1610.1v-5M194.9 1382.8v2.6M194.9 1610.1v-2.6M269.7 1382.8v2.6M269.7 1610.1v-2.6M344.6 1382.8v5M344.6 1610.1v-5M419.5 1382.8v2.6M419.5 1610.1v-2.6M494.3 1382.8v2.6M494.3 1610.1v-2.6M569.2 1382.8v5M569.2 1610.1v-5M644.1 1382.8v2.6M644.1 1610.1v-2.6M718.9 1382.8v2.6M718.9 1610.1v-2.6M793.8 1382.8v5M793.8 1610.1v-5M868.7 1382.8v2.6M868.7 1610.1v-2.6M943.5 1382.8v2.6M943.5 1610.1v-2.6M1018.4 1382.8v5M1018.4 1610.1v-5M1093.3 1382.8v2.6M1093.3 1610.1v-2.6M1168.1 1382.8v2.6M1168.1 1610.1v-2.6M1243.0 1382.8v5M1243.0 1610.1v-5M120.0 1610.1v5M120.0 1837.6v-5M194.9 1610.1v2.6M194.9 1837.6v-2.6M269.7 1610.1v2.6M269.7 1837.6v-2.6M344.6 1610.1v5M344.6 1837.6v-5M419.5 1610.1v2.6M419.5 1837.6v-2.6M494.3 1610.1v2.6M494.3 1837.6v-2.6M569.2 1610.1v5M569.2 1837.6v-5M644.1 1610.1v2.6M644.1 1837.6v-2.6M718.9 1610.1v2.6M718.9 1837.6v-2.6M793.8 1610.1v5M793.8 1837.6v-5M868.7 1610.1v2.6M868.7 1837.6v-2.6M943.5 1610.1v2.6M943.5 1837.6v-2.6M1018.4 1610.1v5M1018.4 1837.6v-5M1093.3 1610.1v2.6M1093.3 1837.6v-2.6M1168.1 1610.1v2.6M1168.1 1837.6v-2.6M1243.0 1610.1v5M1243.0 1837.6v-5M120.0 1837.6v5M120.0 2065.0v-5M194.9 1837.6v2.6M194.9 2065.0v-2.6M269.7 1837.6v2.6M269.7 2065.0v-2.6M344.6 1837.6v5M344.6 2065.0v-5M419.5 1837.6v2.6M419.5 2065.0v-2.6M494.3 1837.6v2.6M494.3 2065.0v-2.6M569.2 1837.6v5M569.2 2065.0v-5M644.1 1837.6v2.6M644.1 2065.0v-2.6M718.9 1837.6v2.6M718.9 2065.0v-2.6M793.8 1837.6v5M793.8 2065.0v-5M868.7 1837.6v2.6M868.7 2065.0v-2.6M943.5 1837.6v2.6M943.5 2065.0v-2.6M1018.4 1837.6v5M1018.4 2065.0v-5M1093.3 1837.6v2.6M1093.3 2065.0v-2.6M1168.1 1837.6v2.6M1168.1 2065.0v-2.6M1243.0 1837.6v5M1243.0 2065.0v-5" stroke="#262626" stroke-width="1.3"/>
<path d="M120.0 1146.4h11M1243.0 1146.4h-11M120.0 1139.0h11M1243.0 1139.0h-11M120.0 1133.0h11M1243.0 1133.0h-11M120.0 1127.9h11M1243.0 1127.9h-11M120.0 1123.5h11M1243.0 1123.5h-11M120.0 1119.7h11M1243.0 1119.7h-11M120.0 1116.2h22M1243.0 1116.2h-22M120.0 1093.4h11M1243.0 1093.4h-11M120.0 1080.0h11M1243.0 1080.0h-11M120.0 1070.6h11M1243.0 1070.6h-11M120.0 1063.2h11M1243.0 1063.2h-11M120.0 1057.2h11M1243.0 1057.2h-11M120.0 1052.1h11M1243.0 1052.1h-11M120.0 1047.7h11M1243.0 1047.7h-11M120.0 1043.9h11M1243.0 1043.9h-11M120.0 1040.4h22M1243.0 1040.4h-22M120.0 1017.6h11M1243.0 1017.6h-11M120.0 1004.2h11M1243.0 1004.2h-11M120.0 994.8h11M1243.0 994.8h-11M120.0 987.4h11M1243.0 987.4h-11M120.0 981.4h11M1243.0 981.4h-11M120.0 976.3h11M1243.0 976.3h-11M120.0 971.9h11M1243.0 971.9h-11M120.0 968.1h11M1243.0 968.1h-11M120.0 964.6h22M1243.0 964.6h-22M120.0 941.8h11M1243.0 941.8h-11M120.0 1373.6h11M1243.0 1373.6h-11M120.0 1366.2h11M1243.0 1366.2h-11M120.0 1360.2h11M1243.0 1360.2h-11M120.0 1355.1h11M1243.0 1355.1h-11M120.0 1350.7h11M1243.0 1350.7h-11M120.0 1346.9h11M1243.0 1346.9h-11M120.0 1343.4h22M1243.0 1343.4h-22M120.0 1320.6h11M1243.0 1320.6h-11M120.0 1307.2h11M1243.0 1307.2h-11M120.0 1297.8h11M1243.0 1297.8h-11M120.0 1290.4h11M1243.0 1290.4h-11M120.0 1284.4h11M1243.0 1284.4h-11M120.0 1279.3h11M1243.0 1279.3h-11M120.0 1274.9h11M1243.0 1274.9h-11M120.0 1271.1h11M1243.0 1271.1h-11M120.0 1267.6h22M1243.0 1267.6h-22M120.0 1244.8h11M1243.0 1244.8h-11M120.0 1231.4h11M1243.0 1231.4h-11M120.0 1222.0h11M1243.0 1222.0h-11M120.0 1214.6h11M1243.0 1214.6h-11M120.0 1208.6h11M1243.0 1208.6h-11M120.0 1203.5h11M1243.0 1203.5h-11M120.0 1199.1h11M1243.0 1199.1h-11M120.0 1195.3h11M1243.0 1195.3h-11M120.0 1191.8h22M1243.0 1191.8h-22M120.0 1169.0h11M1243.0 1169.0h-11" stroke="#262626" stroke-width="1.3"/>
<path d="M120.0 1581.6h11M1243.0 1581.6h-11M120.0 1553.2h11M1243.0 1553.2h-11M120.0 1524.7h11M1243.0 1524.7h-11M120.0 1496.3h22M1243.0 1496.3h-22M120.0 1467.9h11M1243.0 1467.9h-11M120.0 1439.4h11M1243.0 1439.4h-11M120.0 1411.0h11M1243.0 1411.0h-11M120.0 1809.2h11M1243.0 1809.2h-11M120.0 1780.8h11M1243.0 1780.8h-11M120.0 1752.3h11M1243.0 1752.3h-11M120.0 1723.9h22M1243.0 1723.9h-22M120.0 1695.5h11M1243.0 1695.5h-11M120.0 1667.0h11M1243.0 1667.0h-11M120.0 1638.6h11M1243.0 1638.6h-11M120.0 2057.4h11M1243.0 2057.4h-11M120.0 2036.2h22M1243.0 2036.2h-22M120.0 2015.0h11M1243.0 2015.0h-11M120.0 1993.7h11M1243.0 1993.7h-11M120.0 1972.5h11M1243.0 1972.5h-11M120.0 1951.2h22M1243.0 1951.2h-22M120.0 1930.0h11M1243.0 1930.0h-11M120.0 1908.7h11M1243.0 1908.7h-11M120.0 1887.5h11M1243.0 1887.5h-11M120.0 1866.2h22M1243.0 1866.2h-22M120.0 1845.0h11M1243.0 1845.0h-11" stroke="#707070" stroke-width="1.6"/>
</g>
<text transform="translate(63.6 973.6) scale(1.04 1)" font-size="29.5" fill="#3a3a3a">10<tspan dy="-16.5" font-size="19.5">4</tspan></text>
<text transform="translate(63.6 1047.8) scale(1.04 1)" font-size="29.5" fill="#3a3a3a">10<tspan dy="-16.5" font-size="19.5">3</tspan></text>
<text transform="translate(63.6 1122.8) scale(1.04 1)" font-size="29.5" fill="#3a3a3a">10<tspan dy="-16.5" font-size="19.5">2</tspan></text>
<text transform="translate(63.6 1199.9) scale(1.04 1)" font-size="29.5" fill="#3a3a3a">10<tspan dy="-16.5" font-size="19.5">4</tspan></text>
<text transform="translate(63.6 1275.0) scale(1.04 1)" font-size="29.5" fill="#3a3a3a">10<tspan dy="-16.5" font-size="19.5">3</tspan></text>
<text transform="translate(63.6 1350.3) scale(1.04 1)" font-size="29.5" fill="#3a3a3a">10<tspan dy="-16.5" font-size="19.5">2</tspan></text>
<text transform="translate(108.3 1399.4) scale(1.04 1)" font-size="29.5" fill="#3a3a3a" text-anchor="end">2</text>
<text transform="translate(108.3 1506.4) scale(1.04 1)" font-size="29.5" fill="#3a3a3a" text-anchor="end">0</text>
<text transform="translate(108.3 1610.5) scale(1.04 1)" font-size="29.5" fill="#3a3a3a" text-anchor="end">-2</text>
<text transform="translate(108.3 1626.0) scale(1.04 1)" font-size="29.5" fill="#3a3a3a" text-anchor="end">2</text>
<text transform="translate(108.3 1737.6) scale(1.04 1)" font-size="29.5" fill="#3a3a3a" text-anchor="end">0</text>
<text transform="translate(108.3 1837.6) scale(1.04 1)" font-size="29.5" fill="#3a3a3a" text-anchor="end">-2</text>
<text transform="translate(107.8 1875.6) scale(1.04 1)" font-size="29.5" fill="#3a3a3a" text-anchor="end">0.3</text>
<text transform="translate(107.8 1961.2) scale(1.04 1)" font-size="29.5" fill="#3a3a3a" text-anchor="end">0.0</text>
<text transform="translate(107.8 2046.4) scale(1.04 1)" font-size="29.5" fill="#3a3a3a" text-anchor="end">-0.3</text>
<text transform="translate(30.0 1042.0) rotate(-90) scale(1 1)" text-anchor="middle" font-size="30" fill="#3a3a3a" textLength="107.5" lengthAdjust="spacingAndGlyphs">Ion (eV)</text>
<text transform="translate(30.0 1269.0) rotate(-90) scale(1 1)" text-anchor="middle" font-size="30" fill="#3a3a3a" textLength="175.5" lengthAdjust="spacingAndGlyphs">Electron (eV)</text>
<text transform="translate(47.0 1497.5) rotate(-90) scale(1.035 1)" text-anchor="middle" font-size="30" fill="#3a3a3a">V<tspan dy="9.4" font-size="18.6">H</tspan><tspan dy="-9.4"> (km/s)</tspan></text>
<text transform="translate(47.0 1724.0) rotate(-90) scale(1.035 1)" text-anchor="middle" font-size="30" fill="#3a3a3a">V<tspan dy="9.4" font-size="18.6">V</tspan><tspan dy="-9.4"> (km/s)</tspan></text>
<text transform="translate(44.7 1951.5) rotate(-90) scale(1.035 1)" text-anchor="middle" font-size="30" fill="#3a3a3a">FAC (<tspan font-style="italic">μ</tspan>A/m<tspan dy="-17.5" font-size="20">2</tspan><tspan dy="17.5">)</tspan></text>
<text transform="translate(1.0 2098.6) scale(1.04 1)" font-size="29.5" fill="#3a3a3a">UT</text>
<text transform="translate(119.7 2098.6) scale(1.04 1)" font-size="29.5" fill="#3a3a3a" text-anchor="middle">1012</text>
<text transform="translate(344.3 2098.6) scale(1.04 1)" font-size="29.5" fill="#3a3a3a" text-anchor="middle">1015</text>
<text transform="translate(568.9 2098.6) scale(1.04 1)" font-size="29.5" fill="#3a3a3a" text-anchor="middle">1018</text>
<text transform="translate(793.5 2098.6) scale(1.04 1)" font-size="29.5" fill="#3a3a3a" text-anchor="middle">1021</text>
<text transform="translate(1018.1 2098.6) scale(1.04 1)" font-size="29.5" fill="#3a3a3a" text-anchor="middle">1024</text>
<text transform="translate(1242.7 2098.6) scale(1.04 1)" font-size="29.5" fill="#3a3a3a" text-anchor="middle">1027</text>
<text transform="translate(1.0 2132.9) scale(1.04 1)" font-size="29.5" fill="#3a3a3a">MLAT</text>
<text transform="translate(119.7 2132.9) scale(1.04 1)" font-size="29.5" fill="#3a3a3a" text-anchor="middle">62.5</text>
<text transform="translate(344.3 2132.9) scale(1.04 1)" font-size="29.5" fill="#3a3a3a" text-anchor="middle">71.5</text>
<text transform="translate(568.9 2132.9) scale(1.04 1)" font-size="29.5" fill="#3a3a3a" text-anchor="middle">78.1</text>
<text transform="translate(793.5 2132.9) scale(1.04 1)" font-size="29.5" fill="#3a3a3a" text-anchor="middle">78.7</text>
<text transform="translate(1018.1 2132.9) scale(1.04 1)" font-size="29.5" fill="#3a3a3a" text-anchor="middle">72.7</text>
<text transform="translate(1242.7 2132.9) scale(1.04 1)" font-size="29.5" fill="#3a3a3a" text-anchor="middle">64.1</text>
<text transform="translate(1.0 2167.4) scale(1.04 1)" font-size="29.5" fill="#3a3a3a">MLT</text>
<text transform="translate(119.7 2167.4) scale(1.04 1)" font-size="29.5" fill="#3a3a3a" text-anchor="middle">16.4</text>
<text transform="translate(344.3 2167.4) scale(1.04 1)" font-size="29.5" fill="#3a3a3a" text-anchor="middle">15.5</text>
<text transform="translate(568.9 2167.4) scale(1.04 1)" font-size="29.5" fill="#3a3a3a" text-anchor="middle">13.6</text>
<text transform="translate(793.5 2167.4) scale(1.04 1)" font-size="29.5" fill="#3a3a3a" text-anchor="middle">10.3</text>
<text transform="translate(1018.1 2167.4) scale(1.04 1)" font-size="29.5" fill="#3a3a3a" text-anchor="middle">8.3</text>
<text transform="translate(1242.7 2167.4) scale(1.04 1)" font-size="29.5" fill="#3a3a3a" text-anchor="middle">7.4</text>
</svg>
</body></html>
